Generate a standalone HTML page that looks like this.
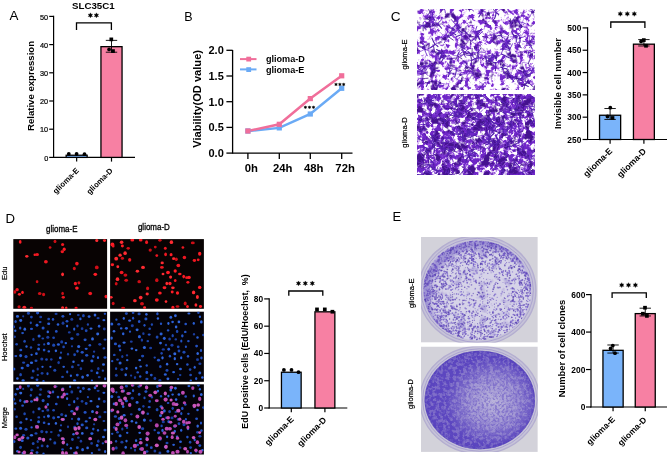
<!DOCTYPE html>
<html><head><meta charset="utf-8"><style>
html,body{margin:0;padding:0;background:#fff;}
body{width:669px;height:457px;position:relative;overflow:hidden;font-family:"Liberation Sans", sans-serif;}
</style></head><body>
<svg width="669" height="457" viewBox="0 0 669 457" style="position:absolute;left:0;top:0;will-change:transform" font-family='"Liberation Sans", sans-serif'>
<rect width="669" height="457" fill="#fff"/>
<defs>
<filter id="soft" x="-5%" y="-5%" width="110%" height="110%"><feGaussianBlur stdDeviation="0.35"/></filter>
<filter id="cvE" x="0" y="0" width="100%" height="100%" color-interpolation-filters="sRGB">
 <feTurbulence type="fractalNoise" baseFrequency="0.2" numOctaves="3" seed="5" result="n"/>
 <feColorMatrix in="n" type="matrix" values="0 0 0 0 0.78  0 0 0 0 0.56  0 0 0 0 0.95  7 0 0 0 -3.3" result="h"/>
 <feColorMatrix in="n" type="matrix" values="0 0 0 0 0.45  0 0 0 0 0.16  0 0 0 0 0.80  8 0 0 0 -4.4" result="p"/>
 <feTurbulence type="fractalNoise" baseFrequency="0.1" numOctaves="3" seed="9" result="n2"/>
 <feColorMatrix in="n2" type="matrix" values="0 0 0 0 0.28  0 0 0 0 0.07  0 0 0 0 0.58  7 0 0 0 -4.1" result="q"/>
 <feFlood flood-color="#ffffff" result="w"/>
 <feComposite in="h" in2="w" operator="over" result="hw"/>
 <feComposite in="p" in2="hw" operator="over" result="pw"/>
 <feComposite in="q" in2="pw" operator="over" result="all"/>
 <feGaussianBlur in="all" stdDeviation="0.3"/>
</filter>
<filter id="cvD" x="0" y="0" width="100%" height="100%" color-interpolation-filters="sRGB">
 <feTurbulence type="fractalNoise" baseFrequency="0.22" numOctaves="3" seed="15" result="n"/>
 <feColorMatrix in="n" type="matrix" values="0 0 0 0 0.76  0 0 0 0 0.54  0 0 0 0 0.94  7 0 0 0 -2.7" result="h"/>
 <feColorMatrix in="n" type="matrix" values="0 0 0 0 0.43  0 0 0 0 0.15  0 0 0 0 0.78  8 0 0 0 -3.6" result="p"/>
 <feTurbulence type="fractalNoise" baseFrequency="0.12" numOctaves="3" seed="19" result="n2"/>
 <feColorMatrix in="n2" type="matrix" values="0 0 0 0 0.27  0 0 0 0 0.07  0 0 0 0 0.56  7 0 0 0 -3.6" result="q"/>
 <feFlood flood-color="#ffffff" result="w"/>
 <feComposite in="h" in2="w" operator="over" result="hw"/>
 <feComposite in="p" in2="hw" operator="over" result="pw"/>
 <feComposite in="q" in2="pw" operator="over" result="all"/>
 <feGaussianBlur in="all" stdDeviation="0.3"/>
</filter>
<filter id="speck" x="0" y="0" width="100%" height="100%" color-interpolation-filters="sRGB">
 <feTurbulence type="fractalNoise" baseFrequency="0.5" numOctaves="2" seed="23" result="n"/>
 <feColorMatrix in="n" type="matrix" values="0 0 0 0 0.40  0 0 0 0 0.33  0 0 0 0 0.76  5 0 0 0 -2.55" result="s"/>
 <feGaussianBlur in="s" stdDeviation="0.4"/>
</filter>
<filter id="speck2" x="0" y="0" width="100%" height="100%" color-interpolation-filters="sRGB">
 <feTurbulence type="fractalNoise" baseFrequency="0.45" numOctaves="2" seed="29" result="n"/>
 <feColorMatrix in="n" type="matrix" values="0 0 0 0 0.38  0 0 0 0 0.30  0 0 0 0 0.76  5 0 0 0 -2.3" result="s"/>
 <feGaussianBlur in="s" stdDeviation="0.4"/>
</filter>
<filter id="mottleD" x="0" y="0" width="100%" height="100%" color-interpolation-filters="sRGB">
 <feTurbulence type="fractalNoise" baseFrequency="0.3" numOctaves="2" seed="41" result="n"/>
 <feColorMatrix in="n" type="matrix" values="0 0 0 0 0.76  0 0 0 0 0.74  0 0 0 0 0.86  6 0 0 0 -2.6" result="s"/>
 <feGaussianBlur in="s" stdDeviation="0.5"/>
</filter>
<filter id="mottleE" x="0" y="0" width="100%" height="100%" color-interpolation-filters="sRGB">
 <feTurbulence type="fractalNoise" baseFrequency="0.09" numOctaves="3" seed="43" result="n"/>
 <feColorMatrix in="n" type="matrix" values="0 0 0 0 0.42  0 0 0 0 0.34  0 0 0 0 0.76  5 0 0 0 -2.9" result="s"/>
 <feGaussianBlur in="s" stdDeviation="0.6"/>
</filter>
<radialGradient id="lightC" cx="55%" cy="50%" r="50%">
 <stop offset="0" stop-color="#c8c4e0" stop-opacity="0.85"/><stop offset="0.55" stop-color="#c0bade" stop-opacity="0.55"/><stop offset="1" stop-color="#b0a8d8" stop-opacity="0"/>
</radialGradient>
<filter id="blur1" x="-10%" y="-10%" width="120%" height="120%"><feGaussianBlur stdDeviation="2.5"/></filter>
<filter id="blur2" x="-20%" y="-20%" width="140%" height="140%"><feGaussianBlur stdDeviation="5"/></filter>
<radialGradient id="plE" cx="50%" cy="52%" r="50%">
 <stop offset="0" stop-color="#cfcbe2"/><stop offset="0.8" stop-color="#c4bfe0"/><stop offset="0.95" stop-color="#9e92d2"/><stop offset="1" stop-color="#7a6cc4"/>
</radialGradient>
<radialGradient id="plD" cx="55%" cy="48%" r="50%">
 <stop offset="0" stop-color="#b8b2dc"/><stop offset="0.55" stop-color="#a096d4"/><stop offset="1" stop-color="#6a5cc4"/>
</radialGradient>
</defs>
<text x="9.6" y="20.3" font-size="13.4" font-weight="normal" text-anchor="start" fill="#000">A</text>
<text x="93.3" y="9.1" font-size="9.7" font-weight="bold" text-anchor="middle" fill="#000">SLC35C1</text>
<line x1="53.6" y1="15.799999999999999" x2="53.6" y2="158.0" stroke="#000" stroke-width="1.2"/>
<line x1="53.0" y1="157.4" x2="135" y2="157.4" stroke="#000" stroke-width="1.2"/>
<line x1="49.2" y1="157.4" x2="53.6" y2="157.4" stroke="#000" stroke-width="1.2"/>
<text x="48.2" y="160.5" font-size="7.3" font-weight="normal" text-anchor="end" fill="#000" stroke="#000" stroke-width="0.2">0</text>
<line x1="49.2" y1="129.20000000000002" x2="53.6" y2="129.20000000000002" stroke="#000" stroke-width="1.2"/>
<text x="48.2" y="132.3" font-size="7.3" font-weight="normal" text-anchor="end" fill="#000" stroke="#000" stroke-width="0.2">10</text>
<line x1="49.2" y1="101.0" x2="53.6" y2="101.0" stroke="#000" stroke-width="1.2"/>
<text x="48.2" y="104.1" font-size="7.3" font-weight="normal" text-anchor="end" fill="#000" stroke="#000" stroke-width="0.2">20</text>
<line x1="49.2" y1="72.80000000000001" x2="53.6" y2="72.80000000000001" stroke="#000" stroke-width="1.2"/>
<text x="48.2" y="75.9" font-size="7.3" font-weight="normal" text-anchor="end" fill="#000" stroke="#000" stroke-width="0.2">30</text>
<line x1="49.2" y1="44.60000000000001" x2="53.6" y2="44.60000000000001" stroke="#000" stroke-width="1.2"/>
<text x="48.2" y="47.70000000000001" font-size="7.3" font-weight="normal" text-anchor="end" fill="#000" stroke="#000" stroke-width="0.2">40</text>
<line x1="49.2" y1="16.400000000000006" x2="53.6" y2="16.400000000000006" stroke="#000" stroke-width="1.2"/>
<text x="48.2" y="19.500000000000007" font-size="7.3" font-weight="normal" text-anchor="end" fill="#000" stroke="#000" stroke-width="0.2">50</text>
<rect x="66.15" y="155.23000000000002" width="20.999999999999996" height="2.1699999999999933" fill="#7ab4fa" stroke="#000" stroke-width="1.3"/>
<line x1="76.65" y1="157.4" x2="76.65" y2="161.6" stroke="#000" stroke-width="1.2"/>
<circle cx="68.8" cy="153.88" r="1.9" fill="#000"/>
<circle cx="76.6" cy="154.02" r="1.9" fill="#000"/>
<circle cx="84.5" cy="154.16" r="1.9" fill="#000"/>
<text x="79.4" y="171.0" font-size="7.8" font-weight="bold" text-anchor="end" fill="#000" transform="rotate(-45 79.4 171.0)">glioma-E</text>
<rect x="100.95" y="46.660000000000004" width="21.100000000000005" height="110.74" fill="#f780a3" stroke="#000" stroke-width="1.3"/>
<line x1="111.5" y1="157.4" x2="111.5" y2="161.6" stroke="#000" stroke-width="1.2"/>
<line x1="111.5" y1="52.21400000000001" x2="111.5" y2="40.37000000000002" stroke="#000" stroke-width="0.9"/>
<line x1="105.8" y1="52.21400000000001" x2="117.2" y2="52.21400000000001" stroke="#000" stroke-width="0.9"/>
<line x1="105.8" y1="40.37000000000002" x2="117.2" y2="40.37000000000002" stroke="#000" stroke-width="0.9"/>
<rect x="109.45" y="37.53" width="3.7" height="3.7" fill="#000"/>
<circle cx="109.1" cy="49.39" r="1.9" fill="#000"/>
<rect x="111.15" y="49.24" width="3.7" height="3.7" fill="#000"/>
<text x="113.3" y="171.2" font-size="7.8" font-weight="bold" text-anchor="end" fill="#000" transform="rotate(-45 113.3 171.2)">glioma-D</text>
<polyline points="76.5,30.0 76.5,22.8 111.4,22.8 111.4,30.0" fill="none" stroke="#000" stroke-width="1.3"/>
<polygon points="90.40,12.85 91.03,14.27 92.57,14.10 91.65,15.35 92.57,16.60 91.03,16.43 90.40,17.85 89.78,16.43 88.23,16.60 89.15,15.35 88.23,14.10 89.78,14.27" fill="#000" stroke="#000" stroke-width="0.35" stroke-linejoin="round"/>
<polygon points="96.40,12.85 97.03,14.27 98.57,14.10 97.65,15.35 98.57,16.60 97.03,16.43 96.40,17.85 95.78,16.43 94.23,16.60 95.15,15.35 94.23,14.10 95.78,14.27" fill="#000" stroke="#000" stroke-width="0.35" stroke-linejoin="round"/>
<text x="33.6" y="86.0" font-size="9.6" font-weight="bold" text-anchor="middle" fill="#000" transform="rotate(-90 33.6 86.0)">Relative expression</text>
<text x="184.3" y="21.3" font-size="12.5" font-weight="normal" text-anchor="start" fill="#000">B</text>
<line x1="232.6" y1="50.0" x2="232.6" y2="153.7" stroke="#000" stroke-width="1.3"/>
<line x1="232.6" y1="153.1" x2="352.5" y2="153.1" stroke="#000" stroke-width="1.3"/>
<line x1="226.4" y1="153.1" x2="232.6" y2="153.1" stroke="#000" stroke-width="1.3"/>
<text x="223.8" y="157.0" font-size="11.0" font-weight="bold" text-anchor="end" fill="#000">0.0</text>
<line x1="226.4" y1="127.39999999999999" x2="232.6" y2="127.39999999999999" stroke="#000" stroke-width="1.3"/>
<text x="223.8" y="131.29999999999998" font-size="11.0" font-weight="bold" text-anchor="end" fill="#000">0.5</text>
<line x1="226.4" y1="101.69999999999999" x2="232.6" y2="101.69999999999999" stroke="#000" stroke-width="1.3"/>
<text x="223.8" y="105.6" font-size="11.0" font-weight="bold" text-anchor="end" fill="#000">1.0</text>
<line x1="226.4" y1="76.0" x2="232.6" y2="76.0" stroke="#000" stroke-width="1.3"/>
<text x="223.8" y="79.9" font-size="11.0" font-weight="bold" text-anchor="end" fill="#000">1.5</text>
<line x1="226.4" y1="50.3" x2="232.6" y2="50.3" stroke="#000" stroke-width="1.3"/>
<text x="223.8" y="54.199999999999996" font-size="11.0" font-weight="bold" text-anchor="end" fill="#000">2.0</text>
<line x1="247.9" y1="153.1" x2="247.9" y2="159.1" stroke="#000" stroke-width="1.3"/>
<text x="251.3" y="171.7" font-size="11.3" font-weight="bold" text-anchor="middle" fill="#000">0h</text>
<line x1="279.3" y1="153.1" x2="279.3" y2="159.1" stroke="#000" stroke-width="1.3"/>
<text x="282.7" y="171.7" font-size="11.3" font-weight="bold" text-anchor="middle" fill="#000">24h</text>
<line x1="310.3" y1="153.1" x2="310.3" y2="159.1" stroke="#000" stroke-width="1.3"/>
<text x="313.7" y="171.7" font-size="11.3" font-weight="bold" text-anchor="middle" fill="#000">48h</text>
<line x1="341.7" y1="153.1" x2="341.7" y2="159.1" stroke="#000" stroke-width="1.3"/>
<text x="345.09999999999997" y="171.7" font-size="11.3" font-weight="bold" text-anchor="middle" fill="#000">72h</text>
<polyline points="247.9,131.0 279.3,127.9 310.3,114.0 341.7,88.3" fill="none" stroke="#6aaaf5" stroke-width="2.5"/>
<polyline points="247.9,131.0 279.3,124.3 310.3,98.6 341.7,75.8" fill="none" stroke="#f06e9a" stroke-width="2.5"/>
<rect x="245.3" y="128.4" width="5.2" height="5.2" fill="#6aaaf5"/>
<rect x="276.7" y="125.3" width="5.2" height="5.2" fill="#6aaaf5"/>
<rect x="307.7" y="111.4" width="5.2" height="5.2" fill="#6aaaf5"/>
<rect x="339.09999999999997" y="85.7" width="5.2" height="5.2" fill="#6aaaf5"/>
<rect x="245.3" y="128.4" width="5.2" height="5.2" fill="#f06e9a"/>
<rect x="276.7" y="121.7" width="5.2" height="5.2" fill="#f06e9a"/>
<rect x="307.7" y="96.0" width="5.2" height="5.2" fill="#f06e9a"/>
<rect x="339.09999999999997" y="73.2" width="5.2" height="5.2" fill="#f06e9a"/>
<polygon points="305.40,105.75 305.83,106.56 306.74,106.52 306.25,107.30 306.74,108.08 305.83,108.04 305.40,108.85 304.97,108.04 304.06,108.08 304.55,107.30 304.06,106.52 304.97,106.56" fill="#000" stroke="#000" stroke-width="0.35" stroke-linejoin="round"/>
<polygon points="309.50,105.75 309.93,106.56 310.84,106.52 310.35,107.30 310.84,108.08 309.93,108.04 309.50,108.85 309.07,108.04 308.16,108.08 308.65,107.30 308.16,106.52 309.07,106.56" fill="#000" stroke="#000" stroke-width="0.35" stroke-linejoin="round"/>
<polygon points="313.50,105.75 313.93,106.56 314.84,106.52 314.35,107.30 314.84,108.08 313.93,108.04 313.50,108.85 313.07,108.04 312.16,108.08 312.65,107.30 312.16,106.52 313.07,106.56" fill="#000" stroke="#000" stroke-width="0.35" stroke-linejoin="round"/>
<polygon points="336.00,82.85 336.43,83.66 337.34,83.62 336.85,84.40 337.34,85.18 336.43,85.14 336.00,85.95 335.57,85.14 334.66,85.18 335.15,84.40 334.66,83.62 335.57,83.66" fill="#000" stroke="#000" stroke-width="0.35" stroke-linejoin="round"/>
<polygon points="339.90,82.85 340.33,83.66 341.24,83.62 340.75,84.40 341.24,85.18 340.33,85.14 339.90,85.95 339.47,85.14 338.56,85.18 339.05,84.40 338.56,83.62 339.47,83.66" fill="#000" stroke="#000" stroke-width="0.35" stroke-linejoin="round"/>
<polygon points="343.70,82.85 344.13,83.66 345.04,83.62 344.55,84.40 345.04,85.18 344.13,85.14 343.70,85.95 343.27,85.14 342.36,85.18 342.85,84.40 342.36,83.62 343.27,83.66" fill="#000" stroke="#000" stroke-width="0.35" stroke-linejoin="round"/>
<line x1="240" y1="59.1" x2="256.5" y2="59.1" stroke="#f06e9a" stroke-width="2.0"/>
<rect x="246.3" y="56.7" width="4.8" height="4.8" fill="#f06e9a"/>
<line x1="240" y1="69.4" x2="256.5" y2="69.4" stroke="#6aaaf5" stroke-width="2.0"/>
<rect x="246.3" y="67.2" width="4.8" height="4.8" fill="#6aaaf5"/>
<text x="265.9" y="62.1" font-size="9.1" font-weight="bold" text-anchor="start" fill="#000">glioma-D</text>
<text x="265.9" y="72.6" font-size="9.1" font-weight="bold" text-anchor="start" fill="#000">glioma-E</text>
<text x="201.4" y="98.9" font-size="11.1" font-weight="bold" text-anchor="middle" fill="#000" transform="rotate(-90 201.4 98.9)">Viability(OD value)</text>
<text x="390.8" y="21.0" font-size="13.6" font-weight="normal" text-anchor="start" fill="#000">C</text>
<text x="407.3" y="54.5" font-size="7.6" font-weight="normal" text-anchor="middle" fill="#000" transform="rotate(-90 407.3 54.5)" stroke="#000" stroke-width="0.2">glioma-E</text>
<text x="407.3" y="132.5" font-size="7.6" font-weight="normal" text-anchor="middle" fill="#000" transform="rotate(-90 407.3 132.5)" stroke="#000" stroke-width="0.2">glioma-D</text>
<clipPath id="cc1"><rect x="417" y="9" width="117.5" height="81"/></clipPath>
<clipPath id="cc2"><rect x="417" y="94" width="117.5" height="81"/></clipPath>
<rect x="417" y="9" width="117.5" height="81" filter="url(#cvE)"/>
<g clip-path="url(#cc1)" filter="url(#soft)"><path d="M485.6 23.6Q483.4 23.3 482.0 23.7M505.5 42.6Q505.5 39.8 504.3 37.7M444.9 56.1Q448.5 57.9 451.5 58.9M432.8 67.7Q435.2 68.1 437.0 68.5M432.8 67.7Q431.2 71.0 430.6 73.0M535.7 41.2Q538.1 39.7 540.9 37.9M535.7 41.2Q533.7 41.1 532.1 41.7M435.0 44.3Q437.3 43.3 440.6 41.5M503.5 65.2Q504.2 63.3 504.4 62.0M448.0 36.4Q444.1 36.3 441.4 37.3M448.0 36.4Q446.4 34.2 445.5 31.7M475.6 47.9Q474.1 47.9 473.3 46.6M475.6 47.9Q478.4 46.4 481.5 44.5M485.6 36.8Q484.3 39.2 483.6 40.3M439.9 83.1Q439.5 82.0 439.6 80.3M439.9 83.1Q443.2 83.6 445.5 84.1M439.9 83.1Q440.5 84.7 442.6 86.4M532.6 12.0Q530.4 14.8 529.3 17.6M532.6 12.0Q531.1 11.5 528.8 10.8M532.6 12.0Q533.4 14.8 535.0 18.1M434.6 51.7Q436.8 54.1 438.0 57.9M434.6 51.7Q433.4 53.1 430.6 53.1M528.1 82.1Q526.9 81.8 525.1 81.0M437.2 24.0Q436.5 25.1 437.0 27.7M428.7 48.6Q428.7 52.3 429.7 55.1M458.1 28.5Q456.8 31.4 454.1 32.9M477.8 52.3Q479.4 52.9 480.1 55.0M477.8 52.3Q473.7 52.5 471.0 53.2M456.3 25.1Q457.4 23.3 458.6 20.6M504.5 73.1Q503.7 71.6 503.2 68.8M476.8 36.3Q478.4 36.6 479.1 38.1M476.8 36.3Q478.1 37.4 479.2 39.5M450.9 59.1Q449.3 56.7 448.2 55.8M450.9 59.1Q454.5 58.2 457.6 57.7M449.4 68.4Q447.0 68.1 445.4 66.9M492.5 55.6Q491.4 59.4 490.0 62.4M492.5 55.6Q490.7 54.2 489.7 52.6M492.5 55.6Q493.6 53.9 495.3 52.3M461.5 46.7Q462.3 48.9 461.6 50.2M461.5 46.7Q460.1 48.9 457.3 51.1M461.3 34.8Q461.4 30.7 460.8 27.4M461.3 34.8Q465.1 33.0 468.1 31.9M461.3 34.8Q461.6 37.6 462.2 39.8M518.4 78.7Q518.2 76.2 517.3 74.4M433.5 24.6Q431.2 22.3 429.2 20.0M433.5 24.6Q436.2 24.1 438.5 25.1M460.5 74.7Q459.2 76.5 456.8 79.1M431.0 20.1Q428.5 16.7 427.0 14.9M431.0 20.1Q433.2 17.2 436.4 15.5M431.0 20.1Q431.7 22.1 432.7 24.6M465.1 52.2Q464.2 50.9 462.7 49.6M465.1 52.2Q467.3 53.5 469.9 53.4M529.6 42.3Q529.4 38.6 529.7 35.4M496.0 57.7Q498.8 56.4 500.9 54.4M496.0 57.7Q492.6 59.6 490.7 60.0M496.0 57.7Q494.3 56.1 493.9 54.6M519.2 21.8Q520.1 19.6 520.4 18.9M519.2 21.8Q518.9 26.0 519.0 29.0M519.2 21.8Q516.9 22.0 515.4 21.0M483.2 84.3Q483.6 82.6 484.8 82.3M483.2 84.3Q481.1 82.8 479.4 81.7M429.7 17.6Q431.3 19.5 431.9 20.1M429.7 17.6Q428.1 17.2 427.1 16.7M472.7 73.1Q475.5 72.8 478.7 71.0M472.7 73.1Q471.4 75.7 469.5 79.1M514.0 36.3Q512.5 37.0 510.1 37.0M514.0 36.3Q516.7 35.0 519.7 33.4M493.0 55.8Q492.4 58.7 490.6 60.6M520.8 26.5Q523.4 26.0 525.1 27.1M475.5 31.8Q476.6 33.9 478.6 37.6M475.5 31.8Q472.3 33.1 470.2 34.7M469.5 8.6Q471.5 6.0 472.7 3.5M469.5 8.6Q469.1 10.0 469.4 11.2M469.5 8.6Q466.1 7.7 464.1 6.1M469.5 8.6Q468.7 6.8 468.4 4.1M510.7 23.7Q509.9 23.4 508.1 23.6M415.3 37.8Q415.0 34.5 415.1 32.0M449.1 72.8Q446.8 74.8 445.5 75.6M470.0 35.9Q468.8 37.8 468.6 40.6M470.0 35.9Q468.3 35.7 467.0 34.9M523.0 76.2Q520.3 73.4 519.0 70.0M523.0 76.2Q522.8 79.3 522.5 82.7M488.3 13.8Q489.2 12.4 488.8 10.8M478.8 57.8Q481.4 58.0 485.2 58.9M478.8 57.8Q477.5 56.8 474.7 54.3M422.8 78.8Q419.9 78.8 418.1 78.2M415.1 72.0Q413.1 70.3 411.4 69.0M415.1 72.0Q416.8 72.3 419.6 73.0M415.1 72.0Q414.0 75.4 413.7 77.4M525.6 72.1Q527.4 70.8 530.1 68.6M442.3 53.1Q443.1 51.4 442.6 50.4M506.5 40.6Q502.9 41.4 500.2 41.3M432.4 81.5Q432.2 78.0 432.8 74.5M432.4 81.5Q432.3 85.6 432.8 88.2M422.5 71.2Q422.4 73.5 423.2 74.2M520.0 37.9Q518.6 39.1 516.6 39.0M461.4 80.8Q458.1 81.9 455.7 83.4M461.4 80.8Q457.8 80.1 455.5 78.4M463.9 54.5Q461.4 55.3 458.2 56.7M466.6 63.6Q468.5 66.8 469.8 70.1M466.6 63.6Q466.2 67.0 464.4 68.9M478.0 91.4Q474.8 90.2 472.5 89.6M470.7 40.4Q471.9 42.4 474.4 43.4M494.0 34.1Q494.2 32.5 494.0 30.3M494.0 34.1Q497.0 32.5 498.8 31.5M494.0 34.1Q491.5 35.1 487.9 35.6M457.4 55.8Q454.8 56.1 452.0 54.8M482.1 10.8Q485.0 12.1 486.4 13.9M482.1 10.8Q484.1 10.6 486.0 11.9M504.3 43.9Q503.0 45.5 502.7 47.7M504.3 43.9Q502.1 45.2 500.6 47.1M504.3 43.9Q503.0 41.5 502.1 38.5M456.5 70.0Q455.3 68.7 454.2 66.5M424.5 49.3Q421.6 51.0 419.2 52.1M424.5 49.3Q426.6 49.7 428.3 50.5M453.1 29.3Q454.7 29.7 455.8 30.3" fill="none" stroke="#7a34d0" stroke-width="0.7" stroke-linecap="round"/>
<path d="M485.6 23.6Q483.7 21.2 482.6 19.9M485.6 23.6Q487.4 22.1 489.3 21.2M485.6 23.6Q485.4 26.2 484.0 29.1M444.9 56.1Q442.8 55.8 442.0 55.1M421.7 64.1Q424.5 66.1 425.7 67.0M421.7 64.1Q419.7 64.0 419.2 65.2M421.7 64.1Q424.1 62.2 427.4 59.8M503.5 65.2Q500.2 66.8 497.8 69.6M485.6 36.8Q484.0 33.7 481.2 31.4M485.6 36.8Q486.1 33.7 487.8 31.9M452.6 33.1Q450.9 35.2 449.4 36.4M452.6 33.1Q451.2 31.5 449.1 30.5M421.2 73.8Q422.6 75.2 423.5 75.9M428.7 48.6Q427.3 48.7 424.7 49.6M466.5 67.4Q467.1 65.0 466.8 61.1M471.4 60.4Q469.3 60.8 465.6 61.6M459.9 91.3Q458.4 90.4 457.0 88.8M477.8 52.3Q475.9 50.9 475.1 49.4M456.3 25.1Q455.1 28.8 454.8 31.8M531.8 70.7Q535.7 72.2 538.9 72.7M515.9 36.7Q514.5 37.4 513.0 37.5M504.5 73.1Q501.2 75.2 498.0 76.0M476.8 36.3Q474.6 37.2 471.0 36.9M516.0 77.7Q516.4 74.1 516.5 70.7M449.4 68.4Q447.8 68.5 446.9 69.9M533.1 68.6Q533.1 67.8 533.6 65.5M533.1 68.6Q536.6 69.2 539.7 70.5M492.5 55.6Q494.3 53.9 497.7 51.7M461.5 46.7Q458.4 45.9 455.4 43.9M461.5 46.7Q461.5 44.8 463.0 42.8M442.7 56.7Q441.2 55.8 438.8 53.6M518.4 78.7Q517.9 81.4 518.4 83.7M518.4 78.7Q520.3 76.2 521.9 72.5M433.5 24.6Q434.6 27.2 436.0 31.1M433.5 24.6Q434.9 23.0 436.7 19.9M460.5 74.7Q458.9 73.7 456.8 74.0M460.5 74.7Q460.0 70.9 459.8 68.2M431.0 20.1Q430.5 22.3 430.5 24.5M465.1 52.2Q463.5 54.4 461.3 56.5M531.3 55.0Q530.3 57.9 528.9 61.4M433.4 71.2Q433.7 73.1 434.6 74.2M421.4 74.2Q422.0 71.3 421.0 67.3M421.4 74.2Q421.1 77.9 421.8 81.6M421.4 74.2Q420.0 73.2 417.3 72.5M483.2 84.3Q484.6 85.7 484.6 86.6M472.3 55.4Q472.5 56.7 471.0 58.8M429.7 17.6Q433.1 17.0 436.5 17.4M429.7 17.6Q428.5 14.7 426.6 13.3M429.7 17.6Q432.2 15.7 434.2 14.0M514.0 36.3Q512.7 38.3 512.2 39.9M530.9 45.3Q533.9 44.6 537.9 43.9M520.8 26.5Q522.3 22.6 523.4 19.6M427.8 82.8Q429.3 80.1 431.6 78.1M430.3 12.2Q431.9 13.4 434.5 15.3M510.7 23.7Q511.1 25.7 512.6 27.6M510.7 23.7Q510.1 26.2 509.9 27.5M485.1 56.3Q483.4 56.2 481.0 57.0M485.1 56.3Q485.8 53.8 485.3 51.7M415.3 37.8Q416.2 38.8 418.0 40.6M506.5 56.5Q507.4 55.3 508.6 52.9M506.5 56.5Q505.5 59.5 504.1 61.4M470.0 35.9Q469.5 32.8 470.7 30.8M470.0 35.9Q471.9 37.7 475.0 40.2M443.0 35.0Q440.7 33.5 439.7 32.0M443.0 35.0Q445.2 33.5 448.7 32.4M443.0 35.0Q440.7 36.5 439.9 39.1M488.3 13.8Q485.4 12.5 482.8 10.1M488.3 13.8Q492.1 11.8 494.8 10.8M528.3 63.3Q525.6 62.8 521.9 62.3M442.3 53.1Q442.0 55.8 442.4 57.1M506.5 40.6Q505.1 38.8 502.9 37.5M432.4 81.5Q433.5 81.0 436.0 80.5M422.5 71.2Q423.6 68.5 425.6 65.8M422.5 71.2Q424.6 68.6 427.0 67.6M520.0 37.9Q522.3 35.3 523.7 32.2M526.5 75.1Q524.9 77.3 524.4 79.2M526.5 75.1Q524.5 76.5 521.2 76.3M526.5 75.1Q528.4 72.2 530.3 70.5M496.0 12.4Q498.5 11.2 502.2 8.5M496.0 12.4Q492.5 12.4 490.0 13.2M461.4 80.8Q463.3 80.6 466.7 80.2M466.6 63.6Q468.1 62.1 469.0 59.5M456.7 20.3Q454.8 20.9 453.4 21.8M478.0 91.4Q478.3 87.6 477.8 85.1M478.0 91.4Q478.0 94.6 476.5 98.1M470.7 40.4Q467.5 40.3 464.8 39.6M511.3 76.7Q512.9 75.3 513.9 74.6M494.0 34.1Q491.8 31.9 488.2 30.5M482.1 10.8Q480.3 10.4 478.6 10.8M482.1 10.8Q480.1 8.5 478.6 7.1M482.1 10.8Q483.2 9.9 484.8 9.0M442.6 52.8Q443.2 51.2 444.1 50.6M504.3 43.9Q502.5 41.6 499.3 38.7M456.5 70.0Q454.0 69.1 451.0 69.1M501.1 35.2Q504.1 36.7 507.6 37.3M501.1 35.2Q499.6 37.6 497.2 39.0M477.1 34.1Q475.8 34.3 473.3 34.0M506.8 68.9Q508.1 66.3 509.8 64.4M429.2 65.8Q430.5 64.8 432.0 64.3M424.5 49.3Q426.0 47.8 426.4 45.7" fill="none" stroke="#8a44d8" stroke-width="0.6" stroke-linecap="round"/>
<path d="M485.6 23.6Q486.9 23.6 488.3 24.5M505.5 42.6Q504.3 41.9 501.7 40.1M489.1 58.5Q489.4 57.2 488.8 55.1M519.1 46.0Q519.5 44.2 519.4 42.1M432.7 17.3Q430.1 17.6 426.9 18.3M432.8 67.7Q431.1 68.2 430.4 68.7M432.8 67.7Q432.1 65.6 431.4 65.0M432.8 67.7Q435.3 68.5 437.5 68.2M503.5 65.2Q502.9 63.1 501.9 61.0M448.0 36.4Q451.3 38.8 453.3 40.1M448.0 36.4Q449.0 33.2 451.3 31.2M485.6 36.8Q484.7 36.5 482.4 36.6M485.6 36.8Q486.3 36.6 488.0 37.5M532.6 12.0Q534.0 10.0 536.0 9.2M434.6 51.7Q434.1 47.9 433.1 44.7M434.6 51.7Q435.2 51.4 437.3 52.2M528.1 82.1Q529.7 83.8 532.4 86.5M528.1 82.1Q526.1 84.5 522.9 86.0M428.7 48.6Q429.3 45.5 429.3 43.2M458.1 28.5Q457.5 27.4 456.1 26.3M466.5 67.4Q469.2 67.4 471.2 68.5M466.5 67.4Q468.7 69.4 469.3 72.0M466.5 67.4Q465.6 68.3 465.4 70.3M471.4 60.4Q472.1 63.2 471.2 65.6M471.4 60.4Q471.9 59.1 470.8 56.7M459.9 91.3Q462.3 89.2 463.3 86.9M459.9 91.3Q462.8 92.1 465.7 93.6M477.8 52.3Q480.0 50.7 480.7 48.3M477.8 52.3Q478.0 54.6 476.8 57.8M509.5 49.0Q509.9 52.9 511.3 56.2M423.1 25.8Q422.8 28.5 423.2 30.8M515.9 36.7Q515.0 35.9 513.1 34.2M504.5 73.1Q506.4 71.4 508.5 69.7M476.8 36.3Q474.3 38.6 472.3 40.8M516.0 77.7Q518.7 79.4 521.9 80.7M516.0 77.7Q517.5 80.2 518.2 82.7M449.4 68.4Q451.6 67.8 452.3 68.4M437.8 54.1Q434.7 51.4 431.9 50.2M437.8 54.1Q438.3 53.2 440.3 52.7M442.7 56.7Q444.0 56.3 445.2 55.7M518.4 78.7Q514.5 77.5 511.3 77.6M444.1 8.3Q442.4 10.7 439.7 13.0M444.1 8.3Q443.4 4.6 442.5 2.4M431.0 20.1Q427.0 18.9 423.8 18.9M465.1 52.2Q464.3 53.7 464.7 55.4M529.6 42.3Q531.6 40.1 532.1 38.4M531.3 55.0Q532.7 53.7 533.0 52.8M421.4 74.2Q424.5 72.8 427.7 72.9M524.9 84.6Q522.5 84.7 518.7 83.8M524.9 84.6Q524.5 86.2 524.1 88.7M483.2 84.3Q481.4 86.7 478.7 89.5M472.3 55.4Q472.0 51.4 472.1 48.4M472.3 55.4Q474.2 54.5 476.0 53.8M429.7 17.6Q430.3 19.1 429.8 20.6M493.0 55.8Q495.1 56.1 498.4 55.0M530.9 45.3Q529.2 44.0 526.4 41.8M530.9 45.3Q530.2 43.8 530.0 41.0M520.8 26.5Q518.7 25.5 515.6 25.6M427.8 82.8Q426.6 82.4 425.1 82.4M430.3 12.2Q428.4 9.1 426.8 6.9M430.3 12.2Q429.1 13.3 427.6 15.1M510.7 23.7Q511.2 21.0 510.3 18.7M485.1 56.3Q484.3 58.1 482.1 60.0M415.3 37.8Q415.1 40.8 414.4 42.4M489.4 60.5Q487.8 60.2 485.8 61.2M489.4 60.5Q491.2 62.6 492.3 66.1M470.0 35.9Q473.1 36.3 476.8 38.1M523.0 76.2Q525.8 73.8 527.3 72.7M488.3 13.8Q487.0 15.0 486.5 17.7M488.3 13.8Q490.1 16.0 490.5 17.6M422.8 78.8Q422.9 74.7 423.1 71.6M422.8 78.8Q425.1 78.4 428.0 78.2M528.3 63.3Q529.3 60.8 531.3 57.8M528.3 63.3Q529.3 64.6 529.3 65.8M506.5 40.6Q507.5 37.9 508.7 34.8M506.5 40.6Q508.0 42.6 508.6 43.9M432.4 81.5Q434.7 81.6 435.8 82.6M432.4 81.5Q430.1 82.1 427.6 82.7M496.0 12.4Q494.8 10.7 493.3 9.5M424.6 66.7Q421.8 66.8 417.7 65.8M424.6 66.7Q425.4 69.8 424.8 72.9M461.4 80.8Q461.9 80.3 461.6 78.3M461.4 80.8Q460.4 82.8 460.6 83.7M463.9 54.5Q463.7 51.7 462.2 48.1M463.9 54.5Q465.8 53.9 468.1 53.2M470.7 40.4Q470.6 41.8 470.5 44.1M470.7 40.4Q468.8 39.0 467.4 37.2M511.3 76.7Q508.8 78.3 506.6 78.8M423.3 47.5Q426.2 45.6 427.7 44.4M423.3 47.5Q421.3 46.5 419.1 45.8M457.4 55.8Q459.3 57.4 462.0 58.9M457.4 55.8Q457.0 57.5 455.8 59.6M442.6 52.8Q441.4 50.7 441.5 49.2M504.3 43.9Q507.6 43.5 510.2 43.6M456.5 70.0Q458.5 69.9 461.2 70.7M501.1 35.2Q501.1 32.5 499.6 31.2M501.1 35.2Q502.3 33.7 503.9 30.7M528.9 52.4Q526.3 52.0 524.8 51.1M524.4 72.9Q521.1 71.5 517.9 69.8" fill="none" stroke="#40148c" stroke-width="0.8" stroke-linecap="round"/>
<g fill="#40148c"><circle cx="485.6" cy="23.6" r="0.9"/><circle cx="519.1" cy="46.0" r="1.5"/><circle cx="444.9" cy="56.1" r="1.5"/><circle cx="535.7" cy="41.2" r="1.0"/><circle cx="421.7" cy="64.1" r="1.8"/><circle cx="503.5" cy="65.2" r="1.5"/><circle cx="448.0" cy="36.4" r="1.0"/><circle cx="475.6" cy="47.9" r="1.6"/><circle cx="439.9" cy="83.1" r="1.4"/><circle cx="532.6" cy="12.0" r="1.5"/><circle cx="528.1" cy="82.1" r="1.5"/><circle cx="437.2" cy="24.0" r="1.1"/><circle cx="466.5" cy="67.4" r="1.3"/><circle cx="509.5" cy="49.0" r="1.0"/><circle cx="515.9" cy="36.7" r="1.7"/><circle cx="476.8" cy="36.3" r="1.3"/><circle cx="450.9" cy="59.1" r="1.7"/><circle cx="516.0" cy="77.7" r="1.6"/><circle cx="449.4" cy="68.4" r="1.0"/><circle cx="503.2" cy="49.0" r="1.2"/><circle cx="437.8" cy="54.1" r="1.6"/><circle cx="461.5" cy="46.7" r="0.9"/><circle cx="442.7" cy="56.7" r="1.6"/><circle cx="433.5" cy="24.6" r="1.5"/><circle cx="460.5" cy="74.7" r="1.2"/><circle cx="465.1" cy="52.2" r="0.9"/><circle cx="496.0" cy="57.7" r="1.2"/><circle cx="531.3" cy="55.0" r="1.8"/><circle cx="433.4" cy="71.2" r="1.7"/><circle cx="524.9" cy="84.6" r="1.3"/><circle cx="472.3" cy="55.4" r="0.9"/><circle cx="429.7" cy="17.6" r="1.2"/><circle cx="472.7" cy="73.1" r="1.1"/><circle cx="520.8" cy="26.5" r="1.8"/><circle cx="469.5" cy="8.6" r="1.8"/><circle cx="430.3" cy="12.2" r="0.9"/><circle cx="415.3" cy="37.8" r="1.0"/><circle cx="489.4" cy="60.5" r="1.6"/><circle cx="470.0" cy="35.9" r="1.3"/><circle cx="488.3" cy="13.8" r="1.7"/><circle cx="525.6" cy="72.1" r="0.9"/><circle cx="432.4" cy="81.5" r="1.0"/><circle cx="520.0" cy="37.9" r="1.2"/><circle cx="495.6" cy="63.1" r="1.0"/><circle cx="526.5" cy="75.1" r="1.5"/><circle cx="461.4" cy="80.8" r="1.0"/><circle cx="466.6" cy="63.6" r="0.9"/><circle cx="478.0" cy="91.4" r="1.2"/><circle cx="511.3" cy="76.7" r="1.3"/><circle cx="423.3" cy="47.5" r="1.6"/><circle cx="482.1" cy="10.8" r="1.3"/><circle cx="442.6" cy="52.8" r="1.5"/><circle cx="504.3" cy="43.9" r="1.1"/><circle cx="528.9" cy="52.4" r="0.9"/><circle cx="429.2" cy="65.8" r="1.2"/><circle cx="453.1" cy="29.3" r="1.5"/><circle cx="524.4" cy="72.9" r="1.1"/></g>
<path d="M505.5 42.6Q507.1 45.0 509.2 47.9M489.1 58.5Q491.8 58.1 495.7 56.3M489.1 58.5Q490.3 59.6 491.4 60.1M489.1 58.5Q489.0 59.9 488.3 61.8M489.1 58.5Q486.8 57.5 485.4 57.8M519.1 46.0Q519.5 46.6 521.1 47.6M432.7 17.3Q432.6 14.6 432.3 12.6M432.7 17.3Q433.7 18.8 434.9 20.3M444.9 56.1Q443.4 58.2 441.5 61.7M535.7 41.2Q533.1 38.3 531.9 36.7M535.7 41.2Q536.1 45.0 535.9 48.1M435.0 44.3Q436.9 45.3 438.0 46.6M435.0 44.3Q432.8 46.3 430.3 47.8M435.0 44.3Q433.4 41.9 431.9 38.0M503.5 65.2Q502.7 67.3 502.1 69.9M448.0 36.4Q450.5 35.6 452.7 34.8M439.9 83.1Q437.8 85.2 437.1 86.8M532.6 12.0Q532.2 9.5 530.4 6.8M532.6 12.0Q535.8 12.3 539.2 14.0M452.6 33.1Q454.5 34.0 455.8 34.8M434.6 51.7Q433.1 51.8 431.1 51.2M437.2 24.0Q439.6 25.3 441.6 28.2M421.2 73.8Q421.3 72.2 421.2 70.6M458.1 28.5Q459.8 28.4 461.0 26.8M458.1 28.5Q459.6 31.5 462.6 33.0M471.4 60.4Q473.8 59.0 477.7 57.9M459.9 91.3Q459.5 93.5 459.1 96.5M459.9 91.3Q457.5 94.0 454.3 95.2M509.5 49.0Q508.1 48.3 505.1 46.6M423.1 25.8Q426.1 25.1 427.9 24.9M423.1 25.8Q424.6 27.6 425.5 28.2M423.1 25.8Q421.4 25.5 418.9 24.8M456.3 25.1Q458.6 25.6 459.7 27.4M531.8 70.7Q530.5 70.6 528.6 69.6M531.8 70.7Q532.5 69.3 533.8 68.0M515.9 36.7Q516.5 39.1 516.2 42.3M476.8 36.3Q476.6 35.0 476.9 32.6M450.9 59.1Q450.7 60.0 451.8 62.5M503.2 49.0Q503.0 46.7 502.8 43.9M533.1 68.6Q536.7 66.8 539.0 66.2M492.5 55.6Q494.9 55.9 496.1 57.2M461.5 46.7Q462.8 47.5 465.0 49.1M461.3 34.8Q458.4 35.8 456.2 36.5M442.7 56.7Q440.4 57.9 439.6 59.8M518.4 78.7Q520.2 78.6 523.1 77.4M518.4 78.7Q518.9 81.0 519.8 84.5M433.5 24.6Q431.3 26.5 429.3 26.9M444.1 8.3Q445.7 6.1 446.6 3.2M529.6 42.3Q532.2 43.0 534.4 43.5M529.6 42.3Q528.9 44.0 529.7 45.5M529.6 42.3Q527.6 42.7 526.6 43.8M496.0 57.7Q496.8 56.0 496.3 53.3M496.0 57.7Q496.3 58.6 496.3 60.5M433.4 71.2Q432.0 69.0 430.9 67.5M524.9 84.6Q526.8 83.0 527.6 81.9M524.9 84.6Q527.0 85.9 528.3 86.5M472.3 55.4Q469.3 55.5 466.5 55.0M472.3 55.4Q469.7 53.2 467.9 51.5M514.0 36.3Q512.4 33.8 511.7 31.4M530.9 45.3Q530.9 47.6 532.2 48.8M520.8 26.5Q520.0 23.7 518.5 21.5M475.5 31.8Q478.8 31.1 481.0 30.3M427.8 82.8Q427.3 84.7 426.3 86.5M485.1 56.3Q486.4 59.4 487.0 63.2M415.3 37.8Q413.2 37.3 409.7 37.7M449.1 72.8Q447.8 72.1 446.6 72.0M449.1 72.8Q449.4 72.2 451.3 70.4M449.1 72.8Q452.2 72.8 455.1 74.3M449.1 72.8Q449.0 74.7 448.4 76.5M489.4 60.5Q491.7 57.7 492.6 54.1M506.5 56.5Q509.9 58.3 512.8 59.0M506.5 56.5Q503.5 54.6 501.5 54.1M470.0 35.9Q466.8 33.9 464.7 31.1M523.0 76.2Q521.6 77.7 520.0 80.1M478.8 57.8Q477.9 55.7 478.2 53.0M422.8 78.8Q421.3 81.4 421.2 83.4M525.6 72.1Q525.5 73.6 524.0 75.1M525.6 72.1Q524.5 71.3 524.0 69.3M442.3 53.1Q440.7 53.1 439.2 53.6M442.3 53.1Q438.9 50.6 436.6 49.5M506.5 40.6Q507.6 41.8 509.9 41.6M422.5 71.2Q420.2 69.9 418.4 68.8M520.0 37.9Q519.9 40.0 520.1 42.2M495.6 63.1Q495.9 67.0 495.4 70.6M495.6 63.1Q492.3 62.1 490.5 60.6M526.5 75.1Q528.2 76.2 529.1 76.2M526.5 75.1Q529.9 74.2 532.3 72.7M496.0 12.4Q497.9 13.0 498.6 14.9M496.0 12.4Q496.0 15.4 494.5 18.7M424.6 66.7Q428.3 66.5 430.4 65.2M424.6 66.7Q423.5 68.6 421.0 71.8M466.6 63.6Q465.1 62.1 463.1 60.6M456.7 20.3Q457.4 24.1 459.1 26.9M511.3 76.7Q512.7 79.7 513.8 81.6M423.3 47.5Q424.0 48.0 425.8 49.9M494.0 34.1Q494.3 36.1 495.3 37.4M457.4 55.8Q457.8 54.5 459.0 52.3M482.1 10.8Q480.6 14.6 478.8 17.0M442.6 52.8Q441.0 56.3 439.4 59.0M442.6 52.8Q440.1 52.5 438.1 52.6M504.3 43.9Q505.8 46.6 506.9 47.9M456.5 70.0Q455.9 73.2 454.7 77.2M501.1 35.2Q501.2 36.8 502.8 37.6M501.1 35.2Q499.0 35.1 497.3 35.9M477.1 34.1Q475.9 36.7 475.7 40.1M477.1 34.1Q478.5 33.6 479.8 32.0M477.1 34.1Q478.8 36.3 479.8 39.8M506.8 68.9Q503.6 68.6 500.8 67.3M506.8 68.9Q508.5 71.9 510.5 75.3M528.9 52.4Q529.8 52.7 531.5 51.8M429.2 65.8Q430.0 64.4 429.9 62.8M424.5 49.3Q425.0 47.4 424.2 45.1M453.1 29.3Q450.2 28.3 446.6 25.9" fill="none" stroke="#5420b0" stroke-width="1.1" stroke-linecap="round"/>
<path d="M505.5 42.6Q503.4 43.1 502.9 44.6M505.5 42.6Q507.2 40.4 510.5 39.5M505.5 42.6Q508.2 43.5 510.2 44.5M489.1 58.5Q488.2 57.0 485.7 56.5M519.1 46.0Q516.2 45.1 514.7 45.1M444.9 56.1Q444.2 53.6 444.2 50.4M444.9 56.1Q448.1 56.6 449.7 55.6M432.8 67.7Q434.2 64.8 435.7 63.1M503.5 65.2Q506.0 66.1 510.1 66.9M448.0 36.4Q446.6 40.0 444.4 42.7M475.6 47.9Q475.5 49.6 476.2 50.7M485.6 36.8Q486.4 37.9 486.6 39.4M439.9 83.1Q439.1 82.2 437.9 81.3M452.6 33.1Q451.6 31.7 451.3 30.4M452.6 33.1Q453.6 32.0 455.6 31.9M528.1 82.1Q529.8 81.0 531.3 80.0M437.2 24.0Q434.7 22.8 432.1 21.4M437.2 24.0Q440.2 21.1 442.6 18.7M421.2 73.8Q424.9 72.2 427.4 71.9M421.2 73.8Q418.1 73.9 414.5 73.7M428.7 48.6Q430.9 47.5 433.4 45.6M466.5 67.4Q466.4 65.7 465.1 65.4M459.9 91.3Q460.7 89.9 460.1 88.2M477.8 52.3Q480.8 51.6 484.9 52.3M509.5 49.0Q511.6 46.6 512.5 43.8M423.1 25.8Q420.8 25.9 418.8 27.4M423.1 25.8Q422.9 23.7 423.4 22.2M456.3 25.1Q453.4 22.5 451.4 19.6M456.3 25.1Q457.3 24.4 459.5 24.1M456.3 25.1Q453.9 27.2 451.1 28.0M531.8 70.7Q529.7 70.6 527.0 70.6M531.8 70.7Q535.5 70.1 538.3 70.7M531.8 70.7Q530.9 72.8 528.6 76.2M515.9 36.7Q517.8 35.7 520.7 35.0M504.5 73.1Q506.2 74.9 508.7 77.2M476.8 36.3Q480.4 34.2 482.6 31.5M450.9 59.1Q448.7 58.9 447.8 58.6M516.0 77.7Q514.3 77.4 512.0 75.6M516.0 77.7Q513.6 79.3 512.2 82.4M449.4 68.4Q448.8 65.5 447.5 62.9M449.4 68.4Q450.0 66.9 451.6 65.4M449.4 68.4Q450.0 71.5 449.7 74.4M503.2 49.0Q502.2 51.6 501.3 53.7M503.2 49.0Q506.1 49.2 509.9 50.7M437.8 54.1Q439.0 57.4 439.0 61.4M533.1 68.6Q531.5 66.9 530.0 65.8M533.1 68.6Q533.4 70.5 534.7 73.1M533.1 68.6Q532.1 71.6 530.2 75.1M492.5 55.6Q491.5 56.0 489.6 55.7M461.5 46.7Q463.0 46.3 464.6 46.3M461.3 34.8Q462.6 36.6 464.4 38.9M461.3 34.8Q458.7 32.9 457.7 30.3M442.7 56.7Q443.6 57.3 444.7 58.9M433.5 24.6Q432.7 21.3 431.3 19.4M444.1 8.3Q445.4 10.5 445.4 13.0M444.1 8.3Q446.0 7.1 449.2 7.5M460.5 74.7Q463.3 73.8 467.0 73.6M431.0 20.1Q432.0 16.9 432.5 13.9M465.1 52.2Q463.0 51.4 461.4 49.9M465.1 52.2Q466.5 51.8 467.0 50.1M529.6 42.3Q526.6 42.2 523.0 41.2M519.2 21.8Q523.1 22.2 525.5 23.7M531.3 55.0Q532.4 56.0 532.7 58.4M531.3 55.0Q530.5 53.7 528.9 51.6M433.4 71.2Q435.6 70.6 439.4 70.4M421.4 74.2Q419.7 75.1 417.7 75.1M472.3 55.4Q473.9 58.0 476.1 60.4M472.7 73.1Q474.1 74.1 475.4 76.0M472.7 73.1Q470.1 72.8 468.8 73.1M472.7 73.1Q470.9 71.4 469.9 70.6M472.7 73.1Q472.9 70.7 472.1 68.5M514.0 36.3Q516.3 36.0 517.6 36.9M493.0 55.8Q492.8 54.9 492.0 53.2M530.9 45.3Q528.4 44.5 526.3 45.1M530.9 45.3Q530.8 45.9 529.6 47.8M520.8 26.5Q520.7 29.2 519.7 30.7M475.5 31.8Q474.0 31.6 471.4 31.0M475.5 31.8Q475.4 29.6 476.9 26.3M469.5 8.6Q472.3 9.4 473.7 11.0M430.3 12.2Q432.9 10.7 434.2 8.1M430.3 12.2Q430.3 13.5 430.7 14.8M510.7 23.7Q513.1 20.8 514.5 17.6M485.1 56.3Q487.5 55.9 490.2 56.2M523.0 76.2Q522.0 75.6 520.2 74.6M523.0 76.2Q525.2 76.8 527.7 78.0M478.8 57.8Q478.9 59.2 478.3 60.6M478.8 57.8Q477.1 58.5 475.8 59.0M415.1 72.0Q417.8 70.5 420.9 68.8M442.3 53.1Q444.7 52.4 448.3 52.8M506.5 40.6Q506.8 42.0 506.1 44.2M422.5 71.2Q425.7 72.6 427.7 75.3M422.5 71.2Q419.6 71.4 416.9 71.7M520.0 37.9Q518.7 35.0 516.7 32.0M520.0 37.9Q523.3 37.3 525.9 36.0M495.6 63.1Q498.3 61.1 499.9 60.1M526.5 75.1Q524.9 73.3 524.6 72.3M496.0 12.4Q495.4 11.0 495.6 8.6M424.6 66.7Q426.1 64.7 426.4 63.0M463.9 54.5Q464.3 55.2 465.8 57.4M456.7 20.3Q456.1 18.2 456.8 16.2M478.0 91.4Q480.3 89.1 482.2 85.8M478.0 91.4Q479.1 93.1 481.5 95.9M470.7 40.4Q472.8 40.0 474.7 39.0M511.3 76.7Q510.7 74.9 511.1 72.4M457.4 55.8Q460.1 54.0 462.5 51.8M442.6 52.8Q444.4 53.1 447.4 53.2M442.6 52.8Q442.4 55.1 443.3 58.2M456.5 70.0Q457.3 68.0 459.3 66.3M477.1 34.1Q475.4 31.4 473.1 29.8M528.9 52.4Q527.6 54.8 527.8 56.9M429.2 65.8Q431.8 66.9 433.3 67.6M429.2 65.8Q426.7 68.4 425.7 70.8M429.2 65.8Q425.8 65.3 421.8 66.4M424.5 49.3Q422.0 47.1 418.0 46.3M424.5 49.3Q425.5 52.4 427.3 55.8M453.1 29.3Q454.2 27.6 454.9 25.0M453.1 29.3Q454.8 29.7 455.2 30.9M453.1 29.3Q452.1 31.4 450.3 34.5M524.4 72.9Q526.7 72.4 527.8 71.6M524.4 72.9Q523.5 73.5 522.3 75.4" fill="none" stroke="#6a28c8" stroke-width="0.9" stroke-linecap="round"/></g>
<rect x="417" y="94" width="117.5" height="81" filter="url(#cvD)"/>
<g clip-path="url(#cc2)" filter="url(#soft)"><path d="M507.8 146.8Q508.1 144.7 509.8 142.8M507.8 146.8Q507.4 149.5 507.9 152.5M507.8 146.8Q504.7 146.6 501.8 145.1M436.5 169.8Q434.5 167.0 433.4 164.9M462.6 156.8Q462.1 157.1 460.2 155.8M469.0 155.5Q466.5 155.5 463.1 156.4M443.5 148.6Q443.2 152.0 442.4 155.4M451.5 133.8Q455.5 133.2 458.4 133.0M460.2 113.8Q457.5 115.8 456.3 119.3M460.2 113.8Q457.4 113.5 454.9 112.7M430.3 116.2Q429.5 117.9 427.9 119.1M430.3 116.2Q432.0 117.8 432.8 119.1M457.1 106.0Q456.1 107.4 454.4 109.4M477.4 96.4Q477.9 98.9 477.2 100.6M426.3 142.2Q429.9 143.7 432.3 146.2M426.3 142.2Q427.8 140.1 428.0 137.9M512.0 113.9Q511.9 110.8 511.8 107.2M512.0 113.9Q514.7 114.6 517.4 114.8M512.0 113.9Q511.5 114.8 510.4 117.0M512.0 113.9Q508.5 116.1 505.2 116.8M494.5 152.4Q495.7 149.0 497.9 145.8M442.3 156.5Q445.8 155.3 447.8 153.9M442.3 156.5Q443.6 159.0 444.2 160.7M442.3 156.5Q440.4 153.9 437.1 152.7M448.8 141.9Q452.1 140.2 454.7 139.3M503.9 170.2Q503.6 166.4 504.5 163.6M503.9 170.2Q505.5 173.5 505.7 176.8M462.5 132.3Q463.7 132.0 466.3 132.5M519.8 149.3Q519.4 147.1 519.9 146.2M520.6 122.4Q520.9 121.1 522.4 120.5M522.2 172.2Q519.3 171.0 515.3 169.3M532.5 151.1Q530.6 153.8 530.0 158.0M532.5 151.1Q533.8 147.7 535.3 145.3M463.8 101.6Q464.8 100.0 467.0 97.1M439.1 115.2Q440.7 116.2 440.9 117.2M525.0 170.7Q525.8 169.4 525.4 167.7M525.0 170.7Q523.0 173.0 520.2 173.9M514.3 114.4Q516.7 118.0 518.1 120.5M423.4 124.3Q424.5 120.8 425.2 118.2M423.4 124.3Q422.6 126.8 421.5 129.2M481.2 95.6Q480.3 97.7 478.1 99.4M481.2 95.6Q481.1 93.1 480.3 91.5M535.1 118.9Q536.4 121.4 537.8 124.9M535.1 118.9Q531.3 117.1 528.7 116.2M491.4 128.8Q489.2 128.3 487.3 129.0M415.7 165.4Q416.0 169.5 417.2 172.4M415.7 165.4Q414.8 163.9 412.8 163.8M458.7 127.3Q460.4 124.6 462.2 122.2M458.7 127.3Q454.7 127.9 452.3 128.3M458.7 127.3Q458.4 124.1 457.1 122.4M519.6 132.2Q518.7 135.9 518.9 138.3M451.4 108.5Q453.5 104.9 454.3 102.0M463.0 94.5Q462.7 92.8 462.7 91.4M495.3 157.3Q497.6 157.8 498.7 159.6M447.9 161.8Q448.7 163.1 450.1 164.8M464.3 109.8Q466.6 107.1 468.9 104.9M521.8 140.8Q522.5 137.5 521.6 133.4M521.8 140.8Q523.7 141.2 524.8 142.7M531.8 171.5Q532.9 171.1 533.8 169.6M531.8 171.5Q535.6 172.6 538.6 172.6M432.5 138.3Q432.2 137.3 432.1 135.3M432.5 138.3Q436.1 136.4 438.6 134.6M433.4 163.0Q430.6 164.2 427.7 166.4M438.9 174.2Q438.9 171.3 440.0 167.1M491.0 145.4Q492.2 141.9 492.3 138.8M484.9 119.7Q484.5 118.5 485.7 116.9M484.9 119.7Q484.8 121.5 483.7 124.3M464.6 138.8Q465.2 137.6 466.1 136.5M464.6 138.8Q464.0 136.6 462.9 133.8M508.8 175.2Q512.0 176.6 514.2 177.4M461.7 95.4Q462.7 97.1 464.8 98.0M463.8 176.7Q463.3 174.2 462.5 171.8M504.9 153.9Q501.6 153.7 499.2 154.0M505.8 160.0Q508.9 161.5 512.3 163.0M420.1 150.4Q421.9 147.5 423.6 144.3M534.8 98.5Q538.6 97.8 540.9 98.7M496.0 166.3Q499.6 166.4 501.9 166.9M433.6 145.4Q435.3 148.2 437.9 150.3M433.6 145.4Q431.8 146.5 429.4 146.9M496.9 151.8Q498.7 149.9 501.0 147.5M496.9 151.8Q493.8 152.2 492.2 152.5M437.6 92.1Q438.4 89.2 437.6 86.4M534.2 119.8Q533.4 120.8 531.1 122.8M534.2 119.8Q533.1 117.8 533.4 116.4M534.9 124.8Q533.5 125.9 533.7 127.3M455.5 114.6Q456.7 117.9 457.0 120.2M430.6 114.7Q435.0 114.8 437.8 114.1M430.6 114.7Q426.9 115.5 424.1 117.1M416.7 161.7Q414.4 163.7 412.3 165.9M416.7 161.7Q415.6 160.2 415.1 158.9M506.3 103.9Q508.6 103.4 510.9 103.4M528.1 106.1Q530.2 102.7 532.2 100.1M429.6 104.4Q432.7 102.9 435.3 100.4M451.6 175.6Q448.1 176.7 444.7 176.4M451.6 175.6Q452.5 174.6 453.3 172.0M493.3 125.9Q493.4 123.4 494.9 122.2M493.3 125.9Q493.6 129.4 493.6 132.7M474.0 118.4Q471.5 115.7 470.6 114.1M510.8 122.3Q509.1 119.8 508.0 118.2M423.8 173.7Q423.2 177.6 424.2 180.8M483.3 122.5Q482.2 123.9 480.4 124.8M483.3 122.5Q481.9 119.6 481.0 118.2M432.2 98.3Q435.2 99.6 438.8 100.4M432.2 98.3Q429.1 99.2 426.3 99.3M432.2 98.3Q432.9 96.5 434.7 94.6M472.3 124.6Q472.5 125.4 471.7 127.8M472.3 124.6Q470.3 126.4 468.4 126.8M472.3 124.6Q472.8 122.0 473.6 121.0M472.3 124.6Q475.7 126.6 478.6 128.0M483.1 138.4Q485.1 140.3 485.8 142.8M483.1 138.4Q480.5 137.2 477.9 136.1M505.8 114.2Q507.6 114.8 509.9 116.3M502.6 123.9Q499.6 124.6 497.8 126.7M498.2 140.7Q500.6 143.3 503.6 144.7M479.9 127.5Q482.2 125.9 482.9 123.8M479.9 127.5Q480.0 130.2 480.8 132.1M490.2 127.5Q488.9 125.8 486.4 124.4M423.0 163.2Q421.2 163.5 418.9 165.3M442.6 138.3Q440.9 136.0 439.8 134.6M442.6 138.3Q440.0 139.9 438.4 140.6M480.6 147.2Q482.6 144.4 483.9 142.5M535.5 119.1Q532.8 115.8 530.9 113.8M535.6 171.5Q536.7 172.5 537.3 174.3M535.6 171.5Q537.0 170.2 538.7 168.6M516.3 96.1Q519.3 93.0 521.1 91.0M516.3 96.1Q514.4 94.8 513.3 94.9M427.2 148.4Q429.8 148.9 431.0 150.3M427.2 148.4Q426.9 150.4 426.5 150.9M519.7 105.2Q519.4 104.5 517.8 103.3M519.7 105.2Q522.3 103.5 524.0 101.0M519.7 105.2Q519.7 107.2 520.7 109.4M458.5 108.5Q461.6 106.3 464.1 105.4M501.8 123.6Q500.3 126.2 500.4 129.6M428.0 168.6Q427.3 165.9 427.1 162.3M518.3 104.6Q516.8 103.0 516.4 102.9M518.3 104.6Q515.7 106.6 513.6 107.7M429.1 101.4Q428.0 102.6 425.8 102.6M470.2 176.8Q471.6 176.1 474.4 174.4M418.9 138.7Q419.4 140.2 419.5 141.3M463.7 102.7Q464.3 104.5 466.4 107.3M463.7 102.7Q465.6 99.8 466.5 97.6M476.4 143.2Q476.3 146.6 477.5 149.4M499.3 132.7Q499.8 133.7 500.3 135.4M505.6 132.9Q503.7 132.0 502.6 131.7M456.4 105.3Q453.6 105.4 452.0 106.0M518.9 142.1Q521.7 142.6 523.9 141.6M518.9 142.1Q518.8 143.8 519.7 144.8M518.9 142.1Q516.9 140.0 515.1 138.4M489.1 101.6Q491.6 101.8 493.6 101.6M489.1 101.6Q490.4 103.8 491.3 104.9M489.1 101.6Q486.1 101.0 483.8 101.5M531.5 109.4Q531.3 106.4 530.1 103.2M528.8 158.3Q532.0 161.6 534.1 163.4M528.8 158.3Q528.9 160.0 529.7 160.8M471.4 151.1Q469.9 149.5 467.7 146.7M463.4 140.3Q465.4 139.2 466.3 139.3M473.5 143.5Q470.7 141.4 467.8 138.9M448.2 166.7Q447.2 164.8 446.5 161.4M507.5 142.7Q504.3 143.5 501.7 144.6M507.5 142.7Q507.0 141.6 507.7 139.2M428.8 171.9Q425.1 173.0 422.5 174.3M428.8 171.9Q426.6 170.6 424.7 168.8M515.4 94.8Q512.8 92.9 510.0 92.6M475.0 94.6Q478.3 94.1 481.5 95.0M466.2 152.7Q466.3 151.4 464.9 149.7M448.3 170.3Q446.7 168.2 444.9 167.8M432.9 155.5Q433.7 156.3 434.4 158.6M436.5 107.0Q433.1 107.0 431.2 106.8M454.7 143.8Q454.5 141.7 454.9 139.5M478.4 113.7Q476.8 115.8 474.9 117.2M498.9 141.7Q497.0 141.4 495.2 141.2M515.6 110.7Q516.8 108.1 517.2 106.8M441.9 119.8Q440.7 121.3 438.1 122.6M441.9 119.8Q441.5 116.8 442.3 113.6M511.7 123.1Q508.5 122.4 504.6 122.8M511.7 123.1Q512.5 121.3 514.7 120.5M468.0 130.0Q467.9 128.4 466.4 125.9M519.3 114.0Q516.1 114.6 513.6 116.6M519.3 114.0Q518.9 112.0 519.4 109.0M530.0 175.0Q531.7 176.9 532.4 178.4M530.0 175.0Q527.9 174.1 524.7 172.5M459.8 134.3Q460.9 136.1 461.2 137.9M517.4 99.3Q515.4 99.2 513.9 98.7M517.4 99.3Q515.7 99.2 514.7 98.3M517.4 99.3Q520.6 97.7 523.1 94.9M426.6 118.4Q425.4 117.7 424.6 115.6M426.6 118.4Q427.1 116.3 428.4 113.9" fill="none" stroke="#8a44d8" stroke-width="0.6" stroke-linecap="round"/>
<path d="M507.8 146.8Q509.8 146.3 512.8 145.7M443.5 148.6Q442.0 148.1 440.2 147.5M451.5 133.8Q451.2 132.4 449.4 130.2M439.8 114.3Q440.1 110.9 441.3 108.5M519.3 167.0Q519.6 166.0 521.3 165.0M457.1 106.0Q458.8 107.7 461.9 110.8M529.7 112.4Q528.8 115.0 527.5 118.5M529.7 112.4Q530.4 111.7 531.6 109.4M463.7 100.6Q462.6 102.4 463.1 103.2M463.7 100.6Q460.9 100.5 458.8 100.5M477.4 96.4Q476.3 94.6 474.8 93.1M426.3 142.2Q424.3 142.4 422.3 142.3M512.0 113.9Q512.6 115.4 513.3 116.9M494.5 152.4Q497.2 155.0 499.2 158.2M448.8 141.9Q447.2 144.8 446.2 146.9M448.8 141.9Q448.6 140.7 447.9 139.2M503.9 170.2Q501.8 166.8 499.8 164.6M464.9 167.9Q463.4 170.8 461.0 173.6M464.9 167.9Q463.2 167.0 462.0 166.7M519.8 149.3Q516.3 149.4 514.0 150.4M507.5 130.2Q507.1 132.4 507.0 135.5M507.5 130.2Q504.4 129.4 501.5 129.3M520.6 122.4Q519.2 121.3 516.3 119.9M505.1 103.3Q502.6 104.9 499.1 105.1M505.1 103.3Q507.0 103.4 509.0 104.7M522.2 172.2Q523.9 171.3 527.0 170.8M502.9 117.7Q504.1 115.6 505.6 114.1M489.7 138.4Q488.5 140.8 487.8 141.8M463.8 101.6Q465.0 102.4 466.7 103.3M463.8 101.6Q461.7 102.1 459.9 101.9M525.0 170.7Q527.1 171.1 528.5 170.2M514.3 114.4Q512.1 116.8 511.0 117.8M535.1 118.9Q533.9 120.7 532.5 122.0M491.4 128.8Q492.9 127.2 493.9 127.2M415.7 165.4Q417.5 164.4 418.0 162.0M415.7 165.4Q417.5 165.7 418.2 166.7M437.8 171.4Q438.4 170.2 437.6 167.6M476.5 95.5Q476.7 98.3 477.9 101.3M458.7 127.3Q460.3 128.2 462.9 128.5M519.6 132.2Q520.7 131.6 522.6 131.3M451.4 108.5Q447.0 109.0 444.2 108.2M470.4 137.3Q468.1 137.3 464.7 135.9M463.0 94.5Q459.5 95.6 457.6 98.2M495.3 157.3Q495.4 154.7 496.0 153.2M452.2 133.0Q453.2 134.3 454.3 135.7M452.2 133.0Q450.7 132.2 449.5 129.9M447.9 161.8Q446.6 162.2 444.8 161.3M464.3 109.8Q461.5 111.7 457.8 112.9M464.3 109.8Q463.2 107.1 461.6 105.0M521.8 140.8Q518.2 140.7 515.4 141.7M531.8 171.5Q529.4 168.8 527.9 165.3M432.5 138.3Q433.4 139.6 435.3 140.3M432.5 138.3Q430.7 138.1 429.1 136.4M522.4 100.1Q523.6 97.7 526.0 96.8M433.4 163.0Q433.6 165.5 434.7 169.0M438.9 174.2Q440.6 173.8 441.5 174.7M438.9 174.2Q437.7 176.1 435.1 177.3M491.0 145.4Q490.4 142.6 489.1 140.0M491.0 145.4Q490.5 146.7 488.8 148.9M498.6 118.5Q500.7 117.7 502.4 116.2M464.6 138.8Q466.6 140.3 467.4 140.4M502.4 171.3Q501.0 174.7 500.5 178.0M505.2 108.8Q502.3 110.9 498.7 112.5M505.2 108.8Q507.4 105.6 508.5 102.1M505.2 108.8Q507.9 109.3 511.3 110.8M461.7 95.4Q460.5 92.7 460.1 88.8M461.7 95.4Q464.2 93.6 465.7 93.2M461.7 95.4Q458.4 93.8 456.6 92.7M463.8 176.7Q465.5 178.0 466.2 179.6M508.0 127.0Q505.1 126.9 501.6 125.9M485.5 125.7Q484.1 123.6 483.7 120.1M496.0 166.3Q493.7 168.5 492.6 169.6M451.9 146.8Q453.6 148.4 454.2 150.0M451.9 146.8Q452.0 145.2 452.1 142.8M504.6 97.2Q502.6 94.5 501.8 91.1M504.6 97.2Q507.8 97.2 510.3 98.3M504.6 97.2Q504.4 100.8 505.3 104.3M504.6 97.2Q501.5 99.1 498.1 100.3M507.7 107.5Q509.9 107.6 512.1 109.3M507.7 107.5Q504.6 105.9 501.8 105.8M534.2 119.8Q536.1 118.0 538.6 115.0M534.2 119.8Q535.6 121.0 536.9 120.9M534.9 124.8Q532.2 125.3 529.1 126.3M534.9 124.8Q533.3 124.3 533.1 122.8M430.6 114.7Q431.5 117.1 433.8 121.0M416.7 161.7Q419.4 159.5 421.3 158.3M506.3 103.9Q507.2 106.7 509.7 108.6M506.3 103.9Q505.3 105.2 503.4 106.0M528.1 106.1Q527.9 108.2 527.7 109.2M444.5 123.4Q441.9 123.0 438.7 124.2M429.6 104.4Q430.7 105.6 431.5 107.8M429.6 104.4Q429.0 107.0 427.6 109.1M417.8 101.9Q420.5 102.8 422.5 103.7M470.5 108.8Q473.1 108.5 475.5 108.8M470.5 108.8Q470.3 109.2 471.7 111.2M474.0 118.4Q470.5 118.2 466.8 117.5M510.8 122.3Q509.7 125.3 509.5 128.0M529.6 159.2Q528.4 158.6 526.1 158.7M529.6 159.2Q528.6 157.1 528.3 154.5M423.8 173.7Q424.9 173.0 426.4 171.2M423.8 173.7Q427.1 174.3 429.9 173.4M423.8 173.7Q421.4 175.2 417.6 177.8M449.5 150.7Q449.7 149.5 449.0 147.2M449.5 150.7Q452.6 150.7 456.7 152.0M514.4 99.5Q513.8 100.3 512.6 102.5M483.1 138.4Q483.4 135.6 484.3 134.2M449.4 101.5Q448.7 103.7 447.6 104.5M449.4 101.5Q452.8 102.3 455.8 101.5M449.4 101.5Q450.6 104.1 452.1 106.5M450.6 115.2Q453.6 115.2 457.5 116.6M450.6 115.2Q448.1 117.9 445.3 119.7M502.6 123.9Q504.1 121.0 506.7 118.6M479.9 127.5Q476.7 128.2 474.6 127.5M451.3 103.4Q453.0 103.7 454.0 105.2M490.2 127.5Q489.3 129.0 486.7 130.6M456.8 176.7Q454.1 174.4 451.7 172.8M498.5 141.7Q500.9 141.7 502.0 142.3M514.4 164.4Q511.8 163.0 508.2 162.9M423.0 163.2Q425.2 163.6 426.3 162.5M423.0 163.2Q423.8 165.9 423.2 167.3M433.6 146.7Q437.0 143.6 439.0 141.4M433.6 146.7Q434.9 148.0 436.6 149.9M535.6 171.5Q534.1 169.8 532.4 169.4M516.3 96.1Q517.9 98.0 519.6 98.9M516.3 96.1Q516.6 99.5 515.9 101.9M468.4 176.5Q469.1 174.9 469.0 172.3M458.5 108.5Q456.4 109.7 454.6 110.1M518.3 104.6Q517.5 102.2 516.0 98.2M518.3 104.6Q520.3 104.4 520.8 104.1M480.9 104.5Q481.6 105.3 482.0 107.3M470.2 176.8Q467.5 174.6 466.1 173.7M463.7 102.7Q461.2 103.6 458.6 105.7M476.4 143.2Q478.4 140.9 479.2 137.7M499.3 132.7Q495.5 131.4 492.7 130.1M499.3 132.7Q499.9 131.7 502.1 130.5M456.4 105.3Q454.8 107.3 454.3 109.5M531.5 109.4Q529.7 107.7 529.5 105.5M422.3 156.4Q424.0 154.5 426.7 153.1M422.3 156.4Q421.0 157.2 421.0 158.5M422.3 156.4Q420.8 156.5 419.7 155.4M528.8 158.3Q527.3 155.3 525.7 151.8M471.4 151.1Q472.6 153.2 474.6 156.2M473.5 143.5Q471.2 144.2 469.6 143.7M473.5 143.5Q472.5 139.9 472.9 137.5M507.5 142.7Q511.4 141.0 514.5 141.0M502.4 128.3Q505.7 128.0 507.8 126.4M428.8 171.9Q428.2 173.4 429.1 174.7M515.4 94.8Q518.0 94.2 520.2 93.2M425.8 151.4Q426.1 150.7 426.5 148.5M492.2 121.9Q490.5 123.1 490.4 125.3M492.2 121.9Q493.2 123.4 494.6 125.3M475.0 94.6Q471.8 92.9 468.1 91.7M466.2 152.7Q467.4 151.8 469.9 151.1M489.1 137.2Q491.6 135.6 494.7 132.9M489.1 137.2Q491.2 138.3 494.4 139.9M489.5 120.6Q488.5 124.1 486.6 127.3M469.1 155.1Q471.5 154.1 474.8 151.7M469.1 155.1Q469.1 157.0 470.5 159.9M448.3 170.3Q451.3 168.1 453.9 167.5M487.0 142.1Q485.4 142.9 483.5 144.0M487.0 142.1Q488.7 141.5 491.8 141.4M432.9 155.5Q435.3 154.9 437.3 152.9M432.9 155.5Q430.5 156.2 428.6 155.6M436.5 107.0Q434.8 104.0 432.0 102.4M436.5 107.0Q437.4 105.2 439.7 103.6M454.7 143.8Q457.4 142.8 460.2 142.8M478.4 113.7Q475.5 110.9 473.4 109.0M499.0 125.3Q500.6 123.0 502.7 119.6M496.2 100.8Q495.7 99.0 494.8 97.1M518.1 124.0Q515.6 121.5 514.4 119.1M498.9 141.7Q497.9 143.7 496.8 145.3M534.0 137.1Q536.1 136.3 539.2 136.6M468.0 130.0Q466.2 130.6 465.3 129.5M519.3 114.0Q520.8 114.8 523.5 115.6M517.4 99.3Q518.6 98.1 518.7 96.9M517.4 99.3Q519.1 100.8 520.4 100.8M454.4 150.4Q451.3 149.4 447.6 148.9M426.6 118.4Q428.1 122.0 431.1 124.1M520.0 117.7Q521.0 118.1 522.6 118.1M428.8 164.6Q428.8 161.5 428.4 157.3M428.8 164.6Q429.5 164.3 431.4 163.8" fill="none" stroke="#40148c" stroke-width="0.8" stroke-linecap="round"/>
<path d="M507.8 146.8Q507.2 149.4 505.9 151.2M507.8 146.8Q507.8 146.2 506.5 144.4M462.6 156.8Q464.1 159.2 465.7 161.7M469.0 155.5Q471.0 154.1 474.2 154.3M443.5 148.6Q444.8 147.9 446.2 146.3M460.2 113.8Q461.2 111.4 460.9 110.6M430.3 116.2Q432.1 114.9 434.3 112.9M461.4 115.1Q459.3 115.1 458.0 113.6M439.8 114.3Q437.3 116.8 435.0 119.2M519.3 167.0Q517.4 167.3 516.8 168.0M529.7 112.4Q530.5 113.6 531.8 113.8M463.7 100.6Q465.4 98.9 467.1 97.3M463.7 100.6Q467.5 102.2 470.5 102.8M512.0 113.9Q513.5 113.5 514.3 112.1M494.5 152.4Q498.1 152.8 500.8 151.7M448.8 141.9Q447.2 140.2 445.1 137.1M503.9 170.2Q505.4 170.4 507.6 170.1M503.9 170.2Q501.6 170.7 499.7 172.8M464.9 167.9Q466.8 165.8 467.8 163.4M519.8 149.3Q522.5 150.3 524.5 149.9M519.8 149.3Q521.3 152.2 523.5 154.5M507.5 130.2Q509.8 128.0 511.3 127.0M520.6 122.4Q520.6 124.9 521.0 126.0M505.1 103.3Q505.4 102.4 507.0 100.0M502.9 117.7Q502.7 116.0 501.5 115.5M489.7 138.4Q487.7 135.3 485.9 132.9M419.7 130.9Q420.0 132.9 421.0 135.3M439.1 115.2Q436.2 115.5 432.9 117.1M439.1 115.2Q440.3 111.7 441.4 108.3M525.0 170.7Q526.1 172.8 526.3 174.6M525.0 170.7Q524.1 167.6 523.7 163.6M514.3 114.4Q510.3 114.1 507.7 112.4M514.3 114.4Q515.8 113.3 516.0 112.0M423.4 124.3Q420.5 124.7 416.7 124.9M481.2 95.6Q483.0 95.8 484.9 95.4M481.2 95.6Q478.1 95.5 475.8 96.5M451.4 108.5Q450.8 108.5 449.3 107.0M451.4 108.5Q452.7 108.1 455.6 108.8M451.4 108.5Q453.3 111.8 454.0 114.4M463.0 94.5Q465.8 92.9 467.9 92.7M452.2 133.0Q450.1 135.5 446.7 137.7M450.7 156.5Q453.6 157.4 455.6 156.9M450.7 156.5Q452.7 158.4 453.2 161.4M450.7 156.5Q449.9 154.8 449.3 153.1M522.4 100.1Q522.6 101.7 522.5 103.1M522.4 100.1Q522.0 98.6 520.2 98.4M433.4 163.0Q435.1 163.1 437.6 163.1M438.9 174.2Q440.5 175.2 440.7 176.5M498.6 118.5Q498.2 119.8 498.9 121.2M484.9 119.7Q484.3 118.7 483.9 116.5M484.9 119.7Q486.5 120.8 488.7 120.8M484.9 119.7Q484.0 119.5 481.9 120.8M464.6 138.8Q463.7 140.2 464.5 141.5M470.1 116.5Q470.0 115.5 470.3 113.9M470.1 116.5Q473.1 117.8 476.7 119.4M505.2 108.8Q504.2 111.2 504.2 113.6M505.2 108.8Q504.2 106.7 503.0 106.2M461.7 95.4Q461.0 97.5 460.5 98.1M416.1 94.3Q418.3 93.7 419.8 93.2M463.8 176.7Q462.5 179.3 460.0 181.4M505.8 160.0Q505.9 157.3 505.8 155.8M508.0 127.0Q507.8 123.9 508.4 122.0M534.8 98.5Q533.4 102.3 532.1 104.9M485.5 125.7Q486.6 126.8 488.6 128.3M433.6 145.4Q434.2 143.3 433.5 141.7M451.9 146.8Q454.3 147.9 456.3 147.5M451.9 146.8Q448.3 146.3 445.3 145.7M507.7 107.5Q506.6 108.7 506.8 111.0M534.2 119.8Q533.9 122.8 533.3 126.9M534.9 124.8Q535.9 124.3 537.5 124.9M455.5 114.6Q457.1 112.7 459.2 110.6M455.5 114.6Q452.3 113.7 448.7 111.8M506.3 103.9Q502.7 102.1 500.3 100.8M528.1 106.1Q530.4 106.4 533.9 106.7M444.5 123.4Q444.6 125.3 446.2 126.8M531.1 155.7Q532.4 153.2 534.5 150.4M531.1 155.7Q535.2 155.8 538.4 155.8M531.1 155.7Q528.8 158.6 527.1 161.0M531.1 155.7Q529.6 154.8 526.8 153.4M451.6 175.6Q451.6 177.9 453.0 178.8M493.3 125.9Q491.4 123.7 490.9 122.8M493.3 125.9Q491.7 124.6 489.2 123.3M474.0 118.4Q472.0 120.2 470.8 120.9M529.6 159.2Q529.5 162.1 527.7 163.5M432.2 98.3Q430.2 97.8 428.9 96.1M449.3 150.4Q449.4 148.6 448.1 146.1M514.4 99.5Q512.7 97.1 509.8 96.4M472.3 124.6Q470.2 124.3 467.0 122.9M505.8 114.2Q505.7 116.9 506.8 120.1M505.8 114.2Q505.3 111.8 505.3 108.7M449.4 101.5Q447.3 100.7 443.6 99.4M450.6 115.2Q451.6 113.7 453.5 111.5M468.5 152.9Q469.4 152.2 468.9 150.1M468.5 152.9Q469.8 154.1 472.4 154.1M458.7 111.5Q457.1 111.5 454.1 111.2M458.7 111.5Q459.3 109.4 461.5 107.5M498.2 140.7Q497.5 142.3 496.5 143.6M498.2 140.7Q500.4 137.4 501.8 135.5M451.3 103.4Q453.6 101.9 455.8 99.7M490.2 127.5Q490.3 125.3 490.3 124.8M490.2 127.5Q491.5 124.5 493.9 122.7M490.2 127.5Q492.4 126.7 493.7 127.3M456.8 176.7Q456.2 177.9 456.8 179.4M423.0 163.2Q422.2 161.8 421.5 160.8M469.6 130.1Q467.9 127.7 465.3 126.4M469.6 130.1Q471.2 128.6 474.5 126.1M442.6 138.3Q445.9 138.4 449.1 138.5M425.2 103.6Q424.9 105.3 424.6 106.1M420.5 119.6Q423.2 120.5 425.5 120.9M420.5 119.6Q419.2 120.2 419.4 122.4M480.6 147.2Q480.9 150.4 480.2 154.1M433.6 146.7Q430.9 145.8 429.3 146.2M535.6 171.5Q537.9 173.0 539.9 172.9M535.6 171.5Q536.0 169.1 535.0 167.7M427.2 148.4Q424.7 147.4 422.8 147.7M468.4 176.5Q465.1 177.4 462.2 178.2M519.7 105.2Q518.9 105.4 516.8 106.9M519.7 105.2Q516.4 102.8 513.6 101.9M519.7 105.2Q520.5 105.2 522.8 106.7M467.3 135.9Q468.0 135.3 469.7 134.9M428.0 168.6Q424.0 170.1 420.9 171.0M429.1 101.4Q427.6 99.4 426.2 97.6M429.1 101.4Q430.0 103.7 431.5 106.3M470.2 176.8Q471.2 177.5 472.0 178.9M463.7 102.7Q466.7 105.0 468.8 107.5M463.7 102.7Q463.8 99.8 464.3 98.0M476.4 143.2Q474.5 141.6 473.2 139.3M499.3 132.7Q497.7 133.8 496.3 135.6M499.3 132.7Q502.7 131.5 505.2 131.1M505.6 132.9Q507.8 135.2 509.7 136.0M505.6 132.9Q507.4 134.4 509.7 137.1M505.6 132.9Q505.3 130.2 506.0 128.4M456.4 105.3Q458.1 105.3 460.1 106.3M425.5 172.7Q426.4 175.2 425.9 178.9M425.5 172.7Q422.9 174.2 419.5 176.5M531.5 109.4Q529.0 111.3 525.0 112.8M516.0 109.6Q517.4 110.1 520.0 109.8M516.0 109.6Q512.6 108.9 509.2 107.1M471.4 151.1Q470.4 153.2 468.9 154.1M463.4 140.3Q466.3 142.4 468.5 143.1M463.4 140.3Q462.7 142.5 461.4 143.4M473.5 143.5Q473.9 144.7 475.2 147.6M448.2 166.7Q446.7 170.4 445.5 173.1M507.5 142.7Q506.7 145.4 506.4 146.6M502.4 128.3Q500.6 131.0 497.5 133.2M502.4 128.3Q501.2 125.4 501.1 121.2M428.8 171.9Q429.7 168.0 429.2 165.3M452.2 139.9Q450.8 138.2 449.0 136.2M452.2 139.9Q453.2 137.3 454.8 135.0M425.8 151.4Q424.0 152.8 423.8 153.3M492.2 121.9Q490.2 120.4 488.9 119.7M466.2 152.7Q466.6 154.7 467.9 155.7M489.5 120.6Q485.6 122.3 483.0 124.2M489.5 120.6Q489.1 119.3 487.7 117.9M489.5 120.6Q491.3 121.2 493.1 122.4M469.1 155.1Q466.8 155.3 465.0 155.4M487.0 142.1Q486.6 138.7 487.0 135.4M487.0 142.1Q489.8 144.3 492.2 146.9M432.9 155.5Q434.0 152.3 434.4 150.4M436.5 107.0Q439.9 107.4 442.0 108.2M478.4 113.7Q475.3 113.9 473.5 114.3M499.0 125.3Q501.5 127.3 503.2 130.3M443.1 147.6Q439.2 147.9 436.9 149.2M443.1 147.6Q444.7 149.8 447.6 152.4M443.1 147.6Q444.0 148.9 443.7 150.9M496.2 100.8Q494.3 100.7 493.1 102.0M496.2 100.8Q499.0 99.5 501.1 97.9M496.2 100.8Q498.6 102.2 500.1 105.0M518.1 124.0Q519.3 122.2 520.5 121.9M515.6 110.7Q513.0 112.4 509.4 112.8M441.9 119.8Q444.4 116.4 445.8 113.6M441.9 119.8Q441.2 121.4 441.6 122.7M511.7 123.1Q512.4 124.1 513.0 126.4M515.2 99.1Q512.0 98.8 509.2 98.7M534.0 137.1Q533.8 138.6 532.7 140.0M468.0 130.0Q470.1 129.7 473.1 128.7M530.0 175.0Q532.8 172.0 534.9 169.8M459.8 134.3Q459.1 135.5 457.5 136.4M459.8 134.3Q457.8 132.8 454.2 130.9M459.8 134.3Q459.8 131.7 459.0 129.9M433.9 136.8Q433.0 138.5 432.7 140.5" fill="none" stroke="#6a28c8" stroke-width="0.9" stroke-linecap="round"/>
<g fill="#40148c"><circle cx="507.8" cy="146.8" r="1.1"/><circle cx="462.6" cy="156.8" r="1.5"/><circle cx="451.5" cy="133.8" r="0.9"/><circle cx="460.2" cy="113.8" r="1.5"/><circle cx="430.3" cy="116.2" r="1.6"/><circle cx="461.4" cy="115.1" r="1.3"/><circle cx="439.8" cy="114.3" r="1.4"/><circle cx="457.1" cy="106.0" r="1.4"/><circle cx="477.4" cy="96.4" r="1.4"/><circle cx="426.3" cy="142.2" r="1.6"/><circle cx="512.0" cy="113.9" r="1.4"/><circle cx="503.9" cy="170.2" r="1.6"/><circle cx="462.5" cy="132.3" r="1.8"/><circle cx="505.1" cy="103.3" r="1.2"/><circle cx="502.9" cy="117.7" r="1.4"/><circle cx="489.7" cy="138.4" r="1.1"/><circle cx="419.7" cy="130.9" r="1.3"/><circle cx="514.3" cy="114.4" r="1.6"/><circle cx="481.2" cy="95.6" r="1.2"/><circle cx="415.7" cy="165.4" r="1.1"/><circle cx="437.8" cy="171.4" r="1.1"/><circle cx="476.5" cy="95.5" r="1.1"/><circle cx="458.7" cy="127.3" r="1.7"/><circle cx="451.4" cy="108.5" r="1.2"/><circle cx="495.3" cy="157.3" r="1.8"/><circle cx="452.2" cy="133.0" r="1.7"/><circle cx="447.9" cy="161.8" r="1.8"/><circle cx="450.7" cy="156.5" r="1.4"/><circle cx="531.8" cy="171.5" r="1.5"/><circle cx="438.9" cy="174.2" r="1.2"/><circle cx="491.0" cy="145.4" r="1.0"/><circle cx="498.6" cy="118.5" r="1.2"/><circle cx="464.6" cy="138.8" r="1.0"/><circle cx="470.1" cy="116.5" r="1.4"/><circle cx="508.8" cy="175.2" r="1.5"/><circle cx="502.4" cy="171.3" r="1.7"/><circle cx="416.1" cy="94.3" r="1.0"/><circle cx="504.9" cy="153.9" r="1.5"/><circle cx="505.8" cy="160.0" r="1.2"/><circle cx="485.5" cy="125.7" r="1.1"/><circle cx="496.0" cy="166.3" r="1.3"/><circle cx="433.6" cy="145.4" r="1.6"/><circle cx="534.9" cy="124.8" r="1.7"/><circle cx="430.6" cy="114.7" r="1.1"/><circle cx="506.3" cy="103.9" r="1.3"/><circle cx="429.6" cy="104.4" r="1.3"/><circle cx="451.6" cy="175.6" r="1.6"/><circle cx="493.3" cy="125.9" r="1.2"/><circle cx="474.0" cy="118.4" r="1.8"/><circle cx="510.8" cy="122.3" r="1.1"/><circle cx="423.8" cy="173.7" r="1.1"/><circle cx="483.3" cy="122.5" r="1.6"/><circle cx="514.4" cy="99.5" r="1.7"/><circle cx="472.3" cy="124.6" r="1.4"/><circle cx="483.1" cy="138.4" r="0.9"/><circle cx="468.5" cy="152.9" r="0.9"/><circle cx="458.7" cy="111.5" r="0.8"/><circle cx="498.2" cy="140.7" r="1.3"/><circle cx="479.9" cy="127.5" r="1.0"/><circle cx="451.3" cy="103.4" r="1.1"/><circle cx="490.2" cy="127.5" r="1.8"/><circle cx="456.8" cy="176.7" r="1.6"/><circle cx="498.5" cy="141.7" r="1.6"/><circle cx="514.4" cy="164.4" r="1.2"/><circle cx="469.6" cy="130.1" r="1.0"/><circle cx="442.6" cy="138.3" r="1.2"/><circle cx="420.5" cy="119.6" r="1.6"/><circle cx="480.6" cy="147.2" r="1.2"/><circle cx="433.6" cy="146.7" r="1.0"/><circle cx="516.3" cy="96.1" r="0.9"/><circle cx="468.4" cy="176.5" r="1.0"/><circle cx="501.8" cy="123.6" r="1.7"/><circle cx="480.9" cy="104.5" r="1.5"/><circle cx="429.1" cy="101.4" r="1.5"/><circle cx="463.7" cy="102.7" r="1.5"/><circle cx="476.4" cy="143.2" r="0.9"/><circle cx="499.3" cy="132.7" r="1.0"/><circle cx="456.4" cy="105.3" r="1.0"/><circle cx="425.5" cy="172.7" r="1.6"/><circle cx="422.3" cy="156.4" r="1.5"/><circle cx="516.0" cy="109.6" r="1.7"/><circle cx="463.4" cy="140.3" r="1.0"/><circle cx="473.5" cy="143.5" r="1.3"/><circle cx="507.5" cy="142.7" r="1.0"/><circle cx="428.8" cy="171.9" r="1.1"/><circle cx="425.8" cy="151.4" r="0.9"/><circle cx="466.2" cy="152.7" r="1.0"/><circle cx="489.5" cy="120.6" r="1.7"/><circle cx="448.3" cy="170.3" r="1.7"/><circle cx="436.5" cy="107.0" r="1.0"/><circle cx="454.7" cy="143.8" r="1.0"/><circle cx="499.0" cy="125.3" r="1.4"/><circle cx="443.1" cy="147.6" r="0.8"/><circle cx="496.2" cy="100.8" r="1.0"/><circle cx="518.1" cy="124.0" r="1.1"/><circle cx="498.9" cy="141.7" r="1.6"/><circle cx="416.0" cy="174.3" r="0.9"/><circle cx="441.9" cy="119.8" r="1.5"/><circle cx="468.0" cy="130.0" r="1.6"/><circle cx="519.3" cy="114.0" r="1.7"/><circle cx="459.8" cy="134.3" r="0.8"/><circle cx="517.4" cy="99.3" r="0.9"/><circle cx="433.9" cy="136.8" r="1.7"/><circle cx="426.6" cy="118.4" r="1.5"/><circle cx="520.0" cy="117.7" r="1.0"/></g>
<path d="M436.5 169.8Q434.1 171.1 431.3 172.7M436.5 169.8Q437.7 170.2 439.4 172.0M462.6 156.8Q461.6 159.1 461.1 161.9M462.6 156.8Q466.2 156.6 468.5 157.1M469.0 155.5Q470.7 152.5 473.2 149.7M443.5 148.6Q443.8 146.0 443.9 144.2M451.5 133.8Q451.8 135.7 450.5 136.9M460.2 113.8Q462.6 115.2 465.7 117.5M430.3 116.2Q426.8 116.0 423.5 115.4M430.3 116.2Q428.1 114.4 425.5 111.4M430.3 116.2Q433.5 115.8 436.4 116.0M461.4 115.1Q463.7 115.6 465.0 115.4M461.4 115.1Q459.0 117.4 455.9 119.0M439.8 114.3Q442.2 115.7 444.6 116.0M519.3 167.0Q516.3 165.7 514.0 164.6M519.3 167.0Q521.0 167.9 522.8 170.0M426.3 142.2Q424.7 144.0 422.2 146.2M494.5 152.4Q492.3 151.6 491.2 151.0M448.8 141.9Q451.8 143.1 455.6 143.5M464.9 167.9Q467.2 169.3 471.0 171.3M468.8 131.6Q466.5 130.1 463.6 129.2M505.1 103.3Q504.8 105.7 505.7 107.8M522.2 172.2Q522.4 169.2 524.2 167.7M532.5 151.1Q534.7 153.6 535.4 156.6M419.7 130.9Q417.5 129.7 414.4 129.6M463.8 101.6Q462.8 100.7 461.8 99.5M463.8 101.6Q464.9 102.9 466.0 105.3M423.4 124.3Q422.4 122.5 422.6 119.7M535.1 118.9Q536.0 116.9 537.7 116.4M415.7 165.4Q416.4 162.7 417.7 159.8M415.7 165.4Q411.9 167.1 409.3 167.9M437.8 171.4Q438.9 173.2 439.0 173.9M458.7 127.3Q457.0 130.2 456.5 134.3M519.6 132.2Q518.5 129.9 518.5 126.4M519.6 132.2Q521.6 135.1 525.1 136.9M470.4 137.3Q470.6 139.3 472.3 140.5M447.9 161.8Q445.9 163.4 444.1 164.7M447.9 161.8Q448.8 162.0 450.6 162.8M464.3 109.8Q467.7 111.4 470.2 112.0M464.3 109.8Q464.9 113.2 465.6 115.5M464.3 109.8Q462.1 111.4 461.2 112.1M450.7 156.5Q453.1 155.3 453.9 153.8M450.7 156.5Q448.6 156.9 447.0 158.5M531.8 171.5Q533.2 174.5 533.3 177.7M531.8 171.5Q530.1 171.8 526.8 171.4M432.5 138.3Q431.6 139.0 429.3 139.6M491.0 145.4Q488.4 146.7 485.4 149.1M491.0 145.4Q491.8 146.2 493.1 147.3M470.1 116.5Q468.4 116.9 468.0 118.7M508.8 175.2Q507.6 172.6 507.3 169.3M502.4 171.3Q498.9 169.6 496.3 169.5M502.4 171.3Q505.8 172.3 508.2 171.7M502.4 171.3Q500.7 171.6 499.3 172.2M416.1 94.3Q416.0 97.2 416.8 100.4M416.1 94.3Q413.9 92.4 411.7 90.7M463.8 176.7Q462.1 176.1 460.4 174.4M504.9 153.9Q505.8 153.0 506.9 151.2M505.8 160.0Q503.8 162.0 501.2 162.6M420.1 150.4Q418.8 151.5 417.1 151.9M420.1 150.4Q422.2 151.4 425.6 153.8M508.0 127.0Q512.0 128.6 515.0 129.3M485.5 125.7Q484.9 130.1 485.6 132.8M485.5 125.7Q483.8 128.5 482.9 130.8M489.2 143.4Q492.3 143.9 494.2 145.9M489.2 143.4Q488.7 147.0 488.9 150.3M496.0 166.3Q498.8 164.6 502.0 163.8M496.0 166.3Q496.7 168.7 496.3 171.6M496.0 166.3Q493.7 165.5 491.2 164.4M496.9 151.8Q496.1 149.0 496.2 145.4M507.7 107.5Q508.4 106.3 508.2 104.6M534.9 124.8Q535.7 124.1 535.3 121.9M534.9 124.8Q536.2 126.4 537.7 129.2M430.6 114.7Q428.7 111.6 428.3 107.6M416.7 161.7Q415.4 162.0 413.4 162.2M416.7 161.7Q420.8 162.5 423.5 163.8M506.3 103.9Q507.5 101.9 507.8 98.8M444.5 123.4Q442.8 125.8 442.4 129.3M444.5 123.4Q446.3 121.1 449.1 119.0M429.6 104.4Q426.7 104.2 423.5 104.4M531.1 155.7Q529.8 159.0 529.5 161.7M417.8 101.9Q415.5 103.5 414.5 104.8M417.8 101.9Q416.2 99.8 414.8 98.5M470.5 108.8Q471.4 107.3 471.4 105.7M451.6 175.6Q453.8 174.1 454.7 174.0M451.6 175.6Q453.9 177.4 455.2 180.5M493.3 125.9Q495.8 126.3 497.7 127.0M510.8 122.3Q508.7 123.2 508.1 122.9M510.8 122.3Q512.0 122.4 513.3 121.4M423.8 173.7Q422.6 173.7 421.3 172.7M483.3 122.5Q486.3 124.6 489.0 125.5M432.2 98.3Q435.1 98.1 439.0 96.7M449.3 150.4Q452.5 151.7 454.4 154.3M449.3 150.4Q448.7 152.2 447.7 154.5M514.4 99.5Q516.5 95.6 518.3 93.1M514.4 99.5Q515.8 101.6 517.1 102.2M449.4 101.5Q449.1 98.6 448.8 97.1M449.4 101.5Q451.5 100.0 454.6 97.2M450.6 115.2Q447.8 113.3 444.8 111.9M468.5 152.9Q471.6 151.9 473.7 150.8M468.5 152.9Q466.3 151.8 465.6 151.4M502.6 123.9Q503.0 127.0 504.8 130.7M458.7 111.5Q461.5 112.3 465.1 111.8M451.3 103.4Q449.2 103.2 448.0 101.6M451.3 103.4Q450.0 104.7 449.8 107.5M456.8 176.7Q459.1 175.0 460.3 173.9M498.5 141.7Q500.1 144.9 501.4 147.2M514.4 164.4Q514.9 164.7 516.9 164.8M514.4 164.4Q515.6 165.7 518.1 167.5M469.6 130.1Q470.2 127.1 469.7 123.3M469.6 130.1Q472.6 130.4 475.8 130.5M425.2 103.6Q422.5 104.3 419.2 105.5M425.2 103.6Q427.0 105.4 428.8 106.5M420.5 119.6Q420.2 117.7 418.4 117.2M480.6 147.2Q482.0 146.7 483.5 145.9M480.6 147.2Q478.8 148.6 477.7 151.0M516.3 96.1Q515.6 99.4 513.6 102.5M516.3 96.1Q515.0 92.7 513.7 90.9M427.2 148.4Q428.8 147.3 430.1 144.6M468.4 176.5Q467.3 175.3 465.4 175.1M458.5 108.5Q458.5 106.2 458.4 102.9M458.5 108.5Q459.2 112.2 458.5 114.3M467.3 135.9Q466.4 139.3 466.4 142.5M501.8 123.6Q503.5 123.3 504.7 124.3M501.8 123.6Q502.2 121.7 501.1 119.0M428.0 168.6Q429.3 170.4 430.4 171.1M518.3 104.6Q521.2 107.7 523.2 110.2M480.9 104.5Q478.3 104.6 475.2 103.9M429.1 101.4Q427.9 100.2 425.6 98.5M429.1 101.4Q431.7 103.2 433.4 103.7M418.9 138.7Q417.7 135.5 417.5 132.2M418.9 138.7Q421.3 137.7 424.4 135.3M463.7 102.7Q461.2 101.5 459.2 101.6M505.6 132.9Q505.6 130.7 507.1 129.0M505.6 132.9Q505.1 133.4 504.1 135.0M456.4 105.3Q456.1 103.6 454.5 100.4M456.4 105.3Q459.9 104.4 462.6 104.4M425.5 172.7Q426.2 171.8 425.3 169.5M489.1 101.6Q489.1 102.5 488.1 104.0M531.5 109.4Q532.5 109.6 534.2 108.2M422.3 156.4Q425.4 157.7 428.6 159.6M422.3 156.4Q421.0 153.0 418.5 151.1M528.8 158.3Q530.1 156.0 531.3 153.8M528.8 158.3Q527.8 159.3 525.9 161.4M463.4 140.3Q462.0 141.9 460.2 142.0M473.5 143.5Q474.2 142.0 476.4 141.7M473.5 143.5Q473.7 146.3 472.9 148.9M448.2 166.7Q449.9 167.6 450.9 167.7M448.2 166.7Q445.5 165.3 441.8 165.5M502.4 128.3Q500.6 127.9 499.3 128.3M502.4 128.3Q505.0 127.4 506.0 127.9M428.8 171.9Q432.0 169.7 434.4 168.4M515.4 94.8Q515.4 96.6 515.5 99.7M515.4 94.8Q513.2 92.1 512.3 88.8M452.2 139.9Q454.9 141.4 456.7 143.4M452.2 139.9Q450.8 142.2 449.7 143.1M492.2 121.9Q494.6 119.7 496.0 117.7M475.0 94.6Q473.0 96.0 471.9 98.5M475.0 94.6Q474.8 93.1 476.0 91.8M475.0 94.6Q475.7 95.4 476.8 96.7M466.2 152.7Q464.9 151.9 462.1 151.6M489.1 137.2Q485.8 137.3 483.8 138.3M469.1 155.1Q468.9 153.4 468.2 152.7M469.1 155.1Q467.2 156.3 466.4 159.0M436.5 107.0Q437.4 110.0 438.1 113.1M454.7 143.8Q454.2 146.1 453.6 147.3M478.4 113.7Q481.1 112.3 482.9 109.7M443.1 147.6Q443.8 144.0 444.7 141.8M443.1 147.6Q446.0 145.3 448.4 143.9M496.2 100.8Q496.1 104.3 496.0 106.3M518.1 124.0Q516.6 125.3 514.8 125.7M498.9 141.7Q499.7 140.1 501.2 138.8M515.6 110.7Q518.0 111.5 519.8 111.7M416.0 174.3Q414.9 177.3 413.6 179.8M515.2 99.1Q517.7 99.0 519.7 100.2M515.2 99.1Q513.4 101.5 510.2 103.0M515.2 99.1Q516.8 95.7 519.6 93.4M534.0 137.1Q532.4 136.5 532.3 134.5M459.8 134.3Q462.8 132.6 466.4 132.4M454.4 150.4Q457.7 153.0 459.8 154.7M520.0 117.7Q517.3 117.6 515.3 117.8M428.8 164.6Q427.6 166.5 424.8 167.9" fill="none" stroke="#7a34d0" stroke-width="0.7" stroke-linecap="round"/>
<path d="M462.6 156.8Q462.4 155.1 462.8 152.7M469.0 155.5Q466.8 158.4 465.9 161.6M443.5 148.6Q444.3 150.2 445.4 150.3M443.5 148.6Q441.8 149.3 439.0 148.5M461.4 115.1Q462.0 113.6 463.9 113.5M519.3 167.0Q517.6 164.3 514.7 161.4M519.3 167.0Q519.5 167.9 518.8 170.1M457.1 106.0Q456.0 102.9 456.3 98.6M529.7 112.4Q527.6 110.9 525.9 110.9M477.4 96.4Q479.1 96.1 481.3 95.9M494.5 152.4Q493.1 153.5 491.1 153.6M448.8 141.9Q445.9 142.2 442.5 143.3M503.9 170.2Q503.2 173.1 502.5 175.1M462.5 132.3Q462.3 136.5 462.1 139.5M462.5 132.3Q460.5 130.5 458.7 128.7M519.8 149.3Q519.0 153.1 516.8 155.7M468.8 131.6Q469.5 129.3 468.9 128.5M468.8 131.6Q471.3 132.0 473.4 132.8M468.8 131.6Q469.5 133.6 468.9 136.9M505.1 103.3Q503.3 102.1 501.4 100.1M522.2 172.2Q523.6 174.9 524.6 177.8M522.2 172.2Q520.0 173.0 518.9 174.2M532.5 151.1Q529.9 150.2 528.4 149.7M502.9 117.7Q503.5 120.7 504.6 123.9M489.7 138.4Q491.0 135.6 493.8 133.5M489.7 138.4Q491.4 139.7 493.7 142.5M419.7 130.9Q422.6 130.2 425.6 129.2M423.4 124.3Q426.3 125.0 429.6 126.1M423.4 124.3Q423.8 126.5 425.6 129.3M481.2 95.6Q482.5 96.2 485.4 97.9M491.4 128.8Q492.2 130.7 493.6 133.7M491.4 128.8Q490.3 127.0 489.6 125.5M437.8 171.4Q435.9 173.2 435.0 173.6M437.8 171.4Q435.5 169.6 432.2 168.6M437.8 171.4Q439.9 170.5 440.9 170.2M476.5 95.5Q473.4 95.1 470.3 94.7M476.5 95.5Q476.6 93.8 477.7 92.6M519.6 132.2Q518.0 131.4 517.2 131.3M470.4 137.3Q473.4 135.2 476.9 134.6M463.0 94.5Q463.7 97.2 463.1 98.7M495.3 157.3Q495.3 158.6 494.1 160.4M452.2 133.0Q454.2 129.3 455.6 126.8M452.2 133.0Q455.7 134.5 459.5 134.4M447.9 161.8Q447.9 159.5 447.7 157.9M521.8 140.8Q521.8 144.1 523.1 147.3M432.5 138.3Q433.5 142.0 435.0 145.2M433.4 163.0Q432.1 161.5 429.2 158.5M491.0 145.4Q493.3 144.1 496.0 143.4M498.6 118.5Q496.0 117.6 493.8 118.1M484.9 119.7Q485.9 122.2 487.0 124.5M464.6 138.8Q462.2 138.0 460.3 136.3M508.8 175.2Q507.0 176.2 504.0 177.9M502.4 171.3Q503.6 168.0 504.8 164.9M463.8 176.7Q466.0 175.9 467.7 174.3M463.8 176.7Q465.8 178.1 467.8 178.2M504.9 153.9Q505.8 154.5 507.0 155.6M508.0 127.0Q506.9 129.3 506.8 131.1M534.8 98.5Q534.0 98.2 531.8 96.5M485.5 125.7Q482.2 125.1 480.5 123.5M485.5 125.7Q487.4 124.3 489.3 122.0M489.2 143.4Q487.5 144.7 485.9 144.5M489.2 143.4Q490.2 140.1 490.0 137.3M496.0 166.3Q496.3 162.3 496.9 159.2M433.6 145.4Q435.4 143.1 437.7 140.3M496.9 151.8Q498.4 154.5 498.9 158.8M437.6 92.1Q439.0 95.2 439.1 96.9M437.6 92.1Q437.2 95.7 435.2 98.1M437.6 92.1Q434.9 91.5 433.5 91.2M437.6 92.1Q440.2 91.8 441.7 90.8M451.9 146.8Q450.7 147.4 449.4 148.9M507.7 107.5Q509.9 108.6 510.9 110.6M507.7 107.5Q507.2 105.0 506.9 103.0M534.2 119.8Q533.8 119.1 532.2 118.3M455.5 114.6Q455.1 113.2 454.5 112.1M455.5 114.6Q458.0 115.2 459.6 116.8M455.5 114.6Q454.4 116.8 452.2 117.9M416.7 161.7Q416.3 163.3 417.0 164.9M528.1 106.1Q526.6 106.6 525.2 106.4M444.5 123.4Q444.9 119.7 443.8 117.5M429.6 104.4Q429.0 102.0 427.2 98.2M531.1 155.7Q531.7 156.5 533.4 157.1M417.8 101.9Q418.6 101.5 418.9 99.6M470.5 108.8Q468.3 110.7 466.0 112.4M451.6 175.6Q448.2 173.4 445.7 171.1M493.3 125.9Q492.0 128.8 491.9 132.1M474.0 118.4Q475.4 117.0 476.5 116.2M474.0 118.4Q476.3 118.7 478.6 119.7M474.0 118.4Q476.1 121.9 476.9 124.2M510.8 122.3Q511.9 120.5 512.1 117.5M510.8 122.3Q511.5 124.8 511.2 128.7M529.6 159.2Q531.6 158.8 534.3 158.8M432.2 98.3Q430.7 100.5 430.8 103.4M449.3 150.4Q447.0 149.4 443.3 148.2M449.5 150.7Q448.6 153.7 447.1 155.9M449.5 150.7Q447.3 150.1 446.5 149.4M505.8 114.2Q504.5 113.6 501.6 111.4M468.5 152.9Q468.5 155.5 468.3 157.1M502.6 123.9Q501.9 122.2 500.1 122.0M458.7 111.5Q459.3 114.2 458.7 118.2M458.7 111.5Q456.7 112.1 455.9 112.7M498.2 140.7Q497.7 138.3 496.5 136.8M490.2 127.5Q489.4 130.9 489.2 133.9M498.5 141.7Q496.8 144.6 495.4 146.2M498.5 141.7Q496.2 142.0 495.3 140.6M498.5 141.7Q496.4 138.9 495.5 135.0M514.4 164.4Q514.3 161.2 513.4 158.7M514.4 164.4Q512.7 167.2 511.3 170.2M469.6 130.1Q469.7 132.8 468.8 135.4M469.6 130.1Q468.3 132.3 467.2 134.8M442.6 138.3Q443.4 140.8 442.8 144.1M425.2 103.6Q423.8 103.5 422.6 102.9M425.2 103.6Q424.4 100.0 424.0 97.6M425.2 103.6Q426.9 102.3 429.7 100.5M420.5 119.6Q421.0 117.8 421.5 117.2M480.6 147.2Q478.1 145.4 476.1 144.9M433.6 146.7Q433.0 143.3 430.8 141.0M433.6 146.7Q434.7 148.8 434.3 152.0M433.6 146.7Q431.9 147.4 429.4 149.0M535.5 119.1Q536.7 120.8 538.7 121.0M535.5 119.1Q532.1 121.5 529.8 123.8M535.6 171.5Q532.6 172.7 530.6 173.1M427.2 148.4Q424.6 147.6 422.2 145.3M468.4 176.5Q470.3 177.3 472.6 178.3M468.4 176.5Q468.1 178.6 469.1 181.6M467.3 135.9Q466.5 135.4 465.0 134.4M428.0 168.6Q429.0 167.1 431.0 165.2M480.9 104.5Q482.3 102.5 482.4 100.3M429.1 101.4Q431.7 101.1 433.6 100.3M470.2 176.8Q467.8 178.8 464.8 179.2M418.9 138.7Q421.1 140.2 423.7 140.8M418.9 138.7Q416.2 138.8 412.0 139.8M456.4 105.3Q455.4 103.9 453.8 102.3M518.9 142.1Q516.2 144.2 513.2 145.2M518.9 142.1Q518.7 139.4 520.2 135.2M425.5 172.7Q426.3 172.4 428.3 172.6M489.1 101.6Q487.6 100.5 487.0 97.9M531.5 109.4Q533.4 109.8 534.7 110.1M531.5 109.4Q531.9 112.7 533.0 116.0M528.8 158.3Q526.6 156.7 524.4 153.6M516.0 109.6Q515.5 111.5 515.8 114.9M516.0 109.6Q516.1 107.4 517.4 103.8M471.4 151.1Q469.4 150.9 468.9 151.0M471.4 151.1Q473.7 149.1 476.3 148.6M471.4 151.1Q474.3 152.9 476.8 153.6M463.4 140.3Q463.3 137.7 462.5 133.7M507.5 142.7Q509.2 140.6 512.5 138.5M507.5 142.7Q508.7 145.1 511.4 146.7M502.4 128.3Q503.0 131.9 504.8 134.7M428.8 171.9Q430.2 174.6 432.5 175.6M515.4 94.8Q517.3 97.1 518.3 98.1M425.8 151.4Q428.2 151.7 429.3 151.8M492.2 121.9Q490.3 120.0 487.7 116.9M492.2 121.9Q493.1 122.4 495.1 123.8M489.1 137.2Q487.1 135.4 486.3 133.4M489.1 137.2Q488.7 135.3 488.8 134.6M489.1 137.2Q488.4 140.0 488.3 143.6M489.5 120.6Q491.6 120.3 492.7 118.8M469.1 155.1Q472.6 155.7 475.5 156.7M448.3 170.3Q449.0 173.6 449.1 177.1M487.0 142.1Q485.6 140.6 482.8 138.9M436.5 107.0Q435.7 111.0 435.6 113.7M478.4 113.7Q480.0 115.2 482.9 115.8M478.4 113.7Q477.8 116.9 478.1 119.6M499.0 125.3Q496.4 126.5 495.2 128.5M499.0 125.3Q496.9 124.9 495.6 123.1M443.1 147.6Q440.4 146.5 439.1 145.7M518.1 124.0Q518.8 126.5 519.5 130.6M416.0 174.3Q415.3 171.6 416.0 169.6M416.0 174.3Q419.7 174.8 422.2 174.9M441.9 119.8Q441.3 119.9 439.2 120.0M441.9 119.8Q443.7 119.9 446.7 121.3M468.0 130.0Q466.8 133.3 466.8 134.9M519.3 114.0Q520.2 116.0 519.5 117.0M459.8 134.3Q460.4 133.5 462.4 131.7M517.4 99.3Q516.4 102.1 515.4 104.6M454.4 150.4Q455.2 148.7 457.2 145.8M433.9 136.8Q432.2 136.0 430.7 134.6M433.9 136.8Q435.1 133.8 435.4 131.6M433.9 136.8Q437.3 139.3 439.4 140.9M426.6 118.4Q425.8 121.0 425.9 123.2M520.0 117.7Q521.3 115.1 521.7 113.0M520.0 117.7Q520.2 118.5 521.2 120.4M428.8 164.6Q426.9 165.0 423.8 165.1M428.8 164.6Q430.5 166.8 433.9 168.5" fill="none" stroke="#5420b0" stroke-width="1.1" stroke-linecap="round"/></g>
<line x1="587.6" y1="27.299999999999997" x2="587.6" y2="140.1" stroke="#000" stroke-width="1.2"/>
<line x1="587.0" y1="139.5" x2="667" y2="139.5" stroke="#000" stroke-width="1.2"/>
<line x1="582.6" y1="139.5" x2="587.6" y2="139.5" stroke="#000" stroke-width="1.2"/>
<text x="581.3" y="142.5" font-size="8.4" font-weight="bold" text-anchor="end" fill="#000">250</text>
<line x1="582.6" y1="117.18" x2="587.6" y2="117.18" stroke="#000" stroke-width="1.2"/>
<text x="581.3" y="120.18" font-size="8.4" font-weight="bold" text-anchor="end" fill="#000">300</text>
<line x1="582.6" y1="94.86000000000001" x2="587.6" y2="94.86000000000001" stroke="#000" stroke-width="1.2"/>
<text x="581.3" y="97.86000000000001" font-size="8.4" font-weight="bold" text-anchor="end" fill="#000">350</text>
<line x1="582.6" y1="72.54" x2="587.6" y2="72.54" stroke="#000" stroke-width="1.2"/>
<text x="581.3" y="75.54" font-size="8.4" font-weight="bold" text-anchor="end" fill="#000">400</text>
<line x1="582.6" y1="50.22000000000001" x2="587.6" y2="50.22000000000001" stroke="#000" stroke-width="1.2"/>
<text x="581.3" y="53.22000000000001" font-size="8.4" font-weight="bold" text-anchor="end" fill="#000">450</text>
<line x1="582.6" y1="27.900000000000006" x2="587.6" y2="27.900000000000006" stroke="#000" stroke-width="1.2"/>
<text x="581.3" y="30.900000000000006" font-size="8.4" font-weight="bold" text-anchor="end" fill="#000">500</text>
<rect x="599.55" y="115.24088" width="21.099999999999977" height="24.259120000000003" fill="#7ab4fa" stroke="#000" stroke-width="1.3"/>
<line x1="610.0999999999999" y1="139.5" x2="610.0999999999999" y2="143.7" stroke="#000" stroke-width="1.2"/>
<line x1="610.0999999999999" y1="119.412" x2="610.0999999999999" y2="108.51984" stroke="#000" stroke-width="0.9"/>
<line x1="604.3999999999999" y1="119.412" x2="615.8" y2="119.412" stroke="#000" stroke-width="0.9"/>
<line x1="604.3999999999999" y1="108.51984" x2="615.8" y2="108.51984" stroke="#000" stroke-width="0.9"/>
<circle cx="610.3" cy="107.72" r="1.9" fill="#000"/>
<circle cx="607.5" cy="116.51" r="1.9" fill="#000"/>
<rect x="610.65" y="116.13" width="3.7" height="3.7" fill="#000"/>
<text x="612.8" y="151.6" font-size="8.7" font-weight="bold" text-anchor="end" fill="#000" transform="rotate(-45 612.8 151.6)">glioma-E</text>
<rect x="633.4499999999999" y="44.174" width="20.900000000000045" height="95.326" fill="#f780a3" stroke="#000" stroke-width="1.3"/>
<line x1="643.9" y1="139.5" x2="643.9" y2="143.7" stroke="#000" stroke-width="1.2"/>
<line x1="643.9" y1="45.979200000000006" x2="643.9" y2="39.59568" stroke="#000" stroke-width="0.9"/>
<line x1="638.1999999999999" y1="45.979200000000006" x2="649.6" y2="45.979200000000006" stroke="#000" stroke-width="0.9"/>
<line x1="638.1999999999999" y1="39.59568" x2="649.6" y2="39.59568" stroke="#000" stroke-width="0.9"/>
<rect x="641.9499999999999" y="38.24" width="3.7" height="3.7" fill="#000"/>
<circle cx="641.1" cy="41.38" r="1.9" fill="#000"/>
<rect x="644.15" y="43.91" width="3.7" height="3.7" fill="#000"/>
<text x="646.8" y="151.8" font-size="8.7" font-weight="bold" text-anchor="end" fill="#000" transform="rotate(-45 646.8 151.8)">glioma-D</text>
<polyline points="610.8,28.0 610.8,22.0 644.9,22.0 644.9,28.0" fill="none" stroke="#000" stroke-width="1.3"/>
<polygon points="620.30,11.45 620.91,12.84 622.42,12.68 621.52,13.90 622.42,15.12 620.91,14.96 620.30,16.35 619.69,14.96 618.18,15.12 619.07,13.90 618.18,12.68 619.69,12.84" fill="#000" stroke="#000" stroke-width="0.35" stroke-linejoin="round"/>
<polygon points="627.30,11.45 627.91,12.84 629.42,12.68 628.52,13.90 629.42,15.12 627.91,14.96 627.30,16.35 626.69,14.96 625.18,15.12 626.07,13.90 625.18,12.68 626.69,12.84" fill="#000" stroke="#000" stroke-width="0.35" stroke-linejoin="round"/>
<polygon points="634.30,11.45 634.91,12.84 636.42,12.68 635.52,13.90 636.42,15.12 634.91,14.96 634.30,16.35 633.69,14.96 632.18,15.12 633.07,13.90 632.18,12.68 633.69,12.84" fill="#000" stroke="#000" stroke-width="0.35" stroke-linejoin="round"/>
<text x="560.8" y="83.5" font-size="9.2" font-weight="bold" text-anchor="middle" fill="#000" transform="rotate(-90 560.8 83.5)">Invisible cell number</text>
<text x="5.6" y="222.8" font-size="13.2" font-weight="normal" text-anchor="start" fill="#000">D</text>
<text transform="translate(61.8,231.8) scale(0.93,1)" font-size="8.6" text-anchor="middle" stroke="#000" stroke-width="0.3">glioma-E</text>
<text transform="translate(153.9,229.8) scale(0.93,1)" font-size="8.6" text-anchor="middle" stroke="#000" stroke-width="0.3">glioma-D</text>
<text x="7.5" y="273.3" font-size="7.5" font-weight="normal" text-anchor="middle" fill="#000" transform="rotate(-90 7.5 273.3)" stroke="#000" stroke-width="0.2">Edu</text>
<text x="7.5" y="347.3" font-size="7.5" font-weight="normal" text-anchor="middle" fill="#000" transform="rotate(-90 7.5 347.3)" stroke="#000" stroke-width="0.2">Hoechst</text>
<text x="7.5" y="417.7" font-size="7.5" font-weight="normal" text-anchor="middle" fill="#000" transform="rotate(-90 7.5 417.7)" stroke="#000" stroke-width="0.2">Merge</text>
<clipPath id="d1"><rect x="13.3" y="239.1" width="93.8" height="69.7"/></clipPath>
<rect x="13.3" y="239.1" width="93.8" height="69.7" fill="#080303"/>
<g clip-path="url(#d1)" filter="url(#soft)">
<ellipse cx="20.2" cy="241.9" rx="1.37" ry="1.82" fill="#ff1d26"/>
<ellipse cx="55.0" cy="241.4" rx="1.44" ry="1.60" fill="#d01018"/>
<ellipse cx="62.6" cy="244.5" rx="1.58" ry="1.52" fill="#f01820"/>
<ellipse cx="50.1" cy="247.5" rx="1.34" ry="1.30" fill="#d01018"/>
<ellipse cx="64.2" cy="249.2" rx="1.56" ry="1.77" fill="#ff1d26"/>
<ellipse cx="62.3" cy="251.8" rx="1.73" ry="1.45" fill="#f01820"/>
<ellipse cx="26.8" cy="256.3" rx="1.66" ry="1.35" fill="#ff2a30"/>
<ellipse cx="34.8" cy="254.7" rx="1.30" ry="1.30" fill="#ff1d26"/>
<ellipse cx="37.1" cy="254.4" rx="1.88" ry="1.52" fill="#f01820"/>
<ellipse cx="45.9" cy="261.8" rx="1.90" ry="1.74" fill="#f01820"/>
<ellipse cx="76.9" cy="263.6" rx="1.77" ry="1.88" fill="#f01820"/>
<ellipse cx="74.3" cy="268.5" rx="1.50" ry="1.71" fill="#d01018"/>
<ellipse cx="96.8" cy="267.4" rx="1.89" ry="1.87" fill="#d01018"/>
<ellipse cx="95.3" cy="274.3" rx="1.82" ry="1.64" fill="#ff1d26"/>
<ellipse cx="62.6" cy="274.3" rx="1.40" ry="1.92" fill="#ff2a30"/>
<ellipse cx="37.1" cy="281.7" rx="1.36" ry="1.49" fill="#d01018"/>
<ellipse cx="75.4" cy="283.5" rx="1.60" ry="1.86" fill="#f01820"/>
<ellipse cx="78.9" cy="282.8" rx="1.47" ry="1.66" fill="#d01018"/>
<ellipse cx="76.9" cy="288.1" rx="1.82" ry="1.60" fill="#ff1d26"/>
<ellipse cx="14.8" cy="292.0" rx="1.59" ry="1.76" fill="#d01018"/>
<ellipse cx="19.4" cy="294.3" rx="1.55" ry="1.39" fill="#ff2a30"/>
<ellipse cx="22.5" cy="292.4" rx="1.34" ry="1.70" fill="#ff1d26"/>
<ellipse cx="39.7" cy="293.5" rx="1.78" ry="1.61" fill="#d01018"/>
<ellipse cx="43.6" cy="294.6" rx="1.52" ry="1.75" fill="#d01018"/>
<ellipse cx="62.6" cy="293.5" rx="1.31" ry="1.73" fill="#d01018"/>
<ellipse cx="63.3" cy="297.3" rx="1.69" ry="1.39" fill="#f01820"/>
<ellipse cx="90.2" cy="293.5" rx="1.91" ry="1.77" fill="#f01820"/>
<ellipse cx="96.8" cy="240.6" rx="1.54" ry="1.50" fill="#ff2a30"/>
<ellipse cx="104.5" cy="240.6" rx="1.57" ry="1.45" fill="#ff1d26"/>
<ellipse cx="106.0" cy="296.6" rx="1.53" ry="1.83" fill="#f01820"/>
<ellipse cx="19.1" cy="306.8" rx="1.61" ry="1.64" fill="#d01018"/>
<ellipse cx="24.3" cy="307.3" rx="1.89" ry="1.59" fill="#ff2a30"/>
<ellipse cx="31.4" cy="308.1" rx="1.64" ry="1.41" fill="#d01018"/>
<ellipse cx="62.6" cy="307.7" rx="1.59" ry="1.51" fill="#ff2a30"/>
<ellipse cx="66.2" cy="308.1" rx="1.28" ry="1.63" fill="#ff2a30"/>
<ellipse cx="76.1" cy="308.1" rx="1.57" ry="1.30" fill="#f01820"/>
<ellipse cx="17.1" cy="289.7" rx="1.69" ry="1.63" fill="#f01820"/>
</g>
<clipPath id="d2"><rect x="110.1" y="239.1" width="93.8" height="69.7"/></clipPath>
<rect x="110.1" y="239.1" width="93.8" height="69.7" fill="#080303"/>
<g clip-path="url(#d2)" filter="url(#soft)">
<ellipse cx="112.4" cy="244.5" rx="1.95" ry="1.95" fill="#ff1d26"/>
<ellipse cx="113.2" cy="246.0" rx="1.38" ry="1.56" fill="#f01820"/>
<ellipse cx="121.6" cy="242.2" rx="1.81" ry="1.76" fill="#ff2a30"/>
<ellipse cx="122.4" cy="246.0" rx="1.49" ry="1.46" fill="#ff1d26"/>
<ellipse cx="128.2" cy="248.3" rx="1.70" ry="1.42" fill="#d01018"/>
<ellipse cx="125.1" cy="253.2" rx="1.74" ry="1.85" fill="#ff2a30"/>
<ellipse cx="120.1" cy="255.2" rx="1.68" ry="1.61" fill="#ff2a30"/>
<ellipse cx="116.2" cy="258.7" rx="1.91" ry="1.89" fill="#ff2a30"/>
<ellipse cx="122.4" cy="258.3" rx="1.63" ry="1.53" fill="#d01018"/>
<ellipse cx="129.7" cy="259.8" rx="1.60" ry="1.90" fill="#f01820"/>
<ellipse cx="112.4" cy="264.8" rx="1.69" ry="1.48" fill="#ff1d26"/>
<ellipse cx="117.8" cy="266.7" rx="1.44" ry="1.43" fill="#ff2a30"/>
<ellipse cx="121.6" cy="272.5" rx="1.98" ry="1.77" fill="#f01820"/>
<ellipse cx="125.4" cy="275.1" rx="1.98" ry="1.61" fill="#d01018"/>
<ellipse cx="117.5" cy="279.2" rx="1.80" ry="1.92" fill="#ff2a30"/>
<ellipse cx="126.2" cy="280.2" rx="1.84" ry="1.55" fill="#d01018"/>
<ellipse cx="116.2" cy="283.8" rx="1.43" ry="1.82" fill="#d01018"/>
<ellipse cx="137.4" cy="271.3" rx="1.75" ry="1.48" fill="#ff2a30"/>
<ellipse cx="143.0" cy="267.4" rx="1.93" ry="1.65" fill="#ff2a30"/>
<ellipse cx="139.2" cy="281.7" rx="1.76" ry="1.62" fill="#d01018"/>
<ellipse cx="147.6" cy="288.4" rx="1.55" ry="1.80" fill="#d01018"/>
<ellipse cx="147.2" cy="294.0" rx="1.64" ry="1.47" fill="#ff2a30"/>
<ellipse cx="140.7" cy="297.6" rx="1.86" ry="1.87" fill="#ff2a30"/>
<ellipse cx="134.9" cy="300.7" rx="1.83" ry="1.64" fill="#ff2a30"/>
<ellipse cx="142.0" cy="303.8" rx="1.95" ry="1.79" fill="#d01018"/>
<ellipse cx="144.6" cy="307.7" rx="1.53" ry="1.46" fill="#ff2a30"/>
<ellipse cx="156.8" cy="300.1" rx="1.94" ry="1.73" fill="#ff1d26"/>
<ellipse cx="159.9" cy="293.0" rx="1.84" ry="1.55" fill="#ff1d26"/>
<ellipse cx="164.5" cy="287.8" rx="1.92" ry="1.45" fill="#ff1d26"/>
<ellipse cx="166.8" cy="283.5" rx="1.36" ry="1.75" fill="#ff2a30"/>
<ellipse cx="169.9" cy="283.5" rx="1.71" ry="1.77" fill="#ff1d26"/>
<ellipse cx="172.9" cy="287.8" rx="1.82" ry="1.41" fill="#ff2a30"/>
<ellipse cx="172.2" cy="292.0" rx="1.48" ry="1.46" fill="#ff1d26"/>
<ellipse cx="177.5" cy="293.0" rx="1.60" ry="1.79" fill="#ff1d26"/>
<ellipse cx="175.2" cy="280.5" rx="1.36" ry="1.56" fill="#f01820"/>
<ellipse cx="179.8" cy="274.0" rx="1.76" ry="1.37" fill="#ff1d26"/>
<ellipse cx="183.7" cy="276.6" rx="1.34" ry="1.80" fill="#ff1d26"/>
<ellipse cx="186.7" cy="277.7" rx="1.57" ry="1.40" fill="#f01820"/>
<ellipse cx="189.0" cy="277.4" rx="1.80" ry="1.67" fill="#ff1d26"/>
<ellipse cx="187.9" cy="282.3" rx="1.57" ry="1.35" fill="#f01820"/>
<ellipse cx="163.0" cy="274.0" rx="1.42" ry="1.34" fill="#ff2a30"/>
<ellipse cx="168.0" cy="272.5" rx="1.94" ry="1.73" fill="#ff1d26"/>
<ellipse cx="170.6" cy="277.1" rx="1.51" ry="1.64" fill="#ff2a30"/>
<ellipse cx="175.2" cy="271.0" rx="1.62" ry="1.83" fill="#ff1d26"/>
<ellipse cx="178.3" cy="265.5" rx="1.92" ry="1.82" fill="#f01820"/>
<ellipse cx="162.2" cy="262.9" rx="1.63" ry="1.47" fill="#ff2a30"/>
<ellipse cx="161.9" cy="267.4" rx="1.87" ry="1.34" fill="#f01820"/>
<ellipse cx="156.8" cy="280.2" rx="1.66" ry="1.84" fill="#d01018"/>
<ellipse cx="173.7" cy="258.7" rx="1.66" ry="1.41" fill="#ff2a30"/>
<ellipse cx="176.3" cy="259.3" rx="1.49" ry="1.72" fill="#d01018"/>
<ellipse cx="184.4" cy="257.5" rx="1.75" ry="1.78" fill="#f01820"/>
<ellipse cx="194.4" cy="260.6" rx="1.76" ry="1.49" fill="#f01820"/>
<ellipse cx="198.2" cy="259.8" rx="1.43" ry="1.38" fill="#f01820"/>
<ellipse cx="199.7" cy="253.7" rx="1.66" ry="1.97" fill="#ff1d26"/>
<ellipse cx="192.8" cy="242.9" rx="1.98" ry="1.47" fill="#d01018"/>
<ellipse cx="182.9" cy="247.5" rx="1.37" ry="1.37" fill="#f01820"/>
<ellipse cx="171.4" cy="242.2" rx="1.73" ry="1.85" fill="#ff2a30"/>
<ellipse cx="171.1" cy="254.7" rx="1.49" ry="1.60" fill="#ff1d26"/>
<ellipse cx="165.3" cy="248.3" rx="1.42" ry="1.57" fill="#f01820"/>
<ellipse cx="165.6" cy="254.4" rx="1.39" ry="1.80" fill="#f01820"/>
<ellipse cx="156.8" cy="255.6" rx="1.39" ry="1.33" fill="#f01820"/>
<ellipse cx="155.3" cy="247.1" rx="1.39" ry="1.34" fill="#d01018"/>
<ellipse cx="150.2" cy="250.1" rx="1.62" ry="1.67" fill="#d01018"/>
<ellipse cx="146.6" cy="242.2" rx="1.46" ry="1.92" fill="#f01820"/>
<ellipse cx="140.7" cy="239.9" rx="1.80" ry="1.61" fill="#ff1d26"/>
<ellipse cx="159.9" cy="240.3" rx="1.70" ry="1.35" fill="#d01018"/>
<ellipse cx="132.3" cy="239.9" rx="1.93" ry="1.70" fill="#ff1d26"/>
<ellipse cx="199.7" cy="287.4" rx="1.76" ry="1.64" fill="#ff1d26"/>
<ellipse cx="193.6" cy="292.4" rx="1.66" ry="1.93" fill="#ff2a30"/>
<ellipse cx="197.4" cy="297.0" rx="1.51" ry="1.97" fill="#ff2a30"/>
<ellipse cx="185.2" cy="303.5" rx="1.52" ry="1.90" fill="#d01018"/>
<ellipse cx="187.5" cy="306.5" rx="1.39" ry="1.52" fill="#ff1d26"/>
<ellipse cx="177.5" cy="306.5" rx="1.86" ry="1.36" fill="#d01018"/>
<ellipse cx="172.9" cy="307.7" rx="1.63" ry="1.91" fill="#ff1d26"/>
<ellipse cx="166.0" cy="301.6" rx="1.32" ry="1.34" fill="#ff2a30"/>
<ellipse cx="123.1" cy="308.1" rx="1.94" ry="1.37" fill="#d01018"/>
<ellipse cx="113.2" cy="303.5" rx="1.45" ry="1.70" fill="#d01018"/>
<ellipse cx="110.9" cy="297.3" rx="1.79" ry="1.41" fill="#ff2a30"/>
<ellipse cx="200.5" cy="306.5" rx="1.58" ry="1.40" fill="#ff1d26"/>
<ellipse cx="195.9" cy="305.0" rx="1.40" ry="1.73" fill="#ff2a30"/>
</g>
<clipPath id="d3"><rect x="13.3" y="311.7" width="93.8" height="70.1"/></clipPath>
<rect x="13.3" y="311.7" width="93.8" height="70.1" fill="#040208"/>
<g clip-path="url(#d3)" filter="url(#soft)">
<ellipse cx="55.9" cy="350.8" rx="1.21" ry="1.37" fill="#3066dc"/>
<ellipse cx="99.8" cy="344.3" rx="1.57" ry="1.34" fill="#1a3ea0"/>
<ellipse cx="61.0" cy="352.7" rx="1.12" ry="1.09" fill="#1e48b2"/>
<ellipse cx="31.0" cy="347.5" rx="1.22" ry="1.21" fill="#1e48b2"/>
<ellipse cx="72.4" cy="366.9" rx="1.37" ry="1.38" fill="#1e48b2"/>
<ellipse cx="22.6" cy="333.1" rx="1.43" ry="1.16" fill="#2452c4"/>
<ellipse cx="22.2" cy="368.1" rx="1.55" ry="1.36" fill="#2a5ed6"/>
<ellipse cx="78.3" cy="315.1" rx="1.44" ry="1.11" fill="#1a3ea0"/>
<ellipse cx="105.1" cy="378.8" rx="1.10" ry="1.50" fill="#3066dc"/>
<ellipse cx="74.6" cy="354.7" rx="1.34" ry="1.47" fill="#1e48b2"/>
<ellipse cx="28.4" cy="313.2" rx="1.47" ry="1.58" fill="#1e48b2"/>
<ellipse cx="62.9" cy="316.3" rx="1.47" ry="1.39" fill="#2452c4"/>
<ellipse cx="31.5" cy="328.9" rx="1.55" ry="1.13" fill="#2452c4"/>
<ellipse cx="16.6" cy="344.2" rx="1.35" ry="1.22" fill="#1e48b2"/>
<ellipse cx="54.8" cy="370.3" rx="1.50" ry="1.54" fill="#1e48b2"/>
<ellipse cx="60.3" cy="357.9" rx="1.35" ry="1.29" fill="#3066dc"/>
<ellipse cx="56.3" cy="331.4" rx="1.37" ry="1.30" fill="#2452c4"/>
<ellipse cx="91.9" cy="361.0" rx="1.57" ry="1.45" fill="#2a5ed6"/>
<ellipse cx="43.1" cy="328.0" rx="1.54" ry="1.62" fill="#2452c4"/>
<ellipse cx="40.7" cy="317.0" rx="1.46" ry="1.26" fill="#1a3ea0"/>
<ellipse cx="85.1" cy="339.8" rx="1.57" ry="1.39" fill="#2452c4"/>
<ellipse cx="92.5" cy="338.9" rx="1.42" ry="1.61" fill="#3066dc"/>
<ellipse cx="102.9" cy="370.7" rx="1.23" ry="1.11" fill="#1e48b2"/>
<ellipse cx="13.9" cy="326.7" rx="1.13" ry="1.51" fill="#1e48b2"/>
<ellipse cx="105.0" cy="339.6" rx="1.56" ry="1.09" fill="#1e48b2"/>
<ellipse cx="20.6" cy="355.6" rx="1.50" ry="1.55" fill="#2a5ed6"/>
<ellipse cx="86.2" cy="330.8" rx="1.41" ry="1.49" fill="#1e48b2"/>
<ellipse cx="103.5" cy="364.5" rx="1.47" ry="1.26" fill="#3066dc"/>
<ellipse cx="24.8" cy="329.2" rx="1.35" ry="1.62" fill="#3066dc"/>
<ellipse cx="23.2" cy="316.3" rx="1.08" ry="1.14" fill="#1a3ea0"/>
<ellipse cx="87.9" cy="324.5" rx="1.10" ry="1.19" fill="#1e48b2"/>
<ellipse cx="65.8" cy="343.1" rx="1.24" ry="1.22" fill="#2a5ed6"/>
<ellipse cx="31.5" cy="362.7" rx="1.61" ry="1.26" fill="#3066dc"/>
<ellipse cx="26.0" cy="356.6" rx="1.60" ry="1.56" fill="#1e48b2"/>
<ellipse cx="24.6" cy="341.2" rx="1.28" ry="1.55" fill="#1e48b2"/>
<ellipse cx="42.1" cy="373.3" rx="1.43" ry="1.40" fill="#1a3ea0"/>
<ellipse cx="33.4" cy="339.4" rx="1.14" ry="1.61" fill="#1a3ea0"/>
<ellipse cx="93.3" cy="356.5" rx="1.23" ry="1.42" fill="#2452c4"/>
<ellipse cx="23.1" cy="380.5" rx="1.59" ry="1.32" fill="#3066dc"/>
<ellipse cx="36.4" cy="353.7" rx="1.36" ry="1.38" fill="#2a5ed6"/>
<ellipse cx="48.4" cy="343.5" rx="1.51" ry="1.61" fill="#3066dc"/>
<ellipse cx="67.2" cy="372.0" rx="1.09" ry="1.41" fill="#2452c4"/>
<ellipse cx="30.8" cy="322.8" rx="1.11" ry="1.42" fill="#1e48b2"/>
<ellipse cx="98.3" cy="368.6" rx="1.27" ry="1.58" fill="#1a3ea0"/>
<ellipse cx="37.0" cy="325.3" rx="1.46" ry="1.48" fill="#2a5ed6"/>
<ellipse cx="82.6" cy="377.1" rx="1.40" ry="1.60" fill="#2a5ed6"/>
<ellipse cx="32.1" cy="377.8" rx="1.60" ry="1.22" fill="#1e48b2"/>
<ellipse cx="53.0" cy="319.4" rx="1.24" ry="1.40" fill="#2452c4"/>
<ellipse cx="17.4" cy="378.6" rx="1.28" ry="1.25" fill="#3066dc"/>
<ellipse cx="36.0" cy="360.8" rx="1.54" ry="1.22" fill="#1e48b2"/>
<ellipse cx="37.7" cy="369.0" rx="1.14" ry="1.52" fill="#1a3ea0"/>
<ellipse cx="69.3" cy="332.4" rx="1.45" ry="1.15" fill="#1a3ea0"/>
<ellipse cx="20.2" cy="328.0" rx="1.20" ry="1.51" fill="#2452c4"/>
<ellipse cx="99.1" cy="326.3" rx="1.26" ry="1.45" fill="#2a5ed6"/>
<ellipse cx="15.3" cy="330.8" rx="1.13" ry="1.25" fill="#3066dc"/>
<ellipse cx="67.0" cy="321.3" rx="1.44" ry="1.20" fill="#2452c4"/>
<ellipse cx="47.5" cy="373.7" rx="1.12" ry="1.48" fill="#2452c4"/>
<ellipse cx="105.0" cy="357.5" rx="1.56" ry="1.32" fill="#2452c4"/>
<ellipse cx="15.8" cy="356.1" rx="1.50" ry="1.10" fill="#2452c4"/>
<ellipse cx="58.6" cy="362.6" rx="1.25" ry="1.53" fill="#1a3ea0"/>
<ellipse cx="43.5" cy="381.2" rx="1.18" ry="1.23" fill="#2a5ed6"/>
<ellipse cx="20.8" cy="349.9" rx="1.52" ry="1.27" fill="#2452c4"/>
<ellipse cx="82.3" cy="360.8" rx="1.31" ry="1.36" fill="#3066dc"/>
<ellipse cx="87.6" cy="375.3" rx="1.33" ry="1.42" fill="#3066dc"/>
<ellipse cx="46.5" cy="359.5" rx="1.31" ry="1.30" fill="#1e48b2"/>
<ellipse cx="94.1" cy="351.7" rx="1.16" ry="1.08" fill="#1a3ea0"/>
<ellipse cx="71.9" cy="338.6" rx="1.61" ry="1.31" fill="#2452c4"/>
<ellipse cx="68.0" cy="354.2" rx="1.10" ry="1.33" fill="#1a3ea0"/>
<ellipse cx="82.2" cy="352.3" rx="1.60" ry="1.37" fill="#2452c4"/>
<ellipse cx="78.7" cy="346.5" rx="1.55" ry="1.54" fill="#3066dc"/>
<ellipse cx="70.9" cy="375.7" rx="1.14" ry="1.21" fill="#2a5ed6"/>
<ellipse cx="37.6" cy="313.0" rx="1.57" ry="1.45" fill="#2452c4"/>
<ellipse cx="41.8" cy="359.0" rx="1.56" ry="1.57" fill="#1a3ea0"/>
<ellipse cx="98.0" cy="357.7" rx="1.11" ry="1.34" fill="#2a5ed6"/>
<ellipse cx="26.5" cy="346.5" rx="1.17" ry="1.24" fill="#2a5ed6"/>
<ellipse cx="91.6" cy="370.8" rx="1.36" ry="1.30" fill="#1a3ea0"/>
<ellipse cx="72.0" cy="346.3" rx="1.14" ry="1.15" fill="#1a3ea0"/>
<ellipse cx="95.0" cy="315.1" rx="1.34" ry="1.50" fill="#3066dc"/>
<ellipse cx="42.5" cy="366.8" rx="1.20" ry="1.15" fill="#2a5ed6"/>
<ellipse cx="15.6" cy="321.6" rx="1.17" ry="1.51" fill="#2452c4"/>
<ellipse cx="56.1" cy="313.9" rx="1.52" ry="1.08" fill="#1a3ea0"/>
<ellipse cx="91.0" cy="328.6" rx="1.55" ry="1.11" fill="#3066dc"/>
<ellipse cx="77.5" cy="326.0" rx="1.21" ry="1.41" fill="#1a3ea0"/>
<ellipse cx="58.0" cy="324.5" rx="1.31" ry="1.34" fill="#2a5ed6"/>
<ellipse cx="39.1" cy="336.1" rx="1.54" ry="1.50" fill="#2a5ed6"/>
<ellipse cx="50.4" cy="366.8" rx="1.15" ry="1.12" fill="#2a5ed6"/>
<ellipse cx="98.1" cy="318.2" rx="1.54" ry="1.13" fill="#1a3ea0"/>
<ellipse cx="48.8" cy="351.4" rx="1.34" ry="1.16" fill="#2a5ed6"/>
<ellipse cx="80.9" cy="368.7" rx="1.27" ry="1.43" fill="#1a3ea0"/>
<ellipse cx="73.5" cy="361.7" rx="1.24" ry="1.22" fill="#3066dc"/>
<ellipse cx="63.7" cy="366.8" rx="1.31" ry="1.15" fill="#2a5ed6"/>
<ellipse cx="89.1" cy="316.6" rx="1.47" ry="1.29" fill="#2a5ed6"/>
<ellipse cx="42.8" cy="338.5" rx="1.39" ry="1.10" fill="#1e48b2"/>
<ellipse cx="33.2" cy="370.9" rx="1.41" ry="1.50" fill="#1e48b2"/>
<ellipse cx="103.9" cy="348.4" rx="1.42" ry="1.10" fill="#1e48b2"/>
<ellipse cx="67.1" cy="326.1" rx="1.11" ry="1.42" fill="#3066dc"/>
<ellipse cx="63.6" cy="346.9" rx="1.31" ry="1.45" fill="#1e48b2"/>
<ellipse cx="70.1" cy="314.1" rx="1.09" ry="1.20" fill="#3066dc"/>
<ellipse cx="38.8" cy="344.8" rx="1.46" ry="1.12" fill="#1e48b2"/>
<ellipse cx="31.6" cy="354.8" rx="1.20" ry="1.15" fill="#2a5ed6"/>
<ellipse cx="77.7" cy="334.4" rx="1.59" ry="1.28" fill="#1a3ea0"/>
<ellipse cx="23.6" cy="362.6" rx="1.51" ry="1.22" fill="#1e48b2"/>
<ellipse cx="63.0" cy="323.2" rx="1.45" ry="1.59" fill="#1a3ea0"/>
<ellipse cx="97.7" cy="334.0" rx="1.51" ry="1.44" fill="#3066dc"/>
<ellipse cx="51.3" cy="359.5" rx="1.38" ry="1.14" fill="#1a3ea0"/>
<ellipse cx="77.3" cy="375.1" rx="1.47" ry="1.34" fill="#2452c4"/>
<ellipse cx="103.9" cy="320.2" rx="1.50" ry="1.10" fill="#2a5ed6"/>
<ellipse cx="31.4" cy="317.1" rx="1.38" ry="1.44" fill="#1e48b2"/>
<ellipse cx="91.9" cy="380.5" rx="1.18" ry="1.09" fill="#2a5ed6"/>
<ellipse cx="44.2" cy="344.4" rx="1.09" ry="1.14" fill="#1e48b2"/>
<ellipse cx="61.7" cy="341.9" rx="1.53" ry="1.59" fill="#1a3ea0"/>
<ellipse cx="37.8" cy="375.1" rx="1.24" ry="1.13" fill="#1a3ea0"/>
<ellipse cx="97.2" cy="372.9" rx="1.36" ry="1.47" fill="#2a5ed6"/>
<ellipse cx="78.4" cy="365.1" rx="1.38" ry="1.13" fill="#1a3ea0"/>
<ellipse cx="14.8" cy="336.7" rx="1.11" ry="1.26" fill="#1a3ea0"/>
<ellipse cx="104.9" cy="313.8" rx="1.18" ry="1.12" fill="#2452c4"/>
<ellipse cx="48.7" cy="319.0" rx="1.43" ry="1.33" fill="#1e48b2"/>
<ellipse cx="47.8" cy="331.9" rx="1.22" ry="1.40" fill="#3066dc"/>
<ellipse cx="83.4" cy="315.7" rx="1.38" ry="1.60" fill="#1e48b2"/>
<ellipse cx="20.6" cy="374.7" rx="1.35" ry="1.61" fill="#1e48b2"/>
<ellipse cx="53.7" cy="345.2" rx="1.54" ry="1.60" fill="#1e48b2"/>
<ellipse cx="104.3" cy="329.0" rx="1.45" ry="1.49" fill="#1a3ea0"/>
<ellipse cx="62.5" cy="376.9" rx="1.45" ry="1.16" fill="#1e48b2"/>
<ellipse cx="86.2" cy="348.8" rx="1.56" ry="1.16" fill="#2a5ed6"/>
<ellipse cx="82.1" cy="328.7" rx="1.35" ry="1.34" fill="#1a3ea0"/>
<ellipse cx="86.7" cy="355.3" rx="1.59" ry="1.40" fill="#2452c4"/>
<ellipse cx="77.5" cy="351.2" rx="1.15" ry="1.49" fill="#2452c4"/>
<ellipse cx="37.0" cy="379.8" rx="1.40" ry="1.25" fill="#2452c4"/>
<ellipse cx="17.5" cy="316.4" rx="1.54" ry="1.37" fill="#3066dc"/>
<ellipse cx="71.8" cy="319.3" rx="1.44" ry="1.54" fill="#1a3ea0"/>
<ellipse cx="20.7" cy="320.5" rx="1.54" ry="1.40" fill="#3066dc"/>
<ellipse cx="74.6" cy="380.5" rx="1.56" ry="1.25" fill="#3066dc"/>
<ellipse cx="44.1" cy="350.1" rx="1.34" ry="1.29" fill="#2452c4"/>
<ellipse cx="53.6" cy="337.7" rx="1.39" ry="1.21" fill="#1e48b2"/>
<ellipse cx="40.1" cy="322.1" rx="1.50" ry="1.16" fill="#1e48b2"/>
<ellipse cx="99.2" cy="377.1" rx="1.46" ry="1.19" fill="#1a3ea0"/>
<ellipse cx="47.8" cy="337.3" rx="1.53" ry="1.52" fill="#1a3ea0"/>
<ellipse cx="74.2" cy="329.1" rx="1.09" ry="1.62" fill="#2a5ed6"/>
<ellipse cx="48.7" cy="323.8" rx="1.54" ry="1.30" fill="#2a5ed6"/>
<ellipse cx="89.8" cy="345.3" rx="1.33" ry="1.20" fill="#2452c4"/>
<ellipse cx="38.6" cy="349.1" rx="1.43" ry="1.50" fill="#2a5ed6"/>
<ellipse cx="27.8" cy="365.4" rx="1.60" ry="1.54" fill="#2452c4"/>
<ellipse cx="13.9" cy="368.9" rx="1.56" ry="1.50" fill="#2452c4"/>
<ellipse cx="80.4" cy="318.9" rx="1.18" ry="1.46" fill="#2a5ed6"/>
<ellipse cx="58.4" cy="344.5" rx="1.57" ry="1.22" fill="#2a5ed6"/>
</g>
<clipPath id="d4"><rect x="110.1" y="311.7" width="93.8" height="70.1"/></clipPath>
<rect x="110.1" y="311.7" width="93.8" height="70.1" fill="#040208"/>
<g clip-path="url(#d4)" filter="url(#soft)">
<ellipse cx="154.7" cy="357.6" rx="1.21" ry="1.14" fill="#1e48b2"/>
<ellipse cx="172.6" cy="322.0" rx="1.34" ry="1.13" fill="#2a5ed6"/>
<ellipse cx="111.6" cy="338.1" rx="1.30" ry="1.58" fill="#2a5ed6"/>
<ellipse cx="136.1" cy="368.1" rx="1.20" ry="1.37" fill="#3066dc"/>
<ellipse cx="174.8" cy="353.7" rx="1.50" ry="1.53" fill="#3066dc"/>
<ellipse cx="162.5" cy="357.8" rx="1.20" ry="1.58" fill="#3066dc"/>
<ellipse cx="124.1" cy="342.6" rx="1.51" ry="1.18" fill="#3066dc"/>
<ellipse cx="125.7" cy="374.7" rx="1.24" ry="1.55" fill="#3066dc"/>
<ellipse cx="116.1" cy="368.7" rx="1.13" ry="1.41" fill="#1e48b2"/>
<ellipse cx="117.5" cy="359.6" rx="1.35" ry="1.18" fill="#1e48b2"/>
<ellipse cx="141.9" cy="340.1" rx="1.23" ry="1.59" fill="#1a3ea0"/>
<ellipse cx="188.9" cy="313.5" rx="1.53" ry="1.08" fill="#3066dc"/>
<ellipse cx="116.3" cy="375.3" rx="1.39" ry="1.56" fill="#1a3ea0"/>
<ellipse cx="157.9" cy="318.5" rx="1.19" ry="1.31" fill="#3066dc"/>
<ellipse cx="202.4" cy="377.5" rx="1.31" ry="1.17" fill="#3066dc"/>
<ellipse cx="123.2" cy="333.8" rx="1.22" ry="1.51" fill="#2a5ed6"/>
<ellipse cx="168.4" cy="323.5" rx="1.11" ry="1.42" fill="#3066dc"/>
<ellipse cx="175.4" cy="315.7" rx="1.36" ry="1.43" fill="#3066dc"/>
<ellipse cx="126.5" cy="368.5" rx="1.16" ry="1.44" fill="#2a5ed6"/>
<ellipse cx="147.8" cy="341.1" rx="1.30" ry="1.19" fill="#1e48b2"/>
<ellipse cx="166.0" cy="345.1" rx="1.23" ry="1.27" fill="#1a3ea0"/>
<ellipse cx="146.4" cy="314.3" rx="1.25" ry="1.38" fill="#3066dc"/>
<ellipse cx="178.1" cy="379.0" rx="1.13" ry="1.11" fill="#2452c4"/>
<ellipse cx="201.4" cy="358.0" rx="1.23" ry="1.39" fill="#2452c4"/>
<ellipse cx="174.8" cy="358.7" rx="1.15" ry="1.58" fill="#3066dc"/>
<ellipse cx="121.2" cy="328.4" rx="1.33" ry="1.10" fill="#2a5ed6"/>
<ellipse cx="144.4" cy="347.5" rx="1.56" ry="1.60" fill="#3066dc"/>
<ellipse cx="185.9" cy="346.7" rx="1.09" ry="1.24" fill="#2452c4"/>
<ellipse cx="150.6" cy="348.0" rx="1.50" ry="1.30" fill="#1a3ea0"/>
<ellipse cx="131.3" cy="341.7" rx="1.45" ry="1.12" fill="#1a3ea0"/>
<ellipse cx="146.7" cy="365.5" rx="1.18" ry="1.32" fill="#2452c4"/>
<ellipse cx="120.1" cy="350.1" rx="1.22" ry="1.40" fill="#2452c4"/>
<ellipse cx="127.2" cy="360.2" rx="1.26" ry="1.09" fill="#2a5ed6"/>
<ellipse cx="114.0" cy="331.3" rx="1.33" ry="1.28" fill="#3066dc"/>
<ellipse cx="142.6" cy="356.1" rx="1.62" ry="1.39" fill="#1e48b2"/>
<ellipse cx="115.4" cy="343.9" rx="1.61" ry="1.31" fill="#2452c4"/>
<ellipse cx="130.0" cy="331.7" rx="1.14" ry="1.11" fill="#2452c4"/>
<ellipse cx="154.9" cy="378.4" rx="1.40" ry="1.60" fill="#1a3ea0"/>
<ellipse cx="144.5" cy="325.3" rx="1.10" ry="1.34" fill="#2452c4"/>
<ellipse cx="180.2" cy="375.1" rx="1.25" ry="1.10" fill="#1a3ea0"/>
<ellipse cx="182.3" cy="335.8" rx="1.24" ry="1.62" fill="#2452c4"/>
<ellipse cx="133.1" cy="312.8" rx="1.34" ry="1.21" fill="#1e48b2"/>
<ellipse cx="114.3" cy="354.9" rx="1.35" ry="1.20" fill="#1e48b2"/>
<ellipse cx="157.4" cy="313.8" rx="1.21" ry="1.56" fill="#2452c4"/>
<ellipse cx="140.6" cy="366.5" rx="1.35" ry="1.10" fill="#3066dc"/>
<ellipse cx="188.0" cy="356.3" rx="1.22" ry="1.36" fill="#2452c4"/>
<ellipse cx="131.9" cy="348.6" rx="1.31" ry="1.22" fill="#3066dc"/>
<ellipse cx="135.0" cy="377.5" rx="1.11" ry="1.58" fill="#1a3ea0"/>
<ellipse cx="193.8" cy="323.4" rx="1.14" ry="1.39" fill="#2a5ed6"/>
<ellipse cx="137.7" cy="372.4" rx="1.35" ry="1.13" fill="#2452c4"/>
<ellipse cx="158.5" cy="360.2" rx="1.58" ry="1.39" fill="#2452c4"/>
<ellipse cx="176.1" cy="327.0" rx="1.26" ry="1.43" fill="#3066dc"/>
<ellipse cx="137.1" cy="329.8" rx="1.52" ry="1.37" fill="#3066dc"/>
<ellipse cx="149.7" cy="328.8" rx="1.26" ry="1.29" fill="#1e48b2"/>
<ellipse cx="196.2" cy="378.6" rx="1.12" ry="1.60" fill="#2452c4"/>
<ellipse cx="181.3" cy="341.0" rx="1.10" ry="1.57" fill="#2452c4"/>
<ellipse cx="165.3" cy="374.4" rx="1.49" ry="1.23" fill="#2a5ed6"/>
<ellipse cx="184.0" cy="352.2" rx="1.55" ry="1.45" fill="#1e48b2"/>
<ellipse cx="179.0" cy="351.1" rx="1.39" ry="1.48" fill="#1e48b2"/>
<ellipse cx="112.2" cy="361.2" rx="1.20" ry="1.08" fill="#2452c4"/>
<ellipse cx="194.7" cy="367.2" rx="1.09" ry="1.55" fill="#2a5ed6"/>
<ellipse cx="160.3" cy="366.6" rx="1.29" ry="1.50" fill="#1e48b2"/>
<ellipse cx="145.9" cy="319.0" rx="1.55" ry="1.38" fill="#2452c4"/>
<ellipse cx="143.4" cy="333.7" rx="1.17" ry="1.41" fill="#1a3ea0"/>
<ellipse cx="197.5" cy="359.7" rx="1.50" ry="1.33" fill="#1a3ea0"/>
<ellipse cx="175.8" cy="339.4" rx="1.32" ry="1.12" fill="#1a3ea0"/>
<ellipse cx="123.8" cy="318.4" rx="1.14" ry="1.38" fill="#3066dc"/>
<ellipse cx="139.7" cy="360.2" rx="1.41" ry="1.15" fill="#3066dc"/>
<ellipse cx="181.2" cy="357.7" rx="1.12" ry="1.55" fill="#2a5ed6"/>
<ellipse cx="197.5" cy="337.4" rx="1.24" ry="1.27" fill="#2a5ed6"/>
<ellipse cx="151.9" cy="324.6" rx="1.13" ry="1.37" fill="#1e48b2"/>
<ellipse cx="172.7" cy="335.7" rx="1.19" ry="1.61" fill="#1e48b2"/>
<ellipse cx="198.4" cy="312.7" rx="1.21" ry="1.34" fill="#1e48b2"/>
<ellipse cx="131.1" cy="375.6" rx="1.13" ry="1.14" fill="#1a3ea0"/>
<ellipse cx="167.0" cy="370.4" rx="1.51" ry="1.28" fill="#1e48b2"/>
<ellipse cx="190.1" cy="369.6" rx="1.30" ry="1.46" fill="#1e48b2"/>
<ellipse cx="201.0" cy="350.4" rx="1.12" ry="1.56" fill="#2452c4"/>
<ellipse cx="157.1" cy="337.1" rx="1.42" ry="1.58" fill="#1e48b2"/>
<ellipse cx="139.2" cy="321.6" rx="1.31" ry="1.51" fill="#2452c4"/>
<ellipse cx="185.3" cy="331.9" rx="1.28" ry="1.17" fill="#2452c4"/>
<ellipse cx="197.7" cy="353.5" rx="1.26" ry="1.54" fill="#3066dc"/>
<ellipse cx="146.8" cy="372.4" rx="1.37" ry="1.57" fill="#2452c4"/>
<ellipse cx="194.0" cy="334.3" rx="1.08" ry="1.25" fill="#1a3ea0"/>
<ellipse cx="122.3" cy="356.4" rx="1.14" ry="1.50" fill="#1a3ea0"/>
<ellipse cx="168.1" cy="330.4" rx="1.34" ry="1.12" fill="#2452c4"/>
<ellipse cx="185.7" cy="323.9" rx="1.30" ry="1.24" fill="#2452c4"/>
<ellipse cx="111.8" cy="324.0" rx="1.49" ry="1.61" fill="#2a5ed6"/>
<ellipse cx="160.5" cy="343.1" rx="1.45" ry="1.41" fill="#3066dc"/>
<ellipse cx="169.6" cy="339.0" rx="1.37" ry="1.57" fill="#1a3ea0"/>
<ellipse cx="177.1" cy="331.4" rx="1.25" ry="1.55" fill="#1e48b2"/>
<ellipse cx="196.6" cy="346.1" rx="1.41" ry="1.32" fill="#2452c4"/>
<ellipse cx="167.1" cy="364.2" rx="1.22" ry="1.40" fill="#3066dc"/>
<ellipse cx="116.4" cy="319.7" rx="1.15" ry="1.12" fill="#2452c4"/>
<ellipse cx="167.9" cy="378.8" rx="1.44" ry="1.42" fill="#3066dc"/>
<ellipse cx="199.9" cy="363.7" rx="1.57" ry="1.28" fill="#1a3ea0"/>
<ellipse cx="161.1" cy="334.0" rx="1.51" ry="1.44" fill="#2a5ed6"/>
<ellipse cx="133.1" cy="318.2" rx="1.12" ry="1.43" fill="#2452c4"/>
<ellipse cx="187.4" cy="364.5" rx="1.26" ry="1.28" fill="#2452c4"/>
<ellipse cx="190.8" cy="380.5" rx="1.24" ry="1.09" fill="#2a5ed6"/>
<ellipse cx="168.7" cy="349.2" rx="1.36" ry="1.49" fill="#2a5ed6"/>
<ellipse cx="120.1" cy="363.1" rx="1.51" ry="1.52" fill="#2a5ed6"/>
<ellipse cx="161.6" cy="353.3" rx="1.17" ry="1.40" fill="#1e48b2"/>
<ellipse cx="164.3" cy="338.3" rx="1.44" ry="1.62" fill="#2a5ed6"/>
<ellipse cx="139.4" cy="336.7" rx="1.49" ry="1.60" fill="#2a5ed6"/>
<ellipse cx="203.4" cy="335.0" rx="1.17" ry="1.34" fill="#2452c4"/>
<ellipse cx="170.8" cy="317.3" rx="1.41" ry="1.53" fill="#3066dc"/>
<ellipse cx="132.3" cy="325.7" rx="1.54" ry="1.45" fill="#1a3ea0"/>
<ellipse cx="169.9" cy="356.2" rx="1.21" ry="1.34" fill="#2452c4"/>
<ellipse cx="177.1" cy="364.1" rx="1.25" ry="1.20" fill="#3066dc"/>
<ellipse cx="178.2" cy="346.8" rx="1.37" ry="1.37" fill="#1e48b2"/>
<ellipse cx="139.1" cy="313.9" rx="1.57" ry="1.30" fill="#1e48b2"/>
<ellipse cx="146.9" cy="378.9" rx="1.60" ry="1.25" fill="#1e48b2"/>
<ellipse cx="188.4" cy="341.2" rx="1.30" ry="1.09" fill="#2452c4"/>
<ellipse cx="121.9" cy="369.6" rx="1.56" ry="1.33" fill="#1a3ea0"/>
<ellipse cx="190.6" cy="375.0" rx="1.41" ry="1.28" fill="#1e48b2"/>
<ellipse cx="173.6" cy="372.2" rx="1.42" ry="1.16" fill="#2a5ed6"/>
<ellipse cx="201.3" cy="321.9" rx="1.33" ry="1.60" fill="#3066dc"/>
<ellipse cx="180.5" cy="369.1" rx="1.41" ry="1.25" fill="#2a5ed6"/>
<ellipse cx="126.4" cy="313.6" rx="1.49" ry="1.34" fill="#1e48b2"/>
<ellipse cx="119.3" cy="346.0" rx="1.56" ry="1.50" fill="#2452c4"/>
<ellipse cx="149.2" cy="334.6" rx="1.58" ry="1.12" fill="#2452c4"/>
<ellipse cx="163.3" cy="349.4" rx="1.59" ry="1.17" fill="#1a3ea0"/>
<ellipse cx="159.9" cy="380.3" rx="1.45" ry="1.38" fill="#1a3ea0"/>
<ellipse cx="140.2" cy="376.5" rx="1.22" ry="1.36" fill="#2452c4"/>
<ellipse cx="129.6" cy="320.6" rx="1.49" ry="1.19" fill="#3066dc"/>
<ellipse cx="199.9" cy="316.7" rx="1.12" ry="1.23" fill="#3066dc"/>
<ellipse cx="151.3" cy="375.1" rx="1.41" ry="1.42" fill="#2452c4"/>
<ellipse cx="199.8" cy="373.0" rx="1.47" ry="1.43" fill="#2452c4"/>
<ellipse cx="172.0" cy="345.3" rx="1.55" ry="1.47" fill="#1a3ea0"/>
<ellipse cx="127.0" cy="355.3" rx="1.28" ry="1.08" fill="#1a3ea0"/>
<ellipse cx="161.0" cy="323.7" rx="1.16" ry="1.30" fill="#2452c4"/>
<ellipse cx="126.4" cy="328.3" rx="1.54" ry="1.34" fill="#2a5ed6"/>
<ellipse cx="136.2" cy="350.1" rx="1.28" ry="1.17" fill="#3066dc"/>
<ellipse cx="178.9" cy="321.9" rx="1.36" ry="1.37" fill="#3066dc"/>
<ellipse cx="118.8" cy="324.3" rx="1.55" ry="1.26" fill="#1e48b2"/>
</g>
<clipPath id="d5"><rect x="13.3" y="384.3" width="93.8" height="70.2"/></clipPath>
<rect x="13.3" y="384.3" width="93.8" height="70.2" fill="#040208"/>
<g clip-path="url(#d5)" filter="url(#soft)">
<ellipse cx="55.9" cy="423.4" rx="1.21" ry="1.37" fill="#3066dc"/>
<ellipse cx="99.8" cy="416.9" rx="1.57" ry="1.34" fill="#1a3ea0"/>
<ellipse cx="61.0" cy="425.3" rx="1.12" ry="1.09" fill="#1e48b2"/>
<ellipse cx="31.0" cy="420.1" rx="1.22" ry="1.21" fill="#1e48b2"/>
<ellipse cx="72.4" cy="439.5" rx="1.37" ry="1.38" fill="#1e48b2"/>
<ellipse cx="22.6" cy="405.7" rx="1.43" ry="1.16" fill="#2452c4"/>
<ellipse cx="22.2" cy="440.7" rx="1.55" ry="1.36" fill="#2a5ed6"/>
<ellipse cx="78.3" cy="387.7" rx="1.44" ry="1.11" fill="#1a3ea0"/>
<ellipse cx="105.1" cy="451.4" rx="1.10" ry="1.50" fill="#3066dc"/>
<ellipse cx="74.6" cy="427.3" rx="1.34" ry="1.47" fill="#1e48b2"/>
<ellipse cx="28.4" cy="385.8" rx="1.47" ry="1.58" fill="#1e48b2"/>
<ellipse cx="62.9" cy="388.9" rx="1.47" ry="1.39" fill="#2452c4"/>
<ellipse cx="31.5" cy="401.5" rx="1.55" ry="1.13" fill="#2452c4"/>
<ellipse cx="16.6" cy="416.8" rx="1.35" ry="1.22" fill="#1e48b2"/>
<ellipse cx="54.8" cy="442.9" rx="1.50" ry="1.54" fill="#1e48b2"/>
<ellipse cx="60.3" cy="430.5" rx="1.35" ry="1.29" fill="#3066dc"/>
<ellipse cx="56.3" cy="404.0" rx="1.37" ry="1.30" fill="#2452c4"/>
<ellipse cx="91.9" cy="433.6" rx="1.57" ry="1.45" fill="#2a5ed6"/>
<ellipse cx="43.1" cy="400.6" rx="1.54" ry="1.62" fill="#2452c4"/>
<ellipse cx="40.7" cy="389.6" rx="1.46" ry="1.26" fill="#1a3ea0"/>
<ellipse cx="85.1" cy="412.4" rx="1.57" ry="1.39" fill="#2452c4"/>
<ellipse cx="92.5" cy="411.5" rx="1.42" ry="1.61" fill="#3066dc"/>
<ellipse cx="102.9" cy="443.3" rx="1.23" ry="1.11" fill="#1e48b2"/>
<ellipse cx="13.9" cy="399.3" rx="1.13" ry="1.51" fill="#1e48b2"/>
<ellipse cx="105.0" cy="412.2" rx="1.56" ry="1.09" fill="#1e48b2"/>
<ellipse cx="20.6" cy="428.2" rx="1.50" ry="1.55" fill="#2a5ed6"/>
<ellipse cx="86.2" cy="403.4" rx="1.41" ry="1.49" fill="#1e48b2"/>
<ellipse cx="103.5" cy="437.1" rx="1.47" ry="1.26" fill="#3066dc"/>
<ellipse cx="24.8" cy="401.8" rx="1.35" ry="1.62" fill="#3066dc"/>
<ellipse cx="23.2" cy="388.9" rx="1.08" ry="1.14" fill="#1a3ea0"/>
<ellipse cx="87.9" cy="397.1" rx="1.10" ry="1.19" fill="#1e48b2"/>
<ellipse cx="65.8" cy="415.7" rx="1.24" ry="1.22" fill="#2a5ed6"/>
<ellipse cx="31.5" cy="435.3" rx="1.61" ry="1.26" fill="#3066dc"/>
<ellipse cx="26.0" cy="429.2" rx="1.60" ry="1.56" fill="#1e48b2"/>
<ellipse cx="24.6" cy="413.8" rx="1.28" ry="1.55" fill="#1e48b2"/>
<ellipse cx="42.1" cy="445.9" rx="1.43" ry="1.40" fill="#1a3ea0"/>
<ellipse cx="33.4" cy="412.0" rx="1.14" ry="1.61" fill="#1a3ea0"/>
<ellipse cx="93.3" cy="429.1" rx="1.23" ry="1.42" fill="#2452c4"/>
<ellipse cx="23.1" cy="453.1" rx="1.59" ry="1.32" fill="#3066dc"/>
<ellipse cx="36.4" cy="426.3" rx="1.36" ry="1.38" fill="#2a5ed6"/>
<ellipse cx="48.4" cy="416.1" rx="1.51" ry="1.61" fill="#3066dc"/>
<ellipse cx="67.2" cy="444.6" rx="1.09" ry="1.41" fill="#2452c4"/>
<ellipse cx="30.8" cy="395.4" rx="1.11" ry="1.42" fill="#1e48b2"/>
<ellipse cx="98.3" cy="441.2" rx="1.27" ry="1.58" fill="#1a3ea0"/>
<ellipse cx="37.0" cy="397.9" rx="1.46" ry="1.48" fill="#2a5ed6"/>
<ellipse cx="82.6" cy="449.7" rx="1.40" ry="1.60" fill="#2a5ed6"/>
<ellipse cx="32.1" cy="450.4" rx="1.60" ry="1.22" fill="#1e48b2"/>
<ellipse cx="53.0" cy="392.0" rx="1.24" ry="1.40" fill="#2452c4"/>
<ellipse cx="17.4" cy="451.2" rx="1.28" ry="1.25" fill="#3066dc"/>
<ellipse cx="36.0" cy="433.4" rx="1.54" ry="1.22" fill="#1e48b2"/>
<ellipse cx="37.7" cy="441.6" rx="1.14" ry="1.52" fill="#1a3ea0"/>
<ellipse cx="69.3" cy="405.0" rx="1.45" ry="1.15" fill="#1a3ea0"/>
<ellipse cx="20.2" cy="400.6" rx="1.20" ry="1.51" fill="#2452c4"/>
<ellipse cx="99.1" cy="398.9" rx="1.26" ry="1.45" fill="#2a5ed6"/>
<ellipse cx="15.3" cy="403.4" rx="1.13" ry="1.25" fill="#3066dc"/>
<ellipse cx="67.0" cy="393.9" rx="1.44" ry="1.20" fill="#2452c4"/>
<ellipse cx="47.5" cy="446.3" rx="1.12" ry="1.48" fill="#2452c4"/>
<ellipse cx="105.0" cy="430.1" rx="1.56" ry="1.32" fill="#2452c4"/>
<ellipse cx="15.8" cy="428.7" rx="1.50" ry="1.10" fill="#2452c4"/>
<ellipse cx="58.6" cy="435.2" rx="1.25" ry="1.53" fill="#1a3ea0"/>
<ellipse cx="43.5" cy="453.8" rx="1.18" ry="1.23" fill="#2a5ed6"/>
<ellipse cx="20.8" cy="422.5" rx="1.52" ry="1.27" fill="#2452c4"/>
<ellipse cx="82.3" cy="433.4" rx="1.31" ry="1.36" fill="#3066dc"/>
<ellipse cx="87.6" cy="447.9" rx="1.33" ry="1.42" fill="#3066dc"/>
<ellipse cx="46.5" cy="432.1" rx="1.31" ry="1.30" fill="#1e48b2"/>
<ellipse cx="94.1" cy="424.3" rx="1.16" ry="1.08" fill="#1a3ea0"/>
<ellipse cx="71.9" cy="411.2" rx="1.61" ry="1.31" fill="#2452c4"/>
<ellipse cx="68.0" cy="426.8" rx="1.10" ry="1.33" fill="#1a3ea0"/>
<ellipse cx="82.2" cy="424.9" rx="1.60" ry="1.37" fill="#2452c4"/>
<ellipse cx="78.7" cy="419.1" rx="1.55" ry="1.54" fill="#3066dc"/>
<ellipse cx="70.9" cy="448.3" rx="1.14" ry="1.21" fill="#2a5ed6"/>
<ellipse cx="37.6" cy="385.6" rx="1.57" ry="1.45" fill="#2452c4"/>
<ellipse cx="41.8" cy="431.6" rx="1.56" ry="1.57" fill="#1a3ea0"/>
<ellipse cx="98.0" cy="430.3" rx="1.11" ry="1.34" fill="#2a5ed6"/>
<ellipse cx="26.5" cy="419.1" rx="1.17" ry="1.24" fill="#2a5ed6"/>
<ellipse cx="91.6" cy="443.4" rx="1.36" ry="1.30" fill="#1a3ea0"/>
<ellipse cx="72.0" cy="418.9" rx="1.14" ry="1.15" fill="#1a3ea0"/>
<ellipse cx="95.0" cy="387.7" rx="1.34" ry="1.50" fill="#3066dc"/>
<ellipse cx="42.5" cy="439.4" rx="1.20" ry="1.15" fill="#2a5ed6"/>
<ellipse cx="15.6" cy="394.2" rx="1.17" ry="1.51" fill="#2452c4"/>
<ellipse cx="56.1" cy="386.5" rx="1.52" ry="1.08" fill="#1a3ea0"/>
<ellipse cx="91.0" cy="401.2" rx="1.55" ry="1.11" fill="#3066dc"/>
<ellipse cx="77.5" cy="398.6" rx="1.21" ry="1.41" fill="#1a3ea0"/>
<ellipse cx="58.0" cy="397.1" rx="1.31" ry="1.34" fill="#2a5ed6"/>
<ellipse cx="39.1" cy="408.7" rx="1.54" ry="1.50" fill="#2a5ed6"/>
<ellipse cx="50.4" cy="439.4" rx="1.15" ry="1.12" fill="#2a5ed6"/>
<ellipse cx="98.1" cy="390.8" rx="1.54" ry="1.13" fill="#1a3ea0"/>
<ellipse cx="48.8" cy="424.0" rx="1.34" ry="1.16" fill="#2a5ed6"/>
<ellipse cx="80.9" cy="441.3" rx="1.27" ry="1.43" fill="#1a3ea0"/>
<ellipse cx="73.5" cy="434.3" rx="1.24" ry="1.22" fill="#3066dc"/>
<ellipse cx="63.7" cy="439.4" rx="1.31" ry="1.15" fill="#2a5ed6"/>
<ellipse cx="89.1" cy="389.2" rx="1.47" ry="1.29" fill="#2a5ed6"/>
<ellipse cx="42.8" cy="411.1" rx="1.39" ry="1.10" fill="#1e48b2"/>
<ellipse cx="33.2" cy="443.5" rx="1.41" ry="1.50" fill="#1e48b2"/>
<ellipse cx="103.9" cy="421.0" rx="1.42" ry="1.10" fill="#1e48b2"/>
<ellipse cx="67.1" cy="398.7" rx="1.11" ry="1.42" fill="#3066dc"/>
<ellipse cx="63.6" cy="419.5" rx="1.31" ry="1.45" fill="#1e48b2"/>
<ellipse cx="70.1" cy="386.7" rx="1.09" ry="1.20" fill="#3066dc"/>
<ellipse cx="38.8" cy="417.4" rx="1.46" ry="1.12" fill="#1e48b2"/>
<ellipse cx="31.6" cy="427.4" rx="1.20" ry="1.15" fill="#2a5ed6"/>
<ellipse cx="77.7" cy="407.0" rx="1.59" ry="1.28" fill="#1a3ea0"/>
<ellipse cx="23.6" cy="435.2" rx="1.51" ry="1.22" fill="#1e48b2"/>
<ellipse cx="63.0" cy="395.8" rx="1.45" ry="1.59" fill="#1a3ea0"/>
<ellipse cx="97.7" cy="406.6" rx="1.51" ry="1.44" fill="#3066dc"/>
<ellipse cx="51.3" cy="432.1" rx="1.38" ry="1.14" fill="#1a3ea0"/>
<ellipse cx="77.3" cy="447.7" rx="1.47" ry="1.34" fill="#2452c4"/>
<ellipse cx="103.9" cy="392.8" rx="1.50" ry="1.10" fill="#2a5ed6"/>
<ellipse cx="31.4" cy="389.7" rx="1.38" ry="1.44" fill="#1e48b2"/>
<ellipse cx="91.9" cy="453.1" rx="1.18" ry="1.09" fill="#2a5ed6"/>
<ellipse cx="44.2" cy="417.0" rx="1.09" ry="1.14" fill="#1e48b2"/>
<ellipse cx="61.7" cy="414.5" rx="1.53" ry="1.59" fill="#1a3ea0"/>
<ellipse cx="37.8" cy="447.7" rx="1.24" ry="1.13" fill="#1a3ea0"/>
<ellipse cx="97.2" cy="445.5" rx="1.36" ry="1.47" fill="#2a5ed6"/>
<ellipse cx="78.4" cy="437.7" rx="1.38" ry="1.13" fill="#1a3ea0"/>
<ellipse cx="14.8" cy="409.3" rx="1.11" ry="1.26" fill="#1a3ea0"/>
<ellipse cx="104.9" cy="386.4" rx="1.18" ry="1.12" fill="#2452c4"/>
<ellipse cx="48.7" cy="391.6" rx="1.43" ry="1.33" fill="#1e48b2"/>
<ellipse cx="47.8" cy="404.5" rx="1.22" ry="1.40" fill="#3066dc"/>
<ellipse cx="83.4" cy="388.3" rx="1.38" ry="1.60" fill="#1e48b2"/>
<ellipse cx="20.6" cy="447.3" rx="1.35" ry="1.61" fill="#1e48b2"/>
<ellipse cx="53.7" cy="417.8" rx="1.54" ry="1.60" fill="#1e48b2"/>
<ellipse cx="104.3" cy="401.6" rx="1.45" ry="1.49" fill="#1a3ea0"/>
<ellipse cx="62.5" cy="449.5" rx="1.45" ry="1.16" fill="#1e48b2"/>
<ellipse cx="86.2" cy="421.4" rx="1.56" ry="1.16" fill="#2a5ed6"/>
<ellipse cx="82.1" cy="401.3" rx="1.35" ry="1.34" fill="#1a3ea0"/>
<ellipse cx="86.7" cy="427.9" rx="1.59" ry="1.40" fill="#2452c4"/>
<ellipse cx="77.5" cy="423.8" rx="1.15" ry="1.49" fill="#2452c4"/>
<ellipse cx="37.0" cy="452.4" rx="1.40" ry="1.25" fill="#2452c4"/>
<ellipse cx="17.5" cy="389.0" rx="1.54" ry="1.37" fill="#3066dc"/>
<ellipse cx="71.8" cy="391.9" rx="1.44" ry="1.54" fill="#1a3ea0"/>
<ellipse cx="20.7" cy="393.1" rx="1.54" ry="1.40" fill="#3066dc"/>
<ellipse cx="74.6" cy="453.1" rx="1.56" ry="1.25" fill="#3066dc"/>
<ellipse cx="44.1" cy="422.7" rx="1.34" ry="1.29" fill="#2452c4"/>
<ellipse cx="53.6" cy="410.3" rx="1.39" ry="1.21" fill="#1e48b2"/>
<ellipse cx="40.1" cy="394.7" rx="1.50" ry="1.16" fill="#1e48b2"/>
<ellipse cx="99.2" cy="449.7" rx="1.46" ry="1.19" fill="#1a3ea0"/>
<ellipse cx="47.8" cy="409.9" rx="1.53" ry="1.52" fill="#1a3ea0"/>
<ellipse cx="74.2" cy="401.7" rx="1.09" ry="1.62" fill="#2a5ed6"/>
<ellipse cx="48.7" cy="396.4" rx="1.54" ry="1.30" fill="#2a5ed6"/>
<ellipse cx="89.8" cy="417.9" rx="1.33" ry="1.20" fill="#2452c4"/>
<ellipse cx="38.6" cy="421.7" rx="1.43" ry="1.50" fill="#2a5ed6"/>
<ellipse cx="27.8" cy="438.0" rx="1.60" ry="1.54" fill="#2452c4"/>
<ellipse cx="13.9" cy="441.5" rx="1.56" ry="1.50" fill="#2452c4"/>
<ellipse cx="80.4" cy="391.5" rx="1.18" ry="1.46" fill="#2a5ed6"/>
<ellipse cx="58.4" cy="417.1" rx="1.57" ry="1.22" fill="#2a5ed6"/>
<ellipse cx="20.2" cy="387.1" rx="1.45" ry="1.94" fill="#c04cb4"/>
<ellipse cx="55.0" cy="386.6" rx="1.53" ry="1.70" fill="#b444ac"/>
<ellipse cx="62.6" cy="389.7" rx="1.68" ry="1.62" fill="#c04cb4"/>
<ellipse cx="50.1" cy="392.7" rx="1.42" ry="1.38" fill="#b444ac"/>
<ellipse cx="64.2" cy="394.4" rx="1.65" ry="1.88" fill="#c04cb4"/>
<ellipse cx="62.3" cy="397.0" rx="1.83" ry="1.54" fill="#c04cb4"/>
<ellipse cx="26.8" cy="401.5" rx="1.76" ry="1.43" fill="#b444ac"/>
<ellipse cx="34.8" cy="399.9" rx="1.38" ry="1.38" fill="#cc58bc"/>
<ellipse cx="37.1" cy="399.6" rx="1.37" ry="1.96" fill="#cc58bc"/>
<ellipse cx="45.9" cy="407.0" rx="1.51" ry="1.65" fill="#c04cb4"/>
<ellipse cx="76.9" cy="408.8" rx="1.72" ry="1.88" fill="#b444ac"/>
<ellipse cx="74.3" cy="413.7" rx="1.74" ry="1.60" fill="#cc58bc"/>
<ellipse cx="96.8" cy="412.6" rx="1.51" ry="1.67" fill="#b444ac"/>
<ellipse cx="95.3" cy="419.5" rx="1.99" ry="1.64" fill="#cc58bc"/>
<ellipse cx="62.6" cy="419.5" rx="1.99" ry="1.43" fill="#cc58bc"/>
<ellipse cx="37.1" cy="426.9" rx="2.03" ry="1.94" fill="#c04cb4"/>
<ellipse cx="75.4" cy="428.7" rx="1.87" ry="1.97" fill="#cc58bc"/>
<ellipse cx="78.9" cy="428.0" rx="1.70" ry="2.02" fill="#cc58bc"/>
<ellipse cx="76.9" cy="433.3" rx="1.92" ry="1.82" fill="#b444ac"/>
<ellipse cx="14.8" cy="437.2" rx="1.55" ry="2.02" fill="#b444ac"/>
<ellipse cx="19.4" cy="439.5" rx="1.94" ry="1.70" fill="#cc58bc"/>
<ellipse cx="22.5" cy="437.6" rx="1.94" ry="1.69" fill="#cc58bc"/>
<ellipse cx="39.7" cy="438.7" rx="1.90" ry="1.64" fill="#c04cb4"/>
<ellipse cx="43.6" cy="439.8" rx="1.61" ry="1.96" fill="#cc58bc"/>
<ellipse cx="62.6" cy="438.7" rx="1.86" ry="1.42" fill="#cc58bc"/>
<ellipse cx="63.3" cy="442.5" rx="1.71" ry="1.89" fill="#cc58bc"/>
<ellipse cx="90.2" cy="438.7" rx="1.93" ry="1.61" fill="#cc58bc"/>
<ellipse cx="96.8" cy="385.8" rx="1.38" ry="1.39" fill="#cc58bc"/>
<ellipse cx="104.5" cy="385.8" rx="1.94" ry="1.78" fill="#cc58bc"/>
<ellipse cx="106.0" cy="441.8" rx="1.63" ry="1.48" fill="#cc58bc"/>
<ellipse cx="19.1" cy="452.0" rx="1.51" ry="1.37" fill="#c04cb4"/>
<ellipse cx="24.3" cy="452.5" rx="1.73" ry="1.94" fill="#c04cb4"/>
<ellipse cx="31.4" cy="453.3" rx="1.64" ry="1.59" fill="#cc58bc"/>
<ellipse cx="62.6" cy="452.9" rx="1.60" ry="1.98" fill="#cc58bc"/>
<ellipse cx="66.2" cy="453.3" rx="1.73" ry="2.01" fill="#c04cb4"/>
<ellipse cx="76.1" cy="453.3" rx="1.62" ry="1.94" fill="#cc58bc"/>
<ellipse cx="17.1" cy="434.9" rx="1.71" ry="1.45" fill="#cc58bc"/>
</g>
<clipPath id="d6"><rect x="110.1" y="384.3" width="93.8" height="70.2"/></clipPath>
<rect x="110.1" y="384.3" width="93.8" height="70.2" fill="#040208"/>
<g clip-path="url(#d6)" filter="url(#soft)">
<ellipse cx="154.7" cy="430.2" rx="1.21" ry="1.14" fill="#1e48b2"/>
<ellipse cx="172.6" cy="394.6" rx="1.34" ry="1.13" fill="#2a5ed6"/>
<ellipse cx="111.6" cy="410.7" rx="1.30" ry="1.58" fill="#2a5ed6"/>
<ellipse cx="136.1" cy="440.7" rx="1.20" ry="1.37" fill="#3066dc"/>
<ellipse cx="174.8" cy="426.3" rx="1.50" ry="1.53" fill="#3066dc"/>
<ellipse cx="162.5" cy="430.4" rx="1.20" ry="1.58" fill="#3066dc"/>
<ellipse cx="124.1" cy="415.2" rx="1.51" ry="1.18" fill="#3066dc"/>
<ellipse cx="125.7" cy="447.3" rx="1.24" ry="1.55" fill="#3066dc"/>
<ellipse cx="116.1" cy="441.3" rx="1.13" ry="1.41" fill="#1e48b2"/>
<ellipse cx="117.5" cy="432.2" rx="1.35" ry="1.18" fill="#1e48b2"/>
<ellipse cx="141.9" cy="412.7" rx="1.23" ry="1.59" fill="#1a3ea0"/>
<ellipse cx="188.9" cy="386.1" rx="1.53" ry="1.08" fill="#3066dc"/>
<ellipse cx="116.3" cy="447.9" rx="1.39" ry="1.56" fill="#1a3ea0"/>
<ellipse cx="157.9" cy="391.1" rx="1.19" ry="1.31" fill="#3066dc"/>
<ellipse cx="202.4" cy="450.1" rx="1.31" ry="1.17" fill="#3066dc"/>
<ellipse cx="123.2" cy="406.4" rx="1.22" ry="1.51" fill="#2a5ed6"/>
<ellipse cx="168.4" cy="396.1" rx="1.11" ry="1.42" fill="#3066dc"/>
<ellipse cx="175.4" cy="388.3" rx="1.36" ry="1.43" fill="#3066dc"/>
<ellipse cx="126.5" cy="441.1" rx="1.16" ry="1.44" fill="#2a5ed6"/>
<ellipse cx="147.8" cy="413.7" rx="1.30" ry="1.19" fill="#1e48b2"/>
<ellipse cx="166.0" cy="417.7" rx="1.23" ry="1.27" fill="#1a3ea0"/>
<ellipse cx="146.4" cy="386.9" rx="1.25" ry="1.38" fill="#3066dc"/>
<ellipse cx="178.1" cy="451.6" rx="1.13" ry="1.11" fill="#2452c4"/>
<ellipse cx="201.4" cy="430.6" rx="1.23" ry="1.39" fill="#2452c4"/>
<ellipse cx="174.8" cy="431.3" rx="1.15" ry="1.58" fill="#3066dc"/>
<ellipse cx="121.2" cy="401.0" rx="1.33" ry="1.10" fill="#2a5ed6"/>
<ellipse cx="144.4" cy="420.1" rx="1.56" ry="1.60" fill="#3066dc"/>
<ellipse cx="185.9" cy="419.3" rx="1.09" ry="1.24" fill="#2452c4"/>
<ellipse cx="150.6" cy="420.6" rx="1.50" ry="1.30" fill="#1a3ea0"/>
<ellipse cx="131.3" cy="414.3" rx="1.45" ry="1.12" fill="#1a3ea0"/>
<ellipse cx="146.7" cy="438.1" rx="1.18" ry="1.32" fill="#2452c4"/>
<ellipse cx="120.1" cy="422.7" rx="1.22" ry="1.40" fill="#2452c4"/>
<ellipse cx="127.2" cy="432.8" rx="1.26" ry="1.09" fill="#2a5ed6"/>
<ellipse cx="114.0" cy="403.9" rx="1.33" ry="1.28" fill="#3066dc"/>
<ellipse cx="142.6" cy="428.7" rx="1.62" ry="1.39" fill="#1e48b2"/>
<ellipse cx="115.4" cy="416.5" rx="1.61" ry="1.31" fill="#2452c4"/>
<ellipse cx="130.0" cy="404.3" rx="1.14" ry="1.11" fill="#2452c4"/>
<ellipse cx="154.9" cy="451.0" rx="1.40" ry="1.60" fill="#1a3ea0"/>
<ellipse cx="144.5" cy="397.9" rx="1.10" ry="1.34" fill="#2452c4"/>
<ellipse cx="180.2" cy="447.7" rx="1.25" ry="1.10" fill="#1a3ea0"/>
<ellipse cx="182.3" cy="408.4" rx="1.24" ry="1.62" fill="#2452c4"/>
<ellipse cx="133.1" cy="385.4" rx="1.34" ry="1.21" fill="#1e48b2"/>
<ellipse cx="114.3" cy="427.5" rx="1.35" ry="1.20" fill="#1e48b2"/>
<ellipse cx="157.4" cy="386.4" rx="1.21" ry="1.56" fill="#2452c4"/>
<ellipse cx="140.6" cy="439.1" rx="1.35" ry="1.10" fill="#3066dc"/>
<ellipse cx="188.0" cy="428.9" rx="1.22" ry="1.36" fill="#2452c4"/>
<ellipse cx="131.9" cy="421.2" rx="1.31" ry="1.22" fill="#3066dc"/>
<ellipse cx="135.0" cy="450.1" rx="1.11" ry="1.58" fill="#1a3ea0"/>
<ellipse cx="193.8" cy="396.0" rx="1.14" ry="1.39" fill="#2a5ed6"/>
<ellipse cx="137.7" cy="445.0" rx="1.35" ry="1.13" fill="#2452c4"/>
<ellipse cx="158.5" cy="432.8" rx="1.58" ry="1.39" fill="#2452c4"/>
<ellipse cx="176.1" cy="399.6" rx="1.26" ry="1.43" fill="#3066dc"/>
<ellipse cx="137.1" cy="402.4" rx="1.52" ry="1.37" fill="#3066dc"/>
<ellipse cx="149.7" cy="401.4" rx="1.26" ry="1.29" fill="#1e48b2"/>
<ellipse cx="196.2" cy="451.2" rx="1.12" ry="1.60" fill="#2452c4"/>
<ellipse cx="181.3" cy="413.6" rx="1.10" ry="1.57" fill="#2452c4"/>
<ellipse cx="165.3" cy="447.0" rx="1.49" ry="1.23" fill="#2a5ed6"/>
<ellipse cx="184.0" cy="424.8" rx="1.55" ry="1.45" fill="#1e48b2"/>
<ellipse cx="179.0" cy="423.7" rx="1.39" ry="1.48" fill="#1e48b2"/>
<ellipse cx="112.2" cy="433.8" rx="1.20" ry="1.08" fill="#2452c4"/>
<ellipse cx="194.7" cy="439.8" rx="1.09" ry="1.55" fill="#2a5ed6"/>
<ellipse cx="160.3" cy="439.2" rx="1.29" ry="1.50" fill="#1e48b2"/>
<ellipse cx="145.9" cy="391.6" rx="1.55" ry="1.38" fill="#2452c4"/>
<ellipse cx="143.4" cy="406.3" rx="1.17" ry="1.41" fill="#1a3ea0"/>
<ellipse cx="197.5" cy="432.3" rx="1.50" ry="1.33" fill="#1a3ea0"/>
<ellipse cx="175.8" cy="412.0" rx="1.32" ry="1.12" fill="#1a3ea0"/>
<ellipse cx="123.8" cy="391.0" rx="1.14" ry="1.38" fill="#3066dc"/>
<ellipse cx="139.7" cy="432.8" rx="1.41" ry="1.15" fill="#3066dc"/>
<ellipse cx="181.2" cy="430.3" rx="1.12" ry="1.55" fill="#2a5ed6"/>
<ellipse cx="197.5" cy="410.0" rx="1.24" ry="1.27" fill="#2a5ed6"/>
<ellipse cx="151.9" cy="397.2" rx="1.13" ry="1.37" fill="#1e48b2"/>
<ellipse cx="172.7" cy="408.3" rx="1.19" ry="1.61" fill="#1e48b2"/>
<ellipse cx="198.4" cy="385.3" rx="1.21" ry="1.34" fill="#1e48b2"/>
<ellipse cx="131.1" cy="448.2" rx="1.13" ry="1.14" fill="#1a3ea0"/>
<ellipse cx="167.0" cy="443.0" rx="1.51" ry="1.28" fill="#1e48b2"/>
<ellipse cx="190.1" cy="442.2" rx="1.30" ry="1.46" fill="#1e48b2"/>
<ellipse cx="201.0" cy="423.0" rx="1.12" ry="1.56" fill="#2452c4"/>
<ellipse cx="157.1" cy="409.7" rx="1.42" ry="1.58" fill="#1e48b2"/>
<ellipse cx="139.2" cy="394.2" rx="1.31" ry="1.51" fill="#2452c4"/>
<ellipse cx="185.3" cy="404.5" rx="1.28" ry="1.17" fill="#2452c4"/>
<ellipse cx="197.7" cy="426.1" rx="1.26" ry="1.54" fill="#3066dc"/>
<ellipse cx="146.8" cy="445.0" rx="1.37" ry="1.57" fill="#2452c4"/>
<ellipse cx="194.0" cy="406.9" rx="1.08" ry="1.25" fill="#1a3ea0"/>
<ellipse cx="122.3" cy="429.0" rx="1.14" ry="1.50" fill="#1a3ea0"/>
<ellipse cx="168.1" cy="403.0" rx="1.34" ry="1.12" fill="#2452c4"/>
<ellipse cx="185.7" cy="396.5" rx="1.30" ry="1.24" fill="#2452c4"/>
<ellipse cx="111.8" cy="396.6" rx="1.49" ry="1.61" fill="#2a5ed6"/>
<ellipse cx="160.5" cy="415.7" rx="1.45" ry="1.41" fill="#3066dc"/>
<ellipse cx="169.6" cy="411.6" rx="1.37" ry="1.57" fill="#1a3ea0"/>
<ellipse cx="177.1" cy="404.0" rx="1.25" ry="1.55" fill="#1e48b2"/>
<ellipse cx="196.6" cy="418.7" rx="1.41" ry="1.32" fill="#2452c4"/>
<ellipse cx="167.1" cy="436.8" rx="1.22" ry="1.40" fill="#3066dc"/>
<ellipse cx="116.4" cy="392.3" rx="1.15" ry="1.12" fill="#2452c4"/>
<ellipse cx="167.9" cy="451.4" rx="1.44" ry="1.42" fill="#3066dc"/>
<ellipse cx="199.9" cy="436.3" rx="1.57" ry="1.28" fill="#1a3ea0"/>
<ellipse cx="161.1" cy="406.6" rx="1.51" ry="1.44" fill="#2a5ed6"/>
<ellipse cx="133.1" cy="390.8" rx="1.12" ry="1.43" fill="#2452c4"/>
<ellipse cx="187.4" cy="437.1" rx="1.26" ry="1.28" fill="#2452c4"/>
<ellipse cx="190.8" cy="453.1" rx="1.24" ry="1.09" fill="#2a5ed6"/>
<ellipse cx="168.7" cy="421.8" rx="1.36" ry="1.49" fill="#2a5ed6"/>
<ellipse cx="120.1" cy="435.7" rx="1.51" ry="1.52" fill="#2a5ed6"/>
<ellipse cx="161.6" cy="425.9" rx="1.17" ry="1.40" fill="#1e48b2"/>
<ellipse cx="164.3" cy="410.9" rx="1.44" ry="1.62" fill="#2a5ed6"/>
<ellipse cx="139.4" cy="409.3" rx="1.49" ry="1.60" fill="#2a5ed6"/>
<ellipse cx="203.4" cy="407.6" rx="1.17" ry="1.34" fill="#2452c4"/>
<ellipse cx="170.8" cy="389.9" rx="1.41" ry="1.53" fill="#3066dc"/>
<ellipse cx="132.3" cy="398.3" rx="1.54" ry="1.45" fill="#1a3ea0"/>
<ellipse cx="169.9" cy="428.8" rx="1.21" ry="1.34" fill="#2452c4"/>
<ellipse cx="177.1" cy="436.7" rx="1.25" ry="1.20" fill="#3066dc"/>
<ellipse cx="178.2" cy="419.4" rx="1.37" ry="1.37" fill="#1e48b2"/>
<ellipse cx="139.1" cy="386.5" rx="1.57" ry="1.30" fill="#1e48b2"/>
<ellipse cx="146.9" cy="451.5" rx="1.60" ry="1.25" fill="#1e48b2"/>
<ellipse cx="188.4" cy="413.8" rx="1.30" ry="1.09" fill="#2452c4"/>
<ellipse cx="121.9" cy="442.2" rx="1.56" ry="1.33" fill="#1a3ea0"/>
<ellipse cx="190.6" cy="447.6" rx="1.41" ry="1.28" fill="#1e48b2"/>
<ellipse cx="173.6" cy="444.8" rx="1.42" ry="1.16" fill="#2a5ed6"/>
<ellipse cx="201.3" cy="394.5" rx="1.33" ry="1.60" fill="#3066dc"/>
<ellipse cx="180.5" cy="441.7" rx="1.41" ry="1.25" fill="#2a5ed6"/>
<ellipse cx="126.4" cy="386.2" rx="1.49" ry="1.34" fill="#1e48b2"/>
<ellipse cx="119.3" cy="418.6" rx="1.56" ry="1.50" fill="#2452c4"/>
<ellipse cx="149.2" cy="407.2" rx="1.58" ry="1.12" fill="#2452c4"/>
<ellipse cx="163.3" cy="422.0" rx="1.59" ry="1.17" fill="#1a3ea0"/>
<ellipse cx="159.9" cy="452.9" rx="1.45" ry="1.38" fill="#1a3ea0"/>
<ellipse cx="140.2" cy="449.1" rx="1.22" ry="1.36" fill="#2452c4"/>
<ellipse cx="129.6" cy="393.2" rx="1.49" ry="1.19" fill="#3066dc"/>
<ellipse cx="199.9" cy="389.3" rx="1.12" ry="1.23" fill="#3066dc"/>
<ellipse cx="151.3" cy="447.7" rx="1.41" ry="1.42" fill="#2452c4"/>
<ellipse cx="199.8" cy="445.6" rx="1.47" ry="1.43" fill="#2452c4"/>
<ellipse cx="172.0" cy="417.9" rx="1.55" ry="1.47" fill="#1a3ea0"/>
<ellipse cx="127.0" cy="427.9" rx="1.28" ry="1.08" fill="#1a3ea0"/>
<ellipse cx="161.0" cy="396.3" rx="1.16" ry="1.30" fill="#2452c4"/>
<ellipse cx="126.4" cy="400.9" rx="1.54" ry="1.34" fill="#2a5ed6"/>
<ellipse cx="136.2" cy="422.7" rx="1.28" ry="1.17" fill="#3066dc"/>
<ellipse cx="178.9" cy="394.5" rx="1.36" ry="1.37" fill="#3066dc"/>
<ellipse cx="118.8" cy="396.9" rx="1.55" ry="1.26" fill="#1e48b2"/>
<ellipse cx="112.4" cy="389.7" rx="2.13" ry="2.12" fill="#c04cb4"/>
<ellipse cx="113.2" cy="391.2" rx="1.51" ry="1.70" fill="#c04cb4"/>
<ellipse cx="121.6" cy="387.4" rx="1.97" ry="1.92" fill="#b444ac"/>
<ellipse cx="122.4" cy="391.2" rx="1.62" ry="1.59" fill="#c04cb4"/>
<ellipse cx="128.2" cy="393.5" rx="1.86" ry="1.55" fill="#b444ac"/>
<ellipse cx="125.1" cy="398.4" rx="1.90" ry="2.02" fill="#cc58bc"/>
<ellipse cx="120.1" cy="400.4" rx="2.12" ry="1.83" fill="#b444ac"/>
<ellipse cx="116.2" cy="403.9" rx="1.80" ry="2.09" fill="#c04cb4"/>
<ellipse cx="122.4" cy="403.5" rx="1.70" ry="2.11" fill="#b444ac"/>
<ellipse cx="129.7" cy="405.0" rx="1.74" ry="2.08" fill="#c04cb4"/>
<ellipse cx="112.4" cy="410.0" rx="1.84" ry="1.61" fill="#c04cb4"/>
<ellipse cx="117.8" cy="411.9" rx="1.57" ry="1.56" fill="#cc58bc"/>
<ellipse cx="121.6" cy="417.7" rx="1.81" ry="2.16" fill="#cc58bc"/>
<ellipse cx="125.4" cy="420.3" rx="1.84" ry="2.16" fill="#b444ac"/>
<ellipse cx="117.5" cy="424.4" rx="2.01" ry="1.97" fill="#b444ac"/>
<ellipse cx="126.2" cy="425.4" rx="2.01" ry="1.69" fill="#b444ac"/>
<ellipse cx="116.2" cy="429.0" rx="1.56" ry="1.98" fill="#cc58bc"/>
<ellipse cx="137.4" cy="416.5" rx="1.97" ry="1.91" fill="#c04cb4"/>
<ellipse cx="143.0" cy="412.6" rx="1.79" ry="2.11" fill="#cc58bc"/>
<ellipse cx="139.2" cy="426.9" rx="1.81" ry="2.01" fill="#cc58bc"/>
<ellipse cx="147.6" cy="433.6" rx="2.08" ry="2.09" fill="#b444ac"/>
<ellipse cx="147.2" cy="439.2" rx="1.69" ry="1.96" fill="#cc58bc"/>
<ellipse cx="140.7" cy="442.8" rx="1.96" ry="1.79" fill="#c04cb4"/>
<ellipse cx="134.9" cy="445.9" rx="2.12" ry="2.03" fill="#c04cb4"/>
<ellipse cx="142.0" cy="449.0" rx="2.07" ry="1.88" fill="#b444ac"/>
<ellipse cx="144.6" cy="452.9" rx="1.66" ry="2.13" fill="#cc58bc"/>
<ellipse cx="156.8" cy="445.3" rx="2.04" ry="1.84" fill="#cc58bc"/>
<ellipse cx="159.9" cy="438.2" rx="1.91" ry="1.86" fill="#b444ac"/>
<ellipse cx="164.5" cy="433.0" rx="1.97" ry="1.79" fill="#b444ac"/>
<ellipse cx="166.8" cy="428.7" rx="2.11" ry="1.89" fill="#c04cb4"/>
<ellipse cx="169.9" cy="428.7" rx="2.00" ry="1.69" fill="#c04cb4"/>
<ellipse cx="172.9" cy="433.0" rx="2.09" ry="1.58" fill="#cc58bc"/>
<ellipse cx="172.2" cy="437.2" rx="1.52" ry="1.85" fill="#c04cb4"/>
<ellipse cx="177.5" cy="438.2" rx="1.64" ry="1.60" fill="#c04cb4"/>
<ellipse cx="175.2" cy="425.7" rx="1.98" ry="1.54" fill="#b444ac"/>
<ellipse cx="179.8" cy="419.2" rx="1.62" ry="1.59" fill="#c04cb4"/>
<ellipse cx="183.7" cy="421.8" rx="1.74" ry="1.96" fill="#c04cb4"/>
<ellipse cx="186.7" cy="422.9" rx="1.48" ry="1.70" fill="#c04cb4"/>
<ellipse cx="189.0" cy="422.6" rx="1.92" ry="1.50" fill="#c04cb4"/>
<ellipse cx="187.9" cy="427.5" rx="1.46" ry="1.97" fill="#c04cb4"/>
<ellipse cx="163.0" cy="419.2" rx="1.71" ry="1.53" fill="#c04cb4"/>
<ellipse cx="168.0" cy="417.7" rx="1.97" ry="1.82" fill="#c04cb4"/>
<ellipse cx="170.6" cy="422.3" rx="1.72" ry="1.47" fill="#c04cb4"/>
<ellipse cx="175.2" cy="416.2" rx="1.55" ry="1.47" fill="#b444ac"/>
<ellipse cx="178.3" cy="410.7" rx="2.12" ry="1.89" fill="#cc58bc"/>
<ellipse cx="162.2" cy="408.1" rx="1.52" ry="1.68" fill="#c04cb4"/>
<ellipse cx="161.9" cy="412.6" rx="1.66" ry="1.84" fill="#cc58bc"/>
<ellipse cx="156.8" cy="425.4" rx="1.97" ry="2.09" fill="#b444ac"/>
<ellipse cx="173.7" cy="403.9" rx="2.06" ry="1.95" fill="#b444ac"/>
<ellipse cx="176.3" cy="404.5" rx="2.13" ry="1.51" fill="#cc58bc"/>
<ellipse cx="184.4" cy="402.7" rx="1.67" ry="1.51" fill="#b444ac"/>
<ellipse cx="194.4" cy="405.8" rx="2.01" ry="2.12" fill="#cc58bc"/>
<ellipse cx="198.2" cy="405.0" rx="1.86" ry="1.72" fill="#cc58bc"/>
<ellipse cx="199.7" cy="398.9" rx="1.68" ry="2.07" fill="#b444ac"/>
<ellipse cx="192.8" cy="388.1" rx="1.63" ry="1.88" fill="#b444ac"/>
<ellipse cx="182.9" cy="392.7" rx="1.91" ry="1.94" fill="#c04cb4"/>
<ellipse cx="171.4" cy="387.4" rx="1.92" ry="1.62" fill="#c04cb4"/>
<ellipse cx="171.1" cy="399.9" rx="1.56" ry="1.51" fill="#cc58bc"/>
<ellipse cx="165.3" cy="393.5" rx="1.61" ry="2.10" fill="#cc58bc"/>
<ellipse cx="165.6" cy="399.6" rx="2.11" ry="2.16" fill="#c04cb4"/>
<ellipse cx="156.8" cy="400.8" rx="1.95" ry="1.49" fill="#c04cb4"/>
<ellipse cx="155.3" cy="392.3" rx="1.87" ry="1.89" fill="#cc58bc"/>
<ellipse cx="150.2" cy="395.3" rx="1.95" ry="1.62" fill="#b444ac"/>
<ellipse cx="146.6" cy="387.4" rx="1.64" ry="1.98" fill="#c04cb4"/>
<ellipse cx="140.7" cy="385.1" rx="1.47" ry="1.73" fill="#c04cb4"/>
<ellipse cx="159.9" cy="385.5" rx="1.81" ry="1.50" fill="#c04cb4"/>
<ellipse cx="132.3" cy="385.1" rx="1.51" ry="1.57" fill="#c04cb4"/>
<ellipse cx="199.7" cy="432.6" rx="1.52" ry="1.46" fill="#cc58bc"/>
<ellipse cx="193.6" cy="437.6" rx="1.77" ry="1.66" fill="#cc58bc"/>
<ellipse cx="197.4" cy="442.2" rx="1.71" ry="1.93" fill="#c04cb4"/>
<ellipse cx="185.2" cy="448.7" rx="1.96" ry="1.75" fill="#cc58bc"/>
<ellipse cx="187.5" cy="451.7" rx="1.46" ry="1.87" fill="#b444ac"/>
<ellipse cx="177.5" cy="451.7" rx="2.11" ry="1.86" fill="#c04cb4"/>
<ellipse cx="172.9" cy="452.9" rx="1.92" ry="1.79" fill="#c04cb4"/>
<ellipse cx="166.0" cy="446.8" rx="1.81" ry="2.10" fill="#cc58bc"/>
<ellipse cx="123.1" cy="453.3" rx="1.70" ry="1.94" fill="#b444ac"/>
<ellipse cx="113.2" cy="448.7" rx="1.66" ry="2.07" fill="#b444ac"/>
<ellipse cx="110.9" cy="442.5" rx="1.51" ry="1.66" fill="#cc58bc"/>
<ellipse cx="200.5" cy="451.7" rx="2.03" ry="2.02" fill="#c04cb4"/>
<ellipse cx="195.9" cy="450.2" rx="1.74" ry="1.79" fill="#c04cb4"/>
</g>
<line x1="269.2" y1="298.29999999999995" x2="269.2" y2="408.6" stroke="#000" stroke-width="1.2"/>
<line x1="268.59999999999997" y1="408.0" x2="347.3" y2="408.0" stroke="#000" stroke-width="1.2"/>
<line x1="264.2" y1="408.0" x2="269.2" y2="408.0" stroke="#000" stroke-width="1.2"/>
<text x="263.2" y="411.0" font-size="8.4" font-weight="bold" text-anchor="end" fill="#000">0</text>
<line x1="264.2" y1="380.725" x2="269.2" y2="380.725" stroke="#000" stroke-width="1.2"/>
<text x="263.2" y="383.725" font-size="8.4" font-weight="bold" text-anchor="end" fill="#000">20</text>
<line x1="264.2" y1="353.45" x2="269.2" y2="353.45" stroke="#000" stroke-width="1.2"/>
<text x="263.2" y="356.45" font-size="8.4" font-weight="bold" text-anchor="end" fill="#000">40</text>
<line x1="264.2" y1="326.17499999999995" x2="269.2" y2="326.17499999999995" stroke="#000" stroke-width="1.2"/>
<text x="263.2" y="329.17499999999995" font-size="8.4" font-weight="bold" text-anchor="end" fill="#000">60</text>
<line x1="264.2" y1="298.9" x2="269.2" y2="298.9" stroke="#000" stroke-width="1.2"/>
<text x="263.2" y="301.9" font-size="8.4" font-weight="bold" text-anchor="end" fill="#000">80</text>
<rect x="281.45" y="372.237875" width="19.7" height="35.762125000000005" fill="#7ab4fa" stroke="#000" stroke-width="1.3"/>
<line x1="291.3" y1="408.0" x2="291.3" y2="412.2" stroke="#000" stroke-width="1.2"/>
<circle cx="283.9" cy="369.95" r="1.9" fill="#000"/>
<circle cx="291.5" cy="369.95" r="1.9" fill="#000"/>
<circle cx="298.5" cy="372.13" r="1.9" fill="#000"/>
<text x="294.3" y="420.0" font-size="8.7" font-weight="bold" text-anchor="end" fill="#000" transform="rotate(-45 294.3 420.0)">glioma-E</text>
<rect x="314.95" y="311.82374999999996" width="19.899999999999988" height="96.17625000000001" fill="#f780a3" stroke="#000" stroke-width="1.3"/>
<line x1="324.9" y1="408.0" x2="324.9" y2="412.2" stroke="#000" stroke-width="1.2"/>
<rect x="315.15" y="307.55" width="3.7" height="3.7" fill="#000"/>
<rect x="322.95" y="307.55" width="3.7" height="3.7" fill="#000"/>
<rect x="330.54999999999995" y="309.87" width="3.7" height="3.7" fill="#000"/>
<text x="327" y="420.6" font-size="8.7" font-weight="bold" text-anchor="end" fill="#000" transform="rotate(-45 327 420.6)">glioma-D</text>
<polyline points="288.8,295.8 288.8,291.0 322.8,291.0 322.8,295.8" fill="none" stroke="#000" stroke-width="1.3"/>
<polygon points="298.50,280.95 299.11,282.34 300.62,282.17 299.73,283.40 300.62,284.62 299.11,284.46 298.50,285.85 297.89,284.46 296.38,284.62 297.27,283.40 296.38,282.17 297.89,282.34" fill="#000" stroke="#000" stroke-width="0.35" stroke-linejoin="round"/>
<polygon points="305.30,280.95 305.91,282.34 307.42,282.17 306.53,283.40 307.42,284.62 305.91,284.46 305.30,285.85 304.69,284.46 303.18,284.62 304.07,283.40 303.18,282.17 304.69,282.34" fill="#000" stroke="#000" stroke-width="0.35" stroke-linejoin="round"/>
<polygon points="312.30,280.95 312.91,282.34 314.42,282.17 313.53,283.40 314.42,284.62 312.91,284.46 312.30,285.85 311.69,284.46 310.18,284.62 311.07,283.40 310.18,282.17 311.69,282.34" fill="#000" stroke="#000" stroke-width="0.35" stroke-linejoin="round"/>
<text x="248.2" y="351.5" font-size="8.86" font-weight="bold" text-anchor="middle" fill="#000" transform="rotate(-90 248.2 351.5)">EdU positive cells (EdU/Hoechst,&#160;&#160;%)</text>
<text x="392.6" y="221.4" font-size="13" font-weight="normal" text-anchor="start" fill="#000">E</text>
<text x="414.5" y="293.3" font-size="7.5" font-weight="normal" text-anchor="middle" fill="#000" transform="rotate(-90 414.5 293.3)" stroke="#000" stroke-width="0.2">glioma-E</text>
<text x="413.4" y="394.0" font-size="7.5" font-weight="normal" text-anchor="middle" fill="#000" transform="rotate(-90 413.4 394.0)" stroke="#000" stroke-width="0.2">glioma-D</text>
<clipPath id="ec0"><rect x="421" y="237.0" width="116.8" height="105.6"/></clipPath>
<g clip-path="url(#ec0)">
<rect x="421" y="237.0" width="116.8" height="105.6" fill="#d3d2da"/>
<ellipse cx="477.3" cy="290.4" rx="58.6" ry="54.5" fill="#c6c3d8" stroke="#b4aed0" stroke-width="1.4"/>
<ellipse cx="477.3" cy="290.4" rx="56.1" ry="52.0" fill="none" stroke="#a89fcf" stroke-width="0.9"/>
<clipPath id="ec0i"><ellipse cx="477.3" cy="290.4" rx="54.1" ry="50.0"/></clipPath>
<g clip-path="url(#ec0i)">
<rect x="421" y="237.0" width="116.8" height="105.6" fill="#d6d3e8"/>
<ellipse cx="482.3" cy="296.4" rx="57.1" ry="53.0" fill="none" stroke="#6a58c0" stroke-width="9" opacity="0.55" filter="url(#blur1)"/>
<rect x="421" y="237.0" width="116.8" height="105.6" filter="url(#mottleE)" opacity="0.3"/>
<g filter="url(#soft)"><circle cx="509.7" cy="273.0" r="0.90" fill="#7a64cc" opacity="0.55"/><circle cx="465.2" cy="273.5" r="0.75" fill="#7a64cc" opacity="0.60"/><circle cx="445.4" cy="259.6" r="0.56" fill="#7a64cc" opacity="0.72"/><circle cx="487.6" cy="294.3" r="0.89" fill="#6a52c4" opacity="0.78"/><circle cx="503.6" cy="325.4" r="0.70" fill="#6048b8" opacity="0.53"/><circle cx="528.7" cy="275.5" r="0.91" fill="#7a64cc" opacity="0.81"/><circle cx="503.1" cy="317.3" r="0.97" fill="#7a64cc" opacity="0.51"/><circle cx="512.2" cy="305.9" r="0.74" fill="#7a64cc" opacity="0.51"/><circle cx="504.4" cy="298.0" r="0.71" fill="#6048b8" opacity="0.80"/><circle cx="440.7" cy="255.3" r="0.93" fill="#7a64cc" opacity="0.77"/><circle cx="527.8" cy="298.1" r="0.68" fill="#6048b8" opacity="0.70"/><circle cx="454.3" cy="327.8" r="0.72" fill="#6a52c4" opacity="0.51"/><circle cx="435.0" cy="260.8" r="0.68" fill="#7a64cc" opacity="0.54"/><circle cx="453.9" cy="328.1" r="0.90" fill="#7a64cc" opacity="0.66"/><circle cx="432.5" cy="292.8" r="0.56" fill="#5640ae" opacity="0.61"/><circle cx="431.7" cy="307.9" r="0.65" fill="#6048b8" opacity="0.81"/><circle cx="446.2" cy="322.8" r="0.78" fill="#6048b8" opacity="0.73"/><circle cx="436.2" cy="309.6" r="0.89" fill="#5640ae" opacity="0.76"/><circle cx="429.7" cy="292.0" r="0.98" fill="#5640ae" opacity="0.53"/><circle cx="431.7" cy="285.8" r="0.92" fill="#6a52c4" opacity="0.52"/><circle cx="511.9" cy="283.4" r="0.66" fill="#5640ae" opacity="0.55"/><circle cx="495.5" cy="247.4" r="0.99" fill="#6048b8" opacity="0.66"/><circle cx="442.5" cy="288.6" r="0.87" fill="#7a64cc" opacity="0.63"/><circle cx="448.0" cy="289.0" r="0.76" fill="#6a52c4" opacity="0.80"/><circle cx="466.7" cy="250.0" r="0.81" fill="#5640ae" opacity="0.76"/><circle cx="459.9" cy="304.8" r="0.73" fill="#6a52c4" opacity="0.81"/><circle cx="460.5" cy="255.0" r="0.98" fill="#7a64cc" opacity="0.62"/><circle cx="475.1" cy="308.6" r="0.55" fill="#5640ae" opacity="0.50"/><circle cx="461.7" cy="289.4" r="0.54" fill="#7a64cc" opacity="0.66"/><circle cx="456.2" cy="268.8" r="0.69" fill="#6048b8" opacity="0.73"/><circle cx="465.2" cy="331.0" r="0.60" fill="#6048b8" opacity="0.90"/><circle cx="461.1" cy="255.0" r="0.95" fill="#7a64cc" opacity="0.57"/><circle cx="438.0" cy="273.3" r="0.71" fill="#7a64cc" opacity="0.54"/><circle cx="448.3" cy="312.4" r="0.97" fill="#6048b8" opacity="0.87"/><circle cx="489.3" cy="282.8" r="0.47" fill="#7a64cc" opacity="0.79"/><circle cx="473.8" cy="281.0" r="0.56" fill="#6a52c4" opacity="0.65"/><circle cx="486.4" cy="327.8" r="0.81" fill="#6a52c4" opacity="0.73"/><circle cx="442.6" cy="296.4" r="0.64" fill="#6048b8" opacity="0.62"/><circle cx="494.4" cy="334.9" r="0.71" fill="#7a64cc" opacity="0.79"/><circle cx="487.1" cy="250.0" r="0.80" fill="#5640ae" opacity="0.59"/><circle cx="515.1" cy="282.7" r="0.56" fill="#7a64cc" opacity="0.80"/><circle cx="435.8" cy="273.8" r="0.72" fill="#7a64cc" opacity="0.88"/><circle cx="527.4" cy="289.5" r="0.73" fill="#7a64cc" opacity="0.83"/><circle cx="473.9" cy="254.0" r="0.98" fill="#6a52c4" opacity="0.57"/><circle cx="504.9" cy="332.7" r="0.83" fill="#5640ae" opacity="0.88"/><circle cx="495.8" cy="319.8" r="0.84" fill="#7a64cc" opacity="0.67"/><circle cx="446.1" cy="280.0" r="0.62" fill="#5640ae" opacity="0.54"/><circle cx="487.4" cy="330.9" r="0.82" fill="#6048b8" opacity="0.54"/><circle cx="435.9" cy="298.9" r="0.68" fill="#6a52c4" opacity="0.68"/><circle cx="449.2" cy="323.1" r="0.72" fill="#5640ae" opacity="0.53"/><circle cx="517.9" cy="320.4" r="0.95" fill="#6a52c4" opacity="0.73"/><circle cx="441.1" cy="270.6" r="0.94" fill="#6048b8" opacity="0.71"/><circle cx="509.2" cy="267.2" r="0.95" fill="#7a64cc" opacity="0.59"/><circle cx="436.2" cy="271.3" r="0.89" fill="#5640ae" opacity="0.90"/><circle cx="433.4" cy="316.7" r="0.69" fill="#6048b8" opacity="0.53"/><circle cx="462.0" cy="338.2" r="0.79" fill="#7a64cc" opacity="0.51"/><circle cx="503.5" cy="316.5" r="0.62" fill="#6a52c4" opacity="0.77"/><circle cx="486.0" cy="241.7" r="0.72" fill="#7a64cc" opacity="0.67"/><circle cx="463.7" cy="316.5" r="1.00" fill="#6a52c4" opacity="0.71"/><circle cx="433.3" cy="287.7" r="0.64" fill="#6a52c4" opacity="0.59"/><circle cx="459.2" cy="253.5" r="0.64" fill="#6048b8" opacity="0.86"/><circle cx="464.3" cy="280.7" r="0.77" fill="#7a64cc" opacity="0.54"/><circle cx="437.8" cy="315.8" r="0.76" fill="#7a64cc" opacity="0.57"/><circle cx="492.3" cy="264.0" r="0.48" fill="#7a64cc" opacity="0.84"/><circle cx="435.1" cy="297.2" r="0.60" fill="#6a52c4" opacity="0.52"/><circle cx="474.8" cy="336.9" r="0.98" fill="#6048b8" opacity="0.79"/><circle cx="480.6" cy="263.2" r="0.71" fill="#5640ae" opacity="0.74"/><circle cx="493.5" cy="254.8" r="0.51" fill="#7a64cc" opacity="0.51"/><circle cx="467.6" cy="294.7" r="0.99" fill="#7a64cc" opacity="0.62"/><circle cx="426.8" cy="295.1" r="0.97" fill="#6a52c4" opacity="0.72"/><circle cx="444.7" cy="273.2" r="0.48" fill="#5640ae" opacity="0.51"/><circle cx="513.4" cy="297.1" r="0.87" fill="#5640ae" opacity="0.51"/><circle cx="431.1" cy="272.4" r="0.47" fill="#6048b8" opacity="0.80"/><circle cx="428.2" cy="295.2" r="0.48" fill="#7a64cc" opacity="0.70"/><circle cx="501.5" cy="247.1" r="0.99" fill="#6a52c4" opacity="0.72"/><circle cx="496.5" cy="325.5" r="0.85" fill="#6a52c4" opacity="0.54"/><circle cx="475.5" cy="331.4" r="0.94" fill="#5640ae" opacity="0.87"/><circle cx="530.4" cy="284.5" r="0.94" fill="#6a52c4" opacity="0.71"/><circle cx="453.4" cy="285.4" r="0.74" fill="#6048b8" opacity="0.87"/><circle cx="433.8" cy="303.0" r="0.58" fill="#7a64cc" opacity="0.60"/><circle cx="484.1" cy="292.8" r="0.54" fill="#6a52c4" opacity="0.57"/><circle cx="459.3" cy="317.3" r="0.95" fill="#6a52c4" opacity="0.66"/><circle cx="493.4" cy="299.2" r="0.79" fill="#7a64cc" opacity="0.82"/><circle cx="519.7" cy="317.4" r="0.58" fill="#6048b8" opacity="0.75"/><circle cx="468.0" cy="261.2" r="0.86" fill="#6048b8" opacity="0.67"/><circle cx="530.9" cy="285.9" r="0.75" fill="#6a52c4" opacity="0.67"/><circle cx="496.0" cy="334.6" r="0.52" fill="#7a64cc" opacity="0.88"/><circle cx="525.1" cy="272.5" r="0.95" fill="#7a64cc" opacity="0.67"/><circle cx="432.2" cy="309.3" r="0.98" fill="#6048b8" opacity="0.61"/><circle cx="525.7" cy="272.9" r="0.58" fill="#6a52c4" opacity="0.70"/><circle cx="503.2" cy="317.1" r="0.80" fill="#7a64cc" opacity="0.86"/><circle cx="459.6" cy="316.9" r="0.60" fill="#6a52c4" opacity="0.76"/><circle cx="481.3" cy="333.1" r="0.81" fill="#5640ae" opacity="0.62"/><circle cx="432.3" cy="273.6" r="0.81" fill="#6048b8" opacity="0.52"/><circle cx="443.2" cy="286.1" r="0.52" fill="#6048b8" opacity="0.78"/><circle cx="493.0" cy="311.6" r="0.92" fill="#6a52c4" opacity="0.64"/><circle cx="449.6" cy="250.3" r="0.57" fill="#6a52c4" opacity="0.71"/><circle cx="442.1" cy="253.4" r="0.54" fill="#6a52c4" opacity="0.66"/><circle cx="482.9" cy="327.0" r="0.82" fill="#7a64cc" opacity="0.82"/><circle cx="454.7" cy="315.9" r="0.91" fill="#6048b8" opacity="0.62"/><circle cx="451.3" cy="322.4" r="0.98" fill="#7a64cc" opacity="0.67"/><circle cx="427.9" cy="291.2" r="0.98" fill="#6048b8" opacity="0.87"/><circle cx="503.8" cy="326.7" r="0.47" fill="#6a52c4" opacity="0.81"/><circle cx="474.3" cy="303.8" r="0.96" fill="#6a52c4" opacity="0.69"/><circle cx="527.9" cy="285.7" r="0.47" fill="#6a52c4" opacity="0.55"/><circle cx="505.7" cy="274.2" r="0.49" fill="#6a52c4" opacity="0.70"/><circle cx="487.5" cy="310.4" r="0.57" fill="#7a64cc" opacity="0.51"/><circle cx="512.9" cy="323.4" r="0.84" fill="#6048b8" opacity="0.73"/><circle cx="521.7" cy="273.7" r="0.68" fill="#7a64cc" opacity="0.60"/><circle cx="529.7" cy="286.0" r="0.77" fill="#5640ae" opacity="0.67"/><circle cx="489.9" cy="336.9" r="0.96" fill="#5640ae" opacity="0.73"/><circle cx="507.1" cy="282.6" r="0.70" fill="#6a52c4" opacity="0.54"/><circle cx="490.0" cy="279.5" r="0.47" fill="#7a64cc" opacity="0.72"/><circle cx="499.9" cy="268.7" r="0.97" fill="#5640ae" opacity="0.84"/><circle cx="436.3" cy="295.4" r="0.84" fill="#5640ae" opacity="0.57"/><circle cx="527.7" cy="277.4" r="0.76" fill="#5640ae" opacity="0.55"/><circle cx="491.2" cy="303.9" r="0.45" fill="#6048b8" opacity="0.56"/><circle cx="512.8" cy="308.9" r="0.60" fill="#6048b8" opacity="0.86"/><circle cx="473.4" cy="307.0" r="0.96" fill="#7a64cc" opacity="0.54"/><circle cx="498.6" cy="331.9" r="0.84" fill="#5640ae" opacity="0.68"/><circle cx="462.9" cy="300.1" r="0.68" fill="#5640ae" opacity="0.56"/><circle cx="453.2" cy="330.3" r="0.97" fill="#6a52c4" opacity="0.53"/><circle cx="467.6" cy="262.4" r="0.62" fill="#5640ae" opacity="0.77"/><circle cx="495.8" cy="331.3" r="0.74" fill="#5640ae" opacity="0.64"/><circle cx="523.8" cy="287.8" r="0.52" fill="#7a64cc" opacity="0.56"/><circle cx="453.3" cy="329.0" r="0.55" fill="#7a64cc" opacity="0.52"/><circle cx="440.2" cy="310.7" r="0.68" fill="#5640ae" opacity="0.77"/><circle cx="522.4" cy="292.2" r="0.73" fill="#7a64cc" opacity="0.83"/><circle cx="438.9" cy="296.0" r="0.78" fill="#5640ae" opacity="0.89"/><circle cx="493.7" cy="268.1" r="0.77" fill="#6048b8" opacity="0.54"/><circle cx="488.2" cy="252.1" r="0.57" fill="#5640ae" opacity="0.85"/><circle cx="441.9" cy="293.0" r="0.48" fill="#5640ae" opacity="0.53"/><circle cx="498.9" cy="266.9" r="0.54" fill="#5640ae" opacity="0.83"/><circle cx="496.3" cy="263.2" r="0.70" fill="#6048b8" opacity="0.75"/><circle cx="484.6" cy="331.0" r="0.57" fill="#5640ae" opacity="0.66"/><circle cx="473.2" cy="279.1" r="0.54" fill="#6a52c4" opacity="0.69"/><circle cx="463.4" cy="256.3" r="0.90" fill="#6048b8" opacity="0.51"/><circle cx="495.6" cy="266.0" r="0.48" fill="#7a64cc" opacity="0.55"/><circle cx="523.4" cy="314.8" r="0.99" fill="#6048b8" opacity="0.79"/><circle cx="440.3" cy="279.2" r="0.50" fill="#6a52c4" opacity="0.61"/><circle cx="527.3" cy="274.8" r="0.61" fill="#6048b8" opacity="0.70"/><circle cx="496.3" cy="244.0" r="0.81" fill="#6048b8" opacity="0.72"/><circle cx="472.9" cy="270.3" r="0.62" fill="#6048b8" opacity="0.73"/><circle cx="451.3" cy="327.6" r="0.71" fill="#6a52c4" opacity="0.53"/><circle cx="475.1" cy="270.6" r="0.48" fill="#6a52c4" opacity="0.74"/><circle cx="452.5" cy="299.7" r="0.87" fill="#6a52c4" opacity="0.79"/><circle cx="428.4" cy="271.1" r="0.95" fill="#6a52c4" opacity="0.59"/><circle cx="444.8" cy="325.6" r="0.66" fill="#6048b8" opacity="0.90"/><circle cx="511.8" cy="261.3" r="0.84" fill="#7a64cc" opacity="0.71"/><circle cx="489.4" cy="301.9" r="0.60" fill="#5640ae" opacity="0.70"/><circle cx="466.0" cy="313.0" r="0.58" fill="#6048b8" opacity="0.58"/><circle cx="496.8" cy="315.0" r="0.69" fill="#5640ae" opacity="0.71"/><circle cx="504.6" cy="308.3" r="0.62" fill="#5640ae" opacity="0.76"/><circle cx="438.4" cy="260.6" r="0.67" fill="#7a64cc" opacity="0.73"/><circle cx="473.9" cy="264.4" r="0.68" fill="#6a52c4" opacity="0.68"/><circle cx="480.5" cy="334.2" r="0.53" fill="#6048b8" opacity="0.83"/><circle cx="521.0" cy="305.5" r="0.74" fill="#5640ae" opacity="0.50"/><circle cx="433.2" cy="276.6" r="0.77" fill="#6048b8" opacity="0.59"/><circle cx="426.9" cy="297.3" r="0.48" fill="#6048b8" opacity="0.54"/><circle cx="471.4" cy="270.1" r="0.60" fill="#7a64cc" opacity="0.68"/><circle cx="462.3" cy="318.1" r="0.51" fill="#6048b8" opacity="0.52"/><circle cx="523.5" cy="316.1" r="0.52" fill="#6a52c4" opacity="0.55"/><circle cx="482.6" cy="297.2" r="0.70" fill="#6a52c4" opacity="0.65"/><circle cx="472.1" cy="249.9" r="0.65" fill="#6048b8" opacity="0.85"/><circle cx="491.4" cy="243.1" r="0.92" fill="#7a64cc" opacity="0.73"/><circle cx="468.2" cy="326.9" r="0.62" fill="#7a64cc" opacity="0.61"/><circle cx="425.6" cy="280.6" r="0.70" fill="#5640ae" opacity="0.72"/><circle cx="444.3" cy="253.1" r="0.75" fill="#6048b8" opacity="0.64"/><circle cx="476.2" cy="254.3" r="0.71" fill="#6048b8" opacity="0.79"/><circle cx="435.7" cy="314.9" r="0.72" fill="#5640ae" opacity="0.58"/><circle cx="452.0" cy="266.4" r="0.70" fill="#7a64cc" opacity="0.52"/><circle cx="490.0" cy="243.5" r="0.61" fill="#6a52c4" opacity="0.64"/><circle cx="438.3" cy="278.5" r="0.55" fill="#7a64cc" opacity="0.82"/><circle cx="455.5" cy="258.7" r="0.54" fill="#7a64cc" opacity="0.58"/><circle cx="428.0" cy="283.8" r="0.98" fill="#5640ae" opacity="0.80"/><circle cx="501.7" cy="326.8" r="0.56" fill="#6048b8" opacity="0.61"/><circle cx="440.4" cy="311.4" r="0.52" fill="#6048b8" opacity="0.51"/><circle cx="488.8" cy="332.0" r="0.97" fill="#6a52c4" opacity="0.56"/><circle cx="452.2" cy="254.0" r="0.48" fill="#5640ae" opacity="0.63"/><circle cx="435.3" cy="267.7" r="0.64" fill="#5640ae" opacity="0.86"/><circle cx="439.1" cy="276.7" r="0.57" fill="#6048b8" opacity="0.84"/><circle cx="496.9" cy="244.0" r="0.83" fill="#5640ae" opacity="0.85"/><circle cx="484.4" cy="306.5" r="0.77" fill="#6a52c4" opacity="0.51"/><circle cx="499.9" cy="287.4" r="0.89" fill="#5640ae" opacity="0.64"/><circle cx="493.8" cy="248.2" r="0.78" fill="#6048b8" opacity="0.60"/><circle cx="465.9" cy="300.6" r="0.74" fill="#5640ae" opacity="0.57"/><circle cx="505.9" cy="256.1" r="0.69" fill="#5640ae" opacity="0.79"/><circle cx="520.9" cy="289.8" r="0.49" fill="#6048b8" opacity="0.66"/><circle cx="497.9" cy="259.8" r="0.72" fill="#6a52c4" opacity="0.50"/><circle cx="425.4" cy="283.2" r="0.96" fill="#5640ae" opacity="0.80"/><circle cx="507.2" cy="272.5" r="0.96" fill="#6048b8" opacity="0.51"/><circle cx="464.5" cy="250.6" r="0.53" fill="#6a52c4" opacity="0.51"/><circle cx="455.9" cy="288.7" r="0.50" fill="#6a52c4" opacity="0.54"/><circle cx="431.5" cy="313.2" r="0.61" fill="#7a64cc" opacity="0.73"/><circle cx="431.2" cy="272.8" r="0.46" fill="#5640ae" opacity="0.81"/><circle cx="476.4" cy="245.9" r="0.79" fill="#7a64cc" opacity="0.89"/><circle cx="432.9" cy="296.4" r="0.86" fill="#6048b8" opacity="0.72"/><circle cx="514.7" cy="267.2" r="0.51" fill="#6048b8" opacity="0.86"/><circle cx="466.4" cy="311.7" r="0.58" fill="#6048b8" opacity="0.89"/><circle cx="492.7" cy="246.4" r="0.66" fill="#7a64cc" opacity="0.72"/><circle cx="433.3" cy="293.7" r="0.92" fill="#6a52c4" opacity="0.66"/><circle cx="458.6" cy="289.5" r="0.68" fill="#6a52c4" opacity="0.51"/><circle cx="482.2" cy="308.9" r="0.56" fill="#6048b8" opacity="0.87"/><circle cx="431.3" cy="307.9" r="0.63" fill="#5640ae" opacity="0.61"/><circle cx="439.9" cy="267.2" r="0.52" fill="#6a52c4" opacity="0.65"/><circle cx="437.9" cy="311.9" r="0.77" fill="#6a52c4" opacity="0.69"/><circle cx="463.7" cy="272.4" r="0.92" fill="#5640ae" opacity="0.81"/><circle cx="438.1" cy="256.1" r="0.90" fill="#6048b8" opacity="0.67"/><circle cx="469.9" cy="323.5" r="0.50" fill="#6048b8" opacity="0.62"/><circle cx="507.2" cy="331.5" r="0.79" fill="#5640ae" opacity="0.59"/><circle cx="497.2" cy="297.2" r="0.51" fill="#6a52c4" opacity="0.85"/><circle cx="441.2" cy="304.4" r="0.77" fill="#5640ae" opacity="0.71"/><circle cx="459.6" cy="282.6" r="0.62" fill="#6a52c4" opacity="0.58"/><circle cx="443.3" cy="303.9" r="0.59" fill="#5640ae" opacity="0.79"/><circle cx="437.0" cy="323.5" r="0.54" fill="#6048b8" opacity="0.87"/><circle cx="446.8" cy="265.9" r="0.78" fill="#5640ae" opacity="0.58"/><circle cx="436.2" cy="261.9" r="0.72" fill="#7a64cc" opacity="0.85"/><circle cx="457.4" cy="259.9" r="0.70" fill="#6a52c4" opacity="0.78"/><circle cx="520.0" cy="305.7" r="0.51" fill="#6a52c4" opacity="0.76"/><circle cx="427.8" cy="285.1" r="0.89" fill="#6a52c4" opacity="0.82"/><circle cx="477.4" cy="263.9" r="0.67" fill="#7a64cc" opacity="0.76"/><circle cx="433.9" cy="270.2" r="0.76" fill="#5640ae" opacity="0.52"/><circle cx="451.1" cy="249.6" r="0.97" fill="#6a52c4" opacity="0.67"/><circle cx="474.9" cy="261.5" r="0.59" fill="#7a64cc" opacity="0.88"/><circle cx="473.9" cy="256.0" r="0.85" fill="#5640ae" opacity="0.63"/><circle cx="458.5" cy="283.8" r="0.48" fill="#5640ae" opacity="0.80"/><circle cx="493.0" cy="243.3" r="0.96" fill="#6a52c4" opacity="0.88"/><circle cx="505.9" cy="278.8" r="0.78" fill="#5640ae" opacity="0.71"/><circle cx="428.7" cy="289.5" r="0.81" fill="#7a64cc" opacity="0.68"/><circle cx="496.4" cy="325.5" r="0.79" fill="#7a64cc" opacity="0.85"/><circle cx="475.3" cy="245.4" r="0.96" fill="#5640ae" opacity="0.89"/><circle cx="469.4" cy="315.2" r="0.46" fill="#7a64cc" opacity="0.55"/><circle cx="437.2" cy="322.1" r="0.93" fill="#6048b8" opacity="0.81"/><circle cx="472.8" cy="330.6" r="0.63" fill="#7a64cc" opacity="0.84"/><circle cx="528.0" cy="281.8" r="0.82" fill="#7a64cc" opacity="0.60"/><circle cx="461.6" cy="319.5" r="0.89" fill="#7a64cc" opacity="0.76"/><circle cx="428.3" cy="283.3" r="0.72" fill="#7a64cc" opacity="0.61"/><circle cx="448.3" cy="329.0" r="0.47" fill="#6048b8" opacity="0.78"/><circle cx="442.4" cy="326.3" r="0.78" fill="#6a52c4" opacity="0.72"/><circle cx="508.2" cy="300.4" r="0.65" fill="#6a52c4" opacity="0.61"/><circle cx="471.6" cy="254.8" r="0.94" fill="#5640ae" opacity="0.72"/><circle cx="500.7" cy="248.7" r="0.97" fill="#7a64cc" opacity="0.74"/><circle cx="440.4" cy="301.5" r="0.85" fill="#6048b8" opacity="0.51"/><circle cx="463.5" cy="322.1" r="0.94" fill="#6048b8" opacity="0.51"/><circle cx="456.1" cy="333.5" r="0.50" fill="#7a64cc" opacity="0.70"/><circle cx="523.3" cy="299.1" r="0.59" fill="#6048b8" opacity="0.73"/><circle cx="517.9" cy="259.4" r="0.86" fill="#6a52c4" opacity="0.72"/><circle cx="432.2" cy="276.3" r="0.92" fill="#5640ae" opacity="0.59"/><circle cx="484.0" cy="255.0" r="0.83" fill="#5640ae" opacity="0.85"/><circle cx="527.8" cy="290.6" r="0.75" fill="#5640ae" opacity="0.58"/><circle cx="427.6" cy="270.9" r="0.88" fill="#5640ae" opacity="0.60"/><circle cx="432.4" cy="276.5" r="0.65" fill="#6a52c4" opacity="0.56"/><circle cx="506.6" cy="262.5" r="0.55" fill="#6048b8" opacity="0.71"/><circle cx="522.2" cy="280.4" r="0.68" fill="#7a64cc" opacity="0.63"/><circle cx="458.4" cy="254.2" r="0.50" fill="#5640ae" opacity="0.62"/><circle cx="439.4" cy="289.9" r="0.86" fill="#7a64cc" opacity="0.66"/><circle cx="482.9" cy="255.6" r="0.77" fill="#7a64cc" opacity="0.51"/><circle cx="468.6" cy="302.4" r="0.90" fill="#7a64cc" opacity="0.80"/><circle cx="482.0" cy="326.6" r="0.87" fill="#6a52c4" opacity="0.52"/><circle cx="487.3" cy="283.1" r="0.84" fill="#5640ae" opacity="0.86"/><circle cx="480.5" cy="311.3" r="0.67" fill="#6048b8" opacity="0.73"/><circle cx="427.8" cy="272.0" r="0.79" fill="#7a64cc" opacity="0.62"/><circle cx="480.3" cy="288.7" r="0.53" fill="#7a64cc" opacity="0.67"/><circle cx="530.4" cy="293.2" r="0.89" fill="#6048b8" opacity="0.85"/><circle cx="446.3" cy="313.1" r="0.83" fill="#5640ae" opacity="0.84"/><circle cx="472.8" cy="250.8" r="0.68" fill="#6048b8" opacity="0.50"/><circle cx="507.3" cy="274.4" r="0.97" fill="#6a52c4" opacity="0.82"/><circle cx="443.4" cy="326.2" r="0.62" fill="#5640ae" opacity="0.64"/><circle cx="514.4" cy="324.1" r="0.61" fill="#6048b8" opacity="0.85"/><circle cx="474.8" cy="249.1" r="0.60" fill="#5640ae" opacity="0.60"/><circle cx="468.1" cy="322.2" r="0.77" fill="#6a52c4" opacity="0.71"/><circle cx="501.6" cy="272.0" r="0.63" fill="#7a64cc" opacity="0.71"/><circle cx="455.9" cy="261.9" r="0.82" fill="#5640ae" opacity="0.83"/><circle cx="485.4" cy="246.0" r="0.71" fill="#7a64cc" opacity="0.77"/><circle cx="452.3" cy="289.6" r="0.51" fill="#6a52c4" opacity="0.85"/><circle cx="522.9" cy="310.0" r="0.97" fill="#6048b8" opacity="0.66"/><circle cx="429.2" cy="281.3" r="0.91" fill="#6a52c4" opacity="0.58"/><circle cx="456.6" cy="251.9" r="0.50" fill="#6048b8" opacity="0.72"/><circle cx="435.0" cy="274.6" r="0.93" fill="#5640ae" opacity="0.89"/><circle cx="440.5" cy="316.7" r="0.90" fill="#6048b8" opacity="0.52"/><circle cx="470.5" cy="251.3" r="0.52" fill="#6a52c4" opacity="0.83"/><circle cx="429.1" cy="282.3" r="0.73" fill="#6a52c4" opacity="0.71"/><circle cx="473.0" cy="315.7" r="0.55" fill="#6a52c4" opacity="0.65"/><circle cx="495.4" cy="260.4" r="0.64" fill="#5640ae" opacity="0.85"/><circle cx="425.3" cy="286.2" r="0.73" fill="#5640ae" opacity="0.70"/><circle cx="465.2" cy="261.8" r="0.97" fill="#5640ae" opacity="0.85"/><circle cx="465.3" cy="307.7" r="0.54" fill="#7a64cc" opacity="0.75"/><circle cx="498.0" cy="244.5" r="0.69" fill="#7a64cc" opacity="0.87"/><circle cx="424.8" cy="278.7" r="0.79" fill="#6048b8" opacity="0.87"/><circle cx="435.3" cy="268.0" r="0.56" fill="#7a64cc" opacity="0.60"/><circle cx="512.4" cy="306.0" r="0.54" fill="#5640ae" opacity="0.75"/><circle cx="448.7" cy="331.9" r="0.86" fill="#6048b8" opacity="0.58"/><circle cx="439.4" cy="269.3" r="0.60" fill="#7a64cc" opacity="0.68"/><circle cx="441.3" cy="299.2" r="0.75" fill="#5640ae" opacity="0.78"/><circle cx="443.2" cy="329.1" r="0.61" fill="#7a64cc" opacity="0.72"/><circle cx="481.1" cy="274.0" r="0.59" fill="#6a52c4" opacity="0.85"/><circle cx="448.4" cy="261.2" r="0.61" fill="#6048b8" opacity="0.58"/><circle cx="521.3" cy="305.6" r="0.47" fill="#5640ae" opacity="0.90"/><circle cx="428.6" cy="304.4" r="0.71" fill="#6a52c4" opacity="0.53"/><circle cx="481.8" cy="263.7" r="0.98" fill="#6a52c4" opacity="0.84"/><circle cx="519.6" cy="292.3" r="0.60" fill="#6048b8" opacity="0.53"/><circle cx="473.5" cy="265.8" r="0.62" fill="#6048b8" opacity="0.71"/><circle cx="440.3" cy="298.0" r="0.92" fill="#7a64cc" opacity="0.64"/><circle cx="449.1" cy="313.9" r="0.87" fill="#7a64cc" opacity="0.89"/><circle cx="424.2" cy="295.1" r="0.92" fill="#7a64cc" opacity="0.50"/><circle cx="444.2" cy="321.5" r="0.50" fill="#7a64cc" opacity="0.51"/><circle cx="523.7" cy="293.1" r="0.75" fill="#7a64cc" opacity="0.73"/><circle cx="463.0" cy="281.5" r="0.75" fill="#6a52c4" opacity="0.50"/><circle cx="481.9" cy="261.8" r="0.82" fill="#7a64cc" opacity="0.86"/><circle cx="471.5" cy="325.8" r="0.91" fill="#6a52c4" opacity="0.67"/><circle cx="490.1" cy="323.1" r="0.79" fill="#6a52c4" opacity="0.74"/><circle cx="462.7" cy="334.6" r="0.76" fill="#5640ae" opacity="0.63"/><circle cx="518.3" cy="323.0" r="0.96" fill="#5640ae" opacity="0.70"/><circle cx="450.4" cy="262.4" r="0.54" fill="#6a52c4" opacity="0.82"/><circle cx="459.0" cy="268.8" r="0.66" fill="#7a64cc" opacity="0.54"/><circle cx="522.2" cy="284.9" r="0.72" fill="#6048b8" opacity="0.58"/><circle cx="472.1" cy="338.1" r="0.52" fill="#5640ae" opacity="0.88"/><circle cx="488.5" cy="330.4" r="0.98" fill="#5640ae" opacity="0.62"/><circle cx="521.0" cy="261.8" r="0.96" fill="#6a52c4" opacity="0.55"/><circle cx="512.7" cy="291.9" r="0.92" fill="#5640ae" opacity="0.87"/><circle cx="507.5" cy="329.6" r="0.72" fill="#6048b8" opacity="0.54"/><circle cx="443.2" cy="301.8" r="0.93" fill="#5640ae" opacity="0.87"/><circle cx="493.3" cy="271.7" r="0.81" fill="#7a64cc" opacity="0.79"/><circle cx="472.7" cy="268.0" r="0.59" fill="#6a52c4" opacity="0.61"/><circle cx="432.8" cy="296.1" r="0.62" fill="#5640ae" opacity="0.77"/><circle cx="457.5" cy="318.5" r="0.97" fill="#5640ae" opacity="0.54"/><circle cx="515.0" cy="278.2" r="0.71" fill="#6a52c4" opacity="0.59"/><circle cx="446.0" cy="299.3" r="0.55" fill="#7a64cc" opacity="0.83"/><circle cx="496.3" cy="303.1" r="0.62" fill="#6a52c4" opacity="0.62"/><circle cx="447.9" cy="323.1" r="0.73" fill="#6a52c4" opacity="0.73"/><circle cx="507.4" cy="276.0" r="0.80" fill="#6048b8" opacity="0.85"/><circle cx="435.0" cy="315.3" r="0.70" fill="#6a52c4" opacity="0.52"/><circle cx="524.8" cy="271.5" r="0.52" fill="#6a52c4" opacity="0.68"/><circle cx="447.6" cy="251.1" r="0.60" fill="#6a52c4" opacity="0.86"/><circle cx="490.8" cy="281.6" r="0.79" fill="#7a64cc" opacity="0.68"/><circle cx="510.4" cy="308.8" r="0.96" fill="#7a64cc" opacity="0.52"/><circle cx="491.6" cy="331.0" r="0.67" fill="#7a64cc" opacity="0.78"/><circle cx="493.3" cy="317.6" r="0.85" fill="#6a52c4" opacity="0.67"/><circle cx="430.1" cy="303.2" r="0.99" fill="#6048b8" opacity="0.75"/><circle cx="503.9" cy="257.6" r="0.68" fill="#5640ae" opacity="0.63"/><circle cx="428.1" cy="282.7" r="0.75" fill="#6a52c4" opacity="0.63"/><circle cx="445.4" cy="288.8" r="0.63" fill="#7a64cc" opacity="0.87"/><circle cx="466.0" cy="276.3" r="0.73" fill="#5640ae" opacity="0.72"/><circle cx="463.9" cy="330.0" r="0.54" fill="#6a52c4" opacity="0.64"/><circle cx="506.4" cy="257.0" r="0.52" fill="#6a52c4" opacity="0.81"/><circle cx="517.5" cy="323.6" r="0.62" fill="#6a52c4" opacity="0.71"/><circle cx="491.1" cy="272.7" r="0.52" fill="#7a64cc" opacity="0.72"/><circle cx="438.7" cy="256.7" r="0.90" fill="#6a52c4" opacity="0.82"/><circle cx="517.9" cy="306.6" r="0.56" fill="#6a52c4" opacity="0.59"/><circle cx="450.6" cy="294.9" r="0.63" fill="#6048b8" opacity="0.54"/><circle cx="426.0" cy="285.8" r="1.00" fill="#6a52c4" opacity="0.56"/><circle cx="437.2" cy="268.7" r="0.59" fill="#6a52c4" opacity="0.67"/><circle cx="451.8" cy="328.7" r="0.76" fill="#5640ae" opacity="0.80"/><circle cx="430.3" cy="271.3" r="0.98" fill="#5640ae" opacity="0.84"/><circle cx="469.9" cy="242.2" r="0.79" fill="#6a52c4" opacity="0.60"/><circle cx="481.5" cy="281.3" r="0.57" fill="#5640ae" opacity="0.65"/><circle cx="498.9" cy="251.0" r="0.60" fill="#6a52c4" opacity="0.73"/><circle cx="513.0" cy="260.0" r="0.76" fill="#6a52c4" opacity="0.87"/><circle cx="462.5" cy="330.2" r="0.69" fill="#7a64cc" opacity="0.86"/><circle cx="469.3" cy="328.9" r="0.53" fill="#6a52c4" opacity="0.74"/><circle cx="471.8" cy="260.0" r="0.89" fill="#5640ae" opacity="0.56"/><circle cx="514.3" cy="266.5" r="0.50" fill="#6a52c4" opacity="0.90"/><circle cx="518.9" cy="294.5" r="0.60" fill="#6a52c4" opacity="0.78"/><circle cx="526.0" cy="295.9" r="0.79" fill="#6048b8" opacity="0.89"/><circle cx="475.3" cy="252.4" r="0.54" fill="#5640ae" opacity="0.56"/><circle cx="458.7" cy="257.9" r="0.69" fill="#6048b8" opacity="0.60"/><circle cx="456.6" cy="298.0" r="0.76" fill="#5640ae" opacity="0.67"/><circle cx="434.4" cy="275.9" r="0.58" fill="#6a52c4" opacity="0.50"/><circle cx="480.2" cy="296.7" r="0.90" fill="#6a52c4" opacity="0.56"/><circle cx="430.2" cy="296.7" r="0.71" fill="#6a52c4" opacity="0.89"/><circle cx="500.1" cy="328.2" r="0.48" fill="#5640ae" opacity="0.73"/><circle cx="528.2" cy="299.5" r="0.57" fill="#6a52c4" opacity="0.70"/><circle cx="437.4" cy="261.1" r="0.78" fill="#5640ae" opacity="0.67"/><circle cx="437.1" cy="312.4" r="0.67" fill="#7a64cc" opacity="0.88"/><circle cx="447.2" cy="300.8" r="0.49" fill="#7a64cc" opacity="0.65"/><circle cx="455.5" cy="322.3" r="0.65" fill="#5640ae" opacity="0.85"/><circle cx="452.9" cy="305.4" r="0.47" fill="#6048b8" opacity="0.65"/><circle cx="486.4" cy="256.4" r="0.76" fill="#6048b8" opacity="0.87"/><circle cx="434.5" cy="287.4" r="0.79" fill="#7a64cc" opacity="0.54"/><circle cx="520.8" cy="290.0" r="0.53" fill="#5640ae" opacity="0.52"/><circle cx="442.2" cy="303.3" r="0.56" fill="#7a64cc" opacity="0.76"/><circle cx="446.2" cy="315.8" r="0.83" fill="#7a64cc" opacity="0.85"/><circle cx="474.1" cy="318.0" r="0.62" fill="#7a64cc" opacity="0.82"/><circle cx="485.9" cy="260.8" r="0.60" fill="#6a52c4" opacity="0.76"/><circle cx="469.8" cy="258.2" r="0.84" fill="#6048b8" opacity="0.76"/><circle cx="472.0" cy="241.6" r="0.49" fill="#5640ae" opacity="0.65"/><circle cx="480.3" cy="300.8" r="0.58" fill="#7a64cc" opacity="0.50"/><circle cx="460.6" cy="263.1" r="0.88" fill="#6a52c4" opacity="0.70"/><circle cx="495.7" cy="319.6" r="0.65" fill="#6048b8" opacity="0.68"/><circle cx="510.8" cy="268.1" r="0.59" fill="#6a52c4" opacity="0.57"/><circle cx="521.0" cy="314.3" r="0.54" fill="#6048b8" opacity="0.90"/><circle cx="530.4" cy="289.3" r="0.73" fill="#6a52c4" opacity="0.52"/><circle cx="490.4" cy="250.6" r="0.96" fill="#5640ae" opacity="0.62"/><circle cx="456.9" cy="287.3" r="0.88" fill="#6048b8" opacity="0.75"/><circle cx="490.5" cy="325.5" r="0.57" fill="#6a52c4" opacity="0.71"/><circle cx="437.6" cy="298.1" r="0.48" fill="#5640ae" opacity="0.87"/><circle cx="466.3" cy="278.3" r="0.89" fill="#6048b8" opacity="0.89"/><circle cx="492.7" cy="320.3" r="0.81" fill="#6a52c4" opacity="0.68"/><circle cx="482.8" cy="258.4" r="0.73" fill="#7a64cc" opacity="0.88"/><circle cx="485.4" cy="255.4" r="0.84" fill="#6048b8" opacity="0.85"/><circle cx="482.7" cy="244.5" r="0.78" fill="#6048b8" opacity="0.54"/><circle cx="439.2" cy="256.2" r="1.00" fill="#6a52c4" opacity="0.62"/><circle cx="503.8" cy="304.2" r="0.54" fill="#5640ae" opacity="0.74"/><circle cx="465.8" cy="255.7" r="0.74" fill="#6a52c4" opacity="0.60"/><circle cx="430.0" cy="275.3" r="0.69" fill="#5640ae" opacity="0.68"/><circle cx="481.7" cy="315.3" r="0.76" fill="#5640ae" opacity="0.66"/><circle cx="456.3" cy="326.8" r="0.85" fill="#6048b8" opacity="0.78"/><circle cx="504.6" cy="302.5" r="0.77" fill="#6a52c4" opacity="0.51"/><circle cx="471.7" cy="259.0" r="0.70" fill="#6048b8" opacity="0.83"/><circle cx="515.5" cy="264.9" r="0.51" fill="#6048b8" opacity="0.80"/><circle cx="436.2" cy="294.9" r="0.79" fill="#6a52c4" opacity="0.50"/><circle cx="458.8" cy="310.8" r="0.81" fill="#6a52c4" opacity="0.63"/><circle cx="445.8" cy="251.8" r="0.58" fill="#5640ae" opacity="0.78"/><circle cx="512.8" cy="320.3" r="0.93" fill="#7a64cc" opacity="0.80"/><circle cx="453.6" cy="333.9" r="0.96" fill="#7a64cc" opacity="0.52"/><circle cx="469.1" cy="261.9" r="0.81" fill="#7a64cc" opacity="0.64"/><circle cx="483.1" cy="338.4" r="0.71" fill="#5640ae" opacity="0.82"/><circle cx="518.3" cy="273.3" r="0.58" fill="#6a52c4" opacity="0.57"/><circle cx="429.5" cy="275.2" r="0.61" fill="#5640ae" opacity="0.81"/><circle cx="511.9" cy="301.6" r="0.69" fill="#7a64cc" opacity="0.53"/><circle cx="481.8" cy="241.1" r="0.64" fill="#5640ae" opacity="0.88"/><circle cx="529.0" cy="277.7" r="0.73" fill="#7a64cc" opacity="0.51"/><circle cx="474.9" cy="248.1" r="0.78" fill="#5640ae" opacity="0.56"/><circle cx="472.4" cy="320.4" r="0.57" fill="#6a52c4" opacity="0.79"/><circle cx="519.8" cy="269.1" r="0.96" fill="#6048b8" opacity="0.64"/><circle cx="434.6" cy="309.4" r="0.91" fill="#6048b8" opacity="0.65"/><circle cx="488.5" cy="248.8" r="0.75" fill="#7a64cc" opacity="0.70"/><circle cx="455.1" cy="265.6" r="0.66" fill="#6a52c4" opacity="0.61"/><circle cx="446.7" cy="306.7" r="0.96" fill="#7a64cc" opacity="0.71"/><circle cx="466.6" cy="296.8" r="0.47" fill="#7a64cc" opacity="0.73"/><circle cx="460.8" cy="331.5" r="0.55" fill="#6048b8" opacity="0.83"/><circle cx="526.1" cy="273.2" r="0.99" fill="#6a52c4" opacity="0.87"/><circle cx="510.7" cy="322.4" r="0.99" fill="#6a52c4" opacity="0.80"/><circle cx="438.3" cy="275.2" r="0.75" fill="#6048b8" opacity="0.87"/><circle cx="516.6" cy="309.9" r="0.45" fill="#5640ae" opacity="0.60"/><circle cx="450.4" cy="250.6" r="0.94" fill="#5640ae" opacity="0.87"/><circle cx="472.9" cy="336.9" r="0.60" fill="#6048b8" opacity="0.55"/><circle cx="500.0" cy="304.0" r="0.94" fill="#6a52c4" opacity="0.78"/><circle cx="448.4" cy="325.2" r="0.58" fill="#6048b8" opacity="0.70"/><circle cx="501.1" cy="260.9" r="0.79" fill="#5640ae" opacity="0.90"/><circle cx="427.4" cy="291.9" r="0.54" fill="#7a64cc" opacity="0.74"/><circle cx="439.9" cy="287.1" r="0.77" fill="#6a52c4" opacity="0.59"/><circle cx="459.5" cy="331.5" r="0.93" fill="#6048b8" opacity="0.84"/><circle cx="458.4" cy="325.1" r="0.73" fill="#6a52c4" opacity="0.75"/><circle cx="453.7" cy="278.4" r="0.57" fill="#7a64cc" opacity="0.63"/><circle cx="524.2" cy="309.3" r="0.64" fill="#5640ae" opacity="0.61"/><circle cx="440.4" cy="303.3" r="0.46" fill="#6048b8" opacity="0.66"/><circle cx="495.4" cy="244.0" r="0.68" fill="#7a64cc" opacity="0.81"/><circle cx="530.0" cy="287.9" r="0.86" fill="#7a64cc" opacity="0.76"/><circle cx="524.5" cy="283.0" r="0.88" fill="#5640ae" opacity="0.54"/><circle cx="432.7" cy="302.7" r="0.86" fill="#6048b8" opacity="0.72"/><circle cx="468.9" cy="261.0" r="0.88" fill="#5640ae" opacity="0.73"/><circle cx="515.3" cy="326.0" r="0.60" fill="#7a64cc" opacity="0.58"/><circle cx="509.5" cy="326.8" r="0.66" fill="#6a52c4" opacity="0.79"/><circle cx="506.3" cy="248.5" r="0.86" fill="#6048b8" opacity="0.54"/><circle cx="492.9" cy="332.2" r="0.77" fill="#5640ae" opacity="0.86"/><circle cx="465.0" cy="320.0" r="0.68" fill="#6048b8" opacity="0.50"/><circle cx="443.3" cy="284.2" r="0.82" fill="#6048b8" opacity="0.81"/><circle cx="451.8" cy="273.5" r="0.46" fill="#6a52c4" opacity="0.68"/><circle cx="476.2" cy="258.2" r="0.57" fill="#6a52c4" opacity="0.84"/><circle cx="436.7" cy="304.1" r="0.67" fill="#6a52c4" opacity="0.86"/><circle cx="528.0" cy="304.3" r="0.72" fill="#6048b8" opacity="0.70"/><circle cx="445.5" cy="271.7" r="0.65" fill="#5640ae" opacity="0.72"/><circle cx="511.2" cy="288.6" r="0.96" fill="#7a64cc" opacity="0.51"/><circle cx="504.5" cy="265.0" r="0.50" fill="#6a52c4" opacity="0.84"/><circle cx="452.1" cy="264.0" r="0.90" fill="#5640ae" opacity="0.69"/><circle cx="494.0" cy="287.5" r="0.88" fill="#6048b8" opacity="0.72"/><circle cx="510.3" cy="325.6" r="0.84" fill="#5640ae" opacity="0.82"/><circle cx="511.6" cy="268.7" r="0.61" fill="#6a52c4" opacity="0.68"/><circle cx="456.3" cy="331.0" r="0.79" fill="#5640ae" opacity="0.63"/><circle cx="462.8" cy="243.1" r="0.94" fill="#7a64cc" opacity="0.65"/><circle cx="462.9" cy="247.4" r="0.66" fill="#6048b8" opacity="0.63"/><circle cx="452.5" cy="285.3" r="0.52" fill="#7a64cc" opacity="0.75"/><circle cx="466.5" cy="263.7" r="0.80" fill="#6a52c4" opacity="0.74"/><circle cx="507.3" cy="311.5" r="0.73" fill="#7a64cc" opacity="0.70"/><circle cx="487.5" cy="318.1" r="0.92" fill="#6048b8" opacity="0.83"/><circle cx="450.8" cy="286.9" r="0.87" fill="#7a64cc" opacity="0.70"/><circle cx="427.7" cy="298.1" r="0.80" fill="#7a64cc" opacity="0.74"/><circle cx="475.2" cy="303.4" r="0.83" fill="#6a52c4" opacity="0.55"/><circle cx="439.9" cy="320.7" r="0.96" fill="#5640ae" opacity="0.54"/><circle cx="448.1" cy="330.0" r="0.89" fill="#6048b8" opacity="0.66"/><circle cx="451.3" cy="265.4" r="0.83" fill="#5640ae" opacity="0.55"/><circle cx="492.1" cy="245.6" r="0.62" fill="#6a52c4" opacity="0.83"/><circle cx="433.9" cy="269.9" r="0.63" fill="#6048b8" opacity="0.78"/><circle cx="491.4" cy="245.3" r="0.57" fill="#5640ae" opacity="0.54"/><circle cx="442.8" cy="285.3" r="0.94" fill="#6a52c4" opacity="0.59"/><circle cx="459.1" cy="324.6" r="0.79" fill="#6048b8" opacity="0.60"/><circle cx="470.7" cy="333.2" r="0.82" fill="#6048b8" opacity="0.53"/><circle cx="520.0" cy="282.1" r="0.66" fill="#5640ae" opacity="0.63"/><circle cx="472.5" cy="328.6" r="0.60" fill="#7a64cc" opacity="0.62"/><circle cx="509.0" cy="270.6" r="0.74" fill="#7a64cc" opacity="0.59"/><circle cx="526.3" cy="283.2" r="0.49" fill="#5640ae" opacity="0.59"/><circle cx="452.6" cy="326.6" r="0.92" fill="#6048b8" opacity="0.63"/><circle cx="518.9" cy="301.3" r="0.81" fill="#7a64cc" opacity="0.69"/><circle cx="434.6" cy="297.1" r="0.77" fill="#6048b8" opacity="0.83"/><circle cx="500.1" cy="255.5" r="0.62" fill="#7a64cc" opacity="0.87"/><circle cx="522.2" cy="266.0" r="0.68" fill="#6048b8" opacity="0.82"/><circle cx="504.7" cy="255.6" r="0.75" fill="#7a64cc" opacity="0.61"/><circle cx="494.9" cy="332.8" r="0.48" fill="#7a64cc" opacity="0.69"/><circle cx="495.7" cy="261.9" r="0.68" fill="#7a64cc" opacity="0.57"/><circle cx="525.6" cy="275.7" r="0.73" fill="#6a52c4" opacity="0.55"/><circle cx="428.8" cy="297.7" r="0.96" fill="#7a64cc" opacity="0.58"/><circle cx="451.2" cy="303.5" r="0.75" fill="#6048b8" opacity="0.60"/><circle cx="490.4" cy="325.9" r="0.71" fill="#7a64cc" opacity="0.51"/><circle cx="484.5" cy="339.8" r="0.90" fill="#5640ae" opacity="0.78"/><circle cx="496.3" cy="247.0" r="0.74" fill="#6a52c4" opacity="0.52"/><circle cx="448.8" cy="314.4" r="0.93" fill="#7a64cc" opacity="0.88"/><circle cx="520.3" cy="310.7" r="0.93" fill="#6048b8" opacity="0.51"/><circle cx="507.3" cy="295.1" r="0.46" fill="#6a52c4" opacity="0.77"/><circle cx="456.4" cy="246.3" r="0.75" fill="#6a52c4" opacity="0.66"/><circle cx="465.3" cy="262.2" r="0.53" fill="#6048b8" opacity="0.57"/><circle cx="483.3" cy="261.4" r="0.76" fill="#7a64cc" opacity="0.85"/><circle cx="452.1" cy="260.9" r="0.48" fill="#6a52c4" opacity="0.55"/><circle cx="489.1" cy="284.2" r="0.58" fill="#5640ae" opacity="0.56"/><circle cx="455.7" cy="324.5" r="0.49" fill="#6048b8" opacity="0.81"/><circle cx="439.4" cy="289.1" r="0.74" fill="#5640ae" opacity="0.84"/><circle cx="426.0" cy="296.1" r="0.47" fill="#6a52c4" opacity="0.75"/><circle cx="432.1" cy="299.0" r="0.75" fill="#6a52c4" opacity="0.70"/><circle cx="475.8" cy="302.7" r="0.84" fill="#6048b8" opacity="0.51"/><circle cx="466.9" cy="264.2" r="0.88" fill="#5640ae" opacity="0.66"/><circle cx="497.6" cy="283.6" r="0.76" fill="#6048b8" opacity="0.89"/><circle cx="442.7" cy="286.9" r="0.61" fill="#6a52c4" opacity="0.89"/><circle cx="476.7" cy="340.1" r="0.46" fill="#5640ae" opacity="0.86"/><circle cx="429.8" cy="298.0" r="0.91" fill="#6a52c4" opacity="0.53"/><circle cx="520.1" cy="308.0" r="0.72" fill="#6a52c4" opacity="0.86"/><circle cx="519.7" cy="272.3" r="0.97" fill="#6a52c4" opacity="0.64"/><circle cx="527.0" cy="273.0" r="0.75" fill="#6048b8" opacity="0.84"/><circle cx="509.0" cy="299.7" r="0.55" fill="#6048b8" opacity="0.86"/><circle cx="461.8" cy="289.4" r="0.51" fill="#6048b8" opacity="0.61"/><circle cx="478.1" cy="267.6" r="0.91" fill="#6a52c4" opacity="0.80"/><circle cx="464.3" cy="319.4" r="0.47" fill="#5640ae" opacity="0.72"/><circle cx="454.8" cy="252.9" r="0.80" fill="#7a64cc" opacity="0.60"/><circle cx="496.0" cy="282.4" r="0.57" fill="#6a52c4" opacity="0.85"/><circle cx="471.8" cy="260.3" r="0.88" fill="#6a52c4" opacity="0.86"/><circle cx="452.6" cy="248.2" r="0.90" fill="#5640ae" opacity="0.71"/><circle cx="504.4" cy="252.8" r="0.68" fill="#6a52c4" opacity="0.85"/><circle cx="450.3" cy="275.7" r="0.78" fill="#5640ae" opacity="0.56"/><circle cx="502.2" cy="322.9" r="0.64" fill="#5640ae" opacity="0.71"/><circle cx="459.4" cy="328.3" r="0.98" fill="#7a64cc" opacity="0.71"/><circle cx="455.8" cy="312.4" r="0.96" fill="#6048b8" opacity="0.64"/><circle cx="444.4" cy="260.1" r="0.69" fill="#5640ae" opacity="0.74"/><circle cx="520.6" cy="315.2" r="0.77" fill="#6048b8" opacity="0.71"/><circle cx="500.7" cy="262.8" r="0.96" fill="#6a52c4" opacity="0.73"/><circle cx="492.5" cy="255.6" r="0.97" fill="#5640ae" opacity="0.65"/><circle cx="447.1" cy="249.2" r="0.73" fill="#7a64cc" opacity="0.58"/><circle cx="437.9" cy="318.2" r="0.47" fill="#7a64cc" opacity="0.72"/><circle cx="522.5" cy="279.7" r="0.78" fill="#5640ae" opacity="0.73"/><circle cx="469.8" cy="298.6" r="0.67" fill="#5640ae" opacity="0.78"/><circle cx="455.5" cy="278.6" r="0.82" fill="#6a52c4" opacity="0.56"/><circle cx="449.2" cy="250.0" r="0.49" fill="#5640ae" opacity="0.86"/><circle cx="518.7" cy="297.0" r="0.80" fill="#7a64cc" opacity="0.76"/><circle cx="511.6" cy="255.7" r="0.66" fill="#7a64cc" opacity="0.59"/><circle cx="497.1" cy="263.6" r="0.78" fill="#6048b8" opacity="0.81"/><circle cx="464.4" cy="255.9" r="0.63" fill="#5640ae" opacity="0.57"/><circle cx="494.1" cy="285.8" r="0.88" fill="#6a52c4" opacity="0.67"/><circle cx="514.8" cy="263.1" r="0.89" fill="#5640ae" opacity="0.84"/><circle cx="428.3" cy="300.4" r="0.70" fill="#6048b8" opacity="0.67"/><circle cx="475.2" cy="327.0" r="0.55" fill="#6a52c4" opacity="0.70"/><circle cx="443.6" cy="308.7" r="0.46" fill="#6a52c4" opacity="0.52"/><circle cx="468.2" cy="259.2" r="0.68" fill="#7a64cc" opacity="0.53"/><circle cx="443.4" cy="252.5" r="0.67" fill="#5640ae" opacity="0.63"/><circle cx="480.2" cy="332.5" r="0.55" fill="#7a64cc" opacity="0.57"/><circle cx="477.4" cy="292.0" r="0.46" fill="#5640ae" opacity="0.90"/><circle cx="491.3" cy="247.9" r="0.65" fill="#5640ae" opacity="0.85"/><circle cx="452.1" cy="280.3" r="0.73" fill="#6048b8" opacity="0.85"/><circle cx="434.7" cy="285.5" r="0.62" fill="#5640ae" opacity="0.73"/><circle cx="515.3" cy="311.4" r="0.71" fill="#7a64cc" opacity="0.63"/><circle cx="457.5" cy="246.6" r="0.94" fill="#6048b8" opacity="0.51"/><circle cx="462.3" cy="258.8" r="0.51" fill="#7a64cc" opacity="0.58"/><circle cx="469.6" cy="325.2" r="0.57" fill="#6a52c4" opacity="0.77"/><circle cx="523.8" cy="272.1" r="0.85" fill="#7a64cc" opacity="0.79"/><circle cx="452.7" cy="269.5" r="0.98" fill="#5640ae" opacity="0.88"/><circle cx="452.9" cy="288.9" r="0.62" fill="#7a64cc" opacity="0.58"/><circle cx="531.1" cy="285.8" r="0.76" fill="#7a64cc" opacity="0.85"/><circle cx="476.0" cy="327.8" r="0.57" fill="#7a64cc" opacity="0.64"/><circle cx="487.7" cy="300.4" r="0.85" fill="#7a64cc" opacity="0.59"/><circle cx="430.1" cy="306.1" r="0.61" fill="#5640ae" opacity="0.70"/><circle cx="483.0" cy="251.4" r="0.78" fill="#6a52c4" opacity="0.82"/><circle cx="444.9" cy="256.1" r="0.55" fill="#7a64cc" opacity="0.79"/><circle cx="431.4" cy="292.8" r="0.74" fill="#6048b8" opacity="0.51"/><circle cx="447.8" cy="276.3" r="0.85" fill="#7a64cc" opacity="0.70"/><circle cx="490.1" cy="336.9" r="0.84" fill="#5640ae" opacity="0.63"/><circle cx="471.8" cy="263.3" r="0.76" fill="#6a52c4" opacity="0.85"/><circle cx="442.8" cy="254.4" r="0.48" fill="#5640ae" opacity="0.54"/><circle cx="445.7" cy="273.8" r="0.51" fill="#6048b8" opacity="0.75"/><circle cx="515.5" cy="311.8" r="0.69" fill="#7a64cc" opacity="0.82"/><circle cx="489.9" cy="250.5" r="0.53" fill="#6a52c4" opacity="0.81"/><circle cx="442.6" cy="253.1" r="0.79" fill="#6048b8" opacity="0.81"/><circle cx="440.3" cy="320.6" r="0.45" fill="#6a52c4" opacity="0.53"/><circle cx="443.9" cy="309.4" r="0.69" fill="#7a64cc" opacity="0.73"/><circle cx="444.2" cy="271.5" r="0.90" fill="#6a52c4" opacity="0.76"/><circle cx="470.1" cy="340.0" r="0.63" fill="#7a64cc" opacity="0.78"/><circle cx="505.6" cy="271.3" r="0.67" fill="#6048b8" opacity="0.75"/><circle cx="449.9" cy="259.5" r="0.49" fill="#5640ae" opacity="0.78"/><circle cx="511.0" cy="283.6" r="0.93" fill="#6048b8" opacity="0.77"/><circle cx="444.8" cy="306.5" r="0.91" fill="#5640ae" opacity="0.88"/><circle cx="490.0" cy="254.7" r="0.77" fill="#6048b8" opacity="0.84"/><circle cx="483.7" cy="337.1" r="0.98" fill="#7a64cc" opacity="0.54"/><circle cx="470.4" cy="258.6" r="0.50" fill="#5640ae" opacity="0.75"/><circle cx="455.6" cy="309.3" r="0.95" fill="#6048b8" opacity="0.78"/><circle cx="518.0" cy="262.8" r="0.62" fill="#5640ae" opacity="0.73"/><circle cx="433.1" cy="275.3" r="0.87" fill="#6a52c4" opacity="0.85"/><circle cx="447.1" cy="311.8" r="0.61" fill="#5640ae" opacity="0.62"/><circle cx="451.4" cy="252.2" r="0.45" fill="#6048b8" opacity="0.83"/><circle cx="429.5" cy="289.1" r="0.76" fill="#6048b8" opacity="0.55"/><circle cx="486.1" cy="267.0" r="0.58" fill="#7a64cc" opacity="0.84"/><circle cx="441.7" cy="285.3" r="0.55" fill="#6048b8" opacity="0.59"/><circle cx="526.3" cy="303.9" r="0.91" fill="#5640ae" opacity="0.61"/><circle cx="448.8" cy="278.1" r="0.67" fill="#6048b8" opacity="0.86"/><circle cx="443.5" cy="310.6" r="0.97" fill="#5640ae" opacity="0.81"/><circle cx="446.3" cy="319.7" r="0.94" fill="#6a52c4" opacity="0.64"/><circle cx="496.5" cy="309.1" r="0.92" fill="#6a52c4" opacity="0.80"/><circle cx="448.9" cy="288.0" r="0.86" fill="#7a64cc" opacity="0.72"/><circle cx="483.6" cy="278.6" r="0.57" fill="#6a52c4" opacity="0.51"/><circle cx="480.3" cy="330.6" r="0.71" fill="#6048b8" opacity="0.63"/><circle cx="464.8" cy="259.3" r="0.67" fill="#7a64cc" opacity="0.70"/><circle cx="499.2" cy="329.9" r="0.89" fill="#7a64cc" opacity="0.81"/><circle cx="479.5" cy="338.3" r="0.70" fill="#5640ae" opacity="0.57"/><circle cx="496.3" cy="258.2" r="0.84" fill="#6048b8" opacity="0.62"/><circle cx="429.8" cy="269.1" r="0.59" fill="#6048b8" opacity="0.76"/><circle cx="509.6" cy="254.1" r="0.77" fill="#6048b8" opacity="0.67"/><circle cx="499.7" cy="247.2" r="0.75" fill="#7a64cc" opacity="0.61"/><circle cx="491.4" cy="254.4" r="0.81" fill="#6048b8" opacity="0.88"/><circle cx="525.4" cy="278.7" r="0.82" fill="#5640ae" opacity="0.86"/><circle cx="481.0" cy="257.1" r="0.62" fill="#7a64cc" opacity="0.79"/><circle cx="515.1" cy="309.8" r="0.70" fill="#7a64cc" opacity="0.61"/><circle cx="472.6" cy="329.7" r="0.95" fill="#6048b8" opacity="0.87"/><circle cx="436.0" cy="268.7" r="0.94" fill="#7a64cc" opacity="0.68"/><circle cx="512.9" cy="254.4" r="0.73" fill="#6048b8" opacity="0.77"/><circle cx="503.3" cy="318.6" r="0.61" fill="#7a64cc" opacity="0.81"/><circle cx="436.9" cy="278.6" r="0.97" fill="#7a64cc" opacity="0.77"/><circle cx="517.7" cy="320.7" r="0.90" fill="#6a52c4" opacity="0.88"/><circle cx="521.9" cy="318.3" r="0.69" fill="#7a64cc" opacity="0.73"/><circle cx="477.5" cy="315.3" r="0.67" fill="#6048b8" opacity="0.69"/><circle cx="463.2" cy="251.4" r="0.86" fill="#6048b8" opacity="0.71"/><circle cx="436.5" cy="293.8" r="0.95" fill="#6a52c4" opacity="0.72"/><circle cx="443.2" cy="274.4" r="0.68" fill="#5640ae" opacity="0.58"/><circle cx="435.6" cy="270.7" r="0.85" fill="#6a52c4" opacity="0.62"/><circle cx="483.4" cy="324.8" r="0.81" fill="#7a64cc" opacity="0.73"/><circle cx="523.2" cy="297.5" r="0.52" fill="#6a52c4" opacity="0.71"/><circle cx="476.0" cy="337.0" r="0.50" fill="#6a52c4" opacity="0.81"/><circle cx="443.7" cy="267.2" r="0.65" fill="#6a52c4" opacity="0.85"/><circle cx="430.4" cy="311.8" r="0.76" fill="#6a52c4" opacity="0.69"/><circle cx="452.6" cy="313.3" r="0.72" fill="#6a52c4" opacity="0.77"/><circle cx="498.9" cy="305.2" r="0.77" fill="#7a64cc" opacity="0.66"/><circle cx="423.4" cy="288.3" r="0.91" fill="#6048b8" opacity="0.58"/><circle cx="510.1" cy="275.3" r="0.87" fill="#5640ae" opacity="0.84"/><circle cx="431.6" cy="291.7" r="0.73" fill="#7a64cc" opacity="0.67"/><circle cx="466.4" cy="274.5" r="0.89" fill="#6a52c4" opacity="0.56"/><circle cx="445.5" cy="321.4" r="0.76" fill="#7a64cc" opacity="0.58"/><circle cx="429.0" cy="285.1" r="0.49" fill="#6048b8" opacity="0.51"/><circle cx="454.2" cy="293.9" r="0.63" fill="#5640ae" opacity="0.57"/><circle cx="518.9" cy="279.2" r="0.61" fill="#7a64cc" opacity="0.88"/><circle cx="447.1" cy="302.1" r="0.79" fill="#7a64cc" opacity="0.83"/><circle cx="436.3" cy="299.7" r="0.58" fill="#7a64cc" opacity="0.66"/><circle cx="460.2" cy="307.7" r="0.80" fill="#6048b8" opacity="0.60"/><circle cx="447.5" cy="273.8" r="0.68" fill="#7a64cc" opacity="0.75"/><circle cx="478.2" cy="327.2" r="0.75" fill="#6048b8" opacity="0.60"/><circle cx="443.5" cy="286.7" r="0.88" fill="#5640ae" opacity="0.84"/><circle cx="427.6" cy="275.4" r="0.79" fill="#5640ae" opacity="0.87"/><circle cx="448.7" cy="326.1" r="0.82" fill="#5640ae" opacity="0.65"/><circle cx="481.1" cy="248.5" r="0.51" fill="#7a64cc" opacity="0.74"/><circle cx="443.4" cy="325.0" r="0.99" fill="#7a64cc" opacity="0.83"/><circle cx="447.9" cy="328.2" r="0.82" fill="#6a52c4" opacity="0.82"/><circle cx="461.3" cy="247.1" r="0.50" fill="#6048b8" opacity="0.62"/><circle cx="525.6" cy="279.9" r="0.46" fill="#7a64cc" opacity="0.68"/><circle cx="437.9" cy="315.3" r="0.77" fill="#6a52c4" opacity="0.73"/><circle cx="520.0" cy="305.6" r="0.89" fill="#6048b8" opacity="0.60"/><circle cx="434.6" cy="270.0" r="0.98" fill="#7a64cc" opacity="0.63"/><circle cx="462.0" cy="285.9" r="0.77" fill="#5640ae" opacity="0.57"/><circle cx="487.3" cy="313.4" r="0.47" fill="#6a52c4" opacity="0.70"/><circle cx="452.6" cy="294.6" r="0.62" fill="#5640ae" opacity="0.73"/><circle cx="485.5" cy="249.3" r="0.90" fill="#6048b8" opacity="0.69"/><circle cx="528.3" cy="278.7" r="0.76" fill="#5640ae" opacity="0.64"/><circle cx="426.5" cy="276.6" r="0.91" fill="#5640ae" opacity="0.67"/><circle cx="471.7" cy="315.5" r="0.96" fill="#6a52c4" opacity="0.59"/><circle cx="487.5" cy="246.2" r="0.74" fill="#5640ae" opacity="0.53"/><circle cx="485.2" cy="261.2" r="0.55" fill="#6a52c4" opacity="0.67"/><circle cx="477.9" cy="331.5" r="0.87" fill="#6048b8" opacity="0.84"/><circle cx="432.4" cy="287.9" r="0.60" fill="#5640ae" opacity="0.86"/><circle cx="491.2" cy="243.4" r="0.81" fill="#6048b8" opacity="0.86"/><circle cx="521.8" cy="318.5" r="0.85" fill="#5640ae" opacity="0.86"/><circle cx="459.7" cy="304.3" r="1.00" fill="#5640ae" opacity="0.74"/><circle cx="519.9" cy="284.8" r="0.98" fill="#7a64cc" opacity="0.85"/><circle cx="437.6" cy="305.4" r="0.99" fill="#6a52c4" opacity="0.53"/><circle cx="479.7" cy="277.6" r="0.84" fill="#5640ae" opacity="0.58"/><circle cx="471.2" cy="241.8" r="0.80" fill="#5640ae" opacity="0.86"/><circle cx="471.8" cy="299.5" r="0.83" fill="#6a52c4" opacity="0.67"/><circle cx="425.2" cy="299.5" r="0.91" fill="#5640ae" opacity="0.70"/><circle cx="469.3" cy="311.2" r="0.99" fill="#6048b8" opacity="0.86"/><circle cx="492.1" cy="298.3" r="0.77" fill="#6a52c4" opacity="0.79"/><circle cx="446.5" cy="326.6" r="0.94" fill="#5640ae" opacity="0.66"/><circle cx="433.8" cy="265.1" r="0.47" fill="#6a52c4" opacity="0.88"/><circle cx="521.8" cy="272.2" r="0.68" fill="#6048b8" opacity="0.75"/><circle cx="430.6" cy="311.9" r="0.56" fill="#7a64cc" opacity="0.60"/><circle cx="440.0" cy="282.2" r="0.65" fill="#6048b8" opacity="0.75"/><circle cx="440.6" cy="322.2" r="0.74" fill="#6a52c4" opacity="0.57"/><circle cx="458.6" cy="331.7" r="0.92" fill="#6048b8" opacity="0.89"/><circle cx="446.2" cy="329.5" r="0.58" fill="#7a64cc" opacity="0.76"/><circle cx="517.6" cy="276.1" r="0.65" fill="#5640ae" opacity="0.70"/><circle cx="499.6" cy="260.8" r="0.53" fill="#5640ae" opacity="0.62"/><circle cx="469.7" cy="305.5" r="0.90" fill="#7a64cc" opacity="0.78"/><circle cx="441.4" cy="294.5" r="0.49" fill="#5640ae" opacity="0.58"/><circle cx="501.3" cy="269.8" r="0.73" fill="#6a52c4" opacity="0.76"/><circle cx="480.1" cy="304.5" r="0.90" fill="#6048b8" opacity="0.64"/><circle cx="451.7" cy="307.2" r="0.96" fill="#7a64cc" opacity="0.72"/><circle cx="505.6" cy="270.5" r="0.76" fill="#5640ae" opacity="0.60"/><circle cx="522.4" cy="294.0" r="0.78" fill="#6048b8" opacity="0.65"/><circle cx="485.2" cy="270.4" r="0.65" fill="#7a64cc" opacity="0.59"/><circle cx="461.2" cy="319.6" r="0.93" fill="#6a52c4" opacity="0.72"/><circle cx="526.7" cy="300.5" r="0.51" fill="#6048b8" opacity="0.90"/><circle cx="524.2" cy="305.1" r="0.88" fill="#6a52c4" opacity="0.51"/><circle cx="500.0" cy="268.2" r="0.47" fill="#6a52c4" opacity="0.61"/><circle cx="430.1" cy="303.3" r="0.48" fill="#7a64cc" opacity="0.61"/><circle cx="454.0" cy="253.3" r="0.53" fill="#5640ae" opacity="0.84"/><circle cx="453.7" cy="314.9" r="0.94" fill="#6048b8" opacity="0.62"/><circle cx="433.0" cy="319.1" r="0.67" fill="#6a52c4" opacity="0.53"/><circle cx="494.7" cy="294.6" r="0.77" fill="#6a52c4" opacity="0.56"/><circle cx="445.9" cy="312.0" r="0.88" fill="#7a64cc" opacity="0.90"/><circle cx="513.0" cy="300.3" r="0.78" fill="#5640ae" opacity="0.79"/><circle cx="499.5" cy="245.9" r="0.98" fill="#6048b8" opacity="0.59"/><circle cx="436.9" cy="290.6" r="0.62" fill="#7a64cc" opacity="0.67"/><circle cx="453.2" cy="285.3" r="0.50" fill="#7a64cc" opacity="0.74"/><circle cx="459.3" cy="248.1" r="0.63" fill="#6048b8" opacity="0.69"/><circle cx="474.5" cy="266.3" r="0.48" fill="#5640ae" opacity="0.62"/><circle cx="506.6" cy="251.5" r="0.64" fill="#6a52c4" opacity="0.69"/><circle cx="450.3" cy="323.8" r="0.47" fill="#6048b8" opacity="0.64"/><circle cx="480.7" cy="327.1" r="0.51" fill="#7a64cc" opacity="0.61"/><circle cx="455.4" cy="288.9" r="0.53" fill="#6048b8" opacity="0.54"/><circle cx="513.6" cy="310.7" r="0.68" fill="#5640ae" opacity="0.84"/><circle cx="507.1" cy="329.7" r="0.90" fill="#5640ae" opacity="0.53"/><circle cx="511.0" cy="261.0" r="0.83" fill="#6a52c4" opacity="0.54"/><circle cx="492.9" cy="312.9" r="0.92" fill="#5640ae" opacity="0.81"/><circle cx="521.4" cy="273.1" r="0.51" fill="#6048b8" opacity="0.65"/><circle cx="482.8" cy="301.6" r="0.63" fill="#6048b8" opacity="0.57"/><circle cx="485.0" cy="263.5" r="0.61" fill="#6048b8" opacity="0.57"/><circle cx="447.9" cy="295.5" r="0.49" fill="#6a52c4" opacity="0.62"/><circle cx="443.3" cy="273.7" r="0.81" fill="#6a52c4" opacity="0.67"/><circle cx="464.6" cy="257.7" r="0.56" fill="#6048b8" opacity="0.73"/><circle cx="529.1" cy="280.2" r="0.73" fill="#6048b8" opacity="0.87"/><circle cx="442.6" cy="309.9" r="0.71" fill="#7a64cc" opacity="0.57"/><circle cx="480.1" cy="270.3" r="0.91" fill="#5640ae" opacity="0.74"/><circle cx="516.9" cy="259.7" r="0.94" fill="#6a52c4" opacity="0.55"/><circle cx="521.4" cy="312.6" r="0.47" fill="#5640ae" opacity="0.61"/><circle cx="469.6" cy="279.5" r="0.90" fill="#7a64cc" opacity="0.57"/><circle cx="474.8" cy="266.4" r="0.75" fill="#7a64cc" opacity="0.55"/><circle cx="485.1" cy="262.2" r="0.86" fill="#6a52c4" opacity="0.85"/><circle cx="449.1" cy="285.2" r="0.52" fill="#6a52c4" opacity="0.89"/><circle cx="480.5" cy="244.2" r="0.80" fill="#6048b8" opacity="0.55"/><circle cx="486.8" cy="249.4" r="0.65" fill="#6048b8" opacity="0.78"/><circle cx="528.0" cy="292.7" r="0.74" fill="#6048b8" opacity="0.90"/><circle cx="487.8" cy="327.2" r="0.50" fill="#7a64cc" opacity="0.69"/><circle cx="436.5" cy="291.7" r="0.58" fill="#7a64cc" opacity="0.66"/><circle cx="525.8" cy="288.9" r="0.89" fill="#5640ae" opacity="0.67"/><circle cx="440.6" cy="319.6" r="0.48" fill="#7a64cc" opacity="0.60"/><circle cx="460.4" cy="282.8" r="0.97" fill="#6048b8" opacity="0.59"/><circle cx="489.3" cy="269.0" r="0.72" fill="#5640ae" opacity="0.61"/><circle cx="454.8" cy="251.7" r="0.46" fill="#6048b8" opacity="0.68"/><circle cx="461.0" cy="315.7" r="0.53" fill="#7a64cc" opacity="0.84"/><circle cx="463.6" cy="329.0" r="0.82" fill="#6a52c4" opacity="0.58"/><circle cx="466.9" cy="251.7" r="0.99" fill="#6048b8" opacity="0.50"/><circle cx="528.9" cy="304.5" r="0.73" fill="#6048b8" opacity="0.87"/><circle cx="455.6" cy="317.4" r="0.75" fill="#7a64cc" opacity="0.74"/><circle cx="501.0" cy="260.7" r="0.62" fill="#6a52c4" opacity="0.82"/><circle cx="485.5" cy="252.3" r="0.81" fill="#6048b8" opacity="0.87"/><circle cx="470.0" cy="254.9" r="0.89" fill="#6a52c4" opacity="0.58"/><circle cx="498.3" cy="319.2" r="0.64" fill="#6048b8" opacity="0.63"/><circle cx="499.4" cy="254.3" r="0.86" fill="#5640ae" opacity="0.75"/><circle cx="463.0" cy="332.9" r="0.85" fill="#7a64cc" opacity="0.69"/><circle cx="465.6" cy="258.8" r="0.81" fill="#6048b8" opacity="0.50"/><circle cx="457.3" cy="246.1" r="1.00" fill="#7a64cc" opacity="0.76"/><circle cx="442.2" cy="295.2" r="0.79" fill="#6a52c4" opacity="0.82"/><circle cx="492.3" cy="328.8" r="0.82" fill="#6048b8" opacity="0.84"/><circle cx="454.5" cy="250.5" r="0.97" fill="#7a64cc" opacity="0.73"/><circle cx="500.5" cy="256.7" r="0.50" fill="#6a52c4" opacity="0.52"/><circle cx="442.0" cy="316.0" r="0.87" fill="#6048b8" opacity="0.88"/><circle cx="483.6" cy="248.9" r="0.84" fill="#7a64cc" opacity="0.81"/><circle cx="465.1" cy="258.3" r="0.70" fill="#5640ae" opacity="0.88"/><circle cx="466.6" cy="277.6" r="0.87" fill="#6048b8" opacity="0.82"/><circle cx="436.0" cy="321.1" r="0.89" fill="#6a52c4" opacity="0.54"/><circle cx="473.9" cy="326.6" r="0.93" fill="#7a64cc" opacity="0.78"/><circle cx="518.5" cy="319.7" r="0.72" fill="#6a52c4" opacity="0.88"/><circle cx="436.9" cy="271.0" r="0.98" fill="#6a52c4" opacity="0.72"/><circle cx="466.0" cy="308.8" r="0.81" fill="#6a52c4" opacity="0.80"/><circle cx="507.6" cy="258.9" r="0.72" fill="#5640ae" opacity="0.86"/><circle cx="522.0" cy="290.9" r="0.66" fill="#7a64cc" opacity="0.85"/><circle cx="443.6" cy="283.1" r="0.63" fill="#6a52c4" opacity="0.56"/><circle cx="465.8" cy="333.7" r="0.98" fill="#5640ae" opacity="0.56"/><circle cx="458.0" cy="290.1" r="0.47" fill="#6a52c4" opacity="0.80"/><circle cx="484.0" cy="272.7" r="0.60" fill="#5640ae" opacity="0.68"/><circle cx="443.2" cy="279.5" r="0.73" fill="#7a64cc" opacity="0.76"/><circle cx="441.5" cy="323.5" r="0.85" fill="#7a64cc" opacity="0.68"/><circle cx="492.9" cy="246.6" r="0.83" fill="#7a64cc" opacity="0.57"/><circle cx="443.9" cy="265.4" r="0.67" fill="#7a64cc" opacity="0.56"/><circle cx="476.4" cy="312.0" r="0.70" fill="#5640ae" opacity="0.58"/><circle cx="464.5" cy="315.0" r="0.99" fill="#5640ae" opacity="0.84"/><circle cx="498.4" cy="251.8" r="0.84" fill="#5640ae" opacity="0.50"/><circle cx="444.9" cy="329.6" r="0.78" fill="#6a52c4" opacity="0.71"/><circle cx="525.6" cy="277.0" r="0.67" fill="#7a64cc" opacity="0.51"/><circle cx="506.2" cy="332.5" r="0.74" fill="#6a52c4" opacity="0.56"/><circle cx="511.5" cy="293.6" r="0.88" fill="#7a64cc" opacity="0.58"/><circle cx="517.4" cy="314.5" r="0.93" fill="#6a52c4" opacity="0.75"/><circle cx="502.2" cy="327.1" r="0.78" fill="#7a64cc" opacity="0.81"/><circle cx="512.1" cy="280.4" r="0.99" fill="#6a52c4" opacity="0.78"/><circle cx="459.3" cy="251.6" r="0.58" fill="#6048b8" opacity="0.67"/><circle cx="461.2" cy="284.2" r="0.46" fill="#6048b8" opacity="0.82"/><circle cx="458.4" cy="284.7" r="0.94" fill="#7a64cc" opacity="0.82"/><circle cx="432.2" cy="281.6" r="0.93" fill="#6a52c4" opacity="0.79"/><circle cx="495.1" cy="251.9" r="0.79" fill="#7a64cc" opacity="0.78"/><circle cx="461.6" cy="324.9" r="0.66" fill="#7a64cc" opacity="0.68"/><circle cx="446.8" cy="305.1" r="0.72" fill="#5640ae" opacity="0.68"/><circle cx="482.5" cy="264.7" r="0.58" fill="#6a52c4" opacity="0.74"/><circle cx="456.8" cy="330.5" r="0.85" fill="#7a64cc" opacity="0.79"/><circle cx="492.7" cy="312.4" r="0.69" fill="#6a52c4" opacity="0.72"/><circle cx="429.1" cy="309.2" r="0.61" fill="#6a52c4" opacity="0.87"/><circle cx="490.8" cy="242.4" r="0.86" fill="#6048b8" opacity="0.51"/><circle cx="483.6" cy="268.9" r="0.93" fill="#6a52c4" opacity="0.62"/><circle cx="450.2" cy="256.9" r="0.89" fill="#6048b8" opacity="0.75"/><circle cx="499.3" cy="330.0" r="0.89" fill="#5640ae" opacity="0.55"/><circle cx="474.3" cy="335.5" r="0.50" fill="#6048b8" opacity="0.61"/><circle cx="492.1" cy="305.7" r="0.49" fill="#6a52c4" opacity="0.53"/><circle cx="443.2" cy="306.5" r="0.60" fill="#6a52c4" opacity="0.74"/><circle cx="451.7" cy="276.0" r="0.61" fill="#7a64cc" opacity="0.62"/><circle cx="430.8" cy="271.2" r="0.47" fill="#7a64cc" opacity="0.59"/><circle cx="523.0" cy="273.0" r="0.86" fill="#6048b8" opacity="0.71"/><circle cx="468.0" cy="335.3" r="0.75" fill="#5640ae" opacity="0.57"/><circle cx="426.2" cy="280.6" r="0.47" fill="#6048b8" opacity="0.55"/><circle cx="487.4" cy="243.6" r="0.88" fill="#6a52c4" opacity="0.55"/><circle cx="460.8" cy="274.2" r="0.46" fill="#7a64cc" opacity="0.86"/><circle cx="514.6" cy="294.5" r="0.90" fill="#7a64cc" opacity="0.79"/><circle cx="486.2" cy="320.6" r="0.45" fill="#6048b8" opacity="0.63"/><circle cx="435.2" cy="285.1" r="0.74" fill="#5640ae" opacity="0.67"/><circle cx="512.5" cy="287.9" r="1.00" fill="#6a52c4" opacity="0.73"/><circle cx="487.5" cy="263.2" r="0.57" fill="#7a64cc" opacity="0.78"/><circle cx="434.5" cy="290.7" r="0.97" fill="#6048b8" opacity="0.83"/><circle cx="489.8" cy="243.4" r="0.72" fill="#5640ae" opacity="0.62"/><circle cx="474.3" cy="327.4" r="0.69" fill="#6a52c4" opacity="0.54"/><circle cx="466.8" cy="251.8" r="0.79" fill="#5640ae" opacity="0.81"/><circle cx="452.4" cy="292.4" r="0.50" fill="#6048b8" opacity="0.74"/><circle cx="472.1" cy="251.9" r="0.83" fill="#7a64cc" opacity="0.78"/><circle cx="515.3" cy="320.2" r="0.48" fill="#5640ae" opacity="0.59"/><circle cx="511.9" cy="317.4" r="0.68" fill="#5640ae" opacity="0.85"/><circle cx="445.6" cy="260.9" r="0.89" fill="#7a64cc" opacity="0.85"/><circle cx="516.9" cy="323.4" r="0.51" fill="#6a52c4" opacity="0.67"/><circle cx="471.5" cy="284.8" r="0.86" fill="#6048b8" opacity="0.59"/><circle cx="515.6" cy="318.0" r="0.65" fill="#6a52c4" opacity="0.82"/><circle cx="482.1" cy="257.6" r="0.55" fill="#7a64cc" opacity="0.83"/><circle cx="526.6" cy="273.4" r="0.59" fill="#6048b8" opacity="0.62"/><circle cx="463.9" cy="248.1" r="0.63" fill="#6a52c4" opacity="0.52"/><circle cx="469.7" cy="321.6" r="0.92" fill="#7a64cc" opacity="0.83"/><circle cx="475.2" cy="326.3" r="0.82" fill="#5640ae" opacity="0.86"/><circle cx="519.0" cy="316.8" r="0.83" fill="#7a64cc" opacity="0.71"/><circle cx="462.8" cy="304.4" r="0.82" fill="#5640ae" opacity="0.58"/><circle cx="488.0" cy="247.2" r="0.50" fill="#6048b8" opacity="0.56"/><circle cx="469.4" cy="284.0" r="0.47" fill="#6048b8" opacity="0.57"/><circle cx="493.4" cy="245.4" r="0.49" fill="#7a64cc" opacity="0.76"/><circle cx="445.2" cy="277.1" r="0.56" fill="#7a64cc" opacity="0.69"/><circle cx="442.9" cy="275.3" r="0.87" fill="#6048b8" opacity="0.50"/><circle cx="460.1" cy="265.9" r="0.74" fill="#6048b8" opacity="0.70"/><circle cx="437.5" cy="320.3" r="0.97" fill="#7a64cc" opacity="0.55"/><circle cx="485.0" cy="331.5" r="0.64" fill="#5640ae" opacity="0.87"/><circle cx="486.4" cy="306.1" r="0.83" fill="#7a64cc" opacity="0.89"/><circle cx="438.7" cy="305.3" r="0.70" fill="#7a64cc" opacity="0.54"/><circle cx="433.8" cy="303.1" r="0.56" fill="#6a52c4" opacity="0.76"/><circle cx="491.6" cy="248.4" r="0.68" fill="#6a52c4" opacity="0.55"/><circle cx="501.6" cy="329.2" r="0.73" fill="#5640ae" opacity="0.53"/><circle cx="442.2" cy="280.0" r="0.97" fill="#7a64cc" opacity="0.83"/><circle cx="501.3" cy="250.7" r="0.74" fill="#5640ae" opacity="0.71"/><circle cx="452.2" cy="259.0" r="0.80" fill="#7a64cc" opacity="0.66"/><circle cx="515.4" cy="322.5" r="0.87" fill="#7a64cc" opacity="0.86"/><circle cx="463.9" cy="318.3" r="0.88" fill="#6a52c4" opacity="0.67"/><circle cx="508.7" cy="316.6" r="0.83" fill="#5640ae" opacity="0.72"/><circle cx="511.9" cy="321.1" r="0.56" fill="#6a52c4" opacity="0.62"/><circle cx="498.5" cy="327.0" r="0.97" fill="#6048b8" opacity="0.69"/><circle cx="437.5" cy="321.5" r="0.69" fill="#6a52c4" opacity="0.56"/><circle cx="441.8" cy="322.6" r="0.70" fill="#6048b8" opacity="0.62"/><circle cx="456.6" cy="251.5" r="0.68" fill="#5640ae" opacity="0.84"/><circle cx="526.7" cy="293.2" r="0.84" fill="#5640ae" opacity="0.58"/><circle cx="513.3" cy="306.3" r="0.56" fill="#5640ae" opacity="0.54"/><circle cx="436.1" cy="320.9" r="0.62" fill="#5640ae" opacity="0.75"/><circle cx="427.7" cy="299.9" r="0.79" fill="#6048b8" opacity="0.59"/><circle cx="489.2" cy="267.2" r="0.84" fill="#6a52c4" opacity="0.68"/><circle cx="523.6" cy="288.5" r="0.80" fill="#6048b8" opacity="0.57"/><circle cx="458.8" cy="320.7" r="0.63" fill="#6048b8" opacity="0.83"/><circle cx="470.9" cy="281.9" r="0.51" fill="#6048b8" opacity="0.82"/><circle cx="499.7" cy="273.5" r="0.96" fill="#7a64cc" opacity="0.60"/><circle cx="493.7" cy="315.2" r="0.51" fill="#6a52c4" opacity="0.84"/><circle cx="485.9" cy="252.5" r="0.52" fill="#6048b8" opacity="0.79"/><circle cx="500.4" cy="310.4" r="0.72" fill="#5640ae" opacity="0.62"/><circle cx="450.1" cy="252.9" r="0.75" fill="#5640ae" opacity="0.63"/><circle cx="458.5" cy="267.0" r="0.77" fill="#6048b8" opacity="0.81"/><circle cx="475.8" cy="241.3" r="0.88" fill="#6a52c4" opacity="0.72"/><circle cx="505.3" cy="248.2" r="0.76" fill="#5640ae" opacity="0.67"/><circle cx="435.8" cy="298.8" r="0.63" fill="#6048b8" opacity="0.71"/><circle cx="464.3" cy="255.4" r="0.48" fill="#5640ae" opacity="0.73"/><circle cx="462.7" cy="300.8" r="0.74" fill="#6048b8" opacity="0.55"/><circle cx="446.6" cy="283.4" r="0.53" fill="#7a64cc" opacity="0.76"/><circle cx="524.4" cy="314.0" r="0.95" fill="#6a52c4" opacity="0.66"/><circle cx="519.2" cy="266.5" r="0.87" fill="#6a52c4" opacity="0.60"/><circle cx="448.5" cy="323.8" r="0.56" fill="#5640ae" opacity="0.79"/><circle cx="499.6" cy="253.5" r="0.48" fill="#7a64cc" opacity="0.86"/><circle cx="470.1" cy="241.5" r="0.99" fill="#6048b8" opacity="0.88"/><circle cx="505.5" cy="298.6" r="0.57" fill="#6048b8" opacity="0.56"/><circle cx="520.9" cy="309.7" r="0.78" fill="#6048b8" opacity="0.68"/><circle cx="443.8" cy="280.7" r="0.80" fill="#6a52c4" opacity="0.64"/><circle cx="460.8" cy="330.0" r="0.57" fill="#7a64cc" opacity="0.75"/><circle cx="446.5" cy="255.2" r="0.51" fill="#5640ae" opacity="0.74"/><circle cx="465.1" cy="243.0" r="0.95" fill="#5640ae" opacity="0.77"/><circle cx="445.2" cy="283.8" r="0.79" fill="#7a64cc" opacity="0.82"/><circle cx="435.2" cy="274.8" r="0.70" fill="#6048b8" opacity="0.83"/><circle cx="489.8" cy="297.5" r="0.56" fill="#6048b8" opacity="0.63"/><circle cx="432.4" cy="280.2" r="0.89" fill="#5640ae" opacity="0.83"/><circle cx="526.8" cy="309.6" r="0.89" fill="#6a52c4" opacity="0.53"/><circle cx="514.7" cy="301.7" r="0.75" fill="#6a52c4" opacity="0.79"/><circle cx="426.1" cy="298.4" r="0.73" fill="#6a52c4" opacity="0.70"/><circle cx="490.9" cy="299.9" r="0.62" fill="#6048b8" opacity="0.78"/><circle cx="446.1" cy="329.5" r="0.49" fill="#6a52c4" opacity="0.74"/><circle cx="491.8" cy="337.1" r="0.89" fill="#5640ae" opacity="0.59"/><circle cx="504.3" cy="249.6" r="0.60" fill="#6048b8" opacity="0.54"/><circle cx="440.1" cy="278.3" r="0.98" fill="#5640ae" opacity="0.75"/><circle cx="450.9" cy="248.2" r="0.85" fill="#6048b8" opacity="0.82"/><circle cx="493.8" cy="312.5" r="0.62" fill="#7a64cc" opacity="0.52"/><circle cx="514.6" cy="280.9" r="0.62" fill="#6048b8" opacity="0.82"/><circle cx="464.6" cy="270.2" r="0.56" fill="#7a64cc" opacity="0.62"/><circle cx="425.0" cy="280.9" r="0.50" fill="#5640ae" opacity="0.54"/><circle cx="476.5" cy="339.6" r="0.55" fill="#6a52c4" opacity="0.81"/><circle cx="489.7" cy="269.9" r="0.74" fill="#5640ae" opacity="0.87"/><circle cx="435.1" cy="299.3" r="0.94" fill="#5640ae" opacity="0.74"/><circle cx="463.8" cy="303.7" r="0.61" fill="#6048b8" opacity="0.78"/><circle cx="485.1" cy="283.7" r="0.88" fill="#6a52c4" opacity="0.56"/><circle cx="429.6" cy="311.6" r="0.72" fill="#6048b8" opacity="0.65"/><circle cx="426.4" cy="275.3" r="0.93" fill="#6a52c4" opacity="0.69"/><circle cx="434.6" cy="264.9" r="0.93" fill="#6048b8" opacity="0.80"/><circle cx="450.3" cy="263.0" r="0.54" fill="#5640ae" opacity="0.80"/><circle cx="475.0" cy="316.2" r="0.52" fill="#7a64cc" opacity="0.56"/><circle cx="516.5" cy="274.2" r="0.85" fill="#6048b8" opacity="0.54"/><circle cx="521.8" cy="297.2" r="0.65" fill="#5640ae" opacity="0.80"/><circle cx="474.9" cy="315.9" r="0.73" fill="#7a64cc" opacity="0.72"/><circle cx="441.6" cy="308.8" r="0.92" fill="#7a64cc" opacity="0.75"/><circle cx="481.4" cy="289.6" r="0.89" fill="#5640ae" opacity="0.54"/><circle cx="449.4" cy="287.0" r="0.91" fill="#6a52c4" opacity="0.59"/><circle cx="460.2" cy="273.7" r="0.89" fill="#6048b8" opacity="0.69"/><circle cx="492.2" cy="316.5" r="0.80" fill="#7a64cc" opacity="0.71"/><circle cx="481.5" cy="296.9" r="0.80" fill="#5640ae" opacity="0.81"/><circle cx="489.8" cy="260.1" r="0.80" fill="#6a52c4" opacity="0.85"/><circle cx="484.1" cy="329.4" r="0.99" fill="#6a52c4" opacity="0.63"/><circle cx="514.9" cy="295.9" r="0.49" fill="#6a52c4" opacity="0.65"/><circle cx="507.7" cy="255.0" r="0.70" fill="#7a64cc" opacity="0.82"/><circle cx="513.1" cy="261.3" r="0.88" fill="#7a64cc" opacity="0.83"/><circle cx="511.6" cy="295.5" r="0.86" fill="#6a52c4" opacity="0.62"/><circle cx="463.6" cy="260.1" r="0.88" fill="#6a52c4" opacity="0.53"/><circle cx="465.8" cy="258.2" r="0.80" fill="#5640ae" opacity="0.54"/><circle cx="497.9" cy="334.4" r="0.77" fill="#6a52c4" opacity="0.85"/><circle cx="517.2" cy="314.8" r="0.86" fill="#6a52c4" opacity="0.76"/><circle cx="466.7" cy="298.2" r="0.50" fill="#6a52c4" opacity="0.71"/><circle cx="477.6" cy="330.1" r="0.66" fill="#5640ae" opacity="0.55"/><circle cx="511.8" cy="309.1" r="0.82" fill="#7a64cc" opacity="0.52"/><circle cx="427.8" cy="277.7" r="0.77" fill="#7a64cc" opacity="0.67"/><circle cx="436.6" cy="315.7" r="0.48" fill="#7a64cc" opacity="0.70"/><circle cx="493.2" cy="289.4" r="0.49" fill="#5640ae" opacity="0.68"/><circle cx="424.2" cy="286.8" r="0.91" fill="#6048b8" opacity="0.66"/><circle cx="523.3" cy="298.8" r="0.78" fill="#5640ae" opacity="0.75"/><circle cx="429.7" cy="283.5" r="0.73" fill="#6a52c4" opacity="0.51"/><circle cx="450.5" cy="280.3" r="0.98" fill="#7a64cc" opacity="0.68"/><circle cx="450.2" cy="295.3" r="0.46" fill="#7a64cc" opacity="0.52"/><circle cx="469.3" cy="302.7" r="0.94" fill="#7a64cc" opacity="0.77"/><circle cx="505.2" cy="282.9" r="0.63" fill="#6a52c4" opacity="0.51"/><circle cx="460.7" cy="326.2" r="0.71" fill="#5640ae" opacity="0.89"/><circle cx="485.2" cy="254.0" r="0.75" fill="#6048b8" opacity="0.58"/><circle cx="494.0" cy="309.6" r="0.96" fill="#7a64cc" opacity="0.56"/><circle cx="510.6" cy="322.1" r="0.74" fill="#6048b8" opacity="0.71"/><circle cx="510.5" cy="324.5" r="0.52" fill="#5640ae" opacity="0.76"/><circle cx="463.7" cy="257.6" r="0.74" fill="#6a52c4" opacity="0.51"/><circle cx="465.1" cy="278.9" r="0.62" fill="#5640ae" opacity="0.68"/><circle cx="435.3" cy="265.4" r="0.63" fill="#6a52c4" opacity="0.88"/><circle cx="512.5" cy="259.2" r="0.61" fill="#7a64cc" opacity="0.77"/><circle cx="436.2" cy="267.8" r="0.46" fill="#5640ae" opacity="0.51"/><circle cx="530.6" cy="284.7" r="0.91" fill="#5640ae" opacity="0.83"/><circle cx="439.5" cy="259.2" r="0.89" fill="#6a52c4" opacity="0.74"/><circle cx="526.1" cy="272.0" r="0.46" fill="#5640ae" opacity="0.63"/><circle cx="435.4" cy="281.4" r="0.74" fill="#6a52c4" opacity="0.70"/><circle cx="440.0" cy="278.8" r="0.82" fill="#5640ae" opacity="0.69"/><circle cx="431.6" cy="269.6" r="0.93" fill="#6048b8" opacity="0.56"/><circle cx="514.8" cy="291.4" r="0.83" fill="#6a52c4" opacity="0.54"/><circle cx="467.0" cy="247.9" r="0.46" fill="#6a52c4" opacity="0.74"/><circle cx="448.0" cy="314.2" r="0.72" fill="#7a64cc" opacity="0.63"/><circle cx="492.9" cy="324.5" r="0.47" fill="#7a64cc" opacity="0.82"/><circle cx="427.0" cy="279.6" r="0.97" fill="#7a64cc" opacity="0.61"/><circle cx="459.0" cy="323.3" r="0.55" fill="#5640ae" opacity="0.61"/><circle cx="437.3" cy="320.9" r="0.86" fill="#7a64cc" opacity="0.52"/><circle cx="506.3" cy="250.1" r="0.93" fill="#5640ae" opacity="0.73"/><circle cx="450.0" cy="330.9" r="0.78" fill="#7a64cc" opacity="0.73"/><circle cx="463.4" cy="272.0" r="0.54" fill="#7a64cc" opacity="0.66"/><circle cx="440.7" cy="263.4" r="0.96" fill="#5640ae" opacity="0.71"/><circle cx="473.6" cy="264.1" r="0.84" fill="#6a52c4" opacity="0.90"/><circle cx="435.5" cy="303.3" r="0.57" fill="#6048b8" opacity="0.77"/><circle cx="465.5" cy="334.6" r="0.66" fill="#6048b8" opacity="0.59"/><circle cx="427.7" cy="293.7" r="0.97" fill="#6a52c4" opacity="0.90"/><circle cx="433.2" cy="289.7" r="0.78" fill="#5640ae" opacity="0.86"/><circle cx="500.0" cy="280.2" r="0.51" fill="#6a52c4" opacity="0.67"/><circle cx="521.5" cy="293.6" r="0.59" fill="#7a64cc" opacity="0.89"/><circle cx="503.6" cy="302.2" r="0.57" fill="#5640ae" opacity="0.89"/><circle cx="487.6" cy="241.8" r="0.46" fill="#6a52c4" opacity="0.72"/><circle cx="513.3" cy="266.6" r="0.64" fill="#5640ae" opacity="0.54"/><circle cx="495.2" cy="274.8" r="0.86" fill="#7a64cc" opacity="0.65"/><circle cx="495.2" cy="284.1" r="0.87" fill="#6048b8" opacity="0.78"/><circle cx="453.1" cy="264.5" r="0.84" fill="#7a64cc" opacity="0.52"/><circle cx="447.8" cy="260.4" r="0.57" fill="#7a64cc" opacity="0.89"/><circle cx="455.6" cy="330.2" r="0.79" fill="#6048b8" opacity="0.80"/><circle cx="474.5" cy="333.1" r="0.55" fill="#6048b8" opacity="0.73"/><circle cx="475.3" cy="244.3" r="0.60" fill="#6048b8" opacity="0.63"/><circle cx="477.7" cy="326.7" r="0.96" fill="#6a52c4" opacity="0.89"/><circle cx="472.5" cy="317.2" r="0.69" fill="#6048b8" opacity="0.52"/><circle cx="529.1" cy="278.7" r="0.80" fill="#6a52c4" opacity="0.89"/><circle cx="473.5" cy="261.4" r="0.94" fill="#6a52c4" opacity="0.87"/><circle cx="491.0" cy="333.1" r="0.77" fill="#6a52c4" opacity="0.89"/><circle cx="464.5" cy="332.8" r="0.96" fill="#7a64cc" opacity="0.52"/><circle cx="463.8" cy="256.9" r="0.50" fill="#6048b8" opacity="0.83"/><circle cx="524.6" cy="290.6" r="0.79" fill="#7a64cc" opacity="0.75"/><circle cx="468.0" cy="286.6" r="0.77" fill="#6048b8" opacity="0.59"/><circle cx="507.5" cy="289.8" r="0.77" fill="#6a52c4" opacity="0.65"/><circle cx="443.6" cy="319.7" r="0.93" fill="#7a64cc" opacity="0.76"/><circle cx="463.8" cy="258.6" r="0.61" fill="#6a52c4" opacity="0.81"/><circle cx="519.6" cy="303.2" r="0.54" fill="#5640ae" opacity="0.63"/><circle cx="428.9" cy="273.1" r="0.95" fill="#6048b8" opacity="0.86"/><circle cx="508.0" cy="249.6" r="0.87" fill="#5640ae" opacity="0.77"/><circle cx="520.8" cy="314.0" r="0.64" fill="#7a64cc" opacity="0.80"/><circle cx="467.3" cy="254.4" r="0.64" fill="#7a64cc" opacity="0.70"/><circle cx="469.7" cy="271.5" r="0.80" fill="#6a52c4" opacity="0.87"/><circle cx="465.2" cy="241.9" r="0.96" fill="#6a52c4" opacity="0.52"/><circle cx="435.2" cy="292.4" r="0.68" fill="#5640ae" opacity="0.69"/><circle cx="455.1" cy="299.4" r="0.87" fill="#6048b8" opacity="0.83"/><circle cx="521.4" cy="280.4" r="1.00" fill="#6a52c4" opacity="0.71"/><circle cx="514.2" cy="326.8" r="0.78" fill="#7a64cc" opacity="0.62"/><circle cx="491.0" cy="259.5" r="0.55" fill="#5640ae" opacity="0.69"/><circle cx="481.9" cy="258.6" r="0.98" fill="#6a52c4" opacity="0.87"/><circle cx="474.4" cy="305.2" r="0.96" fill="#6a52c4" opacity="0.71"/><circle cx="468.6" cy="260.1" r="0.72" fill="#6048b8" opacity="0.60"/><circle cx="466.3" cy="277.1" r="0.58" fill="#6a52c4" opacity="0.78"/><circle cx="502.8" cy="272.7" r="1.00" fill="#7a64cc" opacity="0.54"/><circle cx="505.7" cy="322.5" r="0.45" fill="#6048b8" opacity="0.55"/><circle cx="444.6" cy="311.1" r="0.86" fill="#7a64cc" opacity="0.63"/><circle cx="517.1" cy="278.2" r="0.49" fill="#6048b8" opacity="0.67"/><circle cx="430.3" cy="290.4" r="0.67" fill="#6a52c4" opacity="0.53"/><circle cx="505.2" cy="318.9" r="0.75" fill="#7a64cc" opacity="0.78"/><circle cx="437.0" cy="304.0" r="0.75" fill="#6a52c4" opacity="0.88"/><circle cx="439.8" cy="324.4" r="0.69" fill="#7a64cc" opacity="0.84"/><circle cx="424.3" cy="296.7" r="0.61" fill="#6a52c4" opacity="0.52"/><circle cx="470.4" cy="325.8" r="0.98" fill="#5640ae" opacity="0.73"/><circle cx="503.9" cy="248.3" r="0.49" fill="#6a52c4" opacity="0.57"/><circle cx="435.1" cy="274.6" r="0.70" fill="#6a52c4" opacity="0.58"/><circle cx="519.3" cy="278.5" r="0.64" fill="#5640ae" opacity="0.72"/><circle cx="479.2" cy="285.5" r="0.58" fill="#7a64cc" opacity="0.86"/><circle cx="468.1" cy="311.3" r="0.57" fill="#7a64cc" opacity="0.86"/><circle cx="438.3" cy="306.1" r="0.89" fill="#6048b8" opacity="0.76"/><circle cx="436.4" cy="278.6" r="0.70" fill="#7a64cc" opacity="0.59"/><circle cx="505.3" cy="260.5" r="0.65" fill="#7a64cc" opacity="0.65"/><circle cx="485.6" cy="339.1" r="0.91" fill="#5640ae" opacity="0.70"/><circle cx="452.8" cy="272.5" r="0.66" fill="#6048b8" opacity="0.69"/><circle cx="443.1" cy="283.7" r="0.54" fill="#6a52c4" opacity="0.76"/><circle cx="471.9" cy="334.7" r="0.92" fill="#6048b8" opacity="0.80"/><circle cx="460.5" cy="337.9" r="0.73" fill="#6a52c4" opacity="0.53"/><circle cx="432.3" cy="291.2" r="0.79" fill="#6048b8" opacity="0.53"/><circle cx="481.4" cy="255.3" r="0.47" fill="#6a52c4" opacity="0.78"/><circle cx="440.0" cy="257.3" r="0.72" fill="#5640ae" opacity="0.61"/><circle cx="454.4" cy="331.1" r="0.48" fill="#5640ae" opacity="0.71"/><circle cx="525.1" cy="286.9" r="0.78" fill="#6048b8" opacity="0.62"/><circle cx="482.4" cy="247.0" r="0.92" fill="#6048b8" opacity="0.56"/><circle cx="486.9" cy="257.6" r="0.87" fill="#7a64cc" opacity="0.60"/><circle cx="467.4" cy="251.2" r="0.80" fill="#5640ae" opacity="0.63"/><circle cx="439.7" cy="301.7" r="0.88" fill="#7a64cc" opacity="0.52"/><circle cx="453.9" cy="257.7" r="0.77" fill="#7a64cc" opacity="0.79"/><circle cx="509.5" cy="329.2" r="0.66" fill="#5640ae" opacity="0.55"/><circle cx="448.1" cy="297.9" r="0.92" fill="#6048b8" opacity="0.52"/><circle cx="487.7" cy="336.2" r="0.75" fill="#6a52c4" opacity="0.77"/><circle cx="440.1" cy="310.0" r="0.77" fill="#6a52c4" opacity="0.86"/><circle cx="441.5" cy="283.5" r="0.73" fill="#7a64cc" opacity="0.88"/><circle cx="500.5" cy="323.8" r="0.90" fill="#5640ae" opacity="0.55"/><circle cx="428.5" cy="306.7" r="0.59" fill="#5640ae" opacity="0.87"/><circle cx="514.6" cy="308.0" r="0.45" fill="#7a64cc" opacity="0.63"/><circle cx="457.7" cy="269.9" r="0.54" fill="#6048b8" opacity="0.50"/><circle cx="479.9" cy="241.7" r="0.69" fill="#5640ae" opacity="0.54"/><circle cx="438.7" cy="261.7" r="0.94" fill="#5640ae" opacity="0.57"/><circle cx="522.3" cy="305.3" r="0.55" fill="#7a64cc" opacity="0.65"/><circle cx="461.5" cy="247.3" r="0.45" fill="#6a52c4" opacity="0.51"/><circle cx="509.0" cy="309.8" r="0.83" fill="#6a52c4" opacity="0.80"/><circle cx="459.6" cy="252.4" r="0.96" fill="#7a64cc" opacity="0.61"/><circle cx="470.6" cy="275.4" r="0.93" fill="#6a52c4" opacity="0.61"/><circle cx="477.5" cy="323.7" r="0.58" fill="#5640ae" opacity="0.58"/><circle cx="517.3" cy="276.1" r="0.65" fill="#6048b8" opacity="0.74"/><circle cx="482.6" cy="292.7" r="0.83" fill="#5640ae" opacity="0.83"/><circle cx="456.5" cy="317.6" r="0.78" fill="#7a64cc" opacity="0.77"/><circle cx="448.8" cy="312.2" r="0.86" fill="#5640ae" opacity="0.71"/><circle cx="497.5" cy="323.7" r="0.97" fill="#7a64cc" opacity="0.63"/><circle cx="505.8" cy="250.8" r="0.46" fill="#6a52c4" opacity="0.85"/><circle cx="497.3" cy="336.0" r="0.84" fill="#6a52c4" opacity="0.85"/><circle cx="464.9" cy="328.3" r="0.89" fill="#5640ae" opacity="0.55"/><circle cx="514.3" cy="289.6" r="0.63" fill="#6048b8" opacity="0.55"/><circle cx="458.8" cy="330.7" r="0.73" fill="#7a64cc" opacity="0.51"/><circle cx="447.5" cy="275.3" r="0.80" fill="#6a52c4" opacity="0.87"/><circle cx="446.2" cy="303.5" r="0.76" fill="#6a52c4" opacity="0.54"/><circle cx="442.9" cy="303.3" r="0.53" fill="#6048b8" opacity="0.68"/><circle cx="489.2" cy="263.4" r="0.90" fill="#6048b8" opacity="0.63"/><circle cx="464.7" cy="287.3" r="0.77" fill="#6048b8" opacity="0.84"/><circle cx="436.0" cy="291.7" r="0.49" fill="#6048b8" opacity="0.62"/><circle cx="494.2" cy="244.2" r="0.86" fill="#7a64cc" opacity="0.65"/><circle cx="503.6" cy="253.9" r="0.97" fill="#6a52c4" opacity="0.80"/><circle cx="514.5" cy="266.9" r="0.78" fill="#5640ae" opacity="0.64"/><circle cx="439.9" cy="316.2" r="0.99" fill="#6a52c4" opacity="0.50"/><circle cx="435.8" cy="312.2" r="0.46" fill="#6048b8" opacity="0.78"/><circle cx="521.0" cy="267.0" r="0.59" fill="#6a52c4" opacity="0.55"/><circle cx="492.0" cy="326.6" r="0.55" fill="#5640ae" opacity="0.72"/><circle cx="459.3" cy="329.1" r="0.78" fill="#7a64cc" opacity="0.57"/><circle cx="459.2" cy="267.6" r="0.49" fill="#6a52c4" opacity="0.76"/><circle cx="447.3" cy="253.5" r="0.76" fill="#5640ae" opacity="0.77"/><circle cx="430.3" cy="266.7" r="0.79" fill="#7a64cc" opacity="0.83"/><circle cx="447.2" cy="320.9" r="0.78" fill="#6a52c4" opacity="0.82"/><circle cx="516.0" cy="261.1" r="0.66" fill="#5640ae" opacity="0.59"/><circle cx="443.4" cy="328.4" r="0.97" fill="#6a52c4" opacity="0.85"/><circle cx="435.7" cy="281.2" r="0.55" fill="#6a52c4" opacity="0.69"/><circle cx="447.8" cy="314.4" r="0.52" fill="#6a52c4" opacity="0.76"/><circle cx="452.6" cy="308.7" r="0.98" fill="#5640ae" opacity="0.57"/><circle cx="439.7" cy="289.5" r="0.70" fill="#6a52c4" opacity="0.78"/><circle cx="519.6" cy="261.2" r="0.96" fill="#5640ae" opacity="0.76"/><circle cx="527.4" cy="278.9" r="0.57" fill="#5640ae" opacity="0.83"/><circle cx="445.4" cy="299.0" r="0.47" fill="#6a52c4" opacity="0.65"/><circle cx="493.2" cy="289.3" r="0.96" fill="#6048b8" opacity="0.64"/><circle cx="455.4" cy="247.6" r="0.67" fill="#6048b8" opacity="0.69"/><circle cx="461.3" cy="291.8" r="0.68" fill="#6a52c4" opacity="0.75"/><circle cx="470.2" cy="263.2" r="0.59" fill="#5640ae" opacity="0.83"/><circle cx="450.1" cy="313.7" r="0.49" fill="#6a52c4" opacity="0.53"/><circle cx="490.7" cy="245.1" r="0.58" fill="#5640ae" opacity="0.86"/><circle cx="506.2" cy="248.3" r="0.95" fill="#6a52c4" opacity="0.64"/><circle cx="499.2" cy="272.6" r="0.65" fill="#7a64cc" opacity="0.90"/><circle cx="474.6" cy="274.0" r="0.99" fill="#7a64cc" opacity="0.53"/><circle cx="473.2" cy="252.0" r="0.78" fill="#6048b8" opacity="0.79"/><circle cx="456.6" cy="276.1" r="0.75" fill="#5640ae" opacity="0.66"/><circle cx="471.9" cy="259.8" r="0.99" fill="#7a64cc" opacity="0.83"/><circle cx="504.5" cy="254.0" r="0.79" fill="#5640ae" opacity="0.87"/><circle cx="482.3" cy="299.1" r="0.91" fill="#7a64cc" opacity="0.74"/><circle cx="428.9" cy="311.8" r="0.87" fill="#6a52c4" opacity="0.67"/><circle cx="511.5" cy="265.6" r="0.58" fill="#5640ae" opacity="0.60"/><circle cx="438.7" cy="292.3" r="0.54" fill="#7a64cc" opacity="0.77"/><circle cx="435.5" cy="308.7" r="0.55" fill="#7a64cc" opacity="0.89"/><circle cx="493.0" cy="264.4" r="0.66" fill="#7a64cc" opacity="0.75"/><circle cx="454.0" cy="277.8" r="0.79" fill="#6048b8" opacity="0.52"/><circle cx="459.1" cy="268.2" r="0.56" fill="#5640ae" opacity="0.55"/><circle cx="436.8" cy="267.8" r="0.57" fill="#6048b8" opacity="0.87"/><circle cx="522.3" cy="289.9" r="0.87" fill="#5640ae" opacity="0.69"/><circle cx="445.9" cy="289.4" r="0.71" fill="#6a52c4" opacity="0.52"/><circle cx="436.3" cy="277.4" r="0.94" fill="#6a52c4" opacity="0.52"/><circle cx="427.1" cy="274.3" r="0.79" fill="#6a52c4" opacity="0.55"/><circle cx="449.0" cy="285.7" r="0.49" fill="#7a64cc" opacity="0.67"/><circle cx="520.3" cy="314.1" r="0.98" fill="#6048b8" opacity="0.75"/><circle cx="459.5" cy="246.4" r="0.61" fill="#5640ae" opacity="0.74"/><circle cx="451.1" cy="290.1" r="0.99" fill="#7a64cc" opacity="0.86"/><circle cx="486.8" cy="332.8" r="0.87" fill="#5640ae" opacity="0.57"/><circle cx="450.8" cy="251.5" r="0.83" fill="#6048b8" opacity="0.56"/><circle cx="476.0" cy="271.0" r="0.70" fill="#6a52c4" opacity="0.79"/><circle cx="519.0" cy="276.7" r="0.60" fill="#7a64cc" opacity="0.75"/><circle cx="500.3" cy="330.5" r="0.75" fill="#6a52c4" opacity="0.54"/><circle cx="496.5" cy="323.6" r="0.75" fill="#7a64cc" opacity="0.73"/><circle cx="438.3" cy="318.0" r="0.82" fill="#5640ae" opacity="0.70"/><circle cx="479.6" cy="338.7" r="1.00" fill="#6048b8" opacity="0.53"/><circle cx="451.3" cy="256.7" r="0.84" fill="#5640ae" opacity="0.66"/><circle cx="445.6" cy="316.6" r="0.79" fill="#6a52c4" opacity="0.51"/><circle cx="464.1" cy="334.9" r="0.49" fill="#5640ae" opacity="0.64"/><circle cx="516.9" cy="297.5" r="0.51" fill="#6a52c4" opacity="0.68"/><circle cx="489.1" cy="246.6" r="0.52" fill="#5640ae" opacity="0.81"/><circle cx="501.0" cy="295.7" r="0.50" fill="#5640ae" opacity="0.57"/><circle cx="512.9" cy="288.7" r="0.91" fill="#6048b8" opacity="0.69"/><circle cx="463.3" cy="325.7" r="0.58" fill="#6048b8" opacity="0.56"/><circle cx="475.6" cy="314.6" r="0.85" fill="#5640ae" opacity="0.85"/><circle cx="453.3" cy="302.6" r="0.49" fill="#6a52c4" opacity="0.77"/><circle cx="508.5" cy="307.4" r="0.47" fill="#5640ae" opacity="0.71"/><circle cx="437.6" cy="297.4" r="0.62" fill="#6048b8" opacity="0.73"/><circle cx="448.3" cy="331.9" r="0.75" fill="#6048b8" opacity="0.61"/><circle cx="432.7" cy="271.7" r="0.82" fill="#7a64cc" opacity="0.57"/><circle cx="431.9" cy="282.0" r="0.52" fill="#6a52c4" opacity="0.66"/><circle cx="507.2" cy="250.1" r="0.59" fill="#6048b8" opacity="0.89"/><circle cx="439.8" cy="325.4" r="0.65" fill="#7a64cc" opacity="0.72"/><circle cx="485.3" cy="256.7" r="0.69" fill="#5640ae" opacity="0.79"/><circle cx="478.0" cy="245.0" r="0.99" fill="#6048b8" opacity="0.53"/><circle cx="492.4" cy="264.0" r="0.78" fill="#6a52c4" opacity="0.62"/><circle cx="513.1" cy="291.6" r="0.96" fill="#6a52c4" opacity="0.63"/><circle cx="448.2" cy="250.3" r="0.58" fill="#5640ae" opacity="0.81"/><circle cx="490.8" cy="334.9" r="0.46" fill="#6048b8" opacity="0.51"/><circle cx="459.2" cy="273.7" r="0.81" fill="#6a52c4" opacity="0.55"/><circle cx="461.1" cy="284.0" r="0.54" fill="#7a64cc" opacity="0.62"/><circle cx="465.1" cy="332.9" r="0.54" fill="#7a64cc" opacity="0.77"/><circle cx="430.2" cy="292.6" r="0.76" fill="#7a64cc" opacity="0.77"/><circle cx="459.7" cy="336.2" r="0.91" fill="#5640ae" opacity="0.76"/><circle cx="436.6" cy="298.1" r="0.85" fill="#7a64cc" opacity="0.58"/><circle cx="446.2" cy="295.2" r="0.96" fill="#7a64cc" opacity="0.76"/><circle cx="444.6" cy="257.7" r="0.61" fill="#7a64cc" opacity="0.55"/><circle cx="440.8" cy="317.3" r="0.96" fill="#6048b8" opacity="0.77"/><circle cx="529.8" cy="279.9" r="0.49" fill="#6a52c4" opacity="0.79"/><circle cx="480.8" cy="325.0" r="0.93" fill="#6a52c4" opacity="0.51"/><circle cx="477.8" cy="245.9" r="0.47" fill="#6a52c4" opacity="0.74"/><circle cx="507.7" cy="273.0" r="0.89" fill="#7a64cc" opacity="0.72"/><circle cx="503.0" cy="282.5" r="0.47" fill="#6a52c4" opacity="0.78"/><circle cx="494.7" cy="331.0" r="0.57" fill="#6048b8" opacity="0.56"/><circle cx="467.8" cy="329.1" r="0.66" fill="#5640ae" opacity="0.84"/><circle cx="437.1" cy="291.7" r="0.55" fill="#6a52c4" opacity="0.64"/><circle cx="500.4" cy="249.3" r="0.78" fill="#6a52c4" opacity="0.61"/><circle cx="528.7" cy="279.5" r="0.47" fill="#6a52c4" opacity="0.67"/><circle cx="474.1" cy="335.7" r="0.81" fill="#6a52c4" opacity="0.87"/><circle cx="426.6" cy="277.2" r="0.82" fill="#6048b8" opacity="0.58"/><circle cx="482.2" cy="250.4" r="0.70" fill="#6a52c4" opacity="0.65"/><circle cx="504.8" cy="298.4" r="0.48" fill="#5640ae" opacity="0.67"/><circle cx="501.4" cy="248.2" r="0.67" fill="#6a52c4" opacity="0.63"/><circle cx="487.2" cy="336.1" r="0.88" fill="#7a64cc" opacity="0.50"/><circle cx="446.4" cy="325.6" r="0.91" fill="#6048b8" opacity="0.81"/><circle cx="471.6" cy="262.9" r="0.81" fill="#5640ae" opacity="0.55"/><circle cx="501.6" cy="327.3" r="0.86" fill="#7a64cc" opacity="0.68"/><circle cx="522.1" cy="291.9" r="0.95" fill="#5640ae" opacity="0.61"/><circle cx="522.4" cy="270.9" r="0.83" fill="#6a52c4" opacity="0.84"/><circle cx="501.4" cy="319.3" r="0.78" fill="#6048b8" opacity="0.50"/><circle cx="496.5" cy="268.8" r="0.59" fill="#5640ae" opacity="0.65"/><circle cx="424.1" cy="283.7" r="0.73" fill="#6048b8" opacity="0.60"/><circle cx="437.4" cy="301.0" r="0.52" fill="#5640ae" opacity="0.76"/><circle cx="440.2" cy="297.7" r="0.62" fill="#6048b8" opacity="0.82"/><circle cx="452.8" cy="261.6" r="0.69" fill="#6a52c4" opacity="0.69"/><circle cx="520.2" cy="306.9" r="0.69" fill="#7a64cc" opacity="0.72"/><circle cx="512.2" cy="300.4" r="0.69" fill="#6048b8" opacity="0.55"/><circle cx="474.7" cy="242.7" r="0.94" fill="#7a64cc" opacity="0.84"/><circle cx="440.4" cy="296.5" r="0.85" fill="#6048b8" opacity="0.72"/><circle cx="424.4" cy="299.5" r="0.58" fill="#6a52c4" opacity="0.87"/><circle cx="482.7" cy="322.9" r="0.82" fill="#5640ae" opacity="0.68"/><circle cx="427.2" cy="299.1" r="0.95" fill="#7a64cc" opacity="0.57"/><circle cx="428.6" cy="307.3" r="0.73" fill="#6a52c4" opacity="0.50"/><circle cx="461.2" cy="323.6" r="0.93" fill="#6a52c4" opacity="0.86"/><circle cx="491.4" cy="247.6" r="0.86" fill="#6048b8" opacity="0.85"/><circle cx="448.8" cy="310.0" r="0.67" fill="#6a52c4" opacity="0.85"/><circle cx="503.2" cy="248.3" r="0.82" fill="#5640ae" opacity="0.61"/><circle cx="446.1" cy="257.3" r="0.83" fill="#6a52c4" opacity="0.66"/><circle cx="465.1" cy="320.4" r="0.46" fill="#5640ae" opacity="0.86"/><circle cx="502.8" cy="255.4" r="0.60" fill="#6048b8" opacity="0.76"/><circle cx="486.8" cy="255.1" r="0.46" fill="#7a64cc" opacity="0.68"/><circle cx="448.2" cy="314.0" r="0.86" fill="#6048b8" opacity="0.59"/><circle cx="524.1" cy="272.6" r="0.89" fill="#6048b8" opacity="0.78"/><circle cx="456.4" cy="252.2" r="0.94" fill="#5640ae" opacity="0.85"/><circle cx="460.9" cy="337.8" r="0.65" fill="#6048b8" opacity="0.83"/><circle cx="480.9" cy="295.8" r="0.74" fill="#6a52c4" opacity="0.55"/><circle cx="514.0" cy="288.7" r="0.66" fill="#6048b8" opacity="0.62"/><circle cx="482.9" cy="258.1" r="0.49" fill="#6048b8" opacity="0.74"/><circle cx="447.9" cy="261.3" r="0.59" fill="#7a64cc" opacity="0.53"/><circle cx="497.1" cy="251.5" r="0.84" fill="#7a64cc" opacity="0.60"/><circle cx="426.1" cy="289.2" r="0.49" fill="#6048b8" opacity="0.61"/><circle cx="465.0" cy="328.3" r="0.49" fill="#6a52c4" opacity="0.85"/><circle cx="453.4" cy="281.7" r="0.98" fill="#6a52c4" opacity="0.87"/><circle cx="438.2" cy="297.2" r="0.61" fill="#6a52c4" opacity="0.58"/><circle cx="498.5" cy="287.8" r="0.64" fill="#6a52c4" opacity="0.85"/><circle cx="509.1" cy="314.3" r="0.52" fill="#6048b8" opacity="0.50"/><circle cx="436.6" cy="306.7" r="0.46" fill="#6048b8" opacity="0.85"/><circle cx="451.0" cy="333.3" r="0.99" fill="#5640ae" opacity="0.73"/><circle cx="482.5" cy="271.3" r="0.71" fill="#6048b8" opacity="0.74"/><circle cx="446.7" cy="297.2" r="0.76" fill="#7a64cc" opacity="0.63"/><circle cx="516.5" cy="264.3" r="0.53" fill="#5640ae" opacity="0.65"/><circle cx="432.4" cy="295.6" r="0.96" fill="#5640ae" opacity="0.57"/><circle cx="518.0" cy="309.8" r="0.95" fill="#7a64cc" opacity="0.53"/><circle cx="457.6" cy="251.0" r="0.77" fill="#7a64cc" opacity="0.68"/><circle cx="513.3" cy="314.6" r="0.80" fill="#6a52c4" opacity="0.78"/><circle cx="516.1" cy="308.9" r="0.65" fill="#6a52c4" opacity="0.51"/><circle cx="466.1" cy="329.3" r="0.54" fill="#6048b8" opacity="0.58"/><circle cx="437.6" cy="286.5" r="0.75" fill="#6048b8" opacity="0.61"/><circle cx="487.7" cy="246.2" r="0.77" fill="#6048b8" opacity="0.85"/><circle cx="470.3" cy="337.4" r="0.98" fill="#7a64cc" opacity="0.69"/><circle cx="527.0" cy="281.4" r="0.53" fill="#5640ae" opacity="0.83"/><circle cx="460.2" cy="291.9" r="0.62" fill="#7a64cc" opacity="0.77"/><circle cx="505.2" cy="326.1" r="0.47" fill="#5640ae" opacity="0.54"/><circle cx="425.2" cy="299.9" r="0.90" fill="#5640ae" opacity="0.73"/><circle cx="475.4" cy="288.3" r="0.66" fill="#6a52c4" opacity="0.53"/><circle cx="491.0" cy="322.5" r="0.81" fill="#6048b8" opacity="0.76"/><circle cx="516.4" cy="292.5" r="0.71" fill="#6048b8" opacity="0.54"/><circle cx="469.1" cy="250.6" r="0.52" fill="#5640ae" opacity="0.81"/><circle cx="447.3" cy="278.7" r="0.87" fill="#5640ae" opacity="0.86"/><circle cx="467.6" cy="318.3" r="0.55" fill="#6048b8" opacity="0.56"/><circle cx="453.2" cy="299.7" r="0.93" fill="#6048b8" opacity="0.64"/><circle cx="471.3" cy="248.1" r="0.96" fill="#6048b8" opacity="0.62"/><circle cx="485.9" cy="270.2" r="0.82" fill="#7a64cc" opacity="0.68"/><circle cx="484.0" cy="295.7" r="0.82" fill="#6048b8" opacity="0.78"/><circle cx="504.9" cy="315.4" r="0.71" fill="#5640ae" opacity="0.55"/><circle cx="523.5" cy="268.1" r="0.72" fill="#7a64cc" opacity="0.61"/><circle cx="516.6" cy="304.1" r="0.57" fill="#6a52c4" opacity="0.84"/><circle cx="519.5" cy="300.1" r="0.55" fill="#7a64cc" opacity="0.54"/><circle cx="424.5" cy="279.6" r="0.79" fill="#6048b8" opacity="0.88"/><circle cx="516.5" cy="323.8" r="0.96" fill="#5640ae" opacity="0.64"/><circle cx="449.1" cy="263.4" r="0.54" fill="#5640ae" opacity="0.74"/><circle cx="439.2" cy="318.9" r="0.56" fill="#5640ae" opacity="0.89"/><circle cx="433.5" cy="269.7" r="0.96" fill="#6a52c4" opacity="0.71"/><circle cx="439.8" cy="312.1" r="0.67" fill="#7a64cc" opacity="0.72"/><circle cx="437.8" cy="269.5" r="0.57" fill="#6048b8" opacity="0.77"/><circle cx="488.4" cy="334.6" r="0.70" fill="#5640ae" opacity="0.62"/><circle cx="512.5" cy="259.5" r="0.94" fill="#6a52c4" opacity="0.51"/><circle cx="490.1" cy="323.1" r="0.46" fill="#5640ae" opacity="0.57"/><circle cx="444.6" cy="254.1" r="0.66" fill="#6a52c4" opacity="0.71"/><circle cx="482.9" cy="309.4" r="0.63" fill="#6048b8" opacity="0.77"/><circle cx="478.8" cy="292.4" r="0.98" fill="#5640ae" opacity="0.89"/><circle cx="447.3" cy="302.8" r="0.68" fill="#5640ae" opacity="0.56"/><circle cx="518.9" cy="277.9" r="0.54" fill="#5640ae" opacity="0.83"/><circle cx="468.4" cy="316.8" r="0.72" fill="#6048b8" opacity="0.83"/><circle cx="430.1" cy="299.7" r="0.53" fill="#6a52c4" opacity="0.78"/><circle cx="510.6" cy="275.1" r="0.54" fill="#5640ae" opacity="0.61"/><circle cx="513.8" cy="309.9" r="0.75" fill="#5640ae" opacity="0.82"/><circle cx="522.8" cy="307.2" r="0.53" fill="#5640ae" opacity="0.53"/><circle cx="450.8" cy="333.9" r="0.93" fill="#7a64cc" opacity="0.89"/><circle cx="435.9" cy="285.5" r="0.52" fill="#6a52c4" opacity="0.68"/><circle cx="444.5" cy="276.4" r="0.79" fill="#6048b8" opacity="0.75"/><circle cx="482.4" cy="333.4" r="0.64" fill="#6048b8" opacity="0.81"/><circle cx="434.7" cy="298.1" r="0.80" fill="#6048b8" opacity="0.60"/><circle cx="485.9" cy="336.5" r="0.70" fill="#5640ae" opacity="0.69"/><circle cx="438.2" cy="259.6" r="0.84" fill="#6a52c4" opacity="0.69"/><circle cx="456.6" cy="284.6" r="0.91" fill="#6a52c4" opacity="0.60"/><circle cx="499.2" cy="261.6" r="0.84" fill="#5640ae" opacity="0.88"/><circle cx="495.3" cy="251.7" r="0.98" fill="#5640ae" opacity="0.80"/><circle cx="442.6" cy="288.1" r="0.53" fill="#5640ae" opacity="0.53"/><circle cx="430.1" cy="275.7" r="0.45" fill="#7a64cc" opacity="0.57"/><circle cx="487.4" cy="265.8" r="0.89" fill="#6048b8" opacity="0.73"/><circle cx="515.2" cy="262.8" r="0.55" fill="#7a64cc" opacity="0.59"/><circle cx="496.5" cy="252.4" r="0.47" fill="#6a52c4" opacity="0.76"/><circle cx="462.7" cy="265.3" r="0.55" fill="#5640ae" opacity="0.87"/><circle cx="496.9" cy="277.0" r="0.75" fill="#5640ae" opacity="0.79"/><circle cx="473.0" cy="260.8" r="0.69" fill="#6048b8" opacity="0.60"/><circle cx="507.2" cy="252.2" r="0.59" fill="#5640ae" opacity="0.89"/><circle cx="430.3" cy="299.9" r="0.64" fill="#5640ae" opacity="0.56"/><circle cx="458.7" cy="286.7" r="0.81" fill="#5640ae" opacity="0.82"/><circle cx="511.7" cy="267.7" r="0.99" fill="#5640ae" opacity="0.86"/><circle cx="461.0" cy="249.1" r="0.81" fill="#5640ae" opacity="0.63"/><circle cx="450.1" cy="262.3" r="0.65" fill="#7a64cc" opacity="0.59"/><circle cx="528.3" cy="280.2" r="0.80" fill="#6a52c4" opacity="0.79"/><circle cx="489.0" cy="326.3" r="0.96" fill="#6a52c4" opacity="0.80"/><circle cx="482.0" cy="324.4" r="0.50" fill="#6a52c4" opacity="0.82"/><circle cx="526.3" cy="309.5" r="0.88" fill="#7a64cc" opacity="0.67"/><circle cx="436.6" cy="266.9" r="0.83" fill="#6a52c4" opacity="0.77"/><circle cx="436.1" cy="296.9" r="0.94" fill="#5640ae" opacity="0.67"/><circle cx="443.9" cy="283.7" r="0.77" fill="#7a64cc" opacity="0.70"/><circle cx="530.9" cy="286.2" r="0.92" fill="#6048b8" opacity="0.54"/><circle cx="452.9" cy="323.1" r="0.49" fill="#7a64cc" opacity="0.77"/><circle cx="436.9" cy="307.0" r="0.53" fill="#7a64cc" opacity="0.75"/><circle cx="523.1" cy="312.2" r="0.66" fill="#6a52c4" opacity="0.67"/><circle cx="526.3" cy="283.3" r="0.71" fill="#7a64cc" opacity="0.68"/><circle cx="465.2" cy="331.9" r="0.67" fill="#7a64cc" opacity="0.74"/><circle cx="463.1" cy="316.2" r="0.65" fill="#7a64cc" opacity="0.76"/><circle cx="434.1" cy="271.7" r="0.53" fill="#5640ae" opacity="0.60"/><circle cx="485.6" cy="245.5" r="0.67" fill="#6048b8" opacity="0.53"/><circle cx="527.2" cy="295.1" r="0.67" fill="#5640ae" opacity="0.88"/><circle cx="502.3" cy="311.5" r="0.60" fill="#6a52c4" opacity="0.59"/><circle cx="492.4" cy="261.5" r="0.48" fill="#7a64cc" opacity="0.86"/><circle cx="470.9" cy="336.7" r="0.97" fill="#7a64cc" opacity="0.68"/><circle cx="503.4" cy="271.0" r="0.88" fill="#6a52c4" opacity="0.67"/><circle cx="461.2" cy="286.2" r="0.53" fill="#6048b8" opacity="0.83"/><circle cx="519.5" cy="281.6" r="0.51" fill="#6a52c4" opacity="0.62"/><circle cx="441.8" cy="267.1" r="0.96" fill="#6048b8" opacity="0.87"/><circle cx="477.7" cy="333.6" r="0.69" fill="#5640ae" opacity="0.64"/><circle cx="438.7" cy="270.9" r="0.65" fill="#6a52c4" opacity="0.76"/><circle cx="468.2" cy="268.8" r="0.82" fill="#6a52c4" opacity="0.62"/><circle cx="464.4" cy="335.6" r="0.47" fill="#6048b8" opacity="0.82"/><circle cx="434.7" cy="269.2" r="0.57" fill="#6a52c4" opacity="0.57"/><circle cx="503.6" cy="300.4" r="0.86" fill="#7a64cc" opacity="0.51"/><circle cx="524.3" cy="304.6" r="0.70" fill="#6a52c4" opacity="0.69"/><circle cx="424.1" cy="284.6" r="0.73" fill="#5640ae" opacity="0.68"/><circle cx="488.2" cy="305.6" r="0.52" fill="#6048b8" opacity="0.75"/><circle cx="497.8" cy="331.9" r="0.74" fill="#7a64cc" opacity="0.79"/><circle cx="511.6" cy="321.7" r="0.96" fill="#7a64cc" opacity="0.52"/><circle cx="464.2" cy="336.4" r="0.69" fill="#6a52c4" opacity="0.86"/><circle cx="461.4" cy="277.3" r="0.71" fill="#6048b8" opacity="0.58"/><circle cx="437.5" cy="305.7" r="0.58" fill="#5640ae" opacity="0.79"/><circle cx="473.3" cy="293.5" r="0.77" fill="#5640ae" opacity="0.55"/><circle cx="494.1" cy="295.7" r="0.83" fill="#6048b8" opacity="0.65"/><circle cx="472.1" cy="252.0" r="0.69" fill="#6a52c4" opacity="0.59"/><circle cx="424.3" cy="293.1" r="0.99" fill="#6a52c4" opacity="0.60"/><circle cx="452.5" cy="334.7" r="0.61" fill="#6048b8" opacity="0.72"/><circle cx="485.2" cy="253.4" r="0.46" fill="#7a64cc" opacity="0.60"/><circle cx="482.5" cy="270.0" r="0.89" fill="#6048b8" opacity="0.76"/><circle cx="493.3" cy="266.0" r="0.73" fill="#7a64cc" opacity="0.59"/><circle cx="519.1" cy="297.7" r="0.92" fill="#6048b8" opacity="0.56"/><circle cx="428.7" cy="272.6" r="0.92" fill="#6a52c4" opacity="0.68"/><circle cx="503.6" cy="313.5" r="0.54" fill="#6a52c4" opacity="0.59"/><circle cx="508.2" cy="256.4" r="0.46" fill="#5640ae" opacity="0.74"/><circle cx="475.1" cy="246.4" r="0.63" fill="#6a52c4" opacity="0.56"/><circle cx="520.6" cy="270.7" r="0.59" fill="#6a52c4" opacity="0.74"/><circle cx="502.7" cy="257.7" r="0.72" fill="#7a64cc" opacity="0.90"/><circle cx="498.0" cy="287.4" r="0.46" fill="#6a52c4" opacity="0.52"/><circle cx="496.2" cy="246.4" r="0.84" fill="#6048b8" opacity="0.83"/><circle cx="466.0" cy="331.5" r="0.58" fill="#6a52c4" opacity="0.84"/><circle cx="452.2" cy="323.3" r="0.69" fill="#6048b8" opacity="0.60"/><circle cx="428.4" cy="308.6" r="0.76" fill="#5640ae" opacity="0.70"/><circle cx="511.0" cy="321.0" r="0.67" fill="#7a64cc" opacity="0.86"/><circle cx="481.5" cy="308.5" r="0.96" fill="#6048b8" opacity="0.57"/><circle cx="428.2" cy="310.6" r="0.69" fill="#6048b8" opacity="0.58"/><circle cx="444.9" cy="307.7" r="0.89" fill="#6a52c4" opacity="0.76"/><circle cx="520.1" cy="280.9" r="0.60" fill="#6048b8" opacity="0.79"/><circle cx="495.2" cy="249.0" r="0.83" fill="#6048b8" opacity="0.79"/><circle cx="491.6" cy="242.9" r="0.48" fill="#5640ae" opacity="0.69"/><circle cx="450.8" cy="297.4" r="0.56" fill="#6048b8" opacity="0.73"/><circle cx="446.9" cy="272.4" r="0.81" fill="#6a52c4" opacity="0.84"/><circle cx="484.1" cy="338.8" r="0.90" fill="#5640ae" opacity="0.62"/><circle cx="480.8" cy="257.0" r="0.57" fill="#5640ae" opacity="0.84"/><circle cx="486.9" cy="290.9" r="0.53" fill="#5640ae" opacity="0.86"/><circle cx="444.7" cy="318.9" r="0.71" fill="#7a64cc" opacity="0.55"/><circle cx="440.3" cy="320.5" r="0.70" fill="#7a64cc" opacity="0.60"/><circle cx="468.9" cy="246.7" r="0.89" fill="#5640ae" opacity="0.62"/><circle cx="506.6" cy="257.4" r="0.86" fill="#6a52c4" opacity="0.53"/><circle cx="462.3" cy="324.1" r="0.82" fill="#5640ae" opacity="0.50"/><circle cx="444.1" cy="261.5" r="0.67" fill="#6a52c4" opacity="0.74"/><circle cx="495.0" cy="323.4" r="0.56" fill="#5640ae" opacity="0.51"/><circle cx="459.6" cy="255.4" r="0.63" fill="#7a64cc" opacity="0.58"/><circle cx="443.2" cy="317.6" r="0.53" fill="#7a64cc" opacity="0.84"/><circle cx="519.8" cy="299.6" r="0.81" fill="#7a64cc" opacity="0.71"/><circle cx="483.9" cy="248.6" r="0.94" fill="#6048b8" opacity="0.58"/><circle cx="489.6" cy="283.9" r="0.63" fill="#6a52c4" opacity="0.66"/><circle cx="473.8" cy="259.6" r="0.77" fill="#6a52c4" opacity="0.86"/><circle cx="505.7" cy="283.9" r="0.48" fill="#6048b8" opacity="0.81"/><circle cx="489.9" cy="318.9" r="0.96" fill="#5640ae" opacity="0.51"/><circle cx="489.7" cy="312.5" r="0.91" fill="#7a64cc" opacity="0.57"/><circle cx="456.8" cy="305.1" r="0.61" fill="#6a52c4" opacity="0.85"/><circle cx="436.8" cy="273.6" r="0.55" fill="#7a64cc" opacity="0.51"/><circle cx="466.8" cy="278.1" r="0.90" fill="#7a64cc" opacity="0.72"/><circle cx="450.2" cy="310.7" r="0.97" fill="#6048b8" opacity="0.87"/><circle cx="469.1" cy="329.2" r="0.85" fill="#6a52c4" opacity="0.70"/><circle cx="509.4" cy="271.2" r="0.89" fill="#7a64cc" opacity="0.81"/><circle cx="425.4" cy="277.6" r="0.73" fill="#6a52c4" opacity="0.89"/><circle cx="498.6" cy="264.5" r="0.84" fill="#5640ae" opacity="0.76"/><circle cx="452.0" cy="284.3" r="0.56" fill="#7a64cc" opacity="0.81"/><circle cx="449.2" cy="265.2" r="0.81" fill="#6048b8" opacity="0.68"/><circle cx="452.6" cy="249.3" r="0.75" fill="#6a52c4" opacity="0.73"/><circle cx="502.4" cy="251.3" r="0.95" fill="#6a52c4" opacity="0.62"/><circle cx="520.4" cy="296.9" r="0.88" fill="#5640ae" opacity="0.58"/><circle cx="499.1" cy="330.0" r="0.46" fill="#5640ae" opacity="0.62"/><circle cx="441.0" cy="303.3" r="0.69" fill="#7a64cc" opacity="0.58"/><circle cx="445.4" cy="310.2" r="0.83" fill="#5640ae" opacity="0.60"/><circle cx="434.0" cy="285.7" r="0.55" fill="#7a64cc" opacity="0.51"/><circle cx="490.6" cy="331.7" r="0.50" fill="#6048b8" opacity="0.63"/><circle cx="440.3" cy="262.3" r="0.53" fill="#7a64cc" opacity="0.56"/><circle cx="510.6" cy="258.7" r="0.94" fill="#5640ae" opacity="0.64"/><circle cx="434.5" cy="319.7" r="0.64" fill="#6a52c4" opacity="0.89"/><circle cx="464.5" cy="331.9" r="0.52" fill="#6a52c4" opacity="0.86"/><circle cx="438.4" cy="302.1" r="0.81" fill="#5640ae" opacity="0.61"/><circle cx="465.2" cy="329.5" r="1.00" fill="#7a64cc" opacity="0.69"/><circle cx="442.7" cy="301.5" r="0.59" fill="#6a52c4" opacity="0.63"/><circle cx="456.2" cy="329.9" r="0.45" fill="#7a64cc" opacity="0.58"/><circle cx="531.1" cy="285.7" r="0.69" fill="#5640ae" opacity="0.86"/><circle cx="453.5" cy="330.7" r="0.58" fill="#7a64cc" opacity="0.51"/><circle cx="488.6" cy="241.9" r="0.86" fill="#6048b8" opacity="0.88"/><circle cx="447.4" cy="269.5" r="0.83" fill="#5640ae" opacity="0.77"/><circle cx="463.5" cy="325.1" r="0.64" fill="#7a64cc" opacity="0.69"/><circle cx="490.1" cy="299.5" r="0.72" fill="#5640ae" opacity="0.62"/><circle cx="472.5" cy="337.7" r="0.79" fill="#6048b8" opacity="0.70"/><circle cx="442.4" cy="266.4" r="0.98" fill="#6048b8" opacity="0.57"/><circle cx="446.2" cy="315.7" r="0.98" fill="#6048b8" opacity="0.56"/><circle cx="474.3" cy="320.3" r="0.70" fill="#6a52c4" opacity="0.69"/><circle cx="497.7" cy="287.5" r="0.97" fill="#6048b8" opacity="0.52"/><circle cx="524.7" cy="287.3" r="0.52" fill="#6048b8" opacity="0.84"/><circle cx="458.0" cy="332.9" r="0.98" fill="#6a52c4" opacity="0.68"/><circle cx="500.1" cy="326.5" r="0.64" fill="#7a64cc" opacity="0.56"/><circle cx="460.9" cy="321.0" r="0.59" fill="#6a52c4" opacity="0.78"/><circle cx="526.0" cy="306.7" r="0.96" fill="#7a64cc" opacity="0.82"/><circle cx="494.7" cy="257.1" r="0.73" fill="#6048b8" opacity="0.84"/><circle cx="454.1" cy="326.3" r="0.61" fill="#6048b8" opacity="0.67"/><circle cx="443.9" cy="315.5" r="0.70" fill="#6048b8" opacity="0.84"/><circle cx="430.5" cy="281.1" r="0.96" fill="#6048b8" opacity="0.52"/><circle cx="489.0" cy="246.8" r="0.80" fill="#5640ae" opacity="0.63"/><circle cx="494.3" cy="330.6" r="0.99" fill="#7a64cc" opacity="0.60"/><circle cx="435.2" cy="279.6" r="0.66" fill="#6048b8" opacity="0.69"/><circle cx="467.7" cy="242.2" r="0.60" fill="#6048b8" opacity="0.63"/><circle cx="487.2" cy="246.3" r="0.50" fill="#5640ae" opacity="0.79"/><circle cx="488.5" cy="252.9" r="0.83" fill="#5640ae" opacity="0.55"/><circle cx="453.1" cy="248.9" r="0.92" fill="#5640ae" opacity="0.67"/><circle cx="476.0" cy="280.3" r="0.68" fill="#7a64cc" opacity="0.82"/><circle cx="449.2" cy="258.4" r="0.81" fill="#7a64cc" opacity="0.83"/><circle cx="490.9" cy="337.6" r="0.68" fill="#6048b8" opacity="0.53"/><circle cx="462.0" cy="317.4" r="0.80" fill="#6a52c4" opacity="0.61"/><circle cx="459.3" cy="321.9" r="0.50" fill="#6a52c4" opacity="0.72"/><circle cx="427.0" cy="296.5" r="0.57" fill="#7a64cc" opacity="0.51"/><circle cx="480.9" cy="263.6" r="0.84" fill="#5640ae" opacity="0.62"/><circle cx="456.6" cy="257.9" r="0.58" fill="#7a64cc" opacity="0.66"/><circle cx="456.9" cy="306.4" r="0.89" fill="#5640ae" opacity="0.81"/><circle cx="445.6" cy="273.6" r="0.77" fill="#7a64cc" opacity="0.54"/><circle cx="506.4" cy="329.8" r="0.55" fill="#7a64cc" opacity="0.83"/><circle cx="487.5" cy="296.8" r="0.51" fill="#5640ae" opacity="0.50"/><circle cx="425.6" cy="300.2" r="0.53" fill="#7a64cc" opacity="0.57"/><circle cx="457.0" cy="309.8" r="0.80" fill="#5640ae" opacity="0.75"/><circle cx="495.8" cy="251.2" r="0.89" fill="#7a64cc" opacity="0.83"/><circle cx="439.5" cy="282.1" r="0.78" fill="#5640ae" opacity="0.55"/><circle cx="510.4" cy="265.4" r="0.57" fill="#6a52c4" opacity="0.86"/><circle cx="480.7" cy="308.6" r="0.67" fill="#6048b8" opacity="0.52"/><circle cx="474.9" cy="250.0" r="0.50" fill="#6a52c4" opacity="0.68"/><circle cx="517.2" cy="293.5" r="0.83" fill="#7a64cc" opacity="0.71"/><circle cx="473.6" cy="300.2" r="1.00" fill="#5640ae" opacity="0.89"/><circle cx="530.6" cy="293.3" r="0.63" fill="#6048b8" opacity="0.80"/><circle cx="449.0" cy="265.1" r="0.49" fill="#5640ae" opacity="0.52"/><circle cx="487.8" cy="273.3" r="0.67" fill="#6048b8" opacity="0.81"/><circle cx="486.7" cy="325.9" r="0.93" fill="#6048b8" opacity="0.61"/><circle cx="508.7" cy="268.3" r="0.87" fill="#6048b8" opacity="0.74"/><circle cx="472.3" cy="338.9" r="0.66" fill="#6a52c4" opacity="0.52"/><circle cx="469.9" cy="244.4" r="0.87" fill="#6048b8" opacity="0.63"/><circle cx="506.6" cy="250.0" r="0.93" fill="#7a64cc" opacity="0.89"/><circle cx="477.8" cy="309.9" r="0.67" fill="#7a64cc" opacity="0.74"/><circle cx="502.5" cy="274.4" r="0.57" fill="#6048b8" opacity="0.74"/><circle cx="426.6" cy="290.3" r="0.55" fill="#6a52c4" opacity="0.63"/><circle cx="453.6" cy="266.4" r="0.79" fill="#6048b8" opacity="0.52"/><circle cx="446.9" cy="271.8" r="0.72" fill="#5640ae" opacity="0.53"/><circle cx="521.6" cy="301.5" r="0.92" fill="#5640ae" opacity="0.58"/><circle cx="505.4" cy="253.2" r="0.53" fill="#6048b8" opacity="0.89"/><circle cx="519.0" cy="322.0" r="0.80" fill="#6a52c4" opacity="0.84"/><circle cx="462.4" cy="313.7" r="0.95" fill="#6a52c4" opacity="0.58"/><circle cx="490.1" cy="247.0" r="0.87" fill="#6048b8" opacity="0.54"/><circle cx="441.7" cy="284.0" r="0.92" fill="#6048b8" opacity="0.78"/><circle cx="508.7" cy="257.5" r="0.85" fill="#6048b8" opacity="0.72"/><circle cx="519.5" cy="311.7" r="0.85" fill="#7a64cc" opacity="0.51"/><circle cx="467.4" cy="273.6" r="0.66" fill="#5640ae" opacity="0.84"/><circle cx="523.2" cy="305.2" r="0.85" fill="#5640ae" opacity="0.57"/><circle cx="470.6" cy="304.8" r="0.76" fill="#6a52c4" opacity="0.52"/><circle cx="526.1" cy="286.9" r="0.50" fill="#5640ae" opacity="0.55"/><circle cx="428.2" cy="281.8" r="0.48" fill="#5640ae" opacity="0.87"/><circle cx="496.7" cy="322.1" r="0.56" fill="#6048b8" opacity="0.58"/><circle cx="441.4" cy="259.7" r="0.46" fill="#6048b8" opacity="0.55"/><circle cx="428.9" cy="270.2" r="0.73" fill="#7a64cc" opacity="0.88"/><circle cx="435.3" cy="265.3" r="0.87" fill="#6a52c4" opacity="0.59"/><circle cx="494.6" cy="265.0" r="0.88" fill="#7a64cc" opacity="0.59"/><circle cx="500.1" cy="309.0" r="0.89" fill="#7a64cc" opacity="0.73"/><circle cx="518.6" cy="305.5" r="0.60" fill="#5640ae" opacity="0.59"/><circle cx="509.5" cy="278.0" r="0.95" fill="#5640ae" opacity="0.65"/><circle cx="446.7" cy="284.6" r="0.82" fill="#6048b8" opacity="0.88"/><circle cx="461.0" cy="327.4" r="0.58" fill="#6a52c4" opacity="0.79"/><circle cx="517.3" cy="315.2" r="0.83" fill="#7a64cc" opacity="0.51"/><circle cx="451.8" cy="247.3" r="0.65" fill="#5640ae" opacity="0.86"/><circle cx="503.6" cy="257.5" r="0.62" fill="#6048b8" opacity="0.65"/><circle cx="453.1" cy="261.0" r="0.68" fill="#6a52c4" opacity="0.89"/><circle cx="503.3" cy="312.9" r="0.67" fill="#6a52c4" opacity="0.65"/><circle cx="514.7" cy="315.2" r="0.89" fill="#6048b8" opacity="0.84"/><circle cx="449.6" cy="319.0" r="0.68" fill="#6048b8" opacity="0.89"/><circle cx="470.6" cy="249.2" r="0.53" fill="#6048b8" opacity="0.83"/><circle cx="450.8" cy="286.2" r="0.50" fill="#6a52c4" opacity="0.59"/><circle cx="484.6" cy="330.4" r="0.80" fill="#6048b8" opacity="0.85"/><circle cx="465.3" cy="274.4" r="0.61" fill="#6048b8" opacity="0.72"/><circle cx="425.1" cy="281.8" r="0.64" fill="#6048b8" opacity="0.83"/><circle cx="489.8" cy="333.6" r="0.74" fill="#7a64cc" opacity="0.56"/><circle cx="484.3" cy="255.7" r="0.79" fill="#6048b8" opacity="0.69"/><circle cx="463.7" cy="281.8" r="0.64" fill="#5640ae" opacity="0.82"/><circle cx="443.9" cy="277.0" r="0.85" fill="#5640ae" opacity="0.61"/><circle cx="503.2" cy="249.2" r="0.98" fill="#6a52c4" opacity="0.76"/><circle cx="465.4" cy="245.4" r="0.78" fill="#6048b8" opacity="0.78"/><circle cx="508.5" cy="250.2" r="0.55" fill="#7a64cc" opacity="0.59"/><circle cx="447.6" cy="258.0" r="0.98" fill="#5640ae" opacity="0.74"/><circle cx="476.6" cy="240.9" r="0.90" fill="#7a64cc" opacity="0.82"/><circle cx="458.8" cy="254.0" r="0.54" fill="#5640ae" opacity="0.66"/><circle cx="504.9" cy="278.7" r="0.72" fill="#7a64cc" opacity="0.65"/><circle cx="527.9" cy="285.3" r="0.97" fill="#6a52c4" opacity="0.78"/><circle cx="427.8" cy="290.5" r="0.45" fill="#7a64cc" opacity="0.68"/><circle cx="466.5" cy="262.9" r="0.49" fill="#5640ae" opacity="0.69"/><circle cx="509.1" cy="295.4" r="0.79" fill="#6a52c4" opacity="0.63"/><circle cx="460.9" cy="248.2" r="0.49" fill="#6048b8" opacity="0.89"/><circle cx="502.9" cy="248.0" r="0.80" fill="#7a64cc" opacity="0.56"/><circle cx="466.0" cy="333.8" r="0.59" fill="#7a64cc" opacity="0.85"/><circle cx="432.5" cy="308.5" r="0.61" fill="#6a52c4" opacity="0.51"/><circle cx="472.8" cy="258.9" r="0.88" fill="#6a52c4" opacity="0.77"/><circle cx="453.6" cy="258.3" r="0.56" fill="#7a64cc" opacity="0.72"/><circle cx="461.3" cy="337.0" r="0.70" fill="#7a64cc" opacity="0.73"/><circle cx="448.9" cy="264.8" r="0.65" fill="#6a52c4" opacity="0.54"/><circle cx="513.4" cy="301.3" r="0.93" fill="#6a52c4" opacity="0.76"/><circle cx="446.4" cy="319.6" r="0.60" fill="#6048b8" opacity="0.52"/><circle cx="509.1" cy="262.4" r="0.74" fill="#6a52c4" opacity="0.55"/><circle cx="521.1" cy="308.5" r="0.74" fill="#6048b8" opacity="0.65"/><circle cx="511.7" cy="317.3" r="0.74" fill="#6a52c4" opacity="0.84"/><circle cx="481.5" cy="330.1" r="0.54" fill="#5640ae" opacity="0.55"/><circle cx="445.9" cy="264.6" r="0.65" fill="#5640ae" opacity="0.66"/><circle cx="438.9" cy="260.2" r="0.72" fill="#6048b8" opacity="0.83"/><circle cx="463.0" cy="262.1" r="0.60" fill="#6048b8" opacity="0.85"/><circle cx="438.3" cy="302.8" r="0.52" fill="#6048b8" opacity="0.62"/><circle cx="487.1" cy="251.9" r="0.95" fill="#5640ae" opacity="0.84"/><circle cx="457.9" cy="323.8" r="0.64" fill="#5640ae" opacity="0.86"/><circle cx="438.0" cy="305.9" r="0.95" fill="#6a52c4" opacity="0.77"/><circle cx="475.9" cy="310.2" r="0.51" fill="#7a64cc" opacity="0.57"/><circle cx="504.2" cy="292.6" r="0.63" fill="#5640ae" opacity="0.69"/><circle cx="522.1" cy="296.4" r="0.89" fill="#7a64cc" opacity="0.73"/><circle cx="510.6" cy="252.7" r="1.00" fill="#6048b8" opacity="0.80"/><circle cx="476.8" cy="328.3" r="0.66" fill="#7a64cc" opacity="0.60"/><circle cx="451.9" cy="264.7" r="0.54" fill="#7a64cc" opacity="0.70"/><circle cx="439.7" cy="326.1" r="0.96" fill="#6a52c4" opacity="0.70"/><circle cx="443.1" cy="326.1" r="0.62" fill="#6048b8" opacity="0.63"/><circle cx="438.1" cy="319.4" r="0.47" fill="#5640ae" opacity="0.81"/><circle cx="458.5" cy="334.8" r="0.76" fill="#5640ae" opacity="0.81"/><circle cx="489.4" cy="307.2" r="0.75" fill="#6a52c4" opacity="0.79"/><circle cx="527.5" cy="279.2" r="0.84" fill="#7a64cc" opacity="0.89"/><circle cx="491.2" cy="267.8" r="0.56" fill="#7a64cc" opacity="0.83"/><circle cx="463.6" cy="337.8" r="0.47" fill="#7a64cc" opacity="0.71"/><circle cx="457.5" cy="259.8" r="0.73" fill="#6048b8" opacity="0.81"/><circle cx="517.6" cy="258.6" r="0.73" fill="#5640ae" opacity="0.83"/><circle cx="444.9" cy="312.8" r="0.69" fill="#6a52c4" opacity="0.76"/><circle cx="454.5" cy="283.8" r="0.80" fill="#7a64cc" opacity="0.53"/><circle cx="526.2" cy="288.0" r="0.95" fill="#7a64cc" opacity="0.88"/><circle cx="512.4" cy="260.8" r="0.98" fill="#6a52c4" opacity="0.77"/><circle cx="506.3" cy="314.6" r="0.88" fill="#7a64cc" opacity="0.82"/><circle cx="469.2" cy="244.0" r="0.74" fill="#6048b8" opacity="0.86"/><circle cx="441.5" cy="257.9" r="0.51" fill="#6048b8" opacity="0.90"/><circle cx="449.6" cy="328.4" r="0.46" fill="#5640ae" opacity="0.81"/><circle cx="454.1" cy="306.3" r="0.64" fill="#6a52c4" opacity="0.55"/><circle cx="493.6" cy="243.1" r="0.98" fill="#6048b8" opacity="0.85"/><circle cx="435.5" cy="266.9" r="0.97" fill="#7a64cc" opacity="0.79"/><circle cx="475.1" cy="243.9" r="1.00" fill="#6048b8" opacity="0.78"/><circle cx="520.3" cy="270.2" r="0.49" fill="#6048b8" opacity="0.89"/><circle cx="469.6" cy="312.4" r="0.81" fill="#6048b8" opacity="0.59"/><circle cx="509.0" cy="293.3" r="0.54" fill="#5640ae" opacity="0.52"/><circle cx="518.4" cy="272.0" r="0.66" fill="#7a64cc" opacity="0.51"/><circle cx="492.8" cy="324.7" r="0.75" fill="#7a64cc" opacity="0.76"/><circle cx="460.7" cy="271.0" r="0.60" fill="#6048b8" opacity="0.52"/><circle cx="479.2" cy="331.8" r="0.79" fill="#6a52c4" opacity="0.79"/><circle cx="518.9" cy="266.3" r="0.71" fill="#5640ae" opacity="0.86"/><circle cx="491.0" cy="270.9" r="0.59" fill="#6a52c4" opacity="0.58"/><circle cx="505.2" cy="326.9" r="0.72" fill="#5640ae" opacity="0.80"/><circle cx="444.9" cy="276.8" r="0.49" fill="#6048b8" opacity="0.89"/><circle cx="520.5" cy="312.1" r="0.91" fill="#5640ae" opacity="0.77"/><circle cx="495.5" cy="257.2" r="0.62" fill="#6048b8" opacity="0.80"/><circle cx="429.5" cy="291.7" r="0.66" fill="#7a64cc" opacity="0.55"/><circle cx="480.7" cy="267.1" r="0.67" fill="#6a52c4" opacity="0.57"/><circle cx="432.3" cy="309.5" r="0.83" fill="#6048b8" opacity="0.71"/><circle cx="515.0" cy="263.0" r="0.84" fill="#7a64cc" opacity="0.64"/><circle cx="515.9" cy="255.9" r="0.89" fill="#5640ae" opacity="0.69"/><circle cx="517.4" cy="323.8" r="0.50" fill="#6048b8" opacity="0.53"/><circle cx="483.6" cy="254.2" r="0.83" fill="#7a64cc" opacity="0.77"/><circle cx="446.5" cy="251.2" r="0.99" fill="#7a64cc" opacity="0.76"/><circle cx="516.7" cy="258.3" r="0.90" fill="#6048b8" opacity="0.53"/><circle cx="425.6" cy="301.2" r="0.95" fill="#5640ae" opacity="0.77"/><circle cx="471.7" cy="244.1" r="0.72" fill="#6a52c4" opacity="0.66"/><circle cx="430.0" cy="286.9" r="0.70" fill="#7a64cc" opacity="0.83"/><circle cx="475.2" cy="247.1" r="0.90" fill="#5640ae" opacity="0.78"/><circle cx="471.3" cy="324.4" r="0.89" fill="#6048b8" opacity="0.86"/><circle cx="475.8" cy="281.6" r="0.85" fill="#6048b8" opacity="0.81"/><circle cx="465.4" cy="244.4" r="0.74" fill="#6a52c4" opacity="0.82"/><circle cx="489.3" cy="244.9" r="0.72" fill="#5640ae" opacity="0.78"/><circle cx="438.9" cy="273.7" r="0.78" fill="#5640ae" opacity="0.63"/><circle cx="526.7" cy="289.4" r="0.60" fill="#6a52c4" opacity="0.59"/><circle cx="472.5" cy="322.3" r="0.54" fill="#5640ae" opacity="0.81"/><circle cx="446.8" cy="259.3" r="0.98" fill="#7a64cc" opacity="0.73"/><circle cx="503.0" cy="259.0" r="0.64" fill="#5640ae" opacity="0.71"/><circle cx="431.7" cy="289.3" r="0.87" fill="#5640ae" opacity="0.56"/><circle cx="475.9" cy="300.7" r="0.79" fill="#5640ae" opacity="0.59"/><circle cx="479.2" cy="283.2" r="0.95" fill="#5640ae" opacity="0.73"/><circle cx="453.5" cy="247.8" r="0.97" fill="#6048b8" opacity="0.67"/><circle cx="494.9" cy="320.6" r="0.81" fill="#6a52c4" opacity="0.86"/><circle cx="456.5" cy="272.8" r="0.59" fill="#7a64cc" opacity="0.53"/><circle cx="456.2" cy="263.8" r="0.64" fill="#7a64cc" opacity="0.80"/><circle cx="517.4" cy="315.7" r="0.72" fill="#6048b8" opacity="0.61"/><circle cx="426.6" cy="274.0" r="0.81" fill="#5640ae" opacity="0.79"/><circle cx="483.8" cy="270.3" r="0.51" fill="#5640ae" opacity="0.51"/><circle cx="479.3" cy="256.3" r="0.70" fill="#6048b8" opacity="0.83"/><circle cx="456.9" cy="270.5" r="0.59" fill="#6048b8" opacity="0.69"/><circle cx="520.3" cy="316.4" r="0.81" fill="#7a64cc" opacity="0.68"/><circle cx="434.8" cy="270.5" r="0.96" fill="#6048b8" opacity="0.56"/><circle cx="465.2" cy="315.4" r="0.65" fill="#5640ae" opacity="0.61"/><circle cx="516.0" cy="292.4" r="0.81" fill="#5640ae" opacity="0.64"/><circle cx="457.4" cy="335.2" r="0.80" fill="#6048b8" opacity="0.50"/><circle cx="459.9" cy="244.1" r="0.52" fill="#7a64cc" opacity="0.87"/><circle cx="461.5" cy="258.3" r="0.69" fill="#5640ae" opacity="0.59"/><circle cx="426.1" cy="283.5" r="0.68" fill="#6048b8" opacity="0.74"/><circle cx="453.3" cy="281.4" r="0.47" fill="#7a64cc" opacity="0.75"/><circle cx="433.8" cy="272.0" r="0.58" fill="#5640ae" opacity="0.58"/><circle cx="436.5" cy="284.9" r="0.56" fill="#6a52c4" opacity="0.52"/><circle cx="515.3" cy="296.1" r="0.93" fill="#6048b8" opacity="0.83"/><circle cx="435.3" cy="279.2" r="0.80" fill="#6a52c4" opacity="0.71"/><circle cx="448.6" cy="324.0" r="0.55" fill="#6a52c4" opacity="0.79"/><circle cx="490.1" cy="333.9" r="0.80" fill="#6a52c4" opacity="0.59"/><circle cx="461.0" cy="313.5" r="0.77" fill="#7a64cc" opacity="0.67"/><circle cx="477.8" cy="313.4" r="0.92" fill="#6048b8" opacity="0.60"/><circle cx="446.2" cy="289.0" r="0.77" fill="#6a52c4" opacity="0.73"/><circle cx="509.0" cy="272.9" r="0.74" fill="#5640ae" opacity="0.79"/><circle cx="520.1" cy="282.0" r="0.81" fill="#6048b8" opacity="0.72"/><circle cx="483.6" cy="242.0" r="0.59" fill="#7a64cc" opacity="0.73"/><circle cx="441.3" cy="325.7" r="0.99" fill="#6048b8" opacity="0.82"/><circle cx="484.5" cy="336.4" r="0.50" fill="#5640ae" opacity="0.52"/><circle cx="483.8" cy="326.6" r="0.87" fill="#6a52c4" opacity="0.84"/><circle cx="481.0" cy="287.9" r="0.85" fill="#7a64cc" opacity="0.82"/><circle cx="452.7" cy="307.3" r="0.97" fill="#7a64cc" opacity="0.87"/><circle cx="458.4" cy="268.7" r="0.72" fill="#5640ae" opacity="0.64"/><circle cx="453.6" cy="247.1" r="0.57" fill="#5640ae" opacity="0.86"/><circle cx="443.3" cy="276.5" r="0.95" fill="#6048b8" opacity="0.70"/><circle cx="458.5" cy="270.0" r="0.80" fill="#6a52c4" opacity="0.74"/><circle cx="430.3" cy="276.3" r="0.71" fill="#5640ae" opacity="0.90"/><circle cx="430.8" cy="301.3" r="0.69" fill="#6a52c4" opacity="0.59"/><circle cx="471.1" cy="241.5" r="0.71" fill="#7a64cc" opacity="0.80"/><circle cx="461.5" cy="255.1" r="0.53" fill="#6048b8" opacity="0.55"/><circle cx="479.7" cy="305.1" r="0.52" fill="#7a64cc" opacity="0.78"/><circle cx="473.5" cy="273.6" r="0.93" fill="#7a64cc" opacity="0.59"/><circle cx="514.3" cy="283.7" r="0.51" fill="#7a64cc" opacity="0.75"/><circle cx="446.6" cy="272.6" r="0.77" fill="#7a64cc" opacity="0.73"/><circle cx="444.3" cy="281.5" r="0.55" fill="#6a52c4" opacity="0.72"/><circle cx="463.8" cy="271.7" r="0.94" fill="#7a64cc" opacity="0.82"/><circle cx="515.9" cy="279.6" r="0.73" fill="#5640ae" opacity="0.69"/><circle cx="437.9" cy="276.8" r="0.71" fill="#6048b8" opacity="0.78"/><circle cx="493.0" cy="266.3" r="0.81" fill="#6a52c4" opacity="0.87"/><circle cx="469.0" cy="330.4" r="0.52" fill="#6a52c4" opacity="0.59"/><circle cx="431.3" cy="268.2" r="0.67" fill="#5640ae" opacity="0.54"/><circle cx="499.6" cy="255.7" r="0.69" fill="#5640ae" opacity="0.90"/><circle cx="427.0" cy="278.5" r="0.93" fill="#5640ae" opacity="0.56"/><circle cx="435.1" cy="272.8" r="0.49" fill="#5640ae" opacity="0.58"/><circle cx="506.5" cy="286.6" r="0.88" fill="#5640ae" opacity="0.73"/><circle cx="468.0" cy="305.5" r="0.46" fill="#7a64cc" opacity="0.58"/><circle cx="474.4" cy="281.2" r="0.69" fill="#7a64cc" opacity="0.55"/><circle cx="483.6" cy="296.4" r="0.53" fill="#5640ae" opacity="0.72"/><circle cx="449.5" cy="330.8" r="0.96" fill="#6a52c4" opacity="0.70"/><circle cx="442.1" cy="270.2" r="0.57" fill="#5640ae" opacity="0.59"/><circle cx="442.3" cy="297.9" r="0.90" fill="#6a52c4" opacity="0.80"/><circle cx="452.5" cy="303.0" r="0.85" fill="#7a64cc" opacity="0.81"/><circle cx="522.3" cy="311.2" r="0.94" fill="#7a64cc" opacity="0.55"/><circle cx="463.8" cy="249.8" r="0.53" fill="#7a64cc" opacity="0.84"/><circle cx="516.1" cy="274.6" r="0.51" fill="#6a52c4" opacity="0.86"/><circle cx="471.5" cy="304.1" r="0.69" fill="#6a52c4" opacity="0.60"/><circle cx="429.3" cy="304.3" r="0.75" fill="#5640ae" opacity="0.87"/><circle cx="441.3" cy="294.3" r="0.85" fill="#6048b8" opacity="0.63"/><circle cx="440.1" cy="276.4" r="0.87" fill="#7a64cc" opacity="0.55"/><circle cx="448.9" cy="254.7" r="0.52" fill="#6048b8" opacity="0.68"/><circle cx="469.9" cy="299.7" r="0.50" fill="#6048b8" opacity="0.74"/><circle cx="496.7" cy="336.8" r="0.55" fill="#6048b8" opacity="0.70"/><circle cx="519.0" cy="307.7" r="0.68" fill="#6048b8" opacity="0.50"/><circle cx="458.3" cy="335.6" r="0.89" fill="#5640ae" opacity="0.87"/><circle cx="490.8" cy="327.9" r="0.54" fill="#6a52c4" opacity="0.52"/><circle cx="443.6" cy="319.3" r="0.47" fill="#6048b8" opacity="0.51"/><circle cx="433.7" cy="270.8" r="0.79" fill="#6048b8" opacity="0.65"/><circle cx="508.8" cy="308.5" r="0.85" fill="#6a52c4" opacity="0.60"/><circle cx="503.8" cy="255.5" r="0.98" fill="#6a52c4" opacity="0.90"/><circle cx="437.7" cy="277.1" r="0.46" fill="#5640ae" opacity="0.51"/><circle cx="461.9" cy="294.4" r="0.92" fill="#6a52c4" opacity="0.78"/><circle cx="452.7" cy="268.4" r="0.74" fill="#7a64cc" opacity="0.50"/><circle cx="491.7" cy="337.0" r="0.65" fill="#5640ae" opacity="0.88"/><circle cx="441.9" cy="301.6" r="0.90" fill="#6a52c4" opacity="0.76"/><circle cx="481.3" cy="327.9" r="0.56" fill="#7a64cc" opacity="0.59"/><circle cx="499.6" cy="335.7" r="0.46" fill="#6a52c4" opacity="0.54"/><circle cx="436.9" cy="301.4" r="0.74" fill="#7a64cc" opacity="0.76"/><circle cx="506.1" cy="254.3" r="0.47" fill="#6a52c4" opacity="0.86"/><circle cx="518.6" cy="290.5" r="0.73" fill="#7a64cc" opacity="0.70"/><circle cx="504.0" cy="318.3" r="0.46" fill="#6a52c4" opacity="0.63"/><circle cx="444.6" cy="301.9" r="0.45" fill="#5640ae" opacity="0.81"/><circle cx="455.7" cy="273.7" r="0.89" fill="#5640ae" opacity="0.53"/><circle cx="454.2" cy="322.9" r="0.88" fill="#5640ae" opacity="0.78"/><circle cx="457.7" cy="336.3" r="0.73" fill="#6a52c4" opacity="0.72"/><circle cx="471.7" cy="256.8" r="0.70" fill="#5640ae" opacity="0.56"/><circle cx="492.5" cy="244.1" r="0.67" fill="#6048b8" opacity="0.79"/><circle cx="510.1" cy="304.2" r="0.51" fill="#7a64cc" opacity="0.60"/><circle cx="468.9" cy="318.6" r="0.93" fill="#6a52c4" opacity="0.83"/><circle cx="461.5" cy="245.7" r="0.53" fill="#6048b8" opacity="0.72"/><circle cx="448.1" cy="251.5" r="0.75" fill="#6048b8" opacity="0.72"/><circle cx="427.0" cy="284.1" r="0.85" fill="#6048b8" opacity="0.90"/><circle cx="458.1" cy="261.8" r="0.66" fill="#7a64cc" opacity="0.59"/><circle cx="455.1" cy="324.1" r="0.52" fill="#5640ae" opacity="0.62"/><circle cx="480.5" cy="332.5" r="0.89" fill="#5640ae" opacity="0.71"/><circle cx="484.2" cy="298.6" r="0.52" fill="#7a64cc" opacity="0.76"/><circle cx="473.9" cy="278.7" r="0.53" fill="#5640ae" opacity="0.66"/><circle cx="472.1" cy="328.4" r="0.68" fill="#6048b8" opacity="0.88"/><circle cx="501.4" cy="293.8" r="0.99" fill="#6a52c4" opacity="0.50"/><circle cx="513.8" cy="258.7" r="0.88" fill="#7a64cc" opacity="0.66"/><circle cx="451.2" cy="284.1" r="0.51" fill="#6a52c4" opacity="0.60"/><circle cx="458.2" cy="328.0" r="0.51" fill="#5640ae" opacity="0.73"/><circle cx="507.0" cy="327.4" r="0.57" fill="#5640ae" opacity="0.88"/><circle cx="528.5" cy="296.0" r="0.73" fill="#6a52c4" opacity="0.72"/><circle cx="513.5" cy="279.5" r="0.91" fill="#6a52c4" opacity="0.71"/><circle cx="499.9" cy="316.7" r="0.59" fill="#6a52c4" opacity="0.86"/><circle cx="483.5" cy="243.6" r="0.90" fill="#6a52c4" opacity="0.68"/><circle cx="458.2" cy="314.3" r="0.95" fill="#6a52c4" opacity="0.53"/><circle cx="523.0" cy="266.7" r="0.91" fill="#6048b8" opacity="0.60"/><circle cx="512.5" cy="300.8" r="0.64" fill="#6048b8" opacity="0.58"/><circle cx="485.1" cy="339.3" r="0.95" fill="#6048b8" opacity="0.80"/><circle cx="493.0" cy="252.6" r="0.91" fill="#5640ae" opacity="0.62"/><circle cx="472.7" cy="332.8" r="0.46" fill="#6a52c4" opacity="0.59"/><circle cx="520.7" cy="291.2" r="0.78" fill="#6a52c4" opacity="0.64"/><circle cx="424.3" cy="281.1" r="0.86" fill="#6a52c4" opacity="0.67"/><circle cx="464.7" cy="253.9" r="0.65" fill="#6a52c4" opacity="0.70"/><circle cx="473.1" cy="256.1" r="0.76" fill="#6a52c4" opacity="0.53"/><circle cx="463.8" cy="243.8" r="0.85" fill="#6a52c4" opacity="0.88"/><circle cx="510.0" cy="283.3" r="0.59" fill="#5640ae" opacity="0.59"/><circle cx="444.2" cy="326.8" r="0.87" fill="#7a64cc" opacity="0.58"/><circle cx="495.7" cy="261.8" r="0.97" fill="#5640ae" opacity="0.78"/><circle cx="475.3" cy="262.5" r="0.82" fill="#7a64cc" opacity="0.83"/><circle cx="511.2" cy="322.9" r="0.53" fill="#7a64cc" opacity="0.53"/><circle cx="472.7" cy="251.1" r="0.90" fill="#6a52c4" opacity="0.66"/><circle cx="464.2" cy="300.2" r="0.64" fill="#6a52c4" opacity="0.65"/><circle cx="465.9" cy="253.2" r="0.87" fill="#6048b8" opacity="0.87"/><circle cx="505.7" cy="263.7" r="0.63" fill="#6a52c4" opacity="0.61"/><circle cx="486.9" cy="257.5" r="0.55" fill="#7a64cc" opacity="0.75"/><circle cx="457.1" cy="254.2" r="0.60" fill="#7a64cc" opacity="0.69"/><circle cx="521.2" cy="287.6" r="0.57" fill="#5640ae" opacity="0.52"/><circle cx="432.4" cy="275.9" r="0.50" fill="#6a52c4" opacity="0.88"/><circle cx="461.0" cy="244.4" r="0.71" fill="#6a52c4" opacity="0.59"/><circle cx="424.7" cy="295.3" r="0.60" fill="#6048b8" opacity="0.61"/><circle cx="454.2" cy="308.5" r="0.92" fill="#6048b8" opacity="0.78"/><circle cx="476.4" cy="245.5" r="0.46" fill="#6a52c4" opacity="0.81"/><circle cx="487.5" cy="264.6" r="0.64" fill="#7a64cc" opacity="0.66"/><circle cx="465.4" cy="247.0" r="0.69" fill="#6a52c4" opacity="0.81"/><circle cx="458.2" cy="257.9" r="0.74" fill="#6048b8" opacity="0.64"/><circle cx="492.4" cy="316.5" r="0.45" fill="#5640ae" opacity="0.53"/><circle cx="514.3" cy="257.1" r="0.97" fill="#7a64cc" opacity="0.52"/><circle cx="508.9" cy="280.6" r="0.95" fill="#6048b8" opacity="0.53"/><circle cx="480.6" cy="267.6" r="0.48" fill="#5640ae" opacity="0.87"/><circle cx="425.7" cy="286.0" r="0.99" fill="#7a64cc" opacity="0.62"/><circle cx="444.3" cy="303.5" r="0.63" fill="#5640ae" opacity="0.68"/><circle cx="477.6" cy="245.1" r="0.56" fill="#5640ae" opacity="0.80"/><circle cx="459.3" cy="284.5" r="0.78" fill="#6048b8" opacity="0.58"/><circle cx="442.0" cy="261.0" r="0.71" fill="#6048b8" opacity="0.71"/><circle cx="475.1" cy="289.1" r="0.75" fill="#6a52c4" opacity="0.57"/><circle cx="507.7" cy="296.4" r="0.87" fill="#6a52c4" opacity="0.67"/><circle cx="460.7" cy="295.3" r="0.72" fill="#6a52c4" opacity="0.67"/><circle cx="458.6" cy="294.1" r="0.58" fill="#6048b8" opacity="0.86"/><circle cx="441.7" cy="287.7" r="0.66" fill="#6048b8" opacity="0.67"/><circle cx="461.6" cy="257.0" r="0.60" fill="#5640ae" opacity="0.81"/><circle cx="498.1" cy="262.3" r="0.63" fill="#6a52c4" opacity="0.89"/><circle cx="432.8" cy="309.6" r="0.82" fill="#6048b8" opacity="0.67"/><circle cx="473.7" cy="328.0" r="0.80" fill="#5640ae" opacity="0.86"/><circle cx="459.5" cy="299.7" r="0.79" fill="#5640ae" opacity="0.54"/><circle cx="433.1" cy="291.5" r="0.98" fill="#6048b8" opacity="0.90"/><circle cx="464.9" cy="308.1" r="0.66" fill="#6a52c4" opacity="0.58"/><circle cx="473.9" cy="252.1" r="0.99" fill="#7a64cc" opacity="0.63"/><circle cx="526.2" cy="292.8" r="0.47" fill="#5640ae" opacity="0.86"/><circle cx="476.6" cy="248.6" r="0.81" fill="#6048b8" opacity="0.61"/><circle cx="428.0" cy="276.7" r="0.76" fill="#6a52c4" opacity="0.53"/><circle cx="509.7" cy="309.9" r="0.73" fill="#6a52c4" opacity="0.70"/><circle cx="512.5" cy="271.9" r="0.71" fill="#6a52c4" opacity="0.58"/><circle cx="471.9" cy="338.4" r="0.98" fill="#5640ae" opacity="0.89"/><circle cx="425.3" cy="280.4" r="0.96" fill="#6a52c4" opacity="0.51"/><circle cx="449.2" cy="250.4" r="0.95" fill="#7a64cc" opacity="0.58"/><circle cx="457.0" cy="250.3" r="0.81" fill="#7a64cc" opacity="0.83"/><circle cx="512.4" cy="300.7" r="1.00" fill="#5640ae" opacity="0.64"/><circle cx="477.0" cy="240.8" r="0.48" fill="#6048b8" opacity="0.71"/><circle cx="479.8" cy="258.0" r="0.84" fill="#6048b8" opacity="0.77"/><circle cx="508.1" cy="309.6" r="0.78" fill="#6a52c4" opacity="0.50"/><circle cx="439.0" cy="299.7" r="0.83" fill="#5640ae" opacity="0.74"/><circle cx="445.4" cy="281.5" r="0.75" fill="#7a64cc" opacity="0.87"/><circle cx="442.9" cy="254.9" r="0.92" fill="#7a64cc" opacity="0.65"/><circle cx="477.6" cy="266.0" r="0.83" fill="#5640ae" opacity="0.69"/><circle cx="487.7" cy="303.0" r="0.92" fill="#5640ae" opacity="0.72"/><circle cx="428.5" cy="271.8" r="0.76" fill="#6048b8" opacity="0.61"/><circle cx="486.5" cy="285.2" r="0.64" fill="#7a64cc" opacity="0.55"/><circle cx="525.8" cy="284.8" r="0.82" fill="#6a52c4" opacity="0.59"/><circle cx="457.4" cy="260.2" r="0.92" fill="#6048b8" opacity="0.52"/><circle cx="520.8" cy="266.7" r="0.55" fill="#6048b8" opacity="0.78"/><circle cx="472.1" cy="332.1" r="0.79" fill="#6a52c4" opacity="0.89"/><circle cx="456.8" cy="260.8" r="0.55" fill="#6048b8" opacity="0.68"/><circle cx="514.0" cy="304.6" r="0.81" fill="#5640ae" opacity="0.54"/><circle cx="458.5" cy="278.5" r="0.64" fill="#5640ae" opacity="0.84"/><circle cx="517.3" cy="308.9" r="0.88" fill="#6a52c4" opacity="0.66"/><circle cx="522.1" cy="318.0" r="0.65" fill="#6a52c4" opacity="0.64"/><circle cx="464.6" cy="323.1" r="0.89" fill="#5640ae" opacity="0.67"/><circle cx="479.4" cy="316.6" r="0.50" fill="#6048b8" opacity="0.82"/><circle cx="427.1" cy="275.3" r="0.55" fill="#7a64cc" opacity="0.80"/><circle cx="525.5" cy="284.7" r="0.48" fill="#5640ae" opacity="0.77"/><circle cx="499.1" cy="314.4" r="0.76" fill="#6048b8" opacity="0.66"/><circle cx="501.8" cy="247.3" r="0.78" fill="#5640ae" opacity="0.82"/><circle cx="486.9" cy="249.7" r="0.87" fill="#6048b8" opacity="0.74"/><circle cx="468.7" cy="264.8" r="0.69" fill="#6a52c4" opacity="0.85"/><circle cx="480.8" cy="248.9" r="0.45" fill="#7a64cc" opacity="0.84"/><circle cx="504.0" cy="312.8" r="0.98" fill="#7a64cc" opacity="0.58"/><circle cx="491.3" cy="321.0" r="0.73" fill="#5640ae" opacity="0.85"/><circle cx="463.0" cy="244.0" r="0.73" fill="#7a64cc" opacity="0.88"/><circle cx="435.2" cy="275.3" r="0.89" fill="#5640ae" opacity="0.75"/><circle cx="520.8" cy="301.5" r="0.67" fill="#7a64cc" opacity="0.72"/><circle cx="503.9" cy="253.8" r="0.53" fill="#6a52c4" opacity="0.64"/><circle cx="430.3" cy="294.4" r="0.99" fill="#7a64cc" opacity="0.71"/><circle cx="506.6" cy="326.3" r="0.69" fill="#5640ae" opacity="0.76"/><circle cx="517.5" cy="289.6" r="0.47" fill="#7a64cc" opacity="0.73"/><circle cx="471.4" cy="257.9" r="0.76" fill="#6048b8" opacity="0.52"/><circle cx="508.8" cy="313.1" r="0.70" fill="#7a64cc" opacity="0.69"/><circle cx="461.3" cy="262.4" r="0.58" fill="#7a64cc" opacity="0.76"/><circle cx="441.7" cy="315.3" r="0.83" fill="#7a64cc" opacity="0.71"/><circle cx="435.9" cy="303.3" r="0.84" fill="#6048b8" opacity="0.59"/><circle cx="440.9" cy="276.6" r="0.88" fill="#6a52c4" opacity="0.60"/><circle cx="471.8" cy="295.6" r="0.90" fill="#7a64cc" opacity="0.61"/><circle cx="436.4" cy="287.8" r="0.63" fill="#5640ae" opacity="0.63"/><circle cx="496.2" cy="249.8" r="0.88" fill="#6048b8" opacity="0.63"/><circle cx="488.1" cy="268.5" r="0.54" fill="#6a52c4" opacity="0.67"/><circle cx="510.9" cy="301.5" r="0.88" fill="#5640ae" opacity="0.61"/><circle cx="449.8" cy="331.7" r="0.91" fill="#6048b8" opacity="0.82"/><circle cx="518.5" cy="295.9" r="0.57" fill="#6048b8" opacity="0.58"/><circle cx="470.1" cy="254.4" r="0.51" fill="#6048b8" opacity="0.51"/><circle cx="490.2" cy="254.7" r="0.89" fill="#6a52c4" opacity="0.65"/><circle cx="435.7" cy="301.8" r="0.47" fill="#7a64cc" opacity="0.56"/><circle cx="521.6" cy="283.7" r="0.89" fill="#5640ae" opacity="0.53"/><circle cx="501.5" cy="256.2" r="0.77" fill="#6048b8" opacity="0.76"/><circle cx="524.7" cy="290.6" r="0.59" fill="#5640ae" opacity="0.84"/><circle cx="529.8" cy="282.5" r="0.96" fill="#6a52c4" opacity="0.88"/><circle cx="459.3" cy="333.3" r="0.73" fill="#6048b8" opacity="0.57"/><circle cx="519.0" cy="280.7" r="0.53" fill="#6a52c4" opacity="0.64"/><circle cx="448.8" cy="299.6" r="0.99" fill="#5640ae" opacity="0.58"/><circle cx="452.1" cy="308.2" r="0.68" fill="#5640ae" opacity="0.68"/><circle cx="456.7" cy="318.9" r="0.94" fill="#6048b8" opacity="0.83"/><circle cx="526.1" cy="274.3" r="0.72" fill="#6a52c4" opacity="0.86"/><circle cx="485.5" cy="338.6" r="0.48" fill="#7a64cc" opacity="0.59"/><circle cx="463.9" cy="300.4" r="0.69" fill="#5640ae" opacity="0.84"/><circle cx="513.2" cy="299.1" r="0.87" fill="#6048b8" opacity="0.86"/><circle cx="448.5" cy="303.8" r="0.64" fill="#6a52c4" opacity="0.78"/><circle cx="466.1" cy="249.5" r="1.00" fill="#7a64cc" opacity="0.67"/><circle cx="527.1" cy="289.2" r="0.93" fill="#6048b8" opacity="0.80"/><circle cx="519.3" cy="264.9" r="0.54" fill="#6048b8" opacity="0.59"/><circle cx="483.0" cy="251.8" r="0.64" fill="#7a64cc" opacity="0.61"/><circle cx="514.4" cy="258.2" r="0.89" fill="#6048b8" opacity="0.62"/><circle cx="476.3" cy="282.7" r="0.80" fill="#6048b8" opacity="0.87"/><circle cx="438.5" cy="272.7" r="0.68" fill="#6a52c4" opacity="0.69"/><circle cx="442.2" cy="276.0" r="0.94" fill="#5640ae" opacity="0.58"/><circle cx="442.2" cy="253.9" r="1.00" fill="#6048b8" opacity="0.72"/><circle cx="459.3" cy="253.7" r="0.65" fill="#5640ae" opacity="0.77"/><circle cx="441.6" cy="313.3" r="0.99" fill="#7a64cc" opacity="0.72"/><circle cx="446.0" cy="329.2" r="0.97" fill="#6048b8" opacity="0.67"/><circle cx="482.5" cy="261.1" r="0.60" fill="#6048b8" opacity="0.77"/><circle cx="511.2" cy="254.4" r="0.89" fill="#6a52c4" opacity="0.58"/><circle cx="516.3" cy="259.6" r="0.68" fill="#5640ae" opacity="0.87"/><circle cx="519.3" cy="269.2" r="1.00" fill="#5640ae" opacity="0.75"/><circle cx="441.5" cy="259.3" r="0.46" fill="#6a52c4" opacity="0.65"/><circle cx="524.3" cy="280.8" r="0.67" fill="#6048b8" opacity="0.87"/><circle cx="484.5" cy="334.7" r="0.67" fill="#5640ae" opacity="0.88"/><circle cx="442.3" cy="297.6" r="0.82" fill="#7a64cc" opacity="0.51"/><circle cx="430.1" cy="291.1" r="0.53" fill="#6048b8" opacity="0.86"/><circle cx="530.0" cy="295.4" r="0.54" fill="#5640ae" opacity="0.74"/><circle cx="504.9" cy="265.5" r="0.96" fill="#5640ae" opacity="0.57"/><circle cx="475.3" cy="264.6" r="0.54" fill="#7a64cc" opacity="0.67"/><circle cx="529.3" cy="294.3" r="0.47" fill="#7a64cc" opacity="0.82"/><circle cx="436.7" cy="303.5" r="0.80" fill="#6a52c4" opacity="0.60"/><circle cx="526.1" cy="295.8" r="0.51" fill="#6a52c4" opacity="0.79"/><circle cx="497.5" cy="257.9" r="0.50" fill="#7a64cc" opacity="0.88"/><circle cx="482.2" cy="338.0" r="0.55" fill="#7a64cc" opacity="0.61"/><circle cx="441.7" cy="253.3" r="0.68" fill="#7a64cc" opacity="0.70"/><circle cx="463.3" cy="292.0" r="0.51" fill="#5640ae" opacity="0.84"/><circle cx="477.3" cy="338.1" r="0.75" fill="#7a64cc" opacity="0.52"/><circle cx="450.0" cy="253.0" r="0.91" fill="#5640ae" opacity="0.64"/><circle cx="433.4" cy="263.6" r="0.93" fill="#5640ae" opacity="0.59"/><circle cx="464.6" cy="270.9" r="1.00" fill="#5640ae" opacity="0.53"/><circle cx="501.7" cy="326.4" r="0.50" fill="#7a64cc" opacity="0.79"/><circle cx="470.2" cy="337.7" r="0.80" fill="#7a64cc" opacity="0.85"/><circle cx="510.4" cy="266.9" r="0.62" fill="#5640ae" opacity="0.72"/><circle cx="513.0" cy="260.4" r="0.68" fill="#6048b8" opacity="0.55"/><circle cx="436.0" cy="266.1" r="0.51" fill="#6048b8" opacity="0.76"/><circle cx="523.6" cy="297.2" r="0.58" fill="#5640ae" opacity="0.61"/><circle cx="470.7" cy="334.8" r="0.55" fill="#6a52c4" opacity="0.65"/><circle cx="479.3" cy="254.7" r="0.95" fill="#6a52c4" opacity="0.78"/><circle cx="507.9" cy="255.7" r="0.89" fill="#6048b8" opacity="0.73"/><circle cx="498.9" cy="313.2" r="0.53" fill="#5640ae" opacity="0.67"/><circle cx="477.0" cy="273.0" r="0.90" fill="#7a64cc" opacity="0.62"/><circle cx="527.9" cy="307.8" r="0.64" fill="#7a64cc" opacity="0.74"/><circle cx="471.9" cy="249.7" r="0.94" fill="#5640ae" opacity="0.87"/><circle cx="462.0" cy="327.1" r="0.50" fill="#6048b8" opacity="0.65"/><circle cx="496.2" cy="317.3" r="0.56" fill="#6048b8" opacity="0.76"/><circle cx="477.4" cy="294.7" r="0.79" fill="#5640ae" opacity="0.85"/><circle cx="528.0" cy="306.8" r="0.69" fill="#5640ae" opacity="0.83"/><circle cx="470.0" cy="274.8" r="0.94" fill="#5640ae" opacity="0.87"/><circle cx="459.0" cy="261.0" r="0.67" fill="#6a52c4" opacity="0.87"/><circle cx="455.0" cy="267.9" r="0.67" fill="#6a52c4" opacity="0.88"/><circle cx="473.4" cy="265.7" r="0.58" fill="#6a52c4" opacity="0.63"/><circle cx="482.6" cy="320.3" r="0.68" fill="#6a52c4" opacity="0.75"/><circle cx="443.4" cy="312.0" r="0.85" fill="#7a64cc" opacity="0.79"/><circle cx="440.3" cy="280.9" r="0.89" fill="#7a64cc" opacity="0.80"/><circle cx="520.0" cy="304.2" r="0.89" fill="#6a52c4" opacity="0.55"/><circle cx="452.1" cy="312.8" r="0.60" fill="#7a64cc" opacity="0.63"/><circle cx="459.2" cy="327.2" r="0.59" fill="#7a64cc" opacity="0.84"/><circle cx="482.0" cy="242.6" r="0.58" fill="#6a52c4" opacity="0.87"/><circle cx="430.4" cy="311.4" r="0.46" fill="#5640ae" opacity="0.78"/><circle cx="502.4" cy="247.4" r="0.51" fill="#7a64cc" opacity="0.79"/><circle cx="481.1" cy="287.6" r="0.51" fill="#6a52c4" opacity="0.65"/><circle cx="480.0" cy="322.9" r="0.77" fill="#5640ae" opacity="0.71"/><circle cx="525.8" cy="276.1" r="0.96" fill="#6048b8" opacity="0.59"/><circle cx="442.0" cy="319.6" r="0.61" fill="#6048b8" opacity="0.80"/><circle cx="462.4" cy="302.9" r="0.73" fill="#6048b8" opacity="0.63"/><circle cx="496.6" cy="274.3" r="0.66" fill="#7a64cc" opacity="0.72"/><circle cx="486.7" cy="320.4" r="0.51" fill="#5640ae" opacity="0.65"/><circle cx="482.0" cy="269.7" r="0.66" fill="#6a52c4" opacity="0.69"/><circle cx="520.8" cy="282.5" r="0.85" fill="#6a52c4" opacity="0.67"/><circle cx="494.5" cy="306.9" r="0.51" fill="#5640ae" opacity="0.66"/><circle cx="457.0" cy="328.1" r="0.83" fill="#6048b8" opacity="0.74"/><circle cx="456.0" cy="277.3" r="0.94" fill="#5640ae" opacity="0.66"/><circle cx="445.2" cy="264.0" r="0.66" fill="#6048b8" opacity="0.74"/><circle cx="490.1" cy="260.2" r="0.63" fill="#6048b8" opacity="0.81"/><circle cx="497.8" cy="306.7" r="0.57" fill="#6048b8" opacity="0.66"/><circle cx="440.5" cy="318.7" r="0.66" fill="#6048b8" opacity="0.90"/><circle cx="467.8" cy="324.0" r="0.68" fill="#6a52c4" opacity="0.53"/><circle cx="515.3" cy="279.5" r="0.72" fill="#7a64cc" opacity="0.73"/><circle cx="496.0" cy="329.1" r="0.81" fill="#5640ae" opacity="0.67"/><circle cx="496.2" cy="259.2" r="0.77" fill="#6048b8" opacity="0.51"/><circle cx="492.3" cy="246.2" r="0.86" fill="#7a64cc" opacity="0.52"/><circle cx="475.2" cy="253.4" r="0.78" fill="#6a52c4" opacity="0.86"/><circle cx="464.2" cy="247.3" r="0.96" fill="#6048b8" opacity="0.69"/><circle cx="521.4" cy="282.8" r="0.89" fill="#5640ae" opacity="0.84"/><circle cx="461.0" cy="311.7" r="0.80" fill="#6a52c4" opacity="0.79"/><circle cx="472.0" cy="245.6" r="0.75" fill="#6048b8" opacity="0.59"/><circle cx="485.2" cy="320.9" r="0.70" fill="#6a52c4" opacity="0.65"/><circle cx="456.8" cy="266.5" r="0.95" fill="#6a52c4" opacity="0.52"/><circle cx="437.8" cy="276.5" r="0.50" fill="#6a52c4" opacity="0.81"/><circle cx="451.4" cy="331.7" r="0.92" fill="#6048b8" opacity="0.69"/><circle cx="461.4" cy="337.1" r="0.48" fill="#5640ae" opacity="0.79"/><circle cx="474.5" cy="338.1" r="0.71" fill="#6a52c4" opacity="0.72"/><circle cx="507.8" cy="315.4" r="0.62" fill="#6a52c4" opacity="0.69"/><circle cx="456.2" cy="248.1" r="0.99" fill="#6a52c4" opacity="0.51"/><circle cx="507.5" cy="253.1" r="0.63" fill="#5640ae" opacity="0.72"/><circle cx="439.0" cy="299.5" r="0.47" fill="#6048b8" opacity="0.84"/><circle cx="474.5" cy="255.3" r="0.53" fill="#6a52c4" opacity="0.58"/><circle cx="477.9" cy="265.4" r="0.82" fill="#6048b8" opacity="0.73"/><circle cx="447.8" cy="248.8" r="0.69" fill="#5640ae" opacity="0.78"/><circle cx="501.4" cy="251.6" r="0.94" fill="#5640ae" opacity="0.59"/><circle cx="460.6" cy="257.0" r="0.64" fill="#6a52c4" opacity="0.58"/><circle cx="448.6" cy="255.6" r="0.78" fill="#7a64cc" opacity="0.59"/><circle cx="482.0" cy="325.5" r="0.60" fill="#6a52c4" opacity="0.70"/><circle cx="484.1" cy="282.0" r="0.61" fill="#6048b8" opacity="0.82"/><circle cx="480.2" cy="241.9" r="0.78" fill="#5640ae" opacity="0.56"/><circle cx="469.0" cy="286.9" r="0.61" fill="#6048b8" opacity="0.85"/><circle cx="479.8" cy="293.6" r="0.67" fill="#5640ae" opacity="0.57"/><circle cx="501.1" cy="328.0" r="0.66" fill="#6048b8" opacity="0.52"/><circle cx="517.2" cy="261.2" r="0.48" fill="#6048b8" opacity="0.72"/><circle cx="492.1" cy="268.2" r="0.90" fill="#7a64cc" opacity="0.75"/><circle cx="440.1" cy="303.7" r="0.78" fill="#6048b8" opacity="0.77"/><circle cx="498.1" cy="323.9" r="0.80" fill="#7a64cc" opacity="0.75"/><circle cx="462.7" cy="314.2" r="0.98" fill="#6a52c4" opacity="0.76"/><circle cx="485.6" cy="326.2" r="0.95" fill="#5640ae" opacity="0.87"/><circle cx="518.0" cy="270.6" r="0.95" fill="#5640ae" opacity="0.74"/><circle cx="478.7" cy="253.7" r="0.57" fill="#5640ae" opacity="0.68"/><circle cx="501.8" cy="326.7" r="0.88" fill="#7a64cc" opacity="0.67"/><circle cx="453.4" cy="319.9" r="0.76" fill="#6a52c4" opacity="0.81"/><circle cx="485.9" cy="339.6" r="0.62" fill="#6048b8" opacity="0.67"/><circle cx="436.8" cy="310.3" r="0.97" fill="#6a52c4" opacity="0.73"/><circle cx="485.8" cy="318.9" r="0.88" fill="#7a64cc" opacity="0.58"/><circle cx="516.1" cy="322.4" r="0.99" fill="#5640ae" opacity="0.82"/><circle cx="484.1" cy="329.1" r="0.63" fill="#7a64cc" opacity="0.57"/><circle cx="494.9" cy="244.6" r="0.46" fill="#7a64cc" opacity="0.54"/><circle cx="451.5" cy="308.2" r="0.81" fill="#6a52c4" opacity="0.71"/><circle cx="486.3" cy="327.5" r="0.57" fill="#7a64cc" opacity="0.82"/><circle cx="495.6" cy="316.6" r="0.78" fill="#6048b8" opacity="0.86"/><circle cx="519.2" cy="275.7" r="0.75" fill="#6a52c4" opacity="0.74"/><circle cx="455.3" cy="320.0" r="0.73" fill="#6a52c4" opacity="0.62"/><circle cx="445.1" cy="312.5" r="0.70" fill="#6048b8" opacity="0.83"/><circle cx="441.5" cy="317.1" r="0.87" fill="#7a64cc" opacity="0.72"/><circle cx="439.2" cy="264.4" r="0.53" fill="#7a64cc" opacity="0.90"/><circle cx="447.2" cy="321.3" r="0.91" fill="#7a64cc" opacity="0.55"/><circle cx="428.4" cy="295.4" r="0.77" fill="#6a52c4" opacity="0.84"/><circle cx="454.3" cy="260.1" r="0.63" fill="#6048b8" opacity="0.87"/><circle cx="451.0" cy="305.9" r="0.98" fill="#5640ae" opacity="0.69"/><circle cx="471.7" cy="255.0" r="0.60" fill="#7a64cc" opacity="0.54"/><circle cx="455.7" cy="333.3" r="0.79" fill="#6a52c4" opacity="0.71"/><circle cx="528.3" cy="274.3" r="0.59" fill="#6a52c4" opacity="0.85"/><circle cx="501.4" cy="257.0" r="0.52" fill="#6a52c4" opacity="0.86"/><circle cx="517.4" cy="293.2" r="0.68" fill="#5640ae" opacity="0.55"/><circle cx="442.6" cy="267.4" r="0.98" fill="#5640ae" opacity="0.73"/><circle cx="431.3" cy="283.6" r="0.79" fill="#6a52c4" opacity="0.62"/><circle cx="509.8" cy="252.7" r="0.79" fill="#7a64cc" opacity="0.76"/><circle cx="471.9" cy="256.9" r="0.66" fill="#7a64cc" opacity="0.88"/><circle cx="487.6" cy="247.2" r="0.56" fill="#6a52c4" opacity="0.66"/><circle cx="527.6" cy="307.1" r="0.99" fill="#7a64cc" opacity="0.83"/><circle cx="527.9" cy="296.2" r="0.95" fill="#7a64cc" opacity="0.88"/><circle cx="487.7" cy="287.2" r="0.78" fill="#6a52c4" opacity="0.87"/><circle cx="517.6" cy="309.6" r="0.51" fill="#6048b8" opacity="0.64"/><circle cx="499.4" cy="277.5" r="0.87" fill="#6048b8" opacity="0.82"/><circle cx="491.6" cy="248.4" r="0.45" fill="#6a52c4" opacity="0.50"/><circle cx="519.5" cy="283.1" r="0.96" fill="#5640ae" opacity="0.89"/><circle cx="495.2" cy="259.4" r="0.52" fill="#6048b8" opacity="0.69"/><circle cx="479.1" cy="306.2" r="0.85" fill="#7a64cc" opacity="0.90"/><circle cx="427.0" cy="295.6" r="0.59" fill="#5640ae" opacity="0.84"/><circle cx="511.9" cy="325.8" r="0.93" fill="#6a52c4" opacity="0.54"/><circle cx="450.4" cy="300.4" r="0.94" fill="#6048b8" opacity="0.77"/><circle cx="492.2" cy="270.2" r="0.79" fill="#5640ae" opacity="0.89"/><circle cx="474.8" cy="255.6" r="0.49" fill="#5640ae" opacity="0.64"/><circle cx="512.9" cy="258.8" r="0.53" fill="#6048b8" opacity="0.60"/><circle cx="487.8" cy="319.5" r="0.61" fill="#7a64cc" opacity="0.73"/><circle cx="471.0" cy="339.8" r="0.72" fill="#7a64cc" opacity="0.66"/><circle cx="461.6" cy="244.1" r="0.46" fill="#6048b8" opacity="0.64"/><circle cx="458.2" cy="316.9" r="0.90" fill="#7a64cc" opacity="0.74"/><circle cx="481.3" cy="339.4" r="0.68" fill="#6a52c4" opacity="0.51"/><circle cx="433.0" cy="290.1" r="0.71" fill="#7a64cc" opacity="0.59"/><circle cx="476.0" cy="248.9" r="0.58" fill="#7a64cc" opacity="0.71"/><circle cx="458.6" cy="271.6" r="0.86" fill="#7a64cc" opacity="0.74"/><circle cx="458.8" cy="247.5" r="0.48" fill="#5640ae" opacity="0.54"/><circle cx="514.8" cy="261.6" r="0.56" fill="#6048b8" opacity="0.86"/><circle cx="452.9" cy="331.1" r="0.45" fill="#6a52c4" opacity="0.87"/><circle cx="442.6" cy="328.3" r="0.87" fill="#5640ae" opacity="0.86"/><circle cx="487.2" cy="319.2" r="0.75" fill="#5640ae" opacity="0.87"/><circle cx="459.9" cy="270.4" r="0.51" fill="#7a64cc" opacity="0.83"/><circle cx="472.0" cy="313.2" r="0.85" fill="#6a52c4" opacity="0.86"/><circle cx="529.2" cy="291.9" r="0.79" fill="#7a64cc" opacity="0.50"/><circle cx="478.7" cy="253.7" r="0.87" fill="#5640ae" opacity="0.56"/><circle cx="450.3" cy="276.0" r="0.63" fill="#5640ae" opacity="0.66"/><circle cx="438.1" cy="270.3" r="0.58" fill="#6048b8" opacity="0.56"/><circle cx="478.6" cy="253.2" r="0.81" fill="#6a52c4" opacity="0.55"/><circle cx="435.2" cy="285.6" r="0.99" fill="#6048b8" opacity="0.57"/><circle cx="445.3" cy="295.2" r="0.47" fill="#6048b8" opacity="0.86"/><circle cx="474.0" cy="312.6" r="0.47" fill="#5640ae" opacity="0.77"/><circle cx="429.7" cy="293.7" r="0.80" fill="#5640ae" opacity="0.70"/><circle cx="441.1" cy="319.8" r="0.68" fill="#6048b8" opacity="0.81"/><circle cx="454.5" cy="317.4" r="0.73" fill="#6048b8" opacity="0.88"/><circle cx="494.9" cy="320.3" r="0.59" fill="#6048b8" opacity="0.73"/><circle cx="436.7" cy="286.5" r="0.93" fill="#6048b8" opacity="0.86"/><circle cx="468.6" cy="279.3" r="0.86" fill="#6a52c4" opacity="0.87"/><circle cx="458.5" cy="332.9" r="0.96" fill="#5640ae" opacity="0.77"/><circle cx="431.4" cy="307.6" r="0.59" fill="#7a64cc" opacity="0.56"/><circle cx="446.2" cy="259.2" r="0.85" fill="#7a64cc" opacity="0.68"/><circle cx="444.9" cy="285.2" r="0.73" fill="#6048b8" opacity="0.86"/><circle cx="500.6" cy="319.6" r="0.82" fill="#6048b8" opacity="0.69"/><circle cx="522.4" cy="285.0" r="0.89" fill="#7a64cc" opacity="0.54"/><circle cx="481.4" cy="330.8" r="0.54" fill="#6048b8" opacity="0.78"/><circle cx="433.2" cy="274.8" r="0.52" fill="#7a64cc" opacity="0.87"/><circle cx="434.9" cy="266.8" r="0.59" fill="#7a64cc" opacity="0.80"/><circle cx="519.4" cy="303.2" r="0.94" fill="#6a52c4" opacity="0.60"/><circle cx="441.3" cy="287.0" r="0.70" fill="#5640ae" opacity="0.89"/><circle cx="518.5" cy="269.2" r="0.91" fill="#6048b8" opacity="0.57"/><circle cx="528.6" cy="280.0" r="0.54" fill="#7a64cc" opacity="0.63"/><circle cx="470.6" cy="279.7" r="0.92" fill="#6a52c4" opacity="0.63"/><circle cx="467.3" cy="322.2" r="0.67" fill="#6a52c4" opacity="0.78"/><circle cx="494.4" cy="304.2" r="0.61" fill="#5640ae" opacity="0.74"/><circle cx="463.9" cy="295.5" r="0.87" fill="#7a64cc" opacity="0.73"/><circle cx="469.9" cy="326.7" r="0.66" fill="#6048b8" opacity="0.88"/><circle cx="473.4" cy="258.8" r="0.82" fill="#5640ae" opacity="0.89"/><circle cx="498.0" cy="305.6" r="0.84" fill="#5640ae" opacity="0.65"/><circle cx="434.1" cy="303.8" r="0.84" fill="#6048b8" opacity="0.75"/><circle cx="527.6" cy="278.0" r="0.55" fill="#7a64cc" opacity="0.55"/><circle cx="530.0" cy="290.7" r="0.97" fill="#6a52c4" opacity="0.60"/><circle cx="492.7" cy="291.3" r="0.66" fill="#6048b8" opacity="0.82"/><circle cx="441.0" cy="270.6" r="0.77" fill="#6048b8" opacity="0.51"/><circle cx="440.1" cy="326.1" r="0.46" fill="#6a52c4" opacity="0.56"/><circle cx="434.0" cy="318.8" r="0.56" fill="#7a64cc" opacity="0.70"/><circle cx="445.7" cy="329.1" r="0.48" fill="#6a52c4" opacity="0.72"/><circle cx="484.0" cy="319.4" r="0.94" fill="#5640ae" opacity="0.59"/><circle cx="482.7" cy="243.3" r="0.80" fill="#5640ae" opacity="0.57"/><circle cx="481.0" cy="328.1" r="0.76" fill="#7a64cc" opacity="0.57"/><circle cx="506.7" cy="330.6" r="0.71" fill="#7a64cc" opacity="0.60"/><circle cx="494.6" cy="276.5" r="0.78" fill="#6048b8" opacity="0.74"/><circle cx="432.2" cy="263.9" r="0.89" fill="#6a52c4" opacity="0.67"/><circle cx="505.9" cy="316.0" r="0.59" fill="#6a52c4" opacity="0.63"/><circle cx="457.1" cy="316.2" r="0.53" fill="#5640ae" opacity="0.83"/><circle cx="463.5" cy="247.9" r="0.70" fill="#6a52c4" opacity="0.59"/><circle cx="448.8" cy="260.6" r="0.81" fill="#5640ae" opacity="0.89"/><circle cx="502.0" cy="271.9" r="0.98" fill="#6a52c4" opacity="0.68"/><circle cx="486.3" cy="254.0" r="0.56" fill="#7a64cc" opacity="0.59"/><circle cx="446.6" cy="331.4" r="0.83" fill="#5640ae" opacity="0.70"/><circle cx="429.9" cy="280.4" r="0.70" fill="#5640ae" opacity="0.81"/><circle cx="495.7" cy="310.5" r="0.59" fill="#7a64cc" opacity="0.65"/><circle cx="435.6" cy="266.0" r="0.65" fill="#6a52c4" opacity="0.78"/><circle cx="525.8" cy="284.2" r="0.79" fill="#6a52c4" opacity="0.55"/><circle cx="439.1" cy="307.5" r="0.57" fill="#7a64cc" opacity="0.69"/><circle cx="444.8" cy="261.6" r="0.72" fill="#6048b8" opacity="0.72"/><circle cx="518.6" cy="309.9" r="0.50" fill="#5640ae" opacity="0.90"/><circle cx="437.0" cy="286.4" r="0.83" fill="#6a52c4" opacity="0.66"/><circle cx="453.3" cy="319.0" r="0.62" fill="#5640ae" opacity="0.76"/><circle cx="495.8" cy="245.9" r="0.68" fill="#6048b8" opacity="0.66"/><circle cx="498.4" cy="244.8" r="0.71" fill="#6a52c4" opacity="0.87"/><circle cx="484.1" cy="337.4" r="0.84" fill="#6a52c4" opacity="0.63"/><circle cx="434.1" cy="293.7" r="0.87" fill="#7a64cc" opacity="0.77"/><circle cx="451.6" cy="271.0" r="0.71" fill="#5640ae" opacity="0.66"/><circle cx="493.2" cy="251.2" r="0.81" fill="#6a52c4" opacity="0.59"/><circle cx="498.1" cy="313.8" r="0.65" fill="#6048b8" opacity="0.72"/><circle cx="472.1" cy="256.5" r="0.61" fill="#6a52c4" opacity="0.70"/><circle cx="520.2" cy="307.5" r="0.81" fill="#5640ae" opacity="0.59"/><circle cx="499.3" cy="330.0" r="0.69" fill="#6a52c4" opacity="0.69"/><circle cx="492.7" cy="258.6" r="0.91" fill="#5640ae" opacity="0.66"/><circle cx="483.2" cy="250.4" r="0.52" fill="#6048b8" opacity="0.86"/><circle cx="491.2" cy="264.7" r="0.92" fill="#6a52c4" opacity="0.51"/><circle cx="450.3" cy="285.7" r="0.79" fill="#5640ae" opacity="0.50"/><circle cx="445.4" cy="257.3" r="0.65" fill="#7a64cc" opacity="0.52"/><circle cx="498.1" cy="279.1" r="0.87" fill="#5640ae" opacity="0.57"/><circle cx="506.7" cy="317.8" r="0.73" fill="#6a52c4" opacity="0.54"/><circle cx="438.8" cy="300.7" r="0.90" fill="#6048b8" opacity="0.62"/><circle cx="446.9" cy="258.4" r="0.60" fill="#6a52c4" opacity="0.59"/><circle cx="437.7" cy="286.4" r="0.54" fill="#6048b8" opacity="0.71"/><circle cx="521.5" cy="263.1" r="0.72" fill="#7a64cc" opacity="0.52"/><circle cx="462.7" cy="324.2" r="0.84" fill="#5640ae" opacity="0.70"/><circle cx="530.2" cy="300.5" r="0.99" fill="#6a52c4" opacity="0.75"/><circle cx="438.6" cy="272.4" r="0.99" fill="#7a64cc" opacity="0.57"/><circle cx="475.3" cy="261.8" r="0.67" fill="#7a64cc" opacity="0.76"/><circle cx="474.9" cy="257.4" r="0.48" fill="#7a64cc" opacity="0.70"/><circle cx="457.0" cy="266.8" r="0.62" fill="#5640ae" opacity="0.55"/><circle cx="450.9" cy="281.4" r="0.68" fill="#6048b8" opacity="0.65"/><circle cx="503.6" cy="330.6" r="0.64" fill="#7a64cc" opacity="0.81"/><circle cx="439.7" cy="269.9" r="0.95" fill="#6a52c4" opacity="0.53"/><circle cx="466.9" cy="288.7" r="0.53" fill="#6048b8" opacity="0.83"/><circle cx="495.5" cy="246.7" r="0.49" fill="#5640ae" opacity="0.66"/><circle cx="431.7" cy="296.8" r="0.56" fill="#7a64cc" opacity="0.75"/><circle cx="481.8" cy="276.4" r="0.47" fill="#7a64cc" opacity="0.79"/><circle cx="451.1" cy="313.8" r="0.63" fill="#6a52c4" opacity="0.64"/><circle cx="437.4" cy="316.9" r="0.78" fill="#6a52c4" opacity="0.65"/><circle cx="493.2" cy="331.0" r="0.71" fill="#5640ae" opacity="0.64"/><circle cx="520.2" cy="263.0" r="0.68" fill="#5640ae" opacity="0.73"/><circle cx="499.8" cy="249.0" r="0.92" fill="#6048b8" opacity="0.55"/><circle cx="447.4" cy="331.7" r="0.97" fill="#7a64cc" opacity="0.58"/><circle cx="429.7" cy="278.1" r="0.46" fill="#6a52c4" opacity="0.58"/><circle cx="500.8" cy="334.9" r="0.61" fill="#6048b8" opacity="0.72"/><circle cx="459.9" cy="309.3" r="0.50" fill="#7a64cc" opacity="0.76"/><circle cx="455.4" cy="287.9" r="0.58" fill="#6a52c4" opacity="0.62"/><circle cx="450.7" cy="261.6" r="0.76" fill="#6048b8" opacity="0.77"/><circle cx="445.1" cy="285.9" r="0.80" fill="#6048b8" opacity="0.73"/><circle cx="441.7" cy="270.5" r="0.66" fill="#5640ae" opacity="0.66"/><circle cx="458.7" cy="273.1" r="0.78" fill="#6a52c4" opacity="0.74"/><circle cx="445.7" cy="283.0" r="0.92" fill="#5640ae" opacity="0.65"/><circle cx="495.2" cy="315.3" r="0.80" fill="#6a52c4" opacity="0.79"/><circle cx="501.3" cy="309.4" r="0.87" fill="#5640ae" opacity="0.78"/><circle cx="429.2" cy="311.4" r="0.53" fill="#6a52c4" opacity="0.64"/><circle cx="472.5" cy="276.5" r="0.88" fill="#7a64cc" opacity="0.79"/><circle cx="456.5" cy="261.2" r="0.81" fill="#5640ae" opacity="0.67"/><circle cx="456.6" cy="293.9" r="0.86" fill="#6a52c4" opacity="0.65"/><circle cx="456.7" cy="328.8" r="0.55" fill="#6a52c4" opacity="0.60"/><circle cx="511.0" cy="318.7" r="0.45" fill="#7a64cc" opacity="0.50"/><circle cx="486.4" cy="279.2" r="0.52" fill="#6048b8" opacity="0.75"/><circle cx="457.1" cy="259.8" r="0.76" fill="#5640ae" opacity="0.63"/><circle cx="447.2" cy="324.4" r="0.65" fill="#7a64cc" opacity="0.63"/><circle cx="478.8" cy="248.4" r="0.67" fill="#6048b8" opacity="0.57"/><circle cx="439.3" cy="255.1" r="0.58" fill="#7a64cc" opacity="0.58"/><circle cx="482.1" cy="247.4" r="0.68" fill="#5640ae" opacity="0.89"/><circle cx="459.9" cy="246.2" r="0.80" fill="#6048b8" opacity="0.88"/><circle cx="490.0" cy="294.2" r="0.48" fill="#6a52c4" opacity="0.74"/><circle cx="439.6" cy="260.6" r="0.48" fill="#6048b8" opacity="0.73"/><circle cx="469.8" cy="269.8" r="0.95" fill="#6a52c4" opacity="0.51"/><circle cx="450.2" cy="265.0" r="0.52" fill="#6048b8" opacity="0.51"/><circle cx="480.6" cy="264.3" r="0.85" fill="#5640ae" opacity="0.89"/><circle cx="524.8" cy="275.4" r="0.99" fill="#5640ae" opacity="0.73"/><circle cx="467.2" cy="282.7" r="0.96" fill="#6a52c4" opacity="0.73"/><circle cx="482.6" cy="268.0" r="0.62" fill="#6048b8" opacity="0.54"/><circle cx="522.2" cy="270.1" r="0.84" fill="#5640ae" opacity="0.62"/><circle cx="503.1" cy="275.4" r="0.76" fill="#6048b8" opacity="0.80"/><circle cx="471.7" cy="256.7" r="0.93" fill="#6a52c4" opacity="0.78"/><circle cx="477.2" cy="339.3" r="0.86" fill="#5640ae" opacity="0.62"/><circle cx="480.7" cy="336.0" r="0.75" fill="#6048b8" opacity="0.77"/><circle cx="450.7" cy="250.3" r="0.99" fill="#5640ae" opacity="0.87"/><circle cx="458.5" cy="332.3" r="0.67" fill="#6048b8" opacity="0.72"/><circle cx="439.0" cy="323.3" r="0.62" fill="#6048b8" opacity="0.57"/><circle cx="499.6" cy="280.1" r="0.82" fill="#5640ae" opacity="0.88"/><circle cx="512.8" cy="327.6" r="0.90" fill="#7a64cc" opacity="0.63"/><circle cx="482.0" cy="286.0" r="0.90" fill="#6048b8" opacity="0.60"/><circle cx="448.4" cy="266.5" r="0.99" fill="#7a64cc" opacity="0.57"/><circle cx="473.2" cy="328.4" r="0.50" fill="#7a64cc" opacity="0.73"/><circle cx="483.5" cy="242.5" r="0.97" fill="#6a52c4" opacity="0.88"/><circle cx="495.7" cy="322.1" r="0.57" fill="#5640ae" opacity="0.85"/><circle cx="481.7" cy="334.7" r="0.71" fill="#6048b8" opacity="0.58"/><circle cx="506.9" cy="324.6" r="0.53" fill="#6048b8" opacity="0.89"/><circle cx="527.1" cy="301.6" r="0.65" fill="#6048b8" opacity="0.51"/><circle cx="451.7" cy="250.1" r="0.82" fill="#6048b8" opacity="0.52"/><circle cx="465.4" cy="267.8" r="0.47" fill="#6a52c4" opacity="0.90"/><circle cx="489.8" cy="254.7" r="0.73" fill="#5640ae" opacity="0.61"/><circle cx="469.6" cy="318.3" r="0.77" fill="#7a64cc" opacity="0.79"/><circle cx="520.6" cy="295.9" r="0.90" fill="#6a52c4" opacity="0.79"/><circle cx="499.6" cy="268.6" r="0.87" fill="#7a64cc" opacity="0.74"/><circle cx="460.0" cy="328.5" r="0.46" fill="#6a52c4" opacity="0.57"/><circle cx="475.7" cy="280.6" r="0.74" fill="#7a64cc" opacity="0.89"/><circle cx="502.1" cy="255.3" r="0.72" fill="#6a52c4" opacity="0.58"/><circle cx="473.2" cy="311.5" r="0.98" fill="#6048b8" opacity="0.75"/><circle cx="425.2" cy="300.1" r="0.77" fill="#5640ae" opacity="0.84"/><circle cx="472.5" cy="240.9" r="0.79" fill="#6a52c4" opacity="0.66"/><circle cx="444.1" cy="324.9" r="0.59" fill="#6a52c4" opacity="0.85"/><circle cx="429.0" cy="304.1" r="0.46" fill="#5640ae" opacity="0.63"/><circle cx="469.3" cy="293.9" r="0.72" fill="#5640ae" opacity="0.78"/><circle cx="517.6" cy="310.9" r="0.80" fill="#6a52c4" opacity="0.63"/><circle cx="458.3" cy="283.1" r="0.52" fill="#5640ae" opacity="0.83"/><circle cx="462.3" cy="251.1" r="0.85" fill="#6a52c4" opacity="0.79"/><circle cx="525.2" cy="274.9" r="0.88" fill="#6a52c4" opacity="0.54"/><circle cx="439.4" cy="264.0" r="0.53" fill="#6048b8" opacity="0.87"/><circle cx="491.0" cy="314.6" r="0.71" fill="#6a52c4" opacity="0.68"/><circle cx="511.3" cy="255.4" r="0.88" fill="#6a52c4" opacity="0.55"/><circle cx="467.5" cy="267.5" r="0.66" fill="#5640ae" opacity="0.54"/><circle cx="437.6" cy="309.3" r="0.89" fill="#7a64cc" opacity="0.88"/><circle cx="506.7" cy="318.0" r="0.52" fill="#6048b8" opacity="0.51"/><circle cx="526.9" cy="273.6" r="0.88" fill="#6048b8" opacity="0.75"/><circle cx="434.8" cy="304.2" r="0.86" fill="#6a52c4" opacity="0.83"/><circle cx="474.9" cy="324.0" r="0.47" fill="#7a64cc" opacity="0.59"/><circle cx="451.1" cy="328.3" r="0.79" fill="#6a52c4" opacity="0.57"/><circle cx="442.2" cy="275.0" r="0.75" fill="#6a52c4" opacity="0.54"/><circle cx="496.2" cy="264.0" r="0.99" fill="#6a52c4" opacity="0.57"/><circle cx="513.2" cy="296.9" r="0.94" fill="#5640ae" opacity="0.84"/><circle cx="508.1" cy="253.8" r="0.98" fill="#6048b8" opacity="0.90"/><circle cx="437.6" cy="317.3" r="0.86" fill="#5640ae" opacity="0.60"/><circle cx="527.9" cy="301.3" r="0.67" fill="#5640ae" opacity="0.56"/><circle cx="443.9" cy="304.1" r="0.84" fill="#7a64cc" opacity="0.53"/><circle cx="488.2" cy="256.1" r="0.49" fill="#6048b8" opacity="0.56"/><circle cx="496.3" cy="300.4" r="0.56" fill="#7a64cc" opacity="0.74"/><circle cx="476.6" cy="262.7" r="0.54" fill="#7a64cc" opacity="0.63"/><circle cx="468.7" cy="270.2" r="0.74" fill="#5640ae" opacity="0.85"/><circle cx="476.1" cy="315.4" r="0.79" fill="#7a64cc" opacity="0.59"/><circle cx="439.6" cy="307.3" r="0.74" fill="#7a64cc" opacity="0.83"/><circle cx="502.3" cy="291.9" r="0.71" fill="#6a52c4" opacity="0.77"/><circle cx="528.0" cy="305.4" r="0.90" fill="#5640ae" opacity="0.57"/><circle cx="485.0" cy="317.0" r="0.60" fill="#6048b8" opacity="0.57"/><circle cx="491.0" cy="337.5" r="0.54" fill="#6a52c4" opacity="0.68"/><circle cx="485.3" cy="264.4" r="0.52" fill="#6048b8" opacity="0.75"/><circle cx="467.9" cy="259.9" r="0.45" fill="#6048b8" opacity="0.65"/><circle cx="482.1" cy="244.0" r="0.49" fill="#7a64cc" opacity="0.83"/><circle cx="466.6" cy="280.4" r="0.81" fill="#6048b8" opacity="0.58"/><circle cx="493.1" cy="336.9" r="0.93" fill="#6048b8" opacity="0.70"/><circle cx="462.6" cy="338.3" r="0.86" fill="#6a52c4" opacity="0.86"/><circle cx="482.7" cy="303.0" r="0.59" fill="#6a52c4" opacity="0.81"/><circle cx="530.2" cy="288.9" r="0.69" fill="#5640ae" opacity="0.88"/><circle cx="500.5" cy="258.4" r="0.57" fill="#7a64cc" opacity="0.69"/><circle cx="485.1" cy="316.6" r="0.63" fill="#6a52c4" opacity="0.82"/><circle cx="432.2" cy="287.4" r="0.78" fill="#5640ae" opacity="0.67"/><circle cx="501.0" cy="257.7" r="0.71" fill="#6048b8" opacity="0.74"/><circle cx="506.4" cy="258.3" r="0.98" fill="#6048b8" opacity="0.76"/><circle cx="436.3" cy="319.9" r="0.83" fill="#7a64cc" opacity="0.54"/><circle cx="440.9" cy="326.3" r="0.94" fill="#5640ae" opacity="0.72"/><circle cx="495.4" cy="294.3" r="0.97" fill="#7a64cc" opacity="0.57"/><circle cx="491.4" cy="244.2" r="0.51" fill="#5640ae" opacity="0.70"/><circle cx="469.0" cy="254.0" r="0.97" fill="#6a52c4" opacity="0.82"/><circle cx="434.5" cy="313.1" r="0.76" fill="#7a64cc" opacity="0.77"/><circle cx="466.7" cy="246.2" r="0.70" fill="#5640ae" opacity="0.88"/><circle cx="491.3" cy="248.7" r="0.89" fill="#5640ae" opacity="0.59"/><circle cx="459.7" cy="259.1" r="0.88" fill="#6a52c4" opacity="0.58"/><circle cx="504.9" cy="330.4" r="0.66" fill="#6048b8" opacity="0.56"/><circle cx="442.9" cy="266.8" r="0.90" fill="#7a64cc" opacity="0.52"/><circle cx="446.5" cy="331.2" r="0.97" fill="#5640ae" opacity="0.74"/><circle cx="430.3" cy="271.9" r="0.59" fill="#7a64cc" opacity="0.71"/><circle cx="458.2" cy="252.6" r="0.55" fill="#6048b8" opacity="0.85"/><circle cx="452.5" cy="296.9" r="0.72" fill="#5640ae" opacity="0.89"/><circle cx="453.8" cy="307.8" r="0.86" fill="#7a64cc" opacity="0.50"/><circle cx="516.7" cy="258.0" r="0.98" fill="#6048b8" opacity="0.72"/></g>
</g></g>
<clipPath id="ec1"><rect x="421" y="346.5" width="116.8" height="105.4"/></clipPath>
<g clip-path="url(#ec1)">
<rect x="421" y="346.5" width="116.8" height="105.4" fill="#d3d2da"/>
<ellipse cx="479.8" cy="400.0" rx="59.7" ry="53.7" fill="#c6c3d8" stroke="#b4aed0" stroke-width="1.4"/>
<ellipse cx="479.8" cy="400.0" rx="57.2" ry="51.2" fill="none" stroke="#a89fcf" stroke-width="0.9"/>
<clipPath id="ec1i"><ellipse cx="479.8" cy="400.0" rx="55.2" ry="49.2"/></clipPath>
<g clip-path="url(#ec1i)">
<rect x="421" y="346.5" width="116.8" height="105.4" fill="#5c46c0"/>
<ellipse cx="487.8" cy="402.0" rx="47.2" ry="43.2" fill="url(#lightC)"/>
<rect x="421" y="346.5" width="116.8" height="105.4" filter="url(#mottleD)" opacity="0.35"/>
<rect x="421" y="346.5" width="116.8" height="105.4" filter="url(#speck2)" opacity="0.45"/>
<ellipse cx="479.8" cy="400.0" rx="57.2" ry="51.2" fill="none" stroke="#4e3cb4" stroke-width="5" opacity="0.55" filter="url(#blur1)"/>
</g></g>
<line x1="591.0" y1="294.0" x2="591.0" y2="407.6" stroke="#000" stroke-width="1.2"/>
<line x1="590.4" y1="407.0" x2="667" y2="407.0" stroke="#000" stroke-width="1.2"/>
<line x1="586.0" y1="407.0" x2="591.0" y2="407.0" stroke="#000" stroke-width="1.2"/>
<text x="585.3" y="410.0" font-size="8.4" font-weight="bold" text-anchor="end" fill="#000">0</text>
<line x1="586.0" y1="369.53333333333336" x2="591.0" y2="369.53333333333336" stroke="#000" stroke-width="1.2"/>
<text x="585.3" y="372.53333333333336" font-size="8.4" font-weight="bold" text-anchor="end" fill="#000">200</text>
<line x1="586.0" y1="332.06666666666666" x2="591.0" y2="332.06666666666666" stroke="#000" stroke-width="1.2"/>
<text x="585.3" y="335.06666666666666" font-size="8.4" font-weight="bold" text-anchor="end" fill="#000">400</text>
<line x1="586.0" y1="294.6" x2="591.0" y2="294.6" stroke="#000" stroke-width="1.2"/>
<text x="585.3" y="297.6" font-size="8.4" font-weight="bold" text-anchor="end" fill="#000">600</text>
<rect x="602.9499999999999" y="350.32599999999996" width="20.2" height="56.674000000000014" fill="#7ab4fa" stroke="#000" stroke-width="1.3"/>
<line x1="613.05" y1="407.0" x2="613.05" y2="411.2" stroke="#000" stroke-width="1.2"/>
<line x1="613.05" y1="353.048" x2="613.05" y2="344.99266666666665" stroke="#000" stroke-width="0.9"/>
<line x1="607.3499999999999" y1="353.048" x2="618.75" y2="353.048" stroke="#000" stroke-width="0.9"/>
<line x1="607.3499999999999" y1="344.99266666666665" x2="618.75" y2="344.99266666666665" stroke="#000" stroke-width="0.9"/>
<circle cx="612.8" cy="345.55" r="1.9" fill="#000"/>
<circle cx="610.6" cy="348.40" r="1.9" fill="#000"/>
<circle cx="615.0" cy="353.20" r="1.9" fill="#000"/>
<text x="615.5" y="420.0" font-size="8.5" font-weight="bold" text-anchor="end" fill="#000" transform="rotate(-45 615.5 420.0)">glioma-E</text>
<rect x="635.25" y="313.60866666666664" width="19.999999999999954" height="93.39133333333334" fill="#f780a3" stroke="#000" stroke-width="1.3"/>
<line x1="645.25" y1="407.0" x2="645.25" y2="411.2" stroke="#000" stroke-width="1.2"/>
<line x1="645.25" y1="315.956" x2="645.25" y2="308.20040000000006" stroke="#000" stroke-width="0.9"/>
<line x1="639.55" y1="315.956" x2="650.95" y2="315.956" stroke="#000" stroke-width="0.9"/>
<line x1="639.55" y1="308.20040000000006" x2="650.95" y2="308.20040000000006" stroke="#000" stroke-width="0.9"/>
<rect x="643.15" y="305.86" width="3.7" height="3.7" fill="#000"/>
<rect x="641.05" y="311.86" width="3.7" height="3.7" fill="#000"/>
<rect x="645.05" y="314.05" width="3.7" height="3.7" fill="#000"/>
<text x="647" y="420.5" font-size="8.5" font-weight="bold" text-anchor="end" fill="#000" transform="rotate(-45 647 420.5)">glioma-D</text>
<polyline points="612.1,298.0 612.1,292.8 646.3,292.8 646.3,298.0" fill="none" stroke="#000" stroke-width="1.3"/>
<polygon points="621.70,282.65 622.31,284.04 623.82,283.88 622.93,285.10 623.82,286.33 622.31,286.16 621.70,287.55 621.09,286.16 619.58,286.33 620.48,285.10 619.58,283.88 621.09,284.04" fill="#000" stroke="#000" stroke-width="0.35" stroke-linejoin="round"/>
<polygon points="628.50,282.65 629.11,284.04 630.62,283.88 629.73,285.10 630.62,286.33 629.11,286.16 628.50,287.55 627.89,286.16 626.38,286.33 627.27,285.10 626.38,283.88 627.89,284.04" fill="#000" stroke="#000" stroke-width="0.35" stroke-linejoin="round"/>
<polygon points="635.40,282.65 636.01,284.04 637.52,283.88 636.62,285.10 637.52,286.33 636.01,286.16 635.40,287.55 634.79,286.16 633.28,286.33 634.17,285.10 633.28,283.88 634.79,284.04" fill="#000" stroke="#000" stroke-width="0.35" stroke-linejoin="round"/>
<text x="565.0" y="348.6" font-size="9.4" font-weight="bold" text-anchor="middle" fill="#000" transform="rotate(-90 565.0 348.6)">Number of cell clones</text>
</svg>
</body></html>
